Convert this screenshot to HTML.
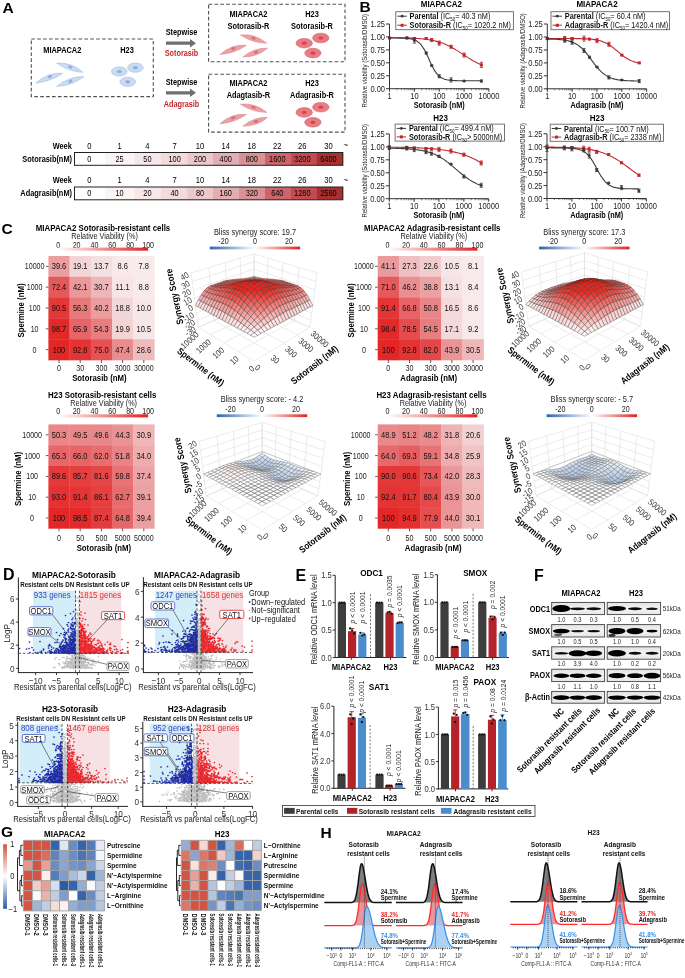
<!DOCTYPE html>
<html><head><meta charset="utf-8"><title>Figure</title>
<style>
html,body{margin:0;padding:0;background:#fff;}
body{width:685px;height:978px;overflow:hidden;}
svg{display:block;will-change:transform;font-family:"Liberation Sans", sans-serif;}
</style></head><body>
<svg width="685" height="978" viewBox="0 0 685 978">
<g id="panelA">
<text y="5.4" font-size="15.5" font-weight="bold" transform="translate(2.4 7.6)">A</text>
<rect x="31.3" y="39" width="122" height="57.6" fill="none" stroke="#505050" stroke-width="1.1" stroke-dasharray="3.6 2.3"/>
<rect x="208.6" y="4.3" width="136.4" height="57.5" fill="none" stroke="#505050" stroke-width="1.1" stroke-dasharray="3.6 2.3"/>
<rect x="208.6" y="74.3" width="136.4" height="57.8" fill="none" stroke="#505050" stroke-width="1.1" stroke-dasharray="3.6 2.3"/>
<text y="3" font-size="8.58" text-anchor="middle" font-weight="bold" transform="translate(62.3 50.3) scale(0.862 1)">MIAPACA2</text>
<text y="3" font-size="8.58" text-anchor="middle" font-weight="bold" transform="translate(127 50.3) scale(0.862 1)">H23</text>
<path d="M35.8 83Q51.5 81.3 62.6 73.3Q48.1 71.9 35.8 83Z" fill="#c9dcf1" stroke="#9dbbe0" stroke-width="0.6"/><ellipse cx="49.8" cy="76.6" rx="2.2" ry="1.4" fill="#8eb0da" transform="rotate(-19.9 49.8 76.6)"/>
<path d="M56.7 63.1Q68.6 71.7 83 72.3Q72 62.3 56.7 63.1Z" fill="#c9dcf1" stroke="#9dbbe0" stroke-width="0.6"/><ellipse cx="70.3" cy="67" rx="2.2" ry="1.4" fill="#8eb0da" transform="rotate(19.3 70.3 67)"/>
<path d="M56.7 86.4Q72 85.9 83.8 76.6Q68.6 76.5 56.7 86.4Z" fill="#c9dcf1" stroke="#9dbbe0" stroke-width="0.6"/><ellipse cx="70.3" cy="81.2" rx="2.2" ry="1.4" fill="#8eb0da" transform="rotate(-19.9 70.3 81.2)"/>
<ellipse cx="119.3" cy="71.5" rx="7.8" ry="4.6" fill="#c9dcf1" stroke="#9dbbe0" stroke-width="0.6"/><ellipse cx="119.3" cy="71.5" rx="2.6" ry="1.6" fill="#8eb0da"/>
<ellipse cx="135.4" cy="67.7" rx="7.8" ry="4.6" fill="#c9dcf1" stroke="#9dbbe0" stroke-width="0.6"/><ellipse cx="135.4" cy="67.7" rx="2.6" ry="1.6" fill="#8eb0da"/>
<ellipse cx="127.7" cy="81.8" rx="7.8" ry="4.6" fill="#c9dcf1" stroke="#9dbbe0" stroke-width="0.6"/><ellipse cx="127.7" cy="81.8" rx="2.6" ry="1.6" fill="#8eb0da"/>
<path d="M220 54.6Q234.9 53.3 246.4 45.3Q231.5 43.9 220 54.6Z" fill="#eaa0a4" stroke="#dc8a8f" stroke-width="0.6"/><ellipse cx="233.2" cy="48.6" rx="2.2" ry="1.4" fill="#dc6f76" transform="rotate(-19.4 233.2 48.6)"/>
<path d="M240.5 35Q252.1 43 266.8 43.2Q255.1 33.4 240.5 35Z" fill="#eaa0a4" stroke="#dc8a8f" stroke-width="0.6"/><ellipse cx="253.6" cy="38.2" rx="2.2" ry="1.4" fill="#dc6f76" transform="rotate(17.3 253.6 38.2)"/>
<path d="M242.8 57Q257.7 56.9 267.4 48.2Q254.3 47.5 242.8 57Z" fill="#eaa0a4" stroke="#dc8a8f" stroke-width="0.6"/><ellipse cx="256" cy="52.2" rx="2.2" ry="1.4" fill="#dc6f76" transform="rotate(-19.7 256 52.2)"/>
<ellipse cx="304.2" cy="43.2" rx="8.2" ry="4.8" fill="#e77c82" stroke="#d8646b" stroke-width="0.6"/><ellipse cx="304.2" cy="43.2" rx="2.6" ry="1.6" fill="#d2474f"/>
<ellipse cx="320.8" cy="38" rx="8.2" ry="4.8" fill="#e77c82" stroke="#d8646b" stroke-width="0.6"/><ellipse cx="320.8" cy="38" rx="2.6" ry="1.6" fill="#d2474f"/>
<ellipse cx="312.9" cy="53.1" rx="8.2" ry="4.8" fill="#e77c82" stroke="#d8646b" stroke-width="0.6"/><ellipse cx="312.9" cy="53.1" rx="2.6" ry="1.6" fill="#d2474f"/>
<path d="M220 123.8Q234.9 122.5 246.4 114.5Q231.5 113.1 220 123.8Z" fill="#eaa0a4" stroke="#dc8a8f" stroke-width="0.6"/><ellipse cx="233.2" cy="117.8" rx="2.2" ry="1.4" fill="#dc6f76" transform="rotate(-19.4 233.2 117.8)"/>
<path d="M240.5 104.2Q252.1 112.2 266.8 112.4Q255.1 102.6 240.5 104.2Z" fill="#eaa0a4" stroke="#dc8a8f" stroke-width="0.6"/><ellipse cx="253.6" cy="107.4" rx="2.2" ry="1.4" fill="#dc6f76" transform="rotate(17.3 253.6 107.4)"/>
<path d="M242.8 126.2Q257.7 126.1 267.4 117.4Q254.3 116.7 242.8 126.2Z" fill="#eaa0a4" stroke="#dc8a8f" stroke-width="0.6"/><ellipse cx="256" cy="121.4" rx="2.2" ry="1.4" fill="#dc6f76" transform="rotate(-19.7 256 121.4)"/>
<ellipse cx="304.2" cy="112.4" rx="8.2" ry="4.8" fill="#e77c82" stroke="#d8646b" stroke-width="0.6"/><ellipse cx="304.2" cy="112.4" rx="2.6" ry="1.6" fill="#d2474f"/>
<ellipse cx="320.8" cy="107.2" rx="8.2" ry="4.8" fill="#e77c82" stroke="#d8646b" stroke-width="0.6"/><ellipse cx="320.8" cy="107.2" rx="2.6" ry="1.6" fill="#d2474f"/>
<ellipse cx="312.9" cy="122.3" rx="8.2" ry="4.8" fill="#e77c82" stroke="#d8646b" stroke-width="0.6"/><ellipse cx="312.9" cy="122.3" rx="2.6" ry="1.6" fill="#d2474f"/>
<text y="3" font-size="8.58" text-anchor="middle" font-weight="bold" transform="translate(248.4 14) scale(0.862 1)">MIAPACA2</text>
<text y="3" font-size="8.58" text-anchor="middle" font-weight="bold" transform="translate(248.4 25.7) scale(0.862 1)">Sotorasib-R</text>
<text y="3" font-size="8.58" text-anchor="middle" font-weight="bold" transform="translate(312 14) scale(0.862 1)">H23</text>
<text y="3" font-size="8.58" text-anchor="middle" font-weight="bold" transform="translate(312 25.7) scale(0.862 1)">Sotorasib-R</text>
<text y="3" font-size="8.58" text-anchor="middle" font-weight="bold" transform="translate(248.4 82.8) scale(0.862 1)">MIAPACA2</text>
<text y="3" font-size="8.58" text-anchor="middle" font-weight="bold" transform="translate(248.4 94.5) scale(0.862 1)">Adagtasib-R</text>
<text y="3" font-size="8.58" text-anchor="middle" font-weight="bold" transform="translate(312 82.8) scale(0.862 1)">H23</text>
<text y="3" font-size="8.58" text-anchor="middle" font-weight="bold" transform="translate(312 94.5) scale(0.862 1)">Adagrasib-R</text>
<text y="3" font-size="8.47" text-anchor="middle" font-weight="bold" transform="translate(181.5 32) scale(0.862 1)">Stepwise</text>
<path d="M166 41.6H190V39L196 43.2L190 47.4V44.8H166Z" fill="#707070"/>
<text y="3" font-size="8.47" text-anchor="middle" font-weight="bold" fill="#c0272d" transform="translate(181.5 53.4) scale(0.862 1)">Sotorasib</text>
<text y="3" font-size="8.47" text-anchor="middle" font-weight="bold" transform="translate(181.5 81.8) scale(0.862 1)">Stepwise</text>
<path d="M166 91.2H190V88.6L196 92.8L190 97V94.4H166Z" fill="#707070"/>
<text y="3" font-size="8.47" text-anchor="middle" font-weight="bold" fill="#c0272d" transform="translate(181.5 103.6) scale(0.862 1)">Adagrasib</text>
<text y="3" font-size="8.58" text-anchor="end" font-weight="bold" transform="translate(71.8 145.6) scale(0.862 1)">Week</text>
<text y="3.1" font-size="8.82" text-anchor="middle" transform="translate(89.4 145.6) scale(0.862 1)">0</text>
<text y="3.1" font-size="8.82" text-anchor="middle" transform="translate(119.6 145.6) scale(0.862 1)">1</text>
<text y="3.1" font-size="8.82" text-anchor="middle" transform="translate(147.4 145.6) scale(0.862 1)">4</text>
<text y="3.1" font-size="8.82" text-anchor="middle" transform="translate(174.6 145.6) scale(0.862 1)">7</text>
<text y="3.1" font-size="8.82" text-anchor="middle" transform="translate(200 145.6) scale(0.862 1)">10</text>
<text y="3.1" font-size="8.82" text-anchor="middle" transform="translate(225.7 145.6) scale(0.862 1)">14</text>
<text y="3.1" font-size="8.82" text-anchor="middle" transform="translate(251.8 145.6) scale(0.862 1)">18</text>
<text y="3.1" font-size="8.82" text-anchor="middle" transform="translate(277.3 145.6) scale(0.862 1)">22</text>
<text y="3.1" font-size="8.82" text-anchor="middle" transform="translate(302.3 145.6) scale(0.862 1)">26</text>
<text y="3.1" font-size="8.82" text-anchor="middle" transform="translate(328.4 145.6) scale(0.862 1)">30</text>
<text y="3.1" font-size="8.82" transform="translate(343.5 144.8) scale(0.862 1)">~</text>
<rect x="74.5" y="152.5" width="30.8" height="12.8" fill="#ffffff"/>
<rect x="105" y="152.5" width="29.8" height="12.8" fill="#fcf3f3"/>
<rect x="134.5" y="152.5" width="26.8" height="12.8" fill="#f8e7e8"/>
<rect x="161" y="152.5" width="26.5" height="12.8" fill="#f3dadc"/>
<rect x="187.2" y="152.5" width="26.1" height="12.8" fill="#ecc8ca"/>
<rect x="213" y="152.5" width="26.3" height="12.8" fill="#e2aeb1"/>
<rect x="239" y="152.5" width="26.3" height="12.8" fill="#d89296"/>
<rect x="265" y="152.5" width="25.9" height="12.8" fill="#cc6469"/>
<rect x="290.6" y="152.5" width="26.3" height="12.8" fill="#c24b51"/>
<rect x="316.6" y="152.5" width="26.5" height="12.8" fill="#a8302f"/>
<rect x="74.5" y="152.5" width="268.3" height="12.8" fill="none" stroke="#222" stroke-width="1"/>
<text y="3" font-size="8.58" text-anchor="end" font-weight="bold" transform="translate(72 158.9) scale(0.862 1)">Sotorasib(nM)</text>
<text y="3" font-size="8.58" text-anchor="middle" transform="translate(89.4 158.9) scale(0.862 1)">0</text>
<text y="3" font-size="8.58" text-anchor="middle" transform="translate(119.6 158.9) scale(0.862 1)">25</text>
<text y="3" font-size="8.58" text-anchor="middle" transform="translate(147.4 158.9) scale(0.862 1)">50</text>
<text y="3" font-size="8.58" text-anchor="middle" transform="translate(174.6 158.9) scale(0.862 1)">100</text>
<text y="3" font-size="8.58" text-anchor="middle" transform="translate(200 158.9) scale(0.862 1)">200</text>
<text y="3" font-size="8.58" text-anchor="middle" transform="translate(225.7 158.9) scale(0.862 1)">400</text>
<text y="3" font-size="8.58" text-anchor="middle" transform="translate(251.8 158.9) scale(0.862 1)">800</text>
<text y="3" font-size="8.58" text-anchor="middle" transform="translate(277.3 158.9) scale(0.862 1)">1600</text>
<text y="3" font-size="8.58" text-anchor="middle" transform="translate(302.3 158.9) scale(0.862 1)">3200</text>
<text y="3" font-size="8.58" text-anchor="middle" transform="translate(328.4 158.9) scale(0.862 1)">6400</text>
<text y="3" font-size="8.58" text-anchor="end" font-weight="bold" transform="translate(71.8 180.2) scale(0.862 1)">Week</text>
<text y="3.1" font-size="8.82" text-anchor="middle" transform="translate(89.4 180.2) scale(0.862 1)">0</text>
<text y="3.1" font-size="8.82" text-anchor="middle" transform="translate(119.6 180.2) scale(0.862 1)">1</text>
<text y="3.1" font-size="8.82" text-anchor="middle" transform="translate(147.4 180.2) scale(0.862 1)">4</text>
<text y="3.1" font-size="8.82" text-anchor="middle" transform="translate(174.6 180.2) scale(0.862 1)">7</text>
<text y="3.1" font-size="8.82" text-anchor="middle" transform="translate(200 180.2) scale(0.862 1)">10</text>
<text y="3.1" font-size="8.82" text-anchor="middle" transform="translate(225.7 180.2) scale(0.862 1)">14</text>
<text y="3.1" font-size="8.82" text-anchor="middle" transform="translate(251.8 180.2) scale(0.862 1)">18</text>
<text y="3.1" font-size="8.82" text-anchor="middle" transform="translate(277.3 180.2) scale(0.862 1)">22</text>
<text y="3.1" font-size="8.82" text-anchor="middle" transform="translate(302.3 180.2) scale(0.862 1)">26</text>
<text y="3.1" font-size="8.82" text-anchor="middle" transform="translate(328.4 180.2) scale(0.862 1)">30</text>
<text y="3.1" font-size="8.82" transform="translate(343.5 179.4) scale(0.862 1)">~</text>
<rect x="74.5" y="187" width="30.8" height="12.8" fill="#ffffff"/>
<rect x="105" y="187" width="29.8" height="12.8" fill="#fcf3f3"/>
<rect x="134.5" y="187" width="26.8" height="12.8" fill="#f8e7e8"/>
<rect x="161" y="187" width="26.5" height="12.8" fill="#f3dadc"/>
<rect x="187.2" y="187" width="26.1" height="12.8" fill="#ecc8ca"/>
<rect x="213" y="187" width="26.3" height="12.8" fill="#e2aeb1"/>
<rect x="239" y="187" width="26.3" height="12.8" fill="#d89296"/>
<rect x="265" y="187" width="25.9" height="12.8" fill="#cc6469"/>
<rect x="290.6" y="187" width="26.3" height="12.8" fill="#c24b51"/>
<rect x="316.6" y="187" width="26.5" height="12.8" fill="#a8302f"/>
<rect x="74.5" y="187" width="268.3" height="12.8" fill="none" stroke="#222" stroke-width="1"/>
<text y="3" font-size="8.58" text-anchor="end" font-weight="bold" transform="translate(72 193.4) scale(0.862 1)">Adagrasib(nM)</text>
<text y="3" font-size="8.58" text-anchor="middle" transform="translate(89.4 193.4) scale(0.862 1)">0</text>
<text y="3" font-size="8.58" text-anchor="middle" transform="translate(119.6 193.4) scale(0.862 1)">10</text>
<text y="3" font-size="8.58" text-anchor="middle" transform="translate(147.4 193.4) scale(0.862 1)">20</text>
<text y="3" font-size="8.58" text-anchor="middle" transform="translate(174.6 193.4) scale(0.862 1)">40</text>
<text y="3" font-size="8.58" text-anchor="middle" transform="translate(200 193.4) scale(0.862 1)">80</text>
<text y="3" font-size="8.58" text-anchor="middle" transform="translate(225.7 193.4) scale(0.862 1)">160</text>
<text y="3" font-size="8.58" text-anchor="middle" transform="translate(251.8 193.4) scale(0.862 1)">320</text>
<text y="3" font-size="8.58" text-anchor="middle" transform="translate(277.3 193.4) scale(0.862 1)">640</text>
<text y="3" font-size="8.58" text-anchor="middle" transform="translate(302.3 193.4) scale(0.862 1)">1280</text>
<text y="3" font-size="8.58" text-anchor="middle" transform="translate(328.4 193.4) scale(0.862 1)">2560</text>
</g>
<g id="panelB">
<text y="5.4" font-size="15.5" font-weight="bold" transform="translate(359.6 6.5)">B</text>
<line x1="389.5" y1="24" x2="389.5" y2="89.2" stroke="#333" stroke-width="1"/>
<line x1="389" y1="88.7" x2="488.9" y2="88.7" stroke="#333" stroke-width="1"/>
<line x1="386" y1="88.7" x2="389.5" y2="88.7" stroke="#333" stroke-width="1"/>
<text y="3" font-size="8.7" text-anchor="end" fill="#222" transform="translate(385 88.7) scale(0.862 1)">0.00</text>
<line x1="386" y1="75.8" x2="389.5" y2="75.8" stroke="#333" stroke-width="1"/>
<text y="3" font-size="8.7" text-anchor="end" fill="#222" transform="translate(385 75.8) scale(0.862 1)">0.25</text>
<line x1="386" y1="62.8" x2="389.5" y2="62.8" stroke="#333" stroke-width="1"/>
<text y="3" font-size="8.7" text-anchor="end" fill="#222" transform="translate(385 62.8) scale(0.862 1)">0.50</text>
<line x1="386" y1="49.9" x2="389.5" y2="49.9" stroke="#333" stroke-width="1"/>
<text y="3" font-size="8.7" text-anchor="end" fill="#222" transform="translate(385 49.9) scale(0.862 1)">0.75</text>
<line x1="386" y1="36.9" x2="389.5" y2="36.9" stroke="#333" stroke-width="1"/>
<text y="3" font-size="8.7" text-anchor="end" fill="#222" transform="translate(385 36.9) scale(0.862 1)">1.00</text>
<line x1="386" y1="24" x2="389.5" y2="24" stroke="#333" stroke-width="1"/>
<text y="3" font-size="8.7" text-anchor="end" fill="#222" transform="translate(385 24) scale(0.862 1)">1.25</text>
<line x1="389.5" y1="88.7" x2="389.5" y2="91.7" stroke="#333" stroke-width="1"/>
<text y="3" font-size="8.7" text-anchor="middle" fill="#222" transform="translate(389.5 95.9) scale(0.862 1)">1</text>
<line x1="397" y1="88.7" x2="397" y2="90.3" stroke="#333" stroke-width="0.6"/>
<line x1="401.4" y1="88.7" x2="401.4" y2="90.3" stroke="#333" stroke-width="0.6"/>
<line x1="404.5" y1="88.7" x2="404.5" y2="90.3" stroke="#333" stroke-width="0.6"/>
<line x1="406.9" y1="88.7" x2="406.9" y2="90.3" stroke="#333" stroke-width="0.6"/>
<line x1="408.8" y1="88.7" x2="408.8" y2="90.3" stroke="#333" stroke-width="0.6"/>
<line x1="410.5" y1="88.7" x2="410.5" y2="90.3" stroke="#333" stroke-width="0.6"/>
<line x1="411.9" y1="88.7" x2="411.9" y2="90.3" stroke="#333" stroke-width="0.6"/>
<line x1="413.2" y1="88.7" x2="413.2" y2="90.3" stroke="#333" stroke-width="0.6"/>
<line x1="414.4" y1="88.7" x2="414.4" y2="91.7" stroke="#333" stroke-width="1"/>
<text y="3" font-size="8.7" text-anchor="middle" fill="#222" transform="translate(414.4 95.9) scale(0.862 1)">10</text>
<line x1="421.8" y1="88.7" x2="421.8" y2="90.3" stroke="#333" stroke-width="0.6"/>
<line x1="426.2" y1="88.7" x2="426.2" y2="90.3" stroke="#333" stroke-width="0.6"/>
<line x1="429.3" y1="88.7" x2="429.3" y2="90.3" stroke="#333" stroke-width="0.6"/>
<line x1="431.7" y1="88.7" x2="431.7" y2="90.3" stroke="#333" stroke-width="0.6"/>
<line x1="433.7" y1="88.7" x2="433.7" y2="90.3" stroke="#333" stroke-width="0.6"/>
<line x1="435.4" y1="88.7" x2="435.4" y2="90.3" stroke="#333" stroke-width="0.6"/>
<line x1="436.8" y1="88.7" x2="436.8" y2="90.3" stroke="#333" stroke-width="0.6"/>
<line x1="438.1" y1="88.7" x2="438.1" y2="90.3" stroke="#333" stroke-width="0.6"/>
<line x1="439.2" y1="88.7" x2="439.2" y2="91.7" stroke="#333" stroke-width="1"/>
<text y="3" font-size="8.7" text-anchor="middle" fill="#222" transform="translate(439.2 95.9) scale(0.862 1)">100</text>
<line x1="446.7" y1="88.7" x2="446.7" y2="90.3" stroke="#333" stroke-width="0.6"/>
<line x1="451.1" y1="88.7" x2="451.1" y2="90.3" stroke="#333" stroke-width="0.6"/>
<line x1="454.2" y1="88.7" x2="454.2" y2="90.3" stroke="#333" stroke-width="0.6"/>
<line x1="456.6" y1="88.7" x2="456.6" y2="90.3" stroke="#333" stroke-width="0.6"/>
<line x1="458.5" y1="88.7" x2="458.5" y2="90.3" stroke="#333" stroke-width="0.6"/>
<line x1="460.2" y1="88.7" x2="460.2" y2="90.3" stroke="#333" stroke-width="0.6"/>
<line x1="461.6" y1="88.7" x2="461.6" y2="90.3" stroke="#333" stroke-width="0.6"/>
<line x1="462.9" y1="88.7" x2="462.9" y2="90.3" stroke="#333" stroke-width="0.6"/>
<line x1="464.1" y1="88.7" x2="464.1" y2="91.7" stroke="#333" stroke-width="1"/>
<text y="3" font-size="8.7" text-anchor="middle" fill="#222" transform="translate(464.1 95.9) scale(0.862 1)">1000</text>
<line x1="471.5" y1="88.7" x2="471.5" y2="90.3" stroke="#333" stroke-width="0.6"/>
<line x1="475.9" y1="88.7" x2="475.9" y2="90.3" stroke="#333" stroke-width="0.6"/>
<line x1="479" y1="88.7" x2="479" y2="90.3" stroke="#333" stroke-width="0.6"/>
<line x1="481.4" y1="88.7" x2="481.4" y2="90.3" stroke="#333" stroke-width="0.6"/>
<line x1="483.4" y1="88.7" x2="483.4" y2="90.3" stroke="#333" stroke-width="0.6"/>
<line x1="485.1" y1="88.7" x2="485.1" y2="90.3" stroke="#333" stroke-width="0.6"/>
<line x1="486.5" y1="88.7" x2="486.5" y2="90.3" stroke="#333" stroke-width="0.6"/>
<line x1="487.8" y1="88.7" x2="487.8" y2="90.3" stroke="#333" stroke-width="0.6"/>
<line x1="488.9" y1="88.7" x2="488.9" y2="91.7" stroke="#333" stroke-width="1"/>
<text y="3" font-size="8.7" text-anchor="middle" fill="#222" transform="translate(488.9 95.9) scale(0.862 1)">10000</text>
<text y="3" font-size="8.47" text-anchor="middle" font-weight="bold" transform="translate(439.2 104.7) scale(0.862 1)">Sotorasib (nM)</text>
<text y="3.2" font-size="9.28" text-anchor="middle" font-weight="bold" transform="translate(441.3 4.2) scale(0.862 1)">MIAPACA2</text>
<text y="2.4" font-size="6.96" text-anchor="middle" fill="#222" transform="translate(364.6 60.7) rotate(-90) scale(0.862 1)">Relative viability (Sotorasib/DMSO)</text>
<path d="M389.5 37.6L390.6 37.6L391.8 37.7L392.9 37.7L394.1 37.7L395.2 37.7L396.4 37.7L397.5 37.7L398.7 37.8L399.8 37.8L401 37.8L402.1 37.8L403.3 37.8L404.4 37.9L405.6 37.9L406.7 37.9L407.9 38L409 38L410.2 38.1L411.3 38.1L412.5 38.2L413.6 38.2L414.8 38.3L415.9 38.4L417.1 38.5L418.2 38.5L419.4 38.6L420.5 38.7L421.7 38.8L422.8 39L424 39.1L425.1 39.2L426.3 39.4L427.4 39.5L428.6 39.7L429.7 39.9L430.9 40.1L432 40.3L433.2 40.5L434.3 40.8L435.5 41.1L436.6 41.4L437.8 41.7L438.9 42L440.1 42.4L441.2 42.7L442.4 43.1L443.5 43.6L444.7 44L445.8 44.5L446.9 45L448.1 45.5L449.2 46.1L450.4 46.7L451.5 47.3L452.7 47.9L453.8 48.6L455 49.2L456.1 49.9L457.3 50.6L458.4 51.4L459.6 52.1L460.7 52.9L461.9 53.6L463 54.4L464.2 55.1L465.3 55.9L466.5 56.6L467.6 57.4L468.8 58.1L469.9 58.8L471.1 59.5L472.2 60.2L473.4 60.9L474.5 61.5L475.7 62.1L476.8 62.7L478 63.3L479.1 63.8L480.3 64.4L481.4 64.9" fill="none" stroke="#c0272d" stroke-width="1.1"/>
<path d="M389.5 38L390.6 38L391.8 38L392.9 38L394.1 38L395.2 38L396.4 38L397.5 38L398.7 38.1L399.8 38.1L401 38.1L402.1 38.1L403.3 38.2L404.4 38.2L405.6 38.3L406.7 38.4L407.9 38.5L409 38.6L410.2 38.8L411.3 39L412.5 39.3L413.6 39.7L414.8 40.1L415.9 40.6L417.1 41.3L418.2 42.1L419.4 43L420.5 44.2L421.7 45.6L422.8 47.2L424 49.1L425.1 51.1L426.3 53.4L427.4 55.8L428.6 58.3L429.7 60.9L430.9 63.4L432 65.8L433.2 68L434.3 70.1L435.5 71.9L436.6 73.4L437.8 74.8L438.9 75.9L440.1 76.9L441.2 77.6L442.4 78.3L443.5 78.8L444.7 79.2L445.8 79.5L446.9 79.8L448.1 80L449.2 80.1L450.4 80.3L451.5 80.4L452.7 80.5L453.8 80.5L455 80.6L456.1 80.6L457.3 80.7L458.4 80.7L459.6 80.7L460.7 80.7L461.9 80.7L463 80.7L464.2 80.7L465.3 80.8L466.5 80.8L467.6 80.8L468.8 80.8L469.9 80.8L471.1 80.8L472.2 80.8L473.4 80.8L474.5 80.8L475.7 80.8L476.8 80.8L478 80.8L479.1 80.8L480.3 80.8L481.4 80.8" fill="none" stroke="#3a3a3a" stroke-width="1.1"/>
<rect x="388" y="36.4" width="3" height="3" fill="#c0272d"/>
<path d="M406.9 37.4V38.5M405.3 37.4H408.5M405.3 38.5H408.5" fill="none" stroke="#c0272d" stroke-width="0.8"/>
<rect x="405.4" y="36.4" width="3" height="3" fill="#c0272d"/>
<path d="M414.4 37.9V39M412.8 37.9H416M412.8 39H416" fill="none" stroke="#c0272d" stroke-width="0.8"/>
<rect x="412.9" y="37" width="3" height="3" fill="#c0272d"/>
<path d="M426.2 37.9V39M424.6 37.9H427.8M424.6 39H427.8" fill="none" stroke="#c0272d" stroke-width="0.8"/>
<rect x="424.7" y="37" width="3" height="3" fill="#c0272d"/>
<path d="M431.7 38.5V41.6M430.1 38.5H433.3M430.1 41.6H433.3" fill="none" stroke="#c0272d" stroke-width="0.8"/>
<rect x="430.2" y="38.5" width="3" height="3" fill="#c0272d"/>
<path d="M439.2 41V45.2M437.6 41H440.8M437.6 45.2H440.8" fill="none" stroke="#c0272d" stroke-width="0.8"/>
<rect x="437.7" y="41.6" width="3" height="3" fill="#c0272d"/>
<path d="M451.1 45.2V48.3M449.5 45.2H452.7M449.5 48.3H452.7" fill="none" stroke="#c0272d" stroke-width="0.8"/>
<rect x="449.6" y="45.2" width="3" height="3" fill="#c0272d"/>
<path d="M464.1 53V57.1M462.4 53H465.7M462.4 57.1H465.7" fill="none" stroke="#c0272d" stroke-width="0.8"/>
<rect x="462.6" y="53.5" width="3" height="3" fill="#c0272d"/>
<path d="M481.4 62.3V67.5M479.8 62.3H483M479.8 67.5H483" fill="none" stroke="#c0272d" stroke-width="0.8"/>
<rect x="479.9" y="63.4" width="3" height="3" fill="#c0272d"/>
<circle cx="389.5" cy="37.9" r="1.5" fill="#3a3a3a"/>
<path d="M406.9 37.4V38.5M405.3 37.4H408.5M405.3 38.5H408.5" fill="none" stroke="#3a3a3a" stroke-width="0.8"/>
<circle cx="406.9" cy="37.9" r="1.5" fill="#3a3a3a"/>
<path d="M414.4 37.9V43.1M412.8 37.9H416M412.8 43.1H416" fill="none" stroke="#3a3a3a" stroke-width="0.8"/>
<circle cx="414.4" cy="40.5" r="1.5" fill="#3a3a3a"/>
<path d="M426.2 51.9V54M424.6 51.9H427.8M424.6 54H427.8" fill="none" stroke="#3a3a3a" stroke-width="0.8"/>
<circle cx="426.2" cy="53" r="1.5" fill="#3a3a3a"/>
<path d="M431.7 64.9V65.9M430.1 64.9H433.3M430.1 65.9H433.3" fill="none" stroke="#3a3a3a" stroke-width="0.8"/>
<circle cx="431.7" cy="65.4" r="1.5" fill="#3a3a3a"/>
<path d="M439.2 74.7V77.8M437.6 74.7H440.8M437.6 77.8H440.8" fill="none" stroke="#3a3a3a" stroke-width="0.8"/>
<circle cx="439.2" cy="76.3" r="1.5" fill="#3a3a3a"/>
<path d="M451.1 77.8V82M449.5 77.8H452.7M449.5 82H452.7" fill="none" stroke="#3a3a3a" stroke-width="0.8"/>
<circle cx="451.1" cy="79.9" r="1.5" fill="#3a3a3a"/>
<path d="M464.1 80.4V81.4M462.4 80.4H465.7M462.4 81.4H465.7" fill="none" stroke="#3a3a3a" stroke-width="0.8"/>
<circle cx="464.1" cy="80.9" r="1.5" fill="#3a3a3a"/>
<path d="M481.4 79.9V82M479.8 79.9H483M479.8 82H483" fill="none" stroke="#3a3a3a" stroke-width="0.8"/>
<circle cx="481.4" cy="80.9" r="1.5" fill="#3a3a3a"/>
<rect x="395.8" y="11.7" width="117.6" height="18" fill="#fff" stroke="#666" stroke-width="0.9"/>
<line x1="397.3" y1="16.2" x2="406.8" y2="16.2" stroke="#3a3a3a" stroke-width="1"/>
<circle cx="402.1" cy="16.2" r="1.4" fill="#3a3a3a"/>
<text y="3" font-size="8.5" fill="#111" transform="translate(409.6 16.2) scale(0.862 1)"><tspan font-weight="bold">Parental</tspan> (IC<tspan font-size="5.1" dy="1.8">50</tspan><tspan dy="-1.8">= 40.3 nM)</tspan></text>
<line x1="397.3" y1="25.2" x2="406.8" y2="25.2" stroke="#c0272d" stroke-width="1"/>
<rect x="400.6" y="23.8" width="3" height="3" fill="#c0272d"/>
<text y="3" font-size="8.5" fill="#111" transform="translate(409.6 25.2) scale(0.862 1)"><tspan font-weight="bold">Sotorasib-R</tspan> (IC<tspan font-size="5.1" dy="1.8">50</tspan><tspan dy="-1.8">= 1020.2 nM)</tspan></text>
<line x1="547.3" y1="24" x2="547.3" y2="89.3" stroke="#333" stroke-width="1"/>
<line x1="546.8" y1="88.8" x2="646.7" y2="88.8" stroke="#333" stroke-width="1"/>
<line x1="543.8" y1="88.8" x2="547.3" y2="88.8" stroke="#333" stroke-width="1"/>
<text y="3" font-size="8.7" text-anchor="end" fill="#222" transform="translate(542.8 88.8) scale(0.862 1)">0.00</text>
<line x1="543.8" y1="75.8" x2="547.3" y2="75.8" stroke="#333" stroke-width="1"/>
<text y="3" font-size="8.7" text-anchor="end" fill="#222" transform="translate(542.8 75.8) scale(0.862 1)">0.25</text>
<line x1="543.8" y1="62.9" x2="547.3" y2="62.9" stroke="#333" stroke-width="1"/>
<text y="3" font-size="8.7" text-anchor="end" fill="#222" transform="translate(542.8 62.9) scale(0.862 1)">0.50</text>
<line x1="543.8" y1="50" x2="547.3" y2="50" stroke="#333" stroke-width="1"/>
<text y="3" font-size="8.7" text-anchor="end" fill="#222" transform="translate(542.8 50) scale(0.862 1)">0.75</text>
<line x1="543.8" y1="37" x2="547.3" y2="37" stroke="#333" stroke-width="1"/>
<text y="3" font-size="8.7" text-anchor="end" fill="#222" transform="translate(542.8 37) scale(0.862 1)">1.00</text>
<line x1="543.8" y1="24" x2="547.3" y2="24" stroke="#333" stroke-width="1"/>
<text y="3" font-size="8.7" text-anchor="end" fill="#222" transform="translate(542.8 24) scale(0.862 1)">1.25</text>
<line x1="547.3" y1="88.8" x2="547.3" y2="91.8" stroke="#333" stroke-width="1"/>
<text y="3" font-size="8.7" text-anchor="middle" fill="#222" transform="translate(547.3 96) scale(0.862 1)">1</text>
<line x1="554.8" y1="88.8" x2="554.8" y2="90.4" stroke="#333" stroke-width="0.6"/>
<line x1="559.2" y1="88.8" x2="559.2" y2="90.4" stroke="#333" stroke-width="0.6"/>
<line x1="562.3" y1="88.8" x2="562.3" y2="90.4" stroke="#333" stroke-width="0.6"/>
<line x1="564.7" y1="88.8" x2="564.7" y2="90.4" stroke="#333" stroke-width="0.6"/>
<line x1="566.6" y1="88.8" x2="566.6" y2="90.4" stroke="#333" stroke-width="0.6"/>
<line x1="568.3" y1="88.8" x2="568.3" y2="90.4" stroke="#333" stroke-width="0.6"/>
<line x1="569.7" y1="88.8" x2="569.7" y2="90.4" stroke="#333" stroke-width="0.6"/>
<line x1="571" y1="88.8" x2="571" y2="90.4" stroke="#333" stroke-width="0.6"/>
<line x1="572.1" y1="88.8" x2="572.1" y2="91.8" stroke="#333" stroke-width="1"/>
<text y="3" font-size="8.7" text-anchor="middle" fill="#222" transform="translate(572.1 96) scale(0.862 1)">10</text>
<line x1="579.6" y1="88.8" x2="579.6" y2="90.4" stroke="#333" stroke-width="0.6"/>
<line x1="584" y1="88.8" x2="584" y2="90.4" stroke="#333" stroke-width="0.6"/>
<line x1="587.1" y1="88.8" x2="587.1" y2="90.4" stroke="#333" stroke-width="0.6"/>
<line x1="589.5" y1="88.8" x2="589.5" y2="90.4" stroke="#333" stroke-width="0.6"/>
<line x1="591.5" y1="88.8" x2="591.5" y2="90.4" stroke="#333" stroke-width="0.6"/>
<line x1="593.2" y1="88.8" x2="593.2" y2="90.4" stroke="#333" stroke-width="0.6"/>
<line x1="594.6" y1="88.8" x2="594.6" y2="90.4" stroke="#333" stroke-width="0.6"/>
<line x1="595.9" y1="88.8" x2="595.9" y2="90.4" stroke="#333" stroke-width="0.6"/>
<line x1="597" y1="88.8" x2="597" y2="91.8" stroke="#333" stroke-width="1"/>
<text y="3" font-size="8.7" text-anchor="middle" fill="#222" transform="translate(597 96) scale(0.862 1)">100</text>
<line x1="604.5" y1="88.8" x2="604.5" y2="90.4" stroke="#333" stroke-width="0.6"/>
<line x1="608.9" y1="88.8" x2="608.9" y2="90.4" stroke="#333" stroke-width="0.6"/>
<line x1="612" y1="88.8" x2="612" y2="90.4" stroke="#333" stroke-width="0.6"/>
<line x1="614.4" y1="88.8" x2="614.4" y2="90.4" stroke="#333" stroke-width="0.6"/>
<line x1="616.3" y1="88.8" x2="616.3" y2="90.4" stroke="#333" stroke-width="0.6"/>
<line x1="618" y1="88.8" x2="618" y2="90.4" stroke="#333" stroke-width="0.6"/>
<line x1="619.4" y1="88.8" x2="619.4" y2="90.4" stroke="#333" stroke-width="0.6"/>
<line x1="620.7" y1="88.8" x2="620.7" y2="90.4" stroke="#333" stroke-width="0.6"/>
<line x1="621.8" y1="88.8" x2="621.8" y2="91.8" stroke="#333" stroke-width="1"/>
<text y="3" font-size="8.7" text-anchor="middle" fill="#222" transform="translate(621.8 96) scale(0.862 1)">1000</text>
<line x1="629.3" y1="88.8" x2="629.3" y2="90.4" stroke="#333" stroke-width="0.6"/>
<line x1="633.7" y1="88.8" x2="633.7" y2="90.4" stroke="#333" stroke-width="0.6"/>
<line x1="636.8" y1="88.8" x2="636.8" y2="90.4" stroke="#333" stroke-width="0.6"/>
<line x1="639.2" y1="88.8" x2="639.2" y2="90.4" stroke="#333" stroke-width="0.6"/>
<line x1="641.2" y1="88.8" x2="641.2" y2="90.4" stroke="#333" stroke-width="0.6"/>
<line x1="642.9" y1="88.8" x2="642.9" y2="90.4" stroke="#333" stroke-width="0.6"/>
<line x1="644.3" y1="88.8" x2="644.3" y2="90.4" stroke="#333" stroke-width="0.6"/>
<line x1="645.6" y1="88.8" x2="645.6" y2="90.4" stroke="#333" stroke-width="0.6"/>
<line x1="646.7" y1="88.8" x2="646.7" y2="91.8" stroke="#333" stroke-width="1"/>
<text y="3" font-size="8.7" text-anchor="middle" fill="#222" transform="translate(646.7 96) scale(0.862 1)">10000</text>
<text y="3" font-size="8.47" text-anchor="middle" font-weight="bold" transform="translate(597 104.8) scale(0.862 1)">Adagrasib (nM)</text>
<text y="3.2" font-size="9.28" text-anchor="middle" font-weight="bold" transform="translate(597 4.2) scale(0.862 1)">MIAPACA2</text>
<text y="2.4" font-size="6.96" text-anchor="middle" fill="#222" transform="translate(522.4 60.8) rotate(-90) scale(0.862 1)">Relative viability (Adagrasib/DMSO)</text>
<path d="M547.3 38.5L548.4 38.5L549.6 38.5L550.7 38.5L551.9 38.5L553 38.5L554.2 38.5L555.3 38.5L556.5 38.5L557.6 38.5L558.8 38.5L559.9 38.5L561.1 38.5L562.2 38.5L563.4 38.5L564.5 38.5L565.7 38.5L566.8 38.5L568 38.5L569.1 38.5L570.3 38.5L571.4 38.5L572.6 38.5L573.7 38.5L574.9 38.5L576 38.6L577.2 38.6L578.3 38.6L579.5 38.6L580.6 38.6L581.8 38.7L582.9 38.7L584.1 38.7L585.2 38.8L586.4 38.9L587.5 38.9L588.7 39L589.8 39.1L591 39.2L592.1 39.3L593.3 39.4L594.4 39.6L595.6 39.8L596.7 40L597.9 40.2L599 40.5L600.2 40.8L601.3 41.1L602.5 41.5L603.6 41.9L604.7 42.4L605.9 43L607 43.6L608.2 44.2L609.3 44.9L610.5 45.7L611.6 46.5L612.8 47.4L613.9 48.3L615.1 49.3L616.2 50.2L617.4 51.2L618.5 52.2L619.7 53.2L620.8 54.2L622 55.1L623.1 56L624.3 56.8L625.4 57.6L626.6 58.3L627.7 59L628.9 59.6L630 60.2L631.2 60.7L632.3 61.1L633.5 61.5L634.6 61.9L635.8 62.2L636.9 62.5L638.1 62.7L639.2 62.9" fill="none" stroke="#c0272d" stroke-width="1.1"/>
<path d="M547.3 39L548.4 39L549.6 39.1L550.7 39.1L551.9 39.1L553 39.2L554.2 39.2L555.3 39.3L556.5 39.3L557.6 39.4L558.8 39.5L559.9 39.6L561.1 39.7L562.2 39.8L563.4 40L564.5 40.1L565.7 40.3L566.8 40.6L568 40.8L569.1 41.1L570.3 41.4L571.4 41.8L572.6 42.3L573.7 42.8L574.9 43.3L576 43.9L577.2 44.6L578.3 45.4L579.5 46.3L580.6 47.2L581.8 48.2L582.9 49.4L584.1 50.6L585.2 51.9L586.4 53.2L587.5 54.7L588.7 56.2L589.8 57.7L591 59.2L592.1 60.8L593.3 62.3L594.4 63.9L595.6 65.4L596.7 66.8L597.9 68.2L599 69.4L600.2 70.7L601.3 71.8L602.5 72.8L603.6 73.8L604.7 74.6L605.9 75.4L607 76.1L608.2 76.7L609.3 77.3L610.5 77.7L611.6 78.2L612.8 78.6L613.9 78.9L615.1 79.2L616.2 79.4L617.4 79.7L618.5 79.9L619.7 80L620.8 80.2L622 80.3L623.1 80.4L624.3 80.5L625.4 80.6L626.6 80.7L627.7 80.7L628.9 80.8L630 80.8L631.2 80.9L632.3 80.9L633.5 80.9L634.6 81L635.8 81L636.9 81L638.1 81L639.2 81" fill="none" stroke="#3a3a3a" stroke-width="1.1"/>
<rect x="545.8" y="37.1" width="3" height="3" fill="#c0272d"/>
<path d="M564.7 36.5V39.6M563.1 36.5H566.3M563.1 39.6H566.3" fill="none" stroke="#c0272d" stroke-width="0.8"/>
<rect x="563.2" y="36.5" width="3" height="3" fill="#c0272d"/>
<path d="M572.1 37.5V39.6M570.5 37.5H573.8M570.5 39.6H573.8" fill="none" stroke="#c0272d" stroke-width="0.8"/>
<rect x="570.6" y="37.1" width="3" height="3" fill="#c0272d"/>
<path d="M584 36V41.1M582.4 36H585.6M582.4 41.1H585.6" fill="none" stroke="#c0272d" stroke-width="0.8"/>
<rect x="582.5" y="37.1" width="3" height="3" fill="#c0272d"/>
<path d="M589.5 38.6V39.6M587.9 38.6H591.1M587.9 39.6H591.1" fill="none" stroke="#c0272d" stroke-width="0.8"/>
<rect x="588" y="37.6" width="3" height="3" fill="#c0272d"/>
<path d="M597 38.6V42.7M595.4 38.6H598.6M595.4 42.7H598.6" fill="none" stroke="#c0272d" stroke-width="0.8"/>
<rect x="595.5" y="39.1" width="3" height="3" fill="#c0272d"/>
<path d="M608.9 42.2V46.3M607.3 42.2H610.5M607.3 46.3H610.5" fill="none" stroke="#c0272d" stroke-width="0.8"/>
<rect x="607.4" y="42.8" width="3" height="3" fill="#c0272d"/>
<path d="M621.8 54.6V55.6M620.2 54.6H623.4M620.2 55.6H623.4" fill="none" stroke="#c0272d" stroke-width="0.8"/>
<rect x="620.3" y="53.6" width="3" height="3" fill="#c0272d"/>
<path d="M639.2 62.4V63.4M637.6 62.4H640.8M637.6 63.4H640.8" fill="none" stroke="#c0272d" stroke-width="0.8"/>
<rect x="637.7" y="61.4" width="3" height="3" fill="#c0272d"/>
<path d="M547.3 37.5V39.6M545.7 37.5H548.9M545.7 39.6H548.9" fill="none" stroke="#3a3a3a" stroke-width="0.8"/>
<circle cx="547.3" cy="38.6" r="1.5" fill="#3a3a3a"/>
<path d="M564.7 39.1V42.2M563.1 39.1H566.3M563.1 42.2H566.3" fill="none" stroke="#3a3a3a" stroke-width="0.8"/>
<circle cx="564.7" cy="40.6" r="1.5" fill="#3a3a3a"/>
<path d="M572.1 40.1V44.3M570.5 40.1H573.8M570.5 44.3H573.8" fill="none" stroke="#3a3a3a" stroke-width="0.8"/>
<circle cx="572.1" cy="42.2" r="1.5" fill="#3a3a3a"/>
<path d="M584 48.4V52.5M582.4 48.4H585.6M582.4 52.5H585.6" fill="none" stroke="#3a3a3a" stroke-width="0.8"/>
<circle cx="584" cy="50.5" r="1.5" fill="#3a3a3a"/>
<path d="M589.5 56.2V58.2M587.9 56.2H591.1M587.9 58.2H591.1" fill="none" stroke="#3a3a3a" stroke-width="0.8"/>
<circle cx="589.5" cy="57.2" r="1.5" fill="#3a3a3a"/>
<path d="M597 66.5V67.6M595.4 66.5H598.6M595.4 67.6H598.6" fill="none" stroke="#3a3a3a" stroke-width="0.8"/>
<circle cx="597" cy="67" r="1.5" fill="#3a3a3a"/>
<path d="M608.9 75.8V79M607.3 75.8H610.5M607.3 79H610.5" fill="none" stroke="#3a3a3a" stroke-width="0.8"/>
<circle cx="608.9" cy="77.4" r="1.5" fill="#3a3a3a"/>
<path d="M621.8 79.5V80.5M620.2 79.5H623.4M620.2 80.5H623.4" fill="none" stroke="#3a3a3a" stroke-width="0.8"/>
<circle cx="621.8" cy="80" r="1.5" fill="#3a3a3a"/>
<path d="M639.2 79.5V82.6M637.6 79.5H640.8M637.6 82.6H640.8" fill="none" stroke="#3a3a3a" stroke-width="0.8"/>
<circle cx="639.2" cy="81" r="1.5" fill="#3a3a3a"/>
<rect x="551" y="11.7" width="118.5" height="18" fill="#fff" stroke="#666" stroke-width="0.9"/>
<line x1="552.5" y1="16.2" x2="562" y2="16.2" stroke="#3a3a3a" stroke-width="1"/>
<circle cx="557.3" cy="16.2" r="1.4" fill="#3a3a3a"/>
<text y="3" font-size="8.5" fill="#111" transform="translate(564.8 16.2) scale(0.862 1)"><tspan font-weight="bold">Parental</tspan> (IC<tspan font-size="5.1" dy="1.8">50</tspan><tspan dy="-1.8">= 60.4 nM)</tspan></text>
<line x1="552.5" y1="25.2" x2="562" y2="25.2" stroke="#c0272d" stroke-width="1"/>
<rect x="555.8" y="23.8" width="3" height="3" fill="#c0272d"/>
<text y="3" font-size="8.5" fill="#111" transform="translate(564.8 25.2) scale(0.862 1)"><tspan font-weight="bold">Adagrasib-R</tspan> (IC<tspan font-size="5.1" dy="1.8">50</tspan><tspan dy="-1.8">= 1420.4 nM)</tspan></text>
<line x1="389.3" y1="133.9" x2="389.3" y2="199.2" stroke="#333" stroke-width="1"/>
<line x1="388.8" y1="198.7" x2="488.7" y2="198.7" stroke="#333" stroke-width="1"/>
<line x1="385.8" y1="198.7" x2="389.3" y2="198.7" stroke="#333" stroke-width="1"/>
<text y="3" font-size="8.7" text-anchor="end" fill="#222" transform="translate(384.8 198.7) scale(0.862 1)">0.00</text>
<line x1="385.8" y1="185.8" x2="389.3" y2="185.8" stroke="#333" stroke-width="1"/>
<text y="3" font-size="8.7" text-anchor="end" fill="#222" transform="translate(384.8 185.8) scale(0.862 1)">0.25</text>
<line x1="385.8" y1="172.8" x2="389.3" y2="172.8" stroke="#333" stroke-width="1"/>
<text y="3" font-size="8.7" text-anchor="end" fill="#222" transform="translate(384.8 172.8) scale(0.862 1)">0.50</text>
<line x1="385.8" y1="159.8" x2="389.3" y2="159.8" stroke="#333" stroke-width="1"/>
<text y="3" font-size="8.7" text-anchor="end" fill="#222" transform="translate(384.8 159.8) scale(0.862 1)">0.75</text>
<line x1="385.8" y1="146.9" x2="389.3" y2="146.9" stroke="#333" stroke-width="1"/>
<text y="3" font-size="8.7" text-anchor="end" fill="#222" transform="translate(384.8 146.9) scale(0.862 1)">1.00</text>
<line x1="385.8" y1="133.9" x2="389.3" y2="133.9" stroke="#333" stroke-width="1"/>
<text y="3" font-size="8.7" text-anchor="end" fill="#222" transform="translate(384.8 133.9) scale(0.862 1)">1.25</text>
<line x1="389.3" y1="198.7" x2="389.3" y2="201.7" stroke="#333" stroke-width="1"/>
<text y="3" font-size="8.7" text-anchor="middle" fill="#222" transform="translate(389.3 205.9) scale(0.862 1)">1</text>
<line x1="396.8" y1="198.7" x2="396.8" y2="200.3" stroke="#333" stroke-width="0.6"/>
<line x1="401.2" y1="198.7" x2="401.2" y2="200.3" stroke="#333" stroke-width="0.6"/>
<line x1="404.3" y1="198.7" x2="404.3" y2="200.3" stroke="#333" stroke-width="0.6"/>
<line x1="406.7" y1="198.7" x2="406.7" y2="200.3" stroke="#333" stroke-width="0.6"/>
<line x1="408.6" y1="198.7" x2="408.6" y2="200.3" stroke="#333" stroke-width="0.6"/>
<line x1="410.3" y1="198.7" x2="410.3" y2="200.3" stroke="#333" stroke-width="0.6"/>
<line x1="411.7" y1="198.7" x2="411.7" y2="200.3" stroke="#333" stroke-width="0.6"/>
<line x1="413" y1="198.7" x2="413" y2="200.3" stroke="#333" stroke-width="0.6"/>
<line x1="414.2" y1="198.7" x2="414.2" y2="201.7" stroke="#333" stroke-width="1"/>
<text y="3" font-size="8.7" text-anchor="middle" fill="#222" transform="translate(414.2 205.9) scale(0.862 1)">10</text>
<line x1="421.6" y1="198.7" x2="421.6" y2="200.3" stroke="#333" stroke-width="0.6"/>
<line x1="426" y1="198.7" x2="426" y2="200.3" stroke="#333" stroke-width="0.6"/>
<line x1="429.1" y1="198.7" x2="429.1" y2="200.3" stroke="#333" stroke-width="0.6"/>
<line x1="431.5" y1="198.7" x2="431.5" y2="200.3" stroke="#333" stroke-width="0.6"/>
<line x1="433.5" y1="198.7" x2="433.5" y2="200.3" stroke="#333" stroke-width="0.6"/>
<line x1="435.2" y1="198.7" x2="435.2" y2="200.3" stroke="#333" stroke-width="0.6"/>
<line x1="436.6" y1="198.7" x2="436.6" y2="200.3" stroke="#333" stroke-width="0.6"/>
<line x1="437.9" y1="198.7" x2="437.9" y2="200.3" stroke="#333" stroke-width="0.6"/>
<line x1="439" y1="198.7" x2="439" y2="201.7" stroke="#333" stroke-width="1"/>
<text y="3" font-size="8.7" text-anchor="middle" fill="#222" transform="translate(439 205.9) scale(0.862 1)">100</text>
<line x1="446.5" y1="198.7" x2="446.5" y2="200.3" stroke="#333" stroke-width="0.6"/>
<line x1="450.9" y1="198.7" x2="450.9" y2="200.3" stroke="#333" stroke-width="0.6"/>
<line x1="454" y1="198.7" x2="454" y2="200.3" stroke="#333" stroke-width="0.6"/>
<line x1="456.4" y1="198.7" x2="456.4" y2="200.3" stroke="#333" stroke-width="0.6"/>
<line x1="458.3" y1="198.7" x2="458.3" y2="200.3" stroke="#333" stroke-width="0.6"/>
<line x1="460" y1="198.7" x2="460" y2="200.3" stroke="#333" stroke-width="0.6"/>
<line x1="461.4" y1="198.7" x2="461.4" y2="200.3" stroke="#333" stroke-width="0.6"/>
<line x1="462.7" y1="198.7" x2="462.7" y2="200.3" stroke="#333" stroke-width="0.6"/>
<line x1="463.9" y1="198.7" x2="463.9" y2="201.7" stroke="#333" stroke-width="1"/>
<text y="3" font-size="8.7" text-anchor="middle" fill="#222" transform="translate(463.9 205.9) scale(0.862 1)">1000</text>
<line x1="471.3" y1="198.7" x2="471.3" y2="200.3" stroke="#333" stroke-width="0.6"/>
<line x1="475.7" y1="198.7" x2="475.7" y2="200.3" stroke="#333" stroke-width="0.6"/>
<line x1="478.8" y1="198.7" x2="478.8" y2="200.3" stroke="#333" stroke-width="0.6"/>
<line x1="481.2" y1="198.7" x2="481.2" y2="200.3" stroke="#333" stroke-width="0.6"/>
<line x1="483.2" y1="198.7" x2="483.2" y2="200.3" stroke="#333" stroke-width="0.6"/>
<line x1="484.9" y1="198.7" x2="484.9" y2="200.3" stroke="#333" stroke-width="0.6"/>
<line x1="486.3" y1="198.7" x2="486.3" y2="200.3" stroke="#333" stroke-width="0.6"/>
<line x1="487.6" y1="198.7" x2="487.6" y2="200.3" stroke="#333" stroke-width="0.6"/>
<line x1="488.7" y1="198.7" x2="488.7" y2="201.7" stroke="#333" stroke-width="1"/>
<text y="3" font-size="8.7" text-anchor="middle" fill="#222" transform="translate(488.7 205.9) scale(0.862 1)">10000</text>
<text y="3" font-size="8.47" text-anchor="middle" font-weight="bold" transform="translate(439 214.7) scale(0.862 1)">Sotorasib (nM)</text>
<text y="3.2" font-size="9.28" text-anchor="middle" font-weight="bold" transform="translate(440.5 118) scale(0.862 1)">H23</text>
<text y="2.4" font-size="6.96" text-anchor="middle" fill="#222" transform="translate(364.6 170.7) rotate(-90) scale(0.862 1)">Relative viability (Sotorasib/DMSO)</text>
<path d="M389.3 147.2L390.4 147.2L391.6 147.2L392.7 147.2L393.9 147.2L395 147.3L396.2 147.3L397.3 147.3L398.5 147.3L399.6 147.3L400.8 147.3L401.9 147.4L403.1 147.4L404.2 147.4L405.4 147.4L406.5 147.5L407.7 147.5L408.8 147.5L410 147.6L411.1 147.6L412.3 147.6L413.4 147.7L414.6 147.7L415.7 147.8L416.9 147.8L418 147.9L419.2 147.9L420.3 148L421.5 148L422.6 148.1L423.8 148.2L424.9 148.2L426.1 148.3L427.2 148.4L428.4 148.4L429.5 148.5L430.7 148.6L431.8 148.7L433 148.8L434.1 148.9L435.3 149L436.4 149.1L437.6 149.3L438.7 149.4L439.9 149.5L441 149.7L442.2 149.8L443.3 150L444.5 150.2L445.6 150.3L446.7 150.5L447.9 150.7L449 150.9L450.2 151.1L451.3 151.4L452.5 151.6L453.6 151.9L454.8 152.1L455.9 152.4L457.1 152.7L458.2 153L459.4 153.3L460.5 153.6L461.7 154L462.8 154.4L464 154.7L465.1 155.1L466.3 155.6L467.4 156L468.6 156.5L469.7 156.9L470.9 157.4L472 158L473.2 158.5L474.3 159.1L475.5 159.6L476.6 160.2L477.8 160.9L478.9 161.5L480.1 162.2L481.2 162.9" fill="none" stroke="#c0272d" stroke-width="1.1"/>
<path d="M389.3 148.2L390.4 148.2L391.6 148.3L392.7 148.3L393.9 148.3L395 148.3L396.2 148.4L397.3 148.4L398.5 148.4L399.6 148.5L400.8 148.5L401.9 148.6L403.1 148.6L404.2 148.7L405.4 148.7L406.5 148.8L407.7 148.9L408.8 148.9L410 149L411.1 149.1L412.3 149.2L413.4 149.3L414.6 149.4L415.7 149.6L416.9 149.7L418 149.9L419.2 150.1L420.3 150.2L421.5 150.4L422.6 150.7L423.8 150.9L424.9 151.2L426.1 151.4L427.2 151.7L428.4 152.1L429.5 152.4L430.7 152.8L431.8 153.2L433 153.7L434.1 154.1L435.3 154.6L436.4 155.2L437.6 155.7L438.7 156.4L439.9 157L441 157.7L442.2 158.4L443.3 159.1L444.5 159.9L445.6 160.7L446.7 161.6L447.9 162.4L449 163.3L450.2 164.3L451.3 165.2L452.5 166.2L453.6 167.1L454.8 168.1L455.9 169.1L457.1 170.1L458.2 171.1L459.4 172.1L460.5 173L461.7 174L462.8 174.9L464 175.8L465.1 176.7L466.3 177.5L467.4 178.3L468.6 179.1L469.7 179.9L470.9 180.6L472 181.3L473.2 181.9L474.3 182.5L475.5 183.1L476.6 183.7L477.8 184.2L478.9 184.6L480.1 185.1L481.2 185.5" fill="none" stroke="#3a3a3a" stroke-width="1.1"/>
<path d="M389.3 145.9V147.9M387.7 145.9H390.9M387.7 147.9H390.9" fill="none" stroke="#c0272d" stroke-width="0.8"/>
<rect x="387.8" y="145.4" width="3" height="3" fill="#c0272d"/>
<path d="M406.7 146.4V148.5M405.1 146.4H408.3M405.1 148.5H408.3" fill="none" stroke="#c0272d" stroke-width="0.8"/>
<rect x="405.2" y="145.9" width="3" height="3" fill="#c0272d"/>
<path d="M414.2 147.4V148.5M412.6 147.4H415.8M412.6 148.5H415.8" fill="none" stroke="#c0272d" stroke-width="0.8"/>
<rect x="412.7" y="146.4" width="3" height="3" fill="#c0272d"/>
<path d="M426 147.9V149M424.4 147.9H427.6M424.4 149H427.6" fill="none" stroke="#c0272d" stroke-width="0.8"/>
<rect x="424.5" y="147" width="3" height="3" fill="#c0272d"/>
<path d="M431.5 147.9V150M429.9 147.9H433.1M429.9 150H433.1" fill="none" stroke="#c0272d" stroke-width="0.8"/>
<rect x="430" y="147.5" width="3" height="3" fill="#c0272d"/>
<path d="M439 147.4V151.6M437.4 147.4H440.6M437.4 151.6H440.6" fill="none" stroke="#c0272d" stroke-width="0.8"/>
<rect x="437.5" y="148" width="3" height="3" fill="#c0272d"/>
<path d="M450.9 149V153.1M449.3 149H452.5M449.3 153.1H452.5" fill="none" stroke="#c0272d" stroke-width="0.8"/>
<rect x="449.4" y="149.5" width="3" height="3" fill="#c0272d"/>
<path d="M463.9 153.1V156.2M462.2 153.1H465.5M462.2 156.2H465.5" fill="none" stroke="#c0272d" stroke-width="0.8"/>
<rect x="462.4" y="153.2" width="3" height="3" fill="#c0272d"/>
<path d="M481.2 160.9V165M479.6 160.9H482.8M479.6 165H482.8" fill="none" stroke="#c0272d" stroke-width="0.8"/>
<rect x="479.7" y="161.5" width="3" height="3" fill="#c0272d"/>
<path d="M389.3 146.4V149.5M387.7 146.4H390.9M387.7 149.5H390.9" fill="none" stroke="#3a3a3a" stroke-width="0.8"/>
<circle cx="389.3" cy="147.9" r="1.5" fill="#3a3a3a"/>
<path d="M406.7 146.9V150M405.1 146.9H408.3M405.1 150H408.3" fill="none" stroke="#3a3a3a" stroke-width="0.8"/>
<circle cx="406.7" cy="148.5" r="1.5" fill="#3a3a3a"/>
<path d="M414.2 147.4V151.6M412.6 147.4H415.8M412.6 151.6H415.8" fill="none" stroke="#3a3a3a" stroke-width="0.8"/>
<circle cx="414.2" cy="149.5" r="1.5" fill="#3a3a3a"/>
<path d="M426 150.5V153.6M424.4 150.5H427.6M424.4 153.6H427.6" fill="none" stroke="#3a3a3a" stroke-width="0.8"/>
<circle cx="426" cy="152.1" r="1.5" fill="#3a3a3a"/>
<path d="M431.5 152.1V155.2M429.9 152.1H433.1M429.9 155.2H433.1" fill="none" stroke="#3a3a3a" stroke-width="0.8"/>
<circle cx="431.5" cy="153.6" r="1.5" fill="#3a3a3a"/>
<path d="M439 155.2V157.3M437.4 155.2H440.6M437.4 157.3H440.6" fill="none" stroke="#3a3a3a" stroke-width="0.8"/>
<circle cx="439" cy="156.2" r="1.5" fill="#3a3a3a"/>
<path d="M450.9 163.5V164.5M449.3 163.5H452.5M449.3 164.5H452.5" fill="none" stroke="#3a3a3a" stroke-width="0.8"/>
<circle cx="450.9" cy="164" r="1.5" fill="#3a3a3a"/>
<path d="M463.9 174.9V178M462.2 174.9H465.5M462.2 178H465.5" fill="none" stroke="#3a3a3a" stroke-width="0.8"/>
<circle cx="463.9" cy="176.4" r="1.5" fill="#3a3a3a"/>
<path d="M481.2 183.2V187.3M479.6 183.2H482.8M479.6 187.3H482.8" fill="none" stroke="#3a3a3a" stroke-width="0.8"/>
<circle cx="481.2" cy="185.2" r="1.5" fill="#3a3a3a"/>
<rect x="395.1" y="124.1" width="109.4" height="17" fill="#fff" stroke="#666" stroke-width="0.9"/>
<line x1="396.6" y1="128.4" x2="406.1" y2="128.4" stroke="#3a3a3a" stroke-width="1"/>
<circle cx="401.4" cy="128.4" r="1.4" fill="#3a3a3a"/>
<text y="3" font-size="8.5" fill="#111" transform="translate(408.9 128.4) scale(0.862 1)"><tspan font-weight="bold">Parental</tspan> (IC<tspan font-size="5.1" dy="1.8">50</tspan><tspan dy="-1.8">= 499.4 nM)</tspan></text>
<line x1="396.6" y1="136.9" x2="406.1" y2="136.9" stroke="#c0272d" stroke-width="1"/>
<rect x="399.9" y="135.4" width="3" height="3" fill="#c0272d"/>
<text y="3" font-size="8.5" fill="#111" transform="translate(408.9 136.9) scale(0.862 1)"><tspan font-weight="bold">Sotorasib-R</tspan> (IC<tspan font-size="5.1" dy="1.8">50</tspan><tspan dy="-1.8">&gt; 5000nM)</tspan></text>
<line x1="547" y1="133.8" x2="547" y2="199" stroke="#333" stroke-width="1"/>
<line x1="546.5" y1="198.5" x2="646.4" y2="198.5" stroke="#333" stroke-width="1"/>
<line x1="543.5" y1="198.5" x2="547" y2="198.5" stroke="#333" stroke-width="1"/>
<text y="3" font-size="8.7" text-anchor="end" fill="#222" transform="translate(542.5 198.5) scale(0.862 1)">0.00</text>
<line x1="543.5" y1="185.6" x2="547" y2="185.6" stroke="#333" stroke-width="1"/>
<text y="3" font-size="8.7" text-anchor="end" fill="#222" transform="translate(542.5 185.6) scale(0.862 1)">0.25</text>
<line x1="543.5" y1="172.6" x2="547" y2="172.6" stroke="#333" stroke-width="1"/>
<text y="3" font-size="8.7" text-anchor="end" fill="#222" transform="translate(542.5 172.6) scale(0.862 1)">0.50</text>
<line x1="543.5" y1="159.7" x2="547" y2="159.7" stroke="#333" stroke-width="1"/>
<text y="3" font-size="8.7" text-anchor="end" fill="#222" transform="translate(542.5 159.7) scale(0.862 1)">0.75</text>
<line x1="543.5" y1="146.7" x2="547" y2="146.7" stroke="#333" stroke-width="1"/>
<text y="3" font-size="8.7" text-anchor="end" fill="#222" transform="translate(542.5 146.7) scale(0.862 1)">1.00</text>
<line x1="543.5" y1="133.8" x2="547" y2="133.8" stroke="#333" stroke-width="1"/>
<text y="3" font-size="8.7" text-anchor="end" fill="#222" transform="translate(542.5 133.8) scale(0.862 1)">1.25</text>
<line x1="547" y1="198.5" x2="547" y2="201.5" stroke="#333" stroke-width="1"/>
<text y="3" font-size="8.7" text-anchor="middle" fill="#222" transform="translate(547 205.7) scale(0.862 1)">1</text>
<line x1="554.5" y1="198.5" x2="554.5" y2="200.1" stroke="#333" stroke-width="0.6"/>
<line x1="558.9" y1="198.5" x2="558.9" y2="200.1" stroke="#333" stroke-width="0.6"/>
<line x1="562" y1="198.5" x2="562" y2="200.1" stroke="#333" stroke-width="0.6"/>
<line x1="564.4" y1="198.5" x2="564.4" y2="200.1" stroke="#333" stroke-width="0.6"/>
<line x1="566.3" y1="198.5" x2="566.3" y2="200.1" stroke="#333" stroke-width="0.6"/>
<line x1="568" y1="198.5" x2="568" y2="200.1" stroke="#333" stroke-width="0.6"/>
<line x1="569.4" y1="198.5" x2="569.4" y2="200.1" stroke="#333" stroke-width="0.6"/>
<line x1="570.7" y1="198.5" x2="570.7" y2="200.1" stroke="#333" stroke-width="0.6"/>
<line x1="571.9" y1="198.5" x2="571.9" y2="201.5" stroke="#333" stroke-width="1"/>
<text y="3" font-size="8.7" text-anchor="middle" fill="#222" transform="translate(571.9 205.7) scale(0.862 1)">10</text>
<line x1="579.3" y1="198.5" x2="579.3" y2="200.1" stroke="#333" stroke-width="0.6"/>
<line x1="583.7" y1="198.5" x2="583.7" y2="200.1" stroke="#333" stroke-width="0.6"/>
<line x1="586.8" y1="198.5" x2="586.8" y2="200.1" stroke="#333" stroke-width="0.6"/>
<line x1="589.2" y1="198.5" x2="589.2" y2="200.1" stroke="#333" stroke-width="0.6"/>
<line x1="591.2" y1="198.5" x2="591.2" y2="200.1" stroke="#333" stroke-width="0.6"/>
<line x1="592.9" y1="198.5" x2="592.9" y2="200.1" stroke="#333" stroke-width="0.6"/>
<line x1="594.3" y1="198.5" x2="594.3" y2="200.1" stroke="#333" stroke-width="0.6"/>
<line x1="595.6" y1="198.5" x2="595.6" y2="200.1" stroke="#333" stroke-width="0.6"/>
<line x1="596.7" y1="198.5" x2="596.7" y2="201.5" stroke="#333" stroke-width="1"/>
<text y="3" font-size="8.7" text-anchor="middle" fill="#222" transform="translate(596.7 205.7) scale(0.862 1)">100</text>
<line x1="604.2" y1="198.5" x2="604.2" y2="200.1" stroke="#333" stroke-width="0.6"/>
<line x1="608.6" y1="198.5" x2="608.6" y2="200.1" stroke="#333" stroke-width="0.6"/>
<line x1="611.7" y1="198.5" x2="611.7" y2="200.1" stroke="#333" stroke-width="0.6"/>
<line x1="614.1" y1="198.5" x2="614.1" y2="200.1" stroke="#333" stroke-width="0.6"/>
<line x1="616" y1="198.5" x2="616" y2="200.1" stroke="#333" stroke-width="0.6"/>
<line x1="617.7" y1="198.5" x2="617.7" y2="200.1" stroke="#333" stroke-width="0.6"/>
<line x1="619.1" y1="198.5" x2="619.1" y2="200.1" stroke="#333" stroke-width="0.6"/>
<line x1="620.4" y1="198.5" x2="620.4" y2="200.1" stroke="#333" stroke-width="0.6"/>
<line x1="621.5" y1="198.5" x2="621.5" y2="201.5" stroke="#333" stroke-width="1"/>
<text y="3" font-size="8.7" text-anchor="middle" fill="#222" transform="translate(621.5 205.7) scale(0.862 1)">1000</text>
<line x1="629" y1="198.5" x2="629" y2="200.1" stroke="#333" stroke-width="0.6"/>
<line x1="633.4" y1="198.5" x2="633.4" y2="200.1" stroke="#333" stroke-width="0.6"/>
<line x1="636.5" y1="198.5" x2="636.5" y2="200.1" stroke="#333" stroke-width="0.6"/>
<line x1="638.9" y1="198.5" x2="638.9" y2="200.1" stroke="#333" stroke-width="0.6"/>
<line x1="640.9" y1="198.5" x2="640.9" y2="200.1" stroke="#333" stroke-width="0.6"/>
<line x1="642.6" y1="198.5" x2="642.6" y2="200.1" stroke="#333" stroke-width="0.6"/>
<line x1="644" y1="198.5" x2="644" y2="200.1" stroke="#333" stroke-width="0.6"/>
<line x1="645.3" y1="198.5" x2="645.3" y2="200.1" stroke="#333" stroke-width="0.6"/>
<line x1="646.4" y1="198.5" x2="646.4" y2="201.5" stroke="#333" stroke-width="1"/>
<text y="3" font-size="8.7" text-anchor="middle" fill="#222" transform="translate(646.4 205.7) scale(0.862 1)">10000</text>
<text y="3" font-size="8.47" text-anchor="middle" font-weight="bold" transform="translate(596.7 214.5) scale(0.862 1)">Adagrasib (nM)</text>
<text y="3.2" font-size="9.28" text-anchor="middle" font-weight="bold" transform="translate(597 118) scale(0.862 1)">H23</text>
<text y="2.4" font-size="6.96" text-anchor="middle" fill="#222" transform="translate(522.4 170.5) rotate(-90) scale(0.862 1)">Relative viability (Adagrasib/DMSO)</text>
<path d="M547 147.1L548.1 147.1L549.3 147.1L550.4 147.1L551.6 147.1L552.7 147.1L553.9 147.1L555 147.2L556.2 147.2L557.3 147.2L558.5 147.2L559.6 147.3L560.8 147.3L561.9 147.3L563.1 147.4L564.2 147.4L565.4 147.4L566.5 147.5L567.7 147.5L568.8 147.6L570 147.6L571.1 147.7L572.3 147.7L573.4 147.8L574.6 147.9L575.7 147.9L576.9 148L578 148.1L579.2 148.2L580.3 148.3L581.5 148.4L582.6 148.6L583.8 148.7L584.9 148.8L586.1 149L587.2 149.1L588.4 149.3L589.5 149.5L590.7 149.7L591.8 149.9L593 150.1L594.1 150.4L595.3 150.6L596.4 150.9L597.6 151.2L598.7 151.5L599.9 151.8L601 152.2L602.2 152.6L603.3 153L604.4 153.4L605.6 153.8L606.7 154.3L607.9 154.8L609 155.3L610.2 155.9L611.3 156.4L612.5 157L613.6 157.7L614.8 158.3L615.9 159L617.1 159.7L618.2 160.4L619.4 161.1L620.5 161.9L621.7 162.7L622.8 163.5L624 164.3L625.1 165.1L626.3 166L627.4 166.8L628.6 167.7L629.7 168.5L630.9 169.4L632 170.3L633.2 171.1L634.3 172L635.5 172.8L636.6 173.6L637.8 174.4L638.9 175.2" fill="none" stroke="#c0272d" stroke-width="1.1"/>
<path d="M547 147.8L548.1 147.8L549.3 147.8L550.4 147.8L551.6 147.9L552.7 147.9L553.9 147.9L555 147.9L556.2 147.9L557.3 147.9L558.5 147.9L559.6 147.9L560.8 147.9L561.9 147.9L563.1 147.9L564.2 148L565.4 148L566.5 148L567.7 148.1L568.8 148.1L570 148.2L571.1 148.2L572.3 148.3L573.4 148.4L574.6 148.6L575.7 148.8L576.9 149L578 149.2L579.2 149.5L580.3 149.9L581.5 150.3L582.6 150.8L583.8 151.5L584.9 152.2L586.1 153.1L587.2 154.1L588.4 155.3L589.5 156.7L590.7 158.2L591.8 159.9L593 161.8L594.1 163.7L595.3 165.8L596.4 167.9L597.6 170L598.7 172.1L599.9 174.2L601 176.1L602.2 177.8L603.3 179.4L604.4 180.9L605.6 182.1L606.7 183.2L607.9 184.2L609 185L610.2 185.6L611.3 186.2L612.5 186.7L613.6 187.1L614.8 187.4L615.9 187.7L617.1 187.9L618.2 188.1L619.4 188.3L620.5 188.4L621.7 188.5L622.8 188.6L624 188.6L625.1 188.7L626.3 188.7L627.4 188.8L628.6 188.8L629.7 188.8L630.9 188.8L632 188.8L633.2 188.9L634.3 188.9L635.5 188.9L636.6 188.9L637.8 188.9L638.9 188.9" fill="none" stroke="#3a3a3a" stroke-width="1.1"/>
<path d="M547 146.2V148.3M545.4 146.2H548.6M545.4 148.3H548.6" fill="none" stroke="#c0272d" stroke-width="0.8"/>
<rect x="545.5" y="145.7" width="3" height="3" fill="#c0272d"/>
<path d="M564.4 146.2V148.3M562.8 146.2H566M562.8 148.3H566" fill="none" stroke="#c0272d" stroke-width="0.8"/>
<rect x="562.9" y="145.7" width="3" height="3" fill="#c0272d"/>
<path d="M571.9 146.7V148.8M570.2 146.7H573.5M570.2 148.8H573.5" fill="none" stroke="#c0272d" stroke-width="0.8"/>
<rect x="570.4" y="146.2" width="3" height="3" fill="#c0272d"/>
<path d="M583.7 146.2V150.3M582.1 146.2H585.3M582.1 150.3H585.3" fill="none" stroke="#c0272d" stroke-width="0.8"/>
<rect x="582.2" y="146.8" width="3" height="3" fill="#c0272d"/>
<path d="M589.2 147.2V151.4M587.6 147.2H590.8M587.6 151.4H590.8" fill="none" stroke="#c0272d" stroke-width="0.8"/>
<rect x="587.7" y="147.8" width="3" height="3" fill="#c0272d"/>
<path d="M596.7 150.3V153.4M595.1 150.3H598.3M595.1 153.4H598.3" fill="none" stroke="#c0272d" stroke-width="0.8"/>
<rect x="595.2" y="150.4" width="3" height="3" fill="#c0272d"/>
<path d="M608.6 154V155M607 154H610.2M607 155H610.2" fill="none" stroke="#c0272d" stroke-width="0.8"/>
<rect x="607.1" y="153" width="3" height="3" fill="#c0272d"/>
<path d="M621.5 162.2V163.3M619.9 162.2H623.1M619.9 163.3H623.1" fill="none" stroke="#c0272d" stroke-width="0.8"/>
<rect x="620" y="161.3" width="3" height="3" fill="#c0272d"/>
<path d="M638.9 174.2V176.2M637.3 174.2H640.5M637.3 176.2H640.5" fill="none" stroke="#c0272d" stroke-width="0.8"/>
<rect x="637.4" y="173.7" width="3" height="3" fill="#c0272d"/>
<path d="M547 145.1V151.4M545.4 145.1H548.6M545.4 151.4H548.6" fill="none" stroke="#3a3a3a" stroke-width="0.8"/>
<circle cx="547" cy="148.3" r="1.5" fill="#3a3a3a"/>
<path d="M564.4 146.7V149.8M562.8 146.7H566M562.8 149.8H566" fill="none" stroke="#3a3a3a" stroke-width="0.8"/>
<circle cx="564.4" cy="148.3" r="1.5" fill="#3a3a3a"/>
<path d="M571.9 146.7V150.8M570.2 146.7H573.5M570.2 150.8H573.5" fill="none" stroke="#3a3a3a" stroke-width="0.8"/>
<circle cx="571.9" cy="148.8" r="1.5" fill="#3a3a3a"/>
<path d="M583.7 148.8V151.9M582.1 148.8H585.3M582.1 151.9H585.3" fill="none" stroke="#3a3a3a" stroke-width="0.8"/>
<circle cx="583.7" cy="150.3" r="1.5" fill="#3a3a3a"/>
<path d="M589.2 152.9V158.1M587.6 152.9H590.8M587.6 158.1H590.8" fill="none" stroke="#3a3a3a" stroke-width="0.8"/>
<circle cx="589.2" cy="155.5" r="1.5" fill="#3a3a3a"/>
<path d="M596.7 168.5V171.6M595.1 168.5H598.3M595.1 171.6H598.3" fill="none" stroke="#3a3a3a" stroke-width="0.8"/>
<circle cx="596.7" cy="170" r="1.5" fill="#3a3a3a"/>
<path d="M608.6 182.4V183.5M607 182.4H610.2M607 183.5H610.2" fill="none" stroke="#3a3a3a" stroke-width="0.8"/>
<circle cx="608.6" cy="183" r="1.5" fill="#3a3a3a"/>
<path d="M621.5 185.6V189.7M619.9 185.6H623.1M619.9 189.7H623.1" fill="none" stroke="#3a3a3a" stroke-width="0.8"/>
<circle cx="621.5" cy="187.6" r="1.5" fill="#3a3a3a"/>
<path d="M638.9 189.2V192.3M637.3 189.2H640.5M637.3 192.3H640.5" fill="none" stroke="#3a3a3a" stroke-width="0.8"/>
<circle cx="638.9" cy="190.7" r="1.5" fill="#3a3a3a"/>
<rect x="550.2" y="124.2" width="113.3" height="17.1" fill="#fff" stroke="#666" stroke-width="0.9"/>
<line x1="551.7" y1="128.5" x2="561.2" y2="128.5" stroke="#3a3a3a" stroke-width="1"/>
<circle cx="556.5" cy="128.5" r="1.4" fill="#3a3a3a"/>
<text y="3" font-size="8.5" fill="#111" transform="translate(564 128.5) scale(0.862 1)"><tspan font-weight="bold">Parental</tspan> (IC<tspan font-size="5.1" dy="1.8">50</tspan><tspan dy="-1.8">= 100.7 nM)</tspan></text>
<line x1="551.7" y1="137.1" x2="561.2" y2="137.1" stroke="#c0272d" stroke-width="1"/>
<rect x="555" y="135.6" width="3" height="3" fill="#c0272d"/>
<text y="3" font-size="8.5" fill="#111" transform="translate(564 137.1) scale(0.862 1)"><tspan font-weight="bold">Adagrasib-R</tspan> (IC<tspan font-size="5.1" dy="1.8">50</tspan><tspan dy="-1.8">= 2338 nM)</tspan></text>
</g>
<g id="panelC">
<defs><linearGradient id="gR"><stop offset="0" stop-color="#fff"/><stop offset="1" stop-color="#e02222"/></linearGradient><linearGradient id="gBR"><stop offset="0" stop-color="#2f62b0"/><stop offset="0.5" stop-color="#fff"/><stop offset="1" stop-color="#dd2222"/></linearGradient></defs>
<text y="5.4" font-size="15.5" font-weight="bold" transform="translate(1.5 228.6)">C</text>
<rect x="48.4" y="256" width="21.4" height="21.1" fill="#eb9ea0"/>
<rect x="69.6" y="256" width="21.4" height="21.1" fill="#f3d5d6"/>
<rect x="90.8" y="256" width="21.4" height="21.1" fill="#f5e0e1"/>
<rect x="112" y="256" width="21.4" height="21.1" fill="#f8e9ea"/>
<rect x="133.2" y="256" width="21.4" height="21.1" fill="#f8ebec"/>
<rect x="48.4" y="276.8" width="21.4" height="21.1" fill="#e65759"/>
<rect x="69.6" y="276.8" width="21.4" height="21.1" fill="#ea989a"/>
<rect x="90.8" y="276.8" width="21.4" height="21.1" fill="#eeb6b8"/>
<rect x="112" y="276.8" width="21.4" height="21.1" fill="#f7e5e6"/>
<rect x="133.2" y="276.8" width="21.4" height="21.1" fill="#f8e9ea"/>
<rect x="48.4" y="297.6" width="21.4" height="21.1" fill="#e43738"/>
<rect x="69.6" y="297.6" width="21.4" height="21.1" fill="#e8797b"/>
<rect x="90.8" y="297.6" width="21.4" height="21.1" fill="#eb9d9f"/>
<rect x="112" y="297.6" width="21.4" height="21.1" fill="#f3d6d7"/>
<rect x="133.2" y="297.6" width="21.4" height="21.1" fill="#f7e7e8"/>
<rect x="48.4" y="318.4" width="21.4" height="21.1" fill="#e32828"/>
<rect x="69.6" y="318.4" width="21.4" height="21.1" fill="#e76567"/>
<rect x="90.8" y="318.4" width="21.4" height="21.1" fill="#e87e80"/>
<rect x="112" y="318.4" width="21.4" height="21.1" fill="#f3d3d4"/>
<rect x="133.2" y="318.4" width="21.4" height="21.1" fill="#f7e6e7"/>
<rect x="48.4" y="339.2" width="21.4" height="21.1" fill="#e32626"/>
<rect x="69.6" y="339.2" width="21.4" height="21.1" fill="#e43333"/>
<rect x="90.8" y="339.2" width="21.4" height="21.1" fill="#e65254"/>
<rect x="112" y="339.2" width="21.4" height="21.1" fill="#e98c8e"/>
<rect x="133.2" y="339.2" width="21.4" height="21.1" fill="#efbcbd"/>
<text y="3" font-size="8.7" text-anchor="middle" fill="#111" transform="translate(59 266.4) scale(0.862 1)">39.6</text>
<text y="3" font-size="8.7" text-anchor="middle" fill="#111" transform="translate(80.2 266.4) scale(0.862 1)">19.1</text>
<text y="3" font-size="8.7" text-anchor="middle" fill="#111" transform="translate(101.4 266.4) scale(0.862 1)">13.7</text>
<text y="3" font-size="8.7" text-anchor="middle" fill="#111" transform="translate(122.6 266.4) scale(0.862 1)">8.6</text>
<text y="3" font-size="8.7" text-anchor="middle" fill="#111" transform="translate(143.8 266.4) scale(0.862 1)">7.8</text>
<text y="3" font-size="8.7" text-anchor="middle" fill="#111" transform="translate(59 287.2) scale(0.862 1)">72.4</text>
<text y="3" font-size="8.7" text-anchor="middle" fill="#111" transform="translate(80.2 287.2) scale(0.862 1)">42.1</text>
<text y="3" font-size="8.7" text-anchor="middle" fill="#111" transform="translate(101.4 287.2) scale(0.862 1)">30.7</text>
<text y="3" font-size="8.7" text-anchor="middle" fill="#111" transform="translate(122.6 287.2) scale(0.862 1)">11.1</text>
<text y="3" font-size="8.7" text-anchor="middle" fill="#111" transform="translate(143.8 287.2) scale(0.862 1)">8.8</text>
<text y="3" font-size="8.7" text-anchor="middle" fill="#111" transform="translate(59 308) scale(0.862 1)">90.5</text>
<text y="3" font-size="8.7" text-anchor="middle" fill="#111" transform="translate(80.2 308) scale(0.862 1)">56.3</text>
<text y="3" font-size="8.7" text-anchor="middle" fill="#111" transform="translate(101.4 308) scale(0.862 1)">40.2</text>
<text y="3" font-size="8.7" text-anchor="middle" fill="#111" transform="translate(122.6 308) scale(0.862 1)">18.8</text>
<text y="3" font-size="8.7" text-anchor="middle" fill="#111" transform="translate(143.8 308) scale(0.862 1)">10.0</text>
<text y="3" font-size="8.7" text-anchor="middle" fill="#111" transform="translate(59 328.8) scale(0.862 1)">98.7</text>
<text y="3" font-size="8.7" text-anchor="middle" fill="#111" transform="translate(80.2 328.8) scale(0.862 1)">65.9</text>
<text y="3" font-size="8.7" text-anchor="middle" fill="#111" transform="translate(101.4 328.8) scale(0.862 1)">54.3</text>
<text y="3" font-size="8.7" text-anchor="middle" fill="#111" transform="translate(122.6 328.8) scale(0.862 1)">19.9</text>
<text y="3" font-size="8.7" text-anchor="middle" fill="#111" transform="translate(143.8 328.8) scale(0.862 1)">10.5</text>
<text y="3" font-size="8.7" text-anchor="middle" fill="#111" transform="translate(59 349.6) scale(0.862 1)">100</text>
<text y="3" font-size="8.7" text-anchor="middle" fill="#111" transform="translate(80.2 349.6) scale(0.862 1)">92.8</text>
<text y="3" font-size="8.7" text-anchor="middle" fill="#111" transform="translate(101.4 349.6) scale(0.862 1)">75.0</text>
<text y="3" font-size="8.7" text-anchor="middle" fill="#111" transform="translate(122.6 349.6) scale(0.862 1)">47.4</text>
<text y="3" font-size="8.7" text-anchor="middle" fill="#111" transform="translate(143.8 349.6) scale(0.862 1)">28.6</text>
<line x1="45.8" y1="266.4" x2="48.4" y2="266.4" stroke="#333" stroke-width="0.8"/>
<text y="2.9" font-size="8.24" text-anchor="middle" fill="#222" transform="translate(34.6 266.4) scale(0.862 1)">10000</text>
<line x1="45.8" y1="287.2" x2="48.4" y2="287.2" stroke="#333" stroke-width="0.8"/>
<text y="2.9" font-size="8.24" text-anchor="middle" fill="#222" transform="translate(34.6 287.2) scale(0.862 1)">1000</text>
<line x1="45.8" y1="308" x2="48.4" y2="308" stroke="#333" stroke-width="0.8"/>
<text y="2.9" font-size="8.24" text-anchor="middle" fill="#222" transform="translate(34.6 308) scale(0.862 1)">100</text>
<line x1="45.8" y1="328.8" x2="48.4" y2="328.8" stroke="#333" stroke-width="0.8"/>
<text y="2.9" font-size="8.24" text-anchor="middle" fill="#222" transform="translate(34.6 328.8) scale(0.862 1)">10</text>
<line x1="45.8" y1="349.6" x2="48.4" y2="349.6" stroke="#333" stroke-width="0.8"/>
<text y="2.9" font-size="8.24" text-anchor="middle" fill="#222" transform="translate(34.6 349.6) scale(0.862 1)">0</text>
<line x1="59" y1="360" x2="59" y2="363" stroke="#333" stroke-width="0.8"/>
<text y="2.9" font-size="8.24" text-anchor="middle" fill="#222" transform="translate(59 368) scale(0.862 1)">0</text>
<line x1="80.2" y1="360" x2="80.2" y2="363" stroke="#333" stroke-width="0.8"/>
<text y="2.9" font-size="8.24" text-anchor="middle" fill="#222" transform="translate(80.2 368) scale(0.862 1)">30</text>
<line x1="101.4" y1="360" x2="101.4" y2="363" stroke="#333" stroke-width="0.8"/>
<text y="2.9" font-size="8.24" text-anchor="middle" fill="#222" transform="translate(101.4 368) scale(0.862 1)">300</text>
<line x1="122.6" y1="360" x2="122.6" y2="363" stroke="#333" stroke-width="0.8"/>
<text y="2.9" font-size="8.24" text-anchor="middle" fill="#222" transform="translate(122.6 368) scale(0.862 1)">3000</text>
<line x1="143.8" y1="360" x2="143.8" y2="363" stroke="#333" stroke-width="0.8"/>
<text y="2.9" font-size="8.24" text-anchor="middle" fill="#222" transform="translate(143.8 368) scale(0.862 1)">30000</text>
<text y="3.2" font-size="9.05" text-anchor="middle" font-weight="bold" transform="translate(99.4 377.8) scale(0.862 1)">Sotorasib (nM)</text>
<text y="3.2" font-size="9.05" text-anchor="middle" font-weight="bold" transform="translate(21 310.5) rotate(-90) scale(0.862 1)">Spermine (nM)</text>
<text y="3.2" font-size="9.16" text-anchor="middle" font-weight="bold" transform="translate(103 227.8) scale(0.862 1)">MIAPACA2 Sotorasib-resistant cells</text>
<text y="3" font-size="8.47" text-anchor="middle" fill="#222" transform="translate(104.5 236.4) scale(0.862 1)">Relative Viability (%)</text>
<text y="2.9" font-size="8.24" text-anchor="middle" fill="#222" transform="translate(58.2 244.6) scale(0.862 1)">0</text>
<text y="2.9" font-size="8.24" text-anchor="middle" fill="#222" transform="translate(76.6 244.6) scale(0.862 1)">20</text>
<text y="2.9" font-size="8.24" text-anchor="middle" fill="#222" transform="translate(94.4 244.6) scale(0.862 1)">40</text>
<text y="2.9" font-size="8.24" text-anchor="middle" fill="#222" transform="translate(112.2 244.6) scale(0.862 1)">60</text>
<text y="2.9" font-size="8.24" text-anchor="middle" fill="#222" transform="translate(130.1 244.6) scale(0.862 1)">80</text>
<text y="2.9" font-size="8.24" text-anchor="middle" fill="#222" transform="translate(148.1 244.6) scale(0.862 1)">100</text>
<rect x="57.6" y="247.6" width="90.5" height="3.1" fill="url(#gR)"/>
<rect x="377.7" y="256" width="21.4" height="21.1" fill="#ea9a9c"/>
<rect x="398.9" y="256" width="21.4" height="21.1" fill="#f0bfc1"/>
<rect x="420.1" y="256" width="21.4" height="21.1" fill="#f2cccd"/>
<rect x="441.3" y="256" width="21.4" height="21.1" fill="#f7e6e7"/>
<rect x="462.5" y="256" width="21.4" height="21.1" fill="#f8eaeb"/>
<rect x="377.7" y="276.8" width="21.4" height="21.1" fill="#e65a5c"/>
<rect x="398.9" y="276.8" width="21.4" height="21.1" fill="#e98f91"/>
<rect x="420.1" y="276.8" width="21.4" height="21.1" fill="#eba1a2"/>
<rect x="441.3" y="276.8" width="21.4" height="21.1" fill="#f6e1e2"/>
<rect x="462.5" y="276.8" width="21.4" height="21.1" fill="#f8eaeb"/>
<rect x="377.7" y="297.6" width="21.4" height="21.1" fill="#e43536"/>
<rect x="398.9" y="297.6" width="21.4" height="21.1" fill="#e76365"/>
<rect x="420.1" y="297.6" width="21.4" height="21.1" fill="#e98587"/>
<rect x="441.3" y="297.6" width="21.4" height="21.1" fill="#f4dadb"/>
<rect x="462.5" y="297.6" width="21.4" height="21.1" fill="#f8e9ea"/>
<rect x="377.7" y="318.4" width="21.4" height="21.1" fill="#e32929"/>
<rect x="398.9" y="318.4" width="21.4" height="21.1" fill="#e54c4e"/>
<rect x="420.1" y="318.4" width="21.4" height="21.1" fill="#e87d7f"/>
<rect x="441.3" y="318.4" width="21.4" height="21.1" fill="#f4d9da"/>
<rect x="462.5" y="318.4" width="21.4" height="21.1" fill="#f7e8e9"/>
<rect x="377.7" y="339.2" width="21.4" height="21.1" fill="#e32626"/>
<rect x="398.9" y="339.2" width="21.4" height="21.1" fill="#e43333"/>
<rect x="420.1" y="339.2" width="21.4" height="21.1" fill="#e54647"/>
<rect x="441.3" y="339.2" width="21.4" height="21.1" fill="#ea9496"/>
<rect x="462.5" y="339.2" width="21.4" height="21.1" fill="#efb7b8"/>
<text y="3" font-size="8.7" text-anchor="middle" fill="#111" transform="translate(388.3 266.4) scale(0.862 1)">41.1</text>
<text y="3" font-size="8.7" text-anchor="middle" fill="#111" transform="translate(409.5 266.4) scale(0.862 1)">27.3</text>
<text y="3" font-size="8.7" text-anchor="middle" fill="#111" transform="translate(430.7 266.4) scale(0.862 1)">22.6</text>
<text y="3" font-size="8.7" text-anchor="middle" fill="#111" transform="translate(451.9 266.4) scale(0.862 1)">10.5</text>
<text y="3" font-size="8.7" text-anchor="middle" fill="#111" transform="translate(473.1 266.4) scale(0.862 1)">8.1</text>
<text y="3" font-size="8.7" text-anchor="middle" fill="#111" transform="translate(388.3 287.2) scale(0.862 1)">71.0</text>
<text y="3" font-size="8.7" text-anchor="middle" fill="#111" transform="translate(409.5 287.2) scale(0.862 1)">46.2</text>
<text y="3" font-size="8.7" text-anchor="middle" fill="#111" transform="translate(430.7 287.2) scale(0.862 1)">38.8</text>
<text y="3" font-size="8.7" text-anchor="middle" fill="#111" transform="translate(451.9 287.2) scale(0.862 1)">13.1</text>
<text y="3" font-size="8.7" text-anchor="middle" fill="#111" transform="translate(473.1 287.2) scale(0.862 1)">8.4</text>
<text y="3" font-size="8.7" text-anchor="middle" fill="#111" transform="translate(388.3 308) scale(0.862 1)">91.4</text>
<text y="3" font-size="8.7" text-anchor="middle" fill="#111" transform="translate(409.5 308) scale(0.862 1)">66.8</text>
<text y="3" font-size="8.7" text-anchor="middle" fill="#111" transform="translate(430.7 308) scale(0.862 1)">50.8</text>
<text y="3" font-size="8.7" text-anchor="middle" fill="#111" transform="translate(451.9 308) scale(0.862 1)">16.5</text>
<text y="3" font-size="8.7" text-anchor="middle" fill="#111" transform="translate(473.1 308) scale(0.862 1)">8.6</text>
<text y="3" font-size="8.7" text-anchor="middle" fill="#111" transform="translate(388.3 328.8) scale(0.862 1)">98.4</text>
<text y="3" font-size="8.7" text-anchor="middle" fill="#111" transform="translate(409.5 328.8) scale(0.862 1)">78.5</text>
<text y="3" font-size="8.7" text-anchor="middle" fill="#111" transform="translate(430.7 328.8) scale(0.862 1)">54.5</text>
<text y="3" font-size="8.7" text-anchor="middle" fill="#111" transform="translate(451.9 328.8) scale(0.862 1)">17.1</text>
<text y="3" font-size="8.7" text-anchor="middle" fill="#111" transform="translate(473.1 328.8) scale(0.862 1)">9.2</text>
<text y="3" font-size="8.7" text-anchor="middle" fill="#111" transform="translate(388.3 349.6) scale(0.862 1)">100</text>
<text y="3" font-size="8.7" text-anchor="middle" fill="#111" transform="translate(409.5 349.6) scale(0.862 1)">92.8</text>
<text y="3" font-size="8.7" text-anchor="middle" fill="#111" transform="translate(430.7 349.6) scale(0.862 1)">82.0</text>
<text y="3" font-size="8.7" text-anchor="middle" fill="#111" transform="translate(451.9 349.6) scale(0.862 1)">43.9</text>
<text y="3" font-size="8.7" text-anchor="middle" fill="#111" transform="translate(473.1 349.6) scale(0.862 1)">30.5</text>
<line x1="375.1" y1="266.4" x2="377.7" y2="266.4" stroke="#333" stroke-width="0.8"/>
<text y="2.9" font-size="8.24" text-anchor="middle" fill="#222" transform="translate(363.9 266.4) scale(0.862 1)">10000</text>
<line x1="375.1" y1="287.2" x2="377.7" y2="287.2" stroke="#333" stroke-width="0.8"/>
<text y="2.9" font-size="8.24" text-anchor="middle" fill="#222" transform="translate(363.9 287.2) scale(0.862 1)">1000</text>
<line x1="375.1" y1="308" x2="377.7" y2="308" stroke="#333" stroke-width="0.8"/>
<text y="2.9" font-size="8.24" text-anchor="middle" fill="#222" transform="translate(363.9 308) scale(0.862 1)">100</text>
<line x1="375.1" y1="328.8" x2="377.7" y2="328.8" stroke="#333" stroke-width="0.8"/>
<text y="2.9" font-size="8.24" text-anchor="middle" fill="#222" transform="translate(363.9 328.8) scale(0.862 1)">10</text>
<line x1="375.1" y1="349.6" x2="377.7" y2="349.6" stroke="#333" stroke-width="0.8"/>
<text y="2.9" font-size="8.24" text-anchor="middle" fill="#222" transform="translate(363.9 349.6) scale(0.862 1)">0</text>
<line x1="388.3" y1="360" x2="388.3" y2="363" stroke="#333" stroke-width="0.8"/>
<text y="2.9" font-size="8.24" text-anchor="middle" fill="#222" transform="translate(388.3 368) scale(0.862 1)">0</text>
<line x1="409.5" y1="360" x2="409.5" y2="363" stroke="#333" stroke-width="0.8"/>
<text y="2.9" font-size="8.24" text-anchor="middle" fill="#222" transform="translate(409.5 368) scale(0.862 1)">30</text>
<line x1="430.7" y1="360" x2="430.7" y2="363" stroke="#333" stroke-width="0.8"/>
<text y="2.9" font-size="8.24" text-anchor="middle" fill="#222" transform="translate(430.7 368) scale(0.862 1)">300</text>
<line x1="451.9" y1="360" x2="451.9" y2="363" stroke="#333" stroke-width="0.8"/>
<text y="2.9" font-size="8.24" text-anchor="middle" fill="#222" transform="translate(451.9 368) scale(0.862 1)">3000</text>
<line x1="473.1" y1="360" x2="473.1" y2="363" stroke="#333" stroke-width="0.8"/>
<text y="2.9" font-size="8.24" text-anchor="middle" fill="#222" transform="translate(473.1 368) scale(0.862 1)">30000</text>
<text y="3.2" font-size="9.05" text-anchor="middle" font-weight="bold" transform="translate(428.7 377.8) scale(0.862 1)">Adagrasib (nM)</text>
<text y="3.2" font-size="9.05" text-anchor="middle" font-weight="bold" transform="translate(350.3 310.5) rotate(-90) scale(0.862 1)">Spermine (nM)</text>
<text y="3.2" font-size="9.16" text-anchor="middle" font-weight="bold" transform="translate(432.3 227.8) scale(0.862 1)">MIAPACA2 Adagrasib-resistant cells</text>
<text y="3" font-size="8.47" text-anchor="middle" fill="#222" transform="translate(433.8 236.4) scale(0.862 1)">Relative Viability (%)</text>
<text y="2.9" font-size="8.24" text-anchor="middle" fill="#222" transform="translate(387.5 244.6) scale(0.862 1)">0</text>
<text y="2.9" font-size="8.24" text-anchor="middle" fill="#222" transform="translate(405.9 244.6) scale(0.862 1)">20</text>
<text y="2.9" font-size="8.24" text-anchor="middle" fill="#222" transform="translate(423.7 244.6) scale(0.862 1)">40</text>
<text y="2.9" font-size="8.24" text-anchor="middle" fill="#222" transform="translate(441.5 244.6) scale(0.862 1)">60</text>
<text y="2.9" font-size="8.24" text-anchor="middle" fill="#222" transform="translate(459.4 244.6) scale(0.862 1)">80</text>
<text y="2.9" font-size="8.24" text-anchor="middle" fill="#222" transform="translate(477.4 244.6) scale(0.862 1)">100</text>
<rect x="386.9" y="247.6" width="90.5" height="3.1" fill="url(#gR)"/>
<rect x="48.4" y="424.4" width="21.4" height="21.1" fill="#e98688"/>
<rect x="69.6" y="424.4" width="21.4" height="21.1" fill="#e9888a"/>
<rect x="90.8" y="424.4" width="21.4" height="21.1" fill="#e9888a"/>
<rect x="112" y="424.4" width="21.4" height="21.1" fill="#ea9395"/>
<rect x="133.2" y="424.4" width="21.4" height="21.1" fill="#eeb6b7"/>
<rect x="48.4" y="445.2" width="21.4" height="21.1" fill="#e76668"/>
<rect x="69.6" y="445.2" width="21.4" height="21.1" fill="#e76567"/>
<rect x="90.8" y="445.2" width="21.4" height="21.1" fill="#e76d6f"/>
<rect x="112" y="445.2" width="21.4" height="21.1" fill="#e98385"/>
<rect x="133.2" y="445.2" width="21.4" height="21.1" fill="#edadaf"/>
<rect x="48.4" y="466" width="21.4" height="21.1" fill="#e43839"/>
<rect x="69.6" y="466" width="21.4" height="21.1" fill="#e53f40"/>
<rect x="90.8" y="466" width="21.4" height="21.1" fill="#e54748"/>
<rect x="112" y="466" width="21.4" height="21.1" fill="#e87274"/>
<rect x="133.2" y="466" width="21.4" height="21.1" fill="#eca4a6"/>
<rect x="48.4" y="486.8" width="21.4" height="21.1" fill="#e43233"/>
<rect x="69.6" y="486.8" width="21.4" height="21.1" fill="#e43536"/>
<rect x="90.8" y="486.8" width="21.4" height="21.1" fill="#e53f40"/>
<rect x="112" y="486.8" width="21.4" height="21.1" fill="#e76c6e"/>
<rect x="133.2" y="486.8" width="21.4" height="21.1" fill="#eba0a2"/>
<rect x="48.4" y="507.6" width="21.4" height="21.1" fill="#e32626"/>
<rect x="69.6" y="507.6" width="21.4" height="21.1" fill="#e32929"/>
<rect x="90.8" y="507.6" width="21.4" height="21.1" fill="#e43c3d"/>
<rect x="112" y="507.6" width="21.4" height="21.1" fill="#e76769"/>
<rect x="133.2" y="507.6" width="21.4" height="21.1" fill="#eb9fa1"/>
<text y="3" font-size="8.7" text-anchor="middle" fill="#111" transform="translate(59 434.8) scale(0.862 1)">50.3</text>
<text y="3" font-size="8.7" text-anchor="middle" fill="#111" transform="translate(80.2 434.8) scale(0.862 1)">49.5</text>
<text y="3" font-size="8.7" text-anchor="middle" fill="#111" transform="translate(101.4 434.8) scale(0.862 1)">49.6</text>
<text y="3" font-size="8.7" text-anchor="middle" fill="#111" transform="translate(122.6 434.8) scale(0.862 1)">44.3</text>
<text y="3" font-size="8.7" text-anchor="middle" fill="#111" transform="translate(143.8 434.8) scale(0.862 1)">30.9</text>
<text y="3" font-size="8.7" text-anchor="middle" fill="#111" transform="translate(59 455.6) scale(0.862 1)">65.3</text>
<text y="3" font-size="8.7" text-anchor="middle" fill="#111" transform="translate(80.2 455.6) scale(0.862 1)">66.0</text>
<text y="3" font-size="8.7" text-anchor="middle" fill="#111" transform="translate(101.4 455.6) scale(0.862 1)">62.0</text>
<text y="3" font-size="8.7" text-anchor="middle" fill="#111" transform="translate(122.6 455.6) scale(0.862 1)">51.8</text>
<text y="3" font-size="8.7" text-anchor="middle" fill="#111" transform="translate(143.8 455.6) scale(0.862 1)">34.0</text>
<text y="3" font-size="8.7" text-anchor="middle" fill="#111" transform="translate(59 476.4) scale(0.862 1)">89.6</text>
<text y="3" font-size="8.7" text-anchor="middle" fill="#111" transform="translate(80.2 476.4) scale(0.862 1)">85.7</text>
<text y="3" font-size="8.7" text-anchor="middle" fill="#111" transform="translate(101.4 476.4) scale(0.862 1)">81.6</text>
<text y="3" font-size="8.7" text-anchor="middle" fill="#111" transform="translate(122.6 476.4) scale(0.862 1)">59.8</text>
<text y="3" font-size="8.7" text-anchor="middle" fill="#111" transform="translate(143.8 476.4) scale(0.862 1)">37.4</text>
<text y="3" font-size="8.7" text-anchor="middle" fill="#111" transform="translate(59 497.2) scale(0.862 1)">93.0</text>
<text y="3" font-size="8.7" text-anchor="middle" fill="#111" transform="translate(80.2 497.2) scale(0.862 1)">91.4</text>
<text y="3" font-size="8.7" text-anchor="middle" fill="#111" transform="translate(101.4 497.2) scale(0.862 1)">86.1</text>
<text y="3" font-size="8.7" text-anchor="middle" fill="#111" transform="translate(122.6 497.2) scale(0.862 1)">62.7</text>
<text y="3" font-size="8.7" text-anchor="middle" fill="#111" transform="translate(143.8 497.2) scale(0.862 1)">39.1</text>
<text y="3" font-size="8.7" text-anchor="middle" fill="#111" transform="translate(59 518) scale(0.862 1)">100</text>
<text y="3" font-size="8.7" text-anchor="middle" fill="#111" transform="translate(80.2 518) scale(0.862 1)">98.5</text>
<text y="3" font-size="8.7" text-anchor="middle" fill="#111" transform="translate(101.4 518) scale(0.862 1)">87.4</text>
<text y="3" font-size="8.7" text-anchor="middle" fill="#111" transform="translate(122.6 518) scale(0.862 1)">64.8</text>
<text y="3" font-size="8.7" text-anchor="middle" fill="#111" transform="translate(143.8 518) scale(0.862 1)">39.4</text>
<line x1="45.8" y1="434.8" x2="48.4" y2="434.8" stroke="#333" stroke-width="0.8"/>
<text y="2.9" font-size="8.24" text-anchor="middle" fill="#222" transform="translate(32.1 434.8) scale(0.862 1)">10000</text>
<line x1="45.8" y1="455.6" x2="48.4" y2="455.6" stroke="#333" stroke-width="0.8"/>
<text y="2.9" font-size="8.24" text-anchor="middle" fill="#222" transform="translate(32.1 455.6) scale(0.862 1)">1000</text>
<line x1="45.8" y1="476.4" x2="48.4" y2="476.4" stroke="#333" stroke-width="0.8"/>
<text y="2.9" font-size="8.24" text-anchor="middle" fill="#222" transform="translate(32.1 476.4) scale(0.862 1)">100</text>
<line x1="45.8" y1="497.2" x2="48.4" y2="497.2" stroke="#333" stroke-width="0.8"/>
<text y="2.9" font-size="8.24" text-anchor="middle" fill="#222" transform="translate(32.1 497.2) scale(0.862 1)">10</text>
<line x1="45.8" y1="518" x2="48.4" y2="518" stroke="#333" stroke-width="0.8"/>
<text y="2.9" font-size="8.24" text-anchor="middle" fill="#222" transform="translate(32.1 518) scale(0.862 1)">0</text>
<line x1="59" y1="528.4" x2="59" y2="531.4" stroke="#333" stroke-width="0.8"/>
<text y="2.9" font-size="8.24" text-anchor="middle" fill="#222" transform="translate(59 538.2) scale(0.862 1)">0</text>
<line x1="80.2" y1="528.4" x2="80.2" y2="531.4" stroke="#333" stroke-width="0.8"/>
<text y="2.9" font-size="8.24" text-anchor="middle" fill="#222" transform="translate(80.2 538.2) scale(0.862 1)">50</text>
<line x1="101.4" y1="528.4" x2="101.4" y2="531.4" stroke="#333" stroke-width="0.8"/>
<text y="2.9" font-size="8.24" text-anchor="middle" fill="#222" transform="translate(101.4 538.2) scale(0.862 1)">500</text>
<line x1="122.6" y1="528.4" x2="122.6" y2="531.4" stroke="#333" stroke-width="0.8"/>
<text y="2.9" font-size="8.24" text-anchor="middle" fill="#222" transform="translate(122.6 538.2) scale(0.862 1)">5000</text>
<line x1="143.8" y1="528.4" x2="143.8" y2="531.4" stroke="#333" stroke-width="0.8"/>
<text y="2.9" font-size="8.24" text-anchor="middle" fill="#222" transform="translate(143.8 538.2) scale(0.862 1)">50000</text>
<text y="3.2" font-size="9.05" text-anchor="middle" font-weight="bold" transform="translate(103.9 548) scale(0.862 1)">Sotorasib (nM)</text>
<text y="3.2" font-size="9.05" text-anchor="middle" font-weight="bold" transform="translate(17.9 478.9) rotate(-90) scale(0.862 1)">Spermine (nM)</text>
<text y="3.2" font-size="9.16" text-anchor="middle" font-weight="bold" transform="translate(102.2 394.5) scale(0.862 1)">H23 Sotorasib-resistant cells</text>
<text y="3" font-size="8.47" text-anchor="middle" fill="#222" transform="translate(103.7 403.1) scale(0.862 1)">Relative Viability (%)</text>
<text y="2.9" font-size="8.24" text-anchor="middle" fill="#222" transform="translate(58.2 411.3) scale(0.862 1)">0</text>
<text y="2.9" font-size="8.24" text-anchor="middle" fill="#222" transform="translate(76.6 411.3) scale(0.862 1)">20</text>
<text y="2.9" font-size="8.24" text-anchor="middle" fill="#222" transform="translate(94.4 411.3) scale(0.862 1)">40</text>
<text y="2.9" font-size="8.24" text-anchor="middle" fill="#222" transform="translate(112.2 411.3) scale(0.862 1)">60</text>
<text y="2.9" font-size="8.24" text-anchor="middle" fill="#222" transform="translate(130.1 411.3) scale(0.862 1)">80</text>
<text y="2.9" font-size="8.24" text-anchor="middle" fill="#222" transform="translate(148.1 411.3) scale(0.862 1)">100</text>
<rect x="57.6" y="414.3" width="90.5" height="3.1" fill="url(#gR)"/>
<rect x="377.7" y="424.4" width="21.4" height="21.1" fill="#e9898b"/>
<rect x="398.9" y="424.4" width="21.4" height="21.1" fill="#e98486"/>
<rect x="420.1" y="424.4" width="21.4" height="21.1" fill="#e98b8d"/>
<rect x="441.3" y="424.4" width="21.4" height="21.1" fill="#eeb3b5"/>
<rect x="462.5" y="424.4" width="21.4" height="21.1" fill="#f2d1d2"/>
<rect x="377.7" y="445.2" width="21.4" height="21.1" fill="#e7696b"/>
<rect x="398.9" y="445.2" width="21.4" height="21.1" fill="#e65e60"/>
<rect x="420.1" y="445.2" width="21.4" height="21.1" fill="#e87375"/>
<rect x="441.3" y="445.2" width="21.4" height="21.1" fill="#edabad"/>
<rect x="462.5" y="445.2" width="21.4" height="21.1" fill="#f0c3c4"/>
<rect x="377.7" y="466" width="21.4" height="21.1" fill="#e43838"/>
<rect x="398.9" y="466" width="21.4" height="21.1" fill="#e43737"/>
<rect x="420.1" y="466" width="21.4" height="21.1" fill="#e65557"/>
<rect x="441.3" y="466" width="21.4" height="21.1" fill="#ea989a"/>
<rect x="462.5" y="466" width="21.4" height="21.1" fill="#efbcbe"/>
<rect x="377.7" y="486.8" width="21.4" height="21.1" fill="#e43334"/>
<rect x="398.9" y="486.8" width="21.4" height="21.1" fill="#e43535"/>
<rect x="420.1" y="486.8" width="21.4" height="21.1" fill="#e5494a"/>
<rect x="441.3" y="486.8" width="21.4" height="21.1" fill="#ea9496"/>
<rect x="462.5" y="486.8" width="21.4" height="21.1" fill="#efb8b9"/>
<rect x="377.7" y="507.6" width="21.4" height="21.1" fill="#e32626"/>
<rect x="398.9" y="507.6" width="21.4" height="21.1" fill="#e42f2f"/>
<rect x="420.1" y="507.6" width="21.4" height="21.1" fill="#e54d4f"/>
<rect x="441.3" y="507.6" width="21.4" height="21.1" fill="#ea9496"/>
<rect x="462.5" y="507.6" width="21.4" height="21.1" fill="#efb8b9"/>
<text y="3" font-size="8.7" text-anchor="middle" fill="#111" transform="translate(388.3 434.8) scale(0.862 1)">48.9</text>
<text y="3" font-size="8.7" text-anchor="middle" fill="#111" transform="translate(409.5 434.8) scale(0.862 1)">51.2</text>
<text y="3" font-size="8.7" text-anchor="middle" fill="#111" transform="translate(430.7 434.8) scale(0.862 1)">48.2</text>
<text y="3" font-size="8.7" text-anchor="middle" fill="#111" transform="translate(451.9 434.8) scale(0.862 1)">31.8</text>
<text y="3" font-size="8.7" text-anchor="middle" fill="#111" transform="translate(473.1 434.8) scale(0.862 1)">20.6</text>
<text y="3" font-size="8.7" text-anchor="middle" fill="#111" transform="translate(388.3 455.6) scale(0.862 1)">64.0</text>
<text y="3" font-size="8.7" text-anchor="middle" fill="#111" transform="translate(409.5 455.6) scale(0.862 1)">69.3</text>
<text y="3" font-size="8.7" text-anchor="middle" fill="#111" transform="translate(430.7 455.6) scale(0.862 1)">59.1</text>
<text y="3" font-size="8.7" text-anchor="middle" fill="#111" transform="translate(451.9 455.6) scale(0.862 1)">34.8</text>
<text y="3" font-size="8.7" text-anchor="middle" fill="#111" transform="translate(473.1 455.6) scale(0.862 1)">25.9</text>
<text y="3" font-size="8.7" text-anchor="middle" fill="#111" transform="translate(388.3 476.4) scale(0.862 1)">90.0</text>
<text y="3" font-size="8.7" text-anchor="middle" fill="#111" transform="translate(409.5 476.4) scale(0.862 1)">90.6</text>
<text y="3" font-size="8.7" text-anchor="middle" fill="#111" transform="translate(430.7 476.4) scale(0.862 1)">73.4</text>
<text y="3" font-size="8.7" text-anchor="middle" fill="#111" transform="translate(451.9 476.4) scale(0.862 1)">42.0</text>
<text y="3" font-size="8.7" text-anchor="middle" fill="#111" transform="translate(473.1 476.4) scale(0.862 1)">28.3</text>
<text y="3" font-size="8.7" text-anchor="middle" fill="#111" transform="translate(388.3 497.2) scale(0.862 1)">92.4</text>
<text y="3" font-size="8.7" text-anchor="middle" fill="#111" transform="translate(409.5 497.2) scale(0.862 1)">91.7</text>
<text y="3" font-size="8.7" text-anchor="middle" fill="#111" transform="translate(430.7 497.2) scale(0.862 1)">80.4</text>
<text y="3" font-size="8.7" text-anchor="middle" fill="#111" transform="translate(451.9 497.2) scale(0.862 1)">43.9</text>
<text y="3" font-size="8.7" text-anchor="middle" fill="#111" transform="translate(473.1 497.2) scale(0.862 1)">30.0</text>
<text y="3" font-size="8.7" text-anchor="middle" fill="#111" transform="translate(388.3 518) scale(0.862 1)">100</text>
<text y="3" font-size="8.7" text-anchor="middle" fill="#111" transform="translate(409.5 518) scale(0.862 1)">94.9</text>
<text y="3" font-size="8.7" text-anchor="middle" fill="#111" transform="translate(430.7 518) scale(0.862 1)">77.9</text>
<text y="3" font-size="8.7" text-anchor="middle" fill="#111" transform="translate(451.9 518) scale(0.862 1)">44.0</text>
<text y="3" font-size="8.7" text-anchor="middle" fill="#111" transform="translate(473.1 518) scale(0.862 1)">30.1</text>
<line x1="375.1" y1="434.8" x2="377.7" y2="434.8" stroke="#333" stroke-width="0.8"/>
<text y="2.9" font-size="8.24" text-anchor="middle" fill="#222" transform="translate(360.7 434.8) scale(0.862 1)">10000</text>
<line x1="375.1" y1="455.6" x2="377.7" y2="455.6" stroke="#333" stroke-width="0.8"/>
<text y="2.9" font-size="8.24" text-anchor="middle" fill="#222" transform="translate(360.7 455.6) scale(0.862 1)">1000</text>
<line x1="375.1" y1="476.4" x2="377.7" y2="476.4" stroke="#333" stroke-width="0.8"/>
<text y="2.9" font-size="8.24" text-anchor="middle" fill="#222" transform="translate(360.7 476.4) scale(0.862 1)">100</text>
<line x1="375.1" y1="497.2" x2="377.7" y2="497.2" stroke="#333" stroke-width="0.8"/>
<text y="2.9" font-size="8.24" text-anchor="middle" fill="#222" transform="translate(360.7 497.2) scale(0.862 1)">10</text>
<line x1="375.1" y1="518" x2="377.7" y2="518" stroke="#333" stroke-width="0.8"/>
<text y="2.9" font-size="8.24" text-anchor="middle" fill="#222" transform="translate(360.7 518) scale(0.862 1)">0</text>
<line x1="388.3" y1="528.4" x2="388.3" y2="531.4" stroke="#333" stroke-width="0.8"/>
<text y="2.9" font-size="8.24" text-anchor="middle" fill="#222" transform="translate(388.3 538.2) scale(0.862 1)">0</text>
<line x1="409.5" y1="528.4" x2="409.5" y2="531.4" stroke="#333" stroke-width="0.8"/>
<text y="2.9" font-size="8.24" text-anchor="middle" fill="#222" transform="translate(409.5 538.2) scale(0.862 1)">50</text>
<line x1="430.7" y1="528.4" x2="430.7" y2="531.4" stroke="#333" stroke-width="0.8"/>
<text y="2.9" font-size="8.24" text-anchor="middle" fill="#222" transform="translate(430.7 538.2) scale(0.862 1)">500</text>
<line x1="451.9" y1="528.4" x2="451.9" y2="531.4" stroke="#333" stroke-width="0.8"/>
<text y="2.9" font-size="8.24" text-anchor="middle" fill="#222" transform="translate(451.9 538.2) scale(0.862 1)">5000</text>
<line x1="473.1" y1="528.4" x2="473.1" y2="531.4" stroke="#333" stroke-width="0.8"/>
<text y="2.9" font-size="8.24" text-anchor="middle" fill="#222" transform="translate(473.1 538.2) scale(0.862 1)">50000</text>
<text y="3.2" font-size="9.05" text-anchor="middle" font-weight="bold" transform="translate(433.2 548) scale(0.862 1)">Adagrasib (nM)</text>
<text y="3.2" font-size="9.05" text-anchor="middle" font-weight="bold" transform="translate(347 478.9) rotate(-90) scale(0.862 1)">Spermine (nM)</text>
<text y="3.2" font-size="9.16" text-anchor="middle" font-weight="bold" transform="translate(431.5 394.5) scale(0.862 1)">H23 Adagrasib-resistant cells</text>
<text y="3" font-size="8.47" text-anchor="middle" fill="#222" transform="translate(433 403.1) scale(0.862 1)">Relative Viability (%)</text>
<text y="2.9" font-size="8.24" text-anchor="middle" fill="#222" transform="translate(387.5 411.3) scale(0.862 1)">0</text>
<text y="2.9" font-size="8.24" text-anchor="middle" fill="#222" transform="translate(405.9 411.3) scale(0.862 1)">20</text>
<text y="2.9" font-size="8.24" text-anchor="middle" fill="#222" transform="translate(423.7 411.3) scale(0.862 1)">40</text>
<text y="2.9" font-size="8.24" text-anchor="middle" fill="#222" transform="translate(441.5 411.3) scale(0.862 1)">60</text>
<text y="2.9" font-size="8.24" text-anchor="middle" fill="#222" transform="translate(459.4 411.3) scale(0.862 1)">80</text>
<text y="2.9" font-size="8.24" text-anchor="middle" fill="#222" transform="translate(477.4 411.3) scale(0.862 1)">100</text>
<rect x="386.9" y="414.3" width="90.5" height="3.1" fill="url(#gR)"/>
<line x1="198.3" y1="327.3" x2="191.2" y2="272.9" stroke="#d9d9d9" stroke-width="0.5"/>
<line x1="309.9" y1="327.3" x2="317.1" y2="272.9" stroke="#d9d9d9" stroke-width="0.5"/>
<line x1="254.1" y1="361.2" x2="198.3" y2="327.3" stroke="#d9d9d9" stroke-width="0.5"/>
<line x1="254.1" y1="361.2" x2="309.9" y2="327.3" stroke="#d9d9d9" stroke-width="0.5"/>
<line x1="213.8" y1="320.5" x2="208.9" y2="267.6" stroke="#d9d9d9" stroke-width="0.5"/>
<line x1="294.4" y1="320.5" x2="299.3" y2="267.6" stroke="#d9d9d9" stroke-width="0.5"/>
<line x1="270" y1="351.6" x2="213.8" y2="320.5" stroke="#d9d9d9" stroke-width="0.5"/>
<line x1="238.3" y1="351.6" x2="294.4" y2="320.5" stroke="#d9d9d9" stroke-width="0.5"/>
<line x1="228.3" y1="314.1" x2="225.2" y2="262.7" stroke="#d9d9d9" stroke-width="0.5"/>
<line x1="280" y1="314.1" x2="283" y2="262.7" stroke="#d9d9d9" stroke-width="0.5"/>
<line x1="284.4" y1="342.8" x2="228.3" y2="314.1" stroke="#d9d9d9" stroke-width="0.5"/>
<line x1="223.8" y1="342.8" x2="280" y2="314.1" stroke="#d9d9d9" stroke-width="0.5"/>
<line x1="241.6" y1="308.2" x2="240.2" y2="258.1" stroke="#d9d9d9" stroke-width="0.5"/>
<line x1="266.6" y1="308.2" x2="268" y2="258.1" stroke="#d9d9d9" stroke-width="0.5"/>
<line x1="297.7" y1="334.7" x2="241.6" y2="308.2" stroke="#d9d9d9" stroke-width="0.5"/>
<line x1="210.5" y1="334.7" x2="266.6" y2="308.2" stroke="#d9d9d9" stroke-width="0.5"/>
<line x1="254.1" y1="302.7" x2="254.1" y2="253.9" stroke="#d9d9d9" stroke-width="0.5"/>
<line x1="254.1" y1="302.7" x2="254.1" y2="253.9" stroke="#d9d9d9" stroke-width="0.5"/>
<line x1="309.9" y1="327.3" x2="254.1" y2="302.7" stroke="#d9d9d9" stroke-width="0.5"/>
<line x1="198.3" y1="327.3" x2="254.1" y2="302.7" stroke="#d9d9d9" stroke-width="0.5"/>
<line x1="198.3" y1="327.3" x2="254.1" y2="302.7" stroke="#d9d9d9" stroke-width="0.5"/>
<line x1="309.9" y1="327.3" x2="254.1" y2="302.7" stroke="#d9d9d9" stroke-width="0.5"/>
<line x1="197.4" y1="320.3" x2="254.1" y2="296.3" stroke="#d9d9d9" stroke-width="0.5"/>
<line x1="310.9" y1="320.3" x2="254.1" y2="296.3" stroke="#d9d9d9" stroke-width="0.5"/>
<line x1="196.4" y1="313.1" x2="254.1" y2="289.8" stroke="#d9d9d9" stroke-width="0.5"/>
<line x1="311.8" y1="313.1" x2="254.1" y2="289.8" stroke="#d9d9d9" stroke-width="0.5"/>
<line x1="195.5" y1="305.6" x2="254.1" y2="283" stroke="#9a9a9a" stroke-width="0.6"/>
<line x1="312.8" y1="305.6" x2="254.1" y2="283" stroke="#9a9a9a" stroke-width="0.6"/>
<line x1="194.4" y1="297.9" x2="254.1" y2="276.1" stroke="#d9d9d9" stroke-width="0.5"/>
<line x1="313.8" y1="297.9" x2="254.1" y2="276.1" stroke="#d9d9d9" stroke-width="0.5"/>
<line x1="193.4" y1="289.8" x2="254.1" y2="268.9" stroke="#d9d9d9" stroke-width="0.5"/>
<line x1="314.8" y1="289.8" x2="254.1" y2="268.9" stroke="#d9d9d9" stroke-width="0.5"/>
<line x1="192.3" y1="281.5" x2="254.1" y2="261.5" stroke="#d9d9d9" stroke-width="0.5"/>
<line x1="315.9" y1="281.5" x2="254.1" y2="261.5" stroke="#d9d9d9" stroke-width="0.5"/>
<line x1="191.2" y1="272.9" x2="254.1" y2="253.9" stroke="#d9d9d9" stroke-width="0.5"/>
<line x1="317.1" y1="272.9" x2="254.1" y2="253.9" stroke="#d9d9d9" stroke-width="0.5"/>
<g stroke="#2a2a2a" stroke-width="1.75" stroke-linejoin="round" transform="scale(0.2)">
<path fill="#f6aaa7" d="M1271 1390l12 -4 -12 -4 -13 4z"/>
<path fill="#f5a29f" stroke="#6a3a36" d="M1284 1393l13 -4 -14 -3 -12 4zM1258 1393l13 -3 -13 -4 -13 3zM1271 1396l13 -3 -13 -3 -13 3zM1297 1395l13 -4 -13 -2 -13 4zM1244 1395l14 -2 -13 -4 -14 2z"/>
<path fill="#f49a97" stroke="#6a3a36" d="M1284 1398l13 -3 -13 -2 -13 3zM1257 1398l14 -2 -13 -3 -14 2zM1310 1397l13 -4 -13 -2 -13 4zM1231 1397l13 -2 -13 -4 -13 2z"/>
<path fill="#f49a97" stroke="#9a4a44" d="M1271 1400l13 -2 -13 -2 -14 2z"/>
<path fill="#f4928e" stroke="#6a3a36" d="M1297 1400l13 -3 -13 -2 -13 3zM1244 1400l13 -2 -13 -3 -13 2zM1324 1398l13 -4 -14 -1 -13 4zM1217 1398l14 -1 -13 -4 -14 1z"/>
<path fill="#f38b86" stroke="#6a3a36" d="M1338 1399l13 -4 -14 -1 -13 4zM1203 1399l14 -1 -13 -4 -14 1z"/>
<path fill="#f38b86" stroke="#9a4a44" d="M1311 1401l13 -3 -14 -1 -13 3zM1230 1401l14 -1 -13 -3 -14 1z"/>
<path fill="#f4928e" stroke="#9a4a44" d="M1284 1401l13 -1 -13 -2 -13 2zM1257 1401l14 -1 -14 -2 -13 2z"/>
<path fill="#f2837e" stroke="#6a3a36" d="M1353 1400l12 -4 -14 -1 -13 4zM1189 1400l14 -1 -13 -4 -14 1z"/>
<path fill="#f2837e" stroke="#9a4a44" d="M1325 1402l13 -3 -14 -1 -13 3zM1216 1402l14 -1 -13 -3 -14 1z"/>
<path fill="#f38b86" stroke="#9a4a44" d="M1298 1402l13 -1 -14 -1 -13 1zM1243 1402l14 -1 -13 -1 -14 1zM1271 1402l13 -1 -13 -1 -14 1z"/>
<path fill="#f17b76" stroke="#6a3a36" d="M1367 1402l13 -4 -15 -2 -12 4zM1174 1402l15 -2 -13 -4 -15 2z"/>
<path fill="#f17b76" stroke="#9a4a44" d="M1340 1402l13 -2 -15 -1 -13 3zM1202 1402l14 0 -13 -3 -14 1z"/>
<path fill="#f2837e" stroke="#9a4a44" d="M1312 1403l13 -1 -14 -1 -13 1zM1229 1403l14 -1 -13 -1 -14 1zM1257 1403l14 -1 -14 -1 -14 1zM1284 1403l14 -1 -14 -1 -13 1z"/>
<path fill="#f0746e" stroke="#6a3a36" d="M1382 1404l13 -4 -15 -2 -13 4zM1159 1404l15 -2 -13 -4 -15 2z"/>
<path fill="#f0746e" stroke="#9a4a44" d="M1354 1404l13 -2 -14 -2 -13 2zM1187 1404l15 -2 -13 -2 -15 2z"/>
<path fill="#f17b76" stroke="#9a4a44" d="M1326 1403l14 -1 -15 0 -13 1zM1215 1403l14 0 -13 -1 -14 0zM1243 1403l14 0 -14 -1 -14 1zM1298 1403l14 0 -14 -1 -14 1zM1271 1403l13 0 -13 -1 -14 1z"/>
<path fill="#ef6c66" stroke="#6a3a36" d="M1397 1406l13 -4 -15 -2 -13 4zM1144 1406l15 -2 -13 -4 -15 2z"/>
<path fill="#f0746e" stroke="#6a3a36" d="M1369 1406l13 -2 -15 -2 -13 2zM1172 1406l15 -2 -13 -2 -15 2z"/>
<path fill="#f0746e" stroke="#9a4a44" d="M1341 1404l13 0 -14 -2 -14 1zM1200 1404l15 -1 -13 -1 -15 2z"/>
<path fill="#ef6c66" stroke="#9a4a44" d="M1228 1403l15 0 -14 0 -14 0zM1313 1403l13 0 -14 0 -14 0zM1285 1402l13 1 -14 0 -13 0zM1257 1402l14 1 -14 0 -14 0z"/>
<path fill="#ef6c66" d="M1412 1410l13 -4 -15 -4 -13 4zM1129 1410l15 -4 -13 -4 -15 4z"/>
<path fill="#ef6c66" stroke="#6a3a36" d="M1384 1408l13 -2 -15 -2 -13 2zM1157 1408l15 -2 -13 -2 -15 2z"/>
<path fill="#ef6c66" stroke="#9a4a44" d="M1356 1406l13 0 -15 -2 -13 0zM1185 1406l15 -2 -13 0 -15 2z"/>
<path fill="#ef645e" stroke="#9a4a44" d="M1214 1404l14 -1 -13 0 -15 1zM1327 1404l14 0 -15 -1 -13 0zM1299 1402l14 1 -15 0 -13 -1zM1242 1402l15 0 -14 1 -15 0zM1271 1402l14 0 -14 1 -14 -1z"/>
<path fill="#ef6c66" d="M1114 1416l15 -6 -13 -4 -15 6zM1428 1416l12 -4 -15 -6 -13 4z"/>
<path fill="#ef645e" stroke="#6a3a36" d="M1399 1412l13 -2 -15 -4 -13 2zM1142 1412l15 -4 -13 -2 -15 4z"/>
<path fill="#ef645e" stroke="#9a4a44" d="M1371 1409l13 -1 -15 -2 -13 0zM1170 1409l15 -3 -13 0 -15 2z"/>
<path fill="#ee5c56" stroke="#9a4a44" d="M1199 1405l15 -1 -14 0 -15 2zM1342 1405l14 1 -15 -2 -14 0zM1314 1402l13 2 -14 -1 -14 -1zM1228 1402l14 0 -14 1 -14 1z"/>
<path fill="#ef6c66" d="M1443 1421l13 -4 -16 -5 -12 4zM1098 1421l16 -5 -13 -4 -16 5z"/>
<path fill="#ee5c56" stroke="#9a4a44" d="M1285 1401l14 1 -14 0 -14 0zM1256 1401l15 1 -14 0 -15 0z"/>
<path fill="#ef645e" d="M1415 1418l13 -2 -16 -6 -13 2zM1126 1418l16 -6 -13 -2 -15 6z"/>
<path fill="#ee5c56" stroke="#6a3a36" d="M1386 1413l13 -1 -15 -4 -13 1zM1155 1413l15 -4 -13 -1 -15 4z"/>
<path fill="#ee5c56" stroke="#9a4a44" d="M1184 1408l15 -3 -14 1 -15 3zM1357 1408l14 1 -15 -3 -14 -1z"/>
<path fill="#ef6c66" d="M1459 1427l13 -4 -16 -6 -13 4zM1082 1427l16 -6 -13 -4 -16 6z"/>
<path fill="#ed544e" stroke="#9a4a44" d="M1329 1404l13 1 -15 -1 -13 -2zM1213 1404l15 -2 -14 2 -15 1z"/>
<path fill="#ec4d46" stroke="#9a4a44" d="M1300 1401l14 1 -15 0 -14 -1zM1242 1401l14 0 -14 1 -14 0z"/>
<path fill="#ef645e" d="M1430 1423l13 -2 -15 -5 -13 2zM1111 1423l15 -5 -12 -2 -16 5z"/>
<path fill="#ec4d46" stroke="#9a4a44" d="M1271 1400l14 1 -14 1 -15 -1z"/>
<path fill="#ee5c56" stroke="#6a3a36" d="M1402 1418l13 0 -16 -6 -13 1zM1139 1418l16 -5 -13 -1 -16 6z"/>
<path fill="#ef6c66" d="M1475 1433l13 -5 -16 -5 -13 4zM1066 1433l16 -6 -13 -4 -16 5z"/>
<path fill="#ed544e" stroke="#9a4a44" d="M1168 1411l16 -3 -14 1 -15 4zM1373 1411l13 2 -15 -4 -14 -1z"/>
<path fill="#ef645e" d="M1446 1429l13 -2 -16 -6 -13 2zM1095 1429l16 -6 -13 -2 -16 6z"/>
<path fill="#ec4d46" stroke="#9a4a44" d="M1344 1406l13 2 -15 -3 -13 -1zM1197 1406l16 -2 -14 1 -15 3z"/>
<path fill="#eb453e" stroke="#9a4a44" d="M1315 1401l14 3 -15 -2 -14 -1zM1227 1401l15 0 -14 1 -15 2zM1285 1399l15 2 -15 0 -14 -1zM1256 1399l15 1 -15 1 -14 0z"/>
<path fill="#ee5c56" stroke="#6a3a36" d="M1417 1424l13 -1 -15 -5 -13 0zM1124 1424l15 -6 -13 0 -15 5z"/>
<path fill="#ef6c66" d="M1491 1444l13 -6 -16 -10 -13 5zM1050 1444l16 -11 -13 -5 -16 10z"/>
<path fill="#ed544e" stroke="#9a4a44" d="M1153 1417l15 -6 -13 2 -16 5zM1388 1417l14 1 -16 -5 -13 -2z"/>
<path fill="#ef645e" d="M1463 1436l12 -3 -16 -6 -13 2zM1079 1436l16 -7 -13 -2 -16 6z"/>
<path fill="#f17b76" d="M1507 1461l13 -8 -16 -15 -13 6zM1034 1461l16 -17 -13 -6 -16 15z"/>
<path fill="#eb453e" stroke="#9a4a44" d="M1359 1409l14 2 -16 -3 -13 -2zM1182 1409l15 -3 -13 2 -16 3z"/>
<path fill="#ee5c56" stroke="#6a3a36" d="M1434 1429l12 0 -16 -6 -13 1zM1108 1429l16 -5 -13 -1 -16 6z"/>
<path fill="#ea3d36" stroke="#9a4a44" d="M1330 1403l14 3 -15 -2 -14 -3zM1211 1403l16 -2 -14 3 -16 2z"/>
<path fill="#f4928e" d="M1522 1481l13 -7 -15 -21 -13 8zM1019 1481l15 -20 -13 -8 -15 21z"/>
<path fill="#ea3d36" stroke="#9a4a44" d="M1300 1399l15 2 -15 0 -15 -2zM1241 1399l15 0 -14 2 -15 0z"/>
<path fill="#ea362e" stroke="#9a4a44" d="M1271 1398l14 1 -14 1 -15 -1z"/>
<path fill="#ef6c66" d="M1478 1449l13 -5 -16 -11 -12 3zM1063 1449l16 -13 -13 -3 -16 11z"/>
<path fill="#ed544e" stroke="#6a3a36" d="M1404 1423l13 1 -15 -6 -14 -1zM1137 1423l16 -6 -14 1 -15 6z"/>
<path fill="#f7b2af" d="M1537 1506l13 -7 -15 -25 -13 7zM1004 1506l15 -25 -13 -7 -15 25z"/>
<path fill="#fce0df" d="M1552 1535l12 -7 -14 -29 -13 7zM990 1535l14 -29 -13 -7 -14 29z"/>
<path fill="#eb453e" stroke="#9a4a44" d="M1375 1415l13 2 -15 -6 -14 -2zM1166 1415l16 -6 -14 2 -15 6z"/>
<path fill="#ee5c56" d="M1450 1438l13 -2 -17 -7 -12 0zM1092 1438l16 -9 -13 0 -16 7z"/>
<path fill="#f17b76" d="M1494 1466l13 -5 -16 -17 -13 5zM1047 1466l16 -17 -13 -5 -16 17z"/>
<path fill="#ea3d36" stroke="#9a4a44" d="M1345 1407l14 2 -15 -3 -14 -3zM1196 1407l15 -4 -14 3 -15 3z"/>
<path fill="#ed544e" stroke="#6a3a36" d="M1420 1429l14 0 -17 -5 -13 -1zM1121 1429l16 -6 -13 1 -16 5z"/>
<path fill="#ea362e" stroke="#9a4a44" d="M1316 1401l14 2 -15 -2 -15 -2zM1226 1401l15 -2 -14 2 -16 2z"/>
<path fill="#f4928e" d="M1510 1487l12 -6 -15 -20 -13 5zM1032 1487l15 -21 -13 -5 -15 20z"/>
<path fill="#e92e26" stroke="#9a4a44" d="M1286 1398l14 1 -15 0 -14 -1zM1256 1398l15 0 -15 1 -15 0z"/>
<path fill="#ef645e" d="M1466 1452l12 -3 -15 -13 -13 2zM1076 1452l16 -14 -13 -2 -16 13z"/>
<path fill="#f7b2af" d="M1525 1513l12 -7 -15 -25 -12 6zM1017 1513l15 -26 -13 -6 -15 25z"/>
<path fill="#fce0df" d="M1539 1541l13 -6 -15 -29 -12 7zM1002 1541l15 -28 -13 -7 -14 29z"/>
<path fill="#eb453e" stroke="#9a4a44" d="M1391 1421l13 2 -16 -6 -13 -2zM1150 1421l16 -6 -13 2 -16 6z"/>
<path fill="#ea3d36" stroke="#9a4a44" d="M1180 1412l16 -5 -14 2 -16 6zM1361 1412l14 3 -16 -6 -14 -2z"/>
<path fill="#f17b76" d="M1481 1470l13 -4 -16 -17 -12 3zM1060 1470l16 -18 -13 -3 -16 17z"/>
<path fill="#ed544e" d="M1105 1439l16 -10 -13 0 -16 9zM1436 1439l14 -1 -16 -9 -14 0z"/>
<path fill="#e92e26" stroke="#9a4a44" d="M1331 1404l14 3 -15 -4 -14 -2zM1210 1404l16 -3 -15 2 -15 4z"/>
<path fill="#f4928e" d="M1497 1493l13 -6 -16 -21 -13 4zM1045 1493l15 -23 -13 -4 -15 21z"/>
<path fill="#e8261e" stroke="#9a4a44" d="M1301 1399l15 2 -16 -2 -14 -1zM1240 1399l16 -1 -15 1 -15 2z"/>
<path fill="#eb453e" stroke="#6a3a36" d="M1407 1428l13 1 -16 -6 -13 -2zM1134 1428l16 -7 -13 2 -16 6z"/>
<path fill="#e8261e" stroke="#9a4a44" d="M1271 1398l15 0 -15 0 -15 0z"/>
<path fill="#f7b2af" d="M1512 1519l13 -6 -15 -26 -13 6zM1030 1519l15 -26 -13 -6 -15 26z"/>
<path fill="#ef645e" d="M1089 1454l16 -15 -13 -1 -16 14zM1452 1454l14 -2 -16 -14 -14 1z"/>
<path fill="#fce0df" d="M1526 1548l13 -7 -14 -28 -13 6zM1015 1548l15 -29 -13 -6 -15 28z"/>
<path fill="#ea362e" stroke="#9a4a44" d="M1377 1418l14 3 -16 -6 -14 -3zM1164 1418l16 -6 -14 3 -16 6z"/>
<path fill="#f0746e" d="M1468 1474l13 -4 -15 -18 -14 2zM1073 1474l16 -20 -13 -2 -16 18z"/>
<path fill="#e92e26" stroke="#9a4a44" d="M1194 1410l16 -6 -14 3 -16 5zM1347 1410l14 2 -16 -5 -14 -3z"/>
<path fill="#ec4d46" d="M1423 1440l13 -1 -16 -10 -13 -1zM1118 1440l16 -12 -13 1 -16 10z"/>
<path fill="#e8261e" stroke="#9a4a44" d="M1317 1403l14 1 -15 -3 -15 -2zM1225 1403l15 -4 -14 2 -16 3z"/>
<path fill="#f38b86" d="M1484 1497l13 -4 -16 -23 -13 4zM1058 1497l15 -23 -13 -4 -15 23z"/>
<path fill="#e8261e" stroke="#9a4a44" d="M1286 1399l15 0 -15 -1 -15 0zM1255 1399l16 -1 -15 0 -16 1z"/>
<path fill="#ea3d36" stroke="#6a3a36" d="M1393 1427l14 1 -16 -7 -14 -3zM1148 1427l16 -9 -14 3 -16 7z"/>
<path fill="#f7b2af" d="M1043 1525l15 -28 -13 -4 -15 26zM1499 1525l13 -6 -15 -26 -13 4z"/>
<path fill="#fce0df" d="M1513 1555l13 -7 -14 -29 -13 6zM1028 1555l15 -30 -13 -6 -15 29z"/>
<path fill="#ee5c56" d="M1439 1456l13 -2 -16 -15 -13 1zM1102 1456l16 -16 -13 -1 -16 15z"/>
<path fill="#e92e26" stroke="#9a4a44" d="M1363 1416l14 2 -16 -6 -14 -2zM1178 1416l16 -6 -14 2 -16 6z"/>
<path fill="#ef6c66" d="M1455 1477l13 -3 -16 -20 -13 2zM1086 1477l16 -21 -13 -2 -16 20z"/>
<path fill="#e8261e" stroke="#9a4a44" d="M1332 1408l15 2 -16 -6 -14 -1zM1209 1408l16 -5 -15 1 -16 6z"/>
<path fill="#eb453e" d="M1409 1440l14 0 -16 -12 -14 -1zM1132 1440l16 -13 -14 1 -16 12z"/>
<path fill="#e8261e" stroke="#9a4a44" d="M1302 1402l15 1 -16 -4 -15 0zM1240 1402l15 -3 -15 0 -15 4z"/>
<path fill="#f38b86" d="M1470 1502l14 -5 -16 -23 -13 3zM1071 1502l15 -25 -13 -3 -15 23z"/>
<path fill="#e8261e" stroke="#9a4a44" d="M1271 1400l15 -1 -15 -1 -16 1z"/>
<path fill="#f7b2af" d="M1485 1531l14 -6 -15 -28 -14 5zM1056 1531l15 -29 -13 -5 -15 28z"/>
<path fill="#fce0df" d="M1500 1562l13 -7 -14 -30 -14 6zM1041 1562l15 -31 -13 -6 -15 30z"/>
<path fill="#e92e26" d="M1379 1426l14 1 -16 -9 -14 -2zM1162 1426l16 -10 -14 2 -16 9z"/>
<path fill="#ed544e" d="M1425 1458l14 -2 -16 -16 -14 0zM1116 1458l16 -18 -14 0 -16 16z"/>
<path fill="#e8261e" stroke="#6a3a36" d="M1349 1415l14 1 -16 -6 -15 -2zM1193 1415l16 -7 -15 2 -16 6z"/>
<path fill="#ef645e" d="M1441 1481l14 -4 -16 -21 -14 2zM1100 1481l16 -23 -14 -2 -16 21z"/>
<path fill="#e8261e" stroke="#6a3a36" d="M1317 1407l15 1 -15 -5 -15 -1zM1224 1407l16 -5 -15 1 -16 5z"/>
<path fill="#ea362e" d="M1395 1441l14 -1 -16 -13 -14 -1zM1146 1441l16 -15 -14 1 -16 13z"/>
<path fill="#e8261e" stroke="#6a3a36" d="M1286 1403l16 -1 -16 -3 -15 1zM1255 1403l16 -3 -16 -1 -15 3z"/>
<path fill="#f2837e" d="M1457 1507l13 -5 -15 -25 -14 4zM1085 1507l15 -26 -14 -4 -15 25z"/>
<path fill="#fce0df" d="M1054 1570l15 -33 -13 -6 -15 31zM1487 1570l13 -8 -15 -31 -13 6z"/>
<path fill="#f6aaa7" d="M1472 1537l13 -6 -15 -29 -13 5zM1069 1537l16 -30 -14 -5 -15 29z"/>
<path fill="#e8261e" d="M1365 1427l14 -1 -16 -10 -14 -1zM1177 1427l16 -12 -15 1 -16 10z"/>
<path fill="#ec4d46" d="M1411 1461l14 -3 -16 -18 -14 1zM1130 1461l16 -20 -14 -1 -16 18z"/>
<path fill="#e8261e" d="M1334 1416l15 -1 -17 -7 -15 -1zM1208 1416l16 -9 -15 1 -16 7z"/>
<path fill="#ef645e" d="M1427 1484l14 -3 -16 -23 -14 3zM1114 1484l16 -23 -14 -3 -16 23z"/>
<path fill="#e8261e" d="M1239 1408l16 -5 -15 -1 -16 5zM1302 1408l15 -1 -15 -5 -16 1zM1271 1406l15 -3 -15 -3 -16 3z"/>
<path fill="#e92e26" d="M1381 1443l14 -2 -16 -15 -14 1zM1160 1443l17 -16 -15 -1 -16 15z"/>
<path fill="#f2837e" d="M1443 1512l14 -5 -16 -26 -14 3zM1098 1512l16 -28 -14 -3 -15 26z"/>
<path fill="#fbd8d7" d="M1473 1577l14 -7 -15 -33 -14 6zM1068 1577l15 -34 -14 -6 -15 33z"/>
<path fill="#f6aaa7" d="M1458 1543l14 -6 -15 -30 -14 5zM1083 1543l15 -31 -13 -5 -16 30z"/>
<path fill="#e8261e" d="M1350 1429l15 -2 -16 -12 -15 1zM1191 1429l17 -13 -15 -1 -16 12z"/>
<path fill="#eb453e" d="M1397 1464l14 -3 -16 -20 -14 2zM1144 1464l16 -21 -14 -2 -16 20z"/>
<path fill="#e8261e" d="M1223 1418l16 -10 -15 -1 -16 9zM1318 1418l16 -2 -17 -9 -15 1z"/>
<path fill="#ee5c56" d="M1413 1489l14 -5 -16 -23 -14 3zM1128 1489l16 -25 -14 -3 -16 23z"/>
<path fill="#e8261e" d="M1255 1412l16 -6 -16 -3 -16 5zM1287 1412l15 -4 -16 -5 -15 3zM1366 1447l15 -4 -16 -16 -15 2zM1175 1447l16 -18 -14 -2 -17 16z"/>
<path fill="#f17b76" d="M1429 1517l14 -5 -16 -28 -14 5zM1113 1517l15 -28 -14 -5 -16 28z"/>
<path fill="#fbd8d7" d="M1459 1584l14 -7 -15 -34 -14 6zM1082 1584l15 -35 -14 -6 -15 34z"/>
<path fill="#f6aaa7" d="M1444 1549l14 -6 -15 -31 -14 5zM1097 1549l16 -32 -15 -5 -15 31z"/>
<path fill="#e8261e" d="M1335 1433l15 -4 -16 -13 -16 2zM1207 1433l16 -15 -15 -2 -17 13z"/>
<path fill="#ea3d36" d="M1382 1468l15 -4 -16 -21 -15 4zM1159 1468l16 -21 -15 -4 -16 21z"/>
<path fill="#e8261e" d="M1303 1423l15 -5 -16 -10 -15 4zM1238 1423l17 -11 -16 -4 -16 10zM1271 1420l16 -8 -16 -6 -16 6z"/>
<path fill="#ed544e" d="M1398 1494l15 -5 -16 -25 -15 4zM1143 1494l16 -26 -15 -4 -16 25z"/>
<path fill="#e8261e" d="M1351 1451l15 -4 -16 -18 -15 4zM1190 1451l17 -18 -16 -4 -16 18z"/>
<path fill="#fbd8d7" d="M1445 1592l14 -8 -15 -35 -14 7zM1096 1592l15 -36 -14 -7 -15 35z"/>
<path fill="#f17b76" d="M1414 1524l15 -7 -16 -28 -15 5zM1127 1524l16 -30 -15 -5 -15 28z"/>
<path fill="#f5a29f" d="M1430 1556l14 -7 -15 -32 -15 7zM1111 1556l16 -32 -14 -7 -16 32z"/>
<path fill="#e8261e" d="M1319 1439l16 -6 -17 -15 -15 5zM1222 1439l16 -16 -15 -5 -16 15z"/>
<path fill="#ea3d36" d="M1367 1474l15 -6 -16 -21 -15 4zM1174 1474l16 -23 -15 -4 -16 21z"/>
<path fill="#e8261e" d="M1287 1434l16 -11 -16 -11 -16 8zM1254 1434l17 -14 -16 -8 -17 11z"/>
<path fill="#ed544e" d="M1383 1501l15 -7 -16 -26 -15 6zM1158 1501l16 -27 -15 -6 -16 26z"/>
<path fill="#e8261e" d="M1335 1459l16 -8 -16 -18 -16 6zM1206 1459l16 -20 -15 -6 -17 18z"/>
<path fill="#fbd8d7" d="M1431 1600l14 -8 -15 -36 -15 8zM1111 1600l15 -36 -15 -8 -15 36z"/>
<path fill="#f17b76" d="M1399 1531l15 -7 -16 -30 -15 7zM1142 1531l16 -30 -15 -7 -16 30z"/>
<path fill="#f5a29f" d="M1415 1564l15 -8 -16 -32 -15 7zM1126 1564l16 -33 -15 -7 -16 32z"/>
<path fill="#e8261e" d="M1303 1451l16 -12 -16 -16 -16 11zM1238 1451l16 -17 -16 -11 -16 16zM1271 1448l16 -14 -16 -14 -17 14z"/>
<path fill="#ea3d36" d="M1352 1483l15 -9 -16 -23 -16 8zM1189 1483l17 -24 -16 -8 -16 23z"/>
<path fill="#ed544e" d="M1368 1510l15 -9 -16 -27 -15 9zM1173 1510l16 -27 -15 -9 -16 27z"/>
<path fill="#e8261e" d="M1320 1472l15 -13 -16 -20 -16 12zM1222 1472l16 -21 -16 -12 -16 20z"/>
<path fill="#fbd8d7" d="M1416 1608l15 -8 -16 -36 -15 9zM1125 1608l16 -35 -15 -9 -15 36z"/>
<path fill="#f17b76" d="M1384 1540l15 -9 -16 -30 -15 9zM1157 1540l16 -30 -15 -9 -16 30z"/>
<path fill="#e8261e" d="M1287 1466l16 -15 -16 -17 -16 14zM1254 1466l17 -18 -17 -14 -16 17z"/>
<path fill="#f5a29f" d="M1400 1573l15 -9 -16 -33 -15 9zM1141 1573l16 -33 -15 -9 -16 33z"/>
<path fill="#ea3d36" d="M1336 1496l16 -13 -17 -24 -15 13zM1205 1496l17 -24 -16 -13 -17 24z"/>
<path fill="#ea362e" d="M1303 1487l17 -15 -17 -21 -16 15zM1238 1487l16 -21 -16 -15 -16 21z"/>
<path fill="#ee5c56" d="M1352 1523l16 -13 -16 -27 -16 13zM1189 1523l16 -27 -16 -13 -16 27z"/>
<path fill="#e92e26" d="M1271 1484l16 -18 -16 -18 -17 18z"/>
<path fill="#f2837e" d="M1369 1552l15 -12 -16 -30 -16 13zM1172 1552l17 -29 -16 -13 -16 30z"/>
<path fill="#fce0df" d="M1401 1616l15 -8 -16 -35 -15 10zM1140 1616l16 -33 -15 -10 -16 35z"/>
<path fill="#f6aaa7" d="M1385 1583l15 -10 -16 -33 -15 12zM1156 1583l16 -31 -15 -12 -16 33z"/>
<path fill="#ec4d46" d="M1320 1511l16 -15 -16 -24 -17 15zM1221 1511l17 -24 -16 -15 -17 24z"/>
<path fill="#eb453e" d="M1287 1505l16 -18 -16 -21 -16 18zM1254 1505l17 -21 -17 -18 -16 21z"/>
<path fill="#ef645e" d="M1336 1536l16 -13 -16 -27 -16 15zM1205 1536l16 -25 -16 -15 -16 27z"/>
<path fill="#f38b86" d="M1353 1564l16 -12 -17 -29 -16 13zM1188 1564l17 -28 -16 -13 -17 29z"/>
<path fill="#ee5c56" d="M1304 1527l16 -16 -17 -24 -16 18zM1238 1527l16 -22 -16 -18 -17 24z"/>
<path fill="#f7b2af" d="M1369 1593l16 -10 -16 -31 -16 12zM1172 1593l16 -29 -16 -12 -16 31z"/>
<path fill="#ed544e" d="M1271 1524l16 -19 -16 -21 -17 21z"/>
<path fill="#fce0df" d="M1386 1624l15 -8 -16 -33 -16 10zM1155 1624l17 -31 -16 -10 -16 33z"/>
<path fill="#f0746e" d="M1320 1551l16 -15 -16 -25 -16 16zM1221 1551l17 -24 -17 -16 -16 25z"/>
<path fill="#ef6c66" d="M1287 1545l17 -18 -17 -22 -16 19zM1254 1545l17 -21 -17 -19 -16 22z"/>
<path fill="#f4928e" d="M1337 1577l16 -13 -17 -28 -16 15zM1204 1577l17 -26 -16 -15 -17 28z"/>
<path fill="#f8b9b7" d="M1354 1604l15 -11 -16 -29 -16 13zM1188 1604l16 -27 -16 -13 -16 29z"/>
<path fill="#fce0df" d="M1370 1632l16 -8 -17 -31 -15 11zM1171 1632l17 -28 -16 -11 -17 31z"/>
<path fill="#f2837e" d="M1304 1567l16 -16 -16 -24 -17 18zM1237 1567l17 -22 -16 -18 -17 24z"/>
<path fill="#f17b76" d="M1271 1564l16 -19 -16 -21 -17 21z"/>
<path fill="#f5a29f" d="M1321 1591l16 -14 -17 -26 -16 16zM1220 1591l17 -24 -16 -16 -17 26z"/>
<path fill="#f4928e" d="M1287 1584l17 -17 -17 -22 -16 19zM1254 1584l17 -20 -17 -19 -17 22z"/>
<path fill="#f8c1bf" d="M1338 1615l16 -11 -17 -27 -16 14zM1204 1615l16 -24 -16 -14 -16 27z"/>
<path fill="#fde8e7" d="M1354 1641l16 -9 -16 -28 -16 11zM1187 1641l17 -26 -16 -11 -17 28z"/>
<path fill="#f6aaa7" d="M1304 1605l17 -14 -17 -24 -17 17zM1237 1605l17 -21 -17 -17 -17 24zM1271 1602l16 -18 -16 -20 -17 20z"/>
<path fill="#f9c9c7" d="M1321 1627l17 -12 -17 -24 -17 14zM1220 1627l17 -22 -17 -14 -16 24z"/>
<path fill="#f8b9b7" d="M1288 1620l16 -15 -17 -21 -16 18zM1254 1620l17 -18 -17 -18 -17 21z"/>
<path fill="#fde8e7" d="M1338 1650l16 -9 -16 -26 -17 12zM1203 1650l17 -23 -16 -12 -17 26z"/>
<path fill="#fad0cf" d="M1305 1639l16 -12 -17 -22 -16 15zM1237 1639l17 -19 -17 -15 -17 22z"/>
<path fill="#f9c9c7" d="M1271 1635l17 -15 -17 -18 -17 18z"/>
<path fill="#fdf0ef" d="M1322 1658l16 -8 -17 -23 -16 12zM1219 1658l18 -19 -17 -12 -17 23z"/>
<path fill="#fce0df" d="M1288 1651l17 -12 -17 -19 -17 15zM1253 1651l18 -16 -17 -15 -17 19z"/>
<path fill="#fdf0ef" d="M1305 1667l17 -9 -17 -19 -17 12zM1236 1667l17 -16 -16 -12 -18 19z"/>
<path fill="#fde8e7" d="M1271 1664l17 -13 -17 -16 -18 16z"/>
<path fill="#fef7f7" d="M1288 1677l17 -10 -17 -16 -17 13zM1253 1677l18 -13 -18 -13 -17 16z"/>
<path fill="#ffffff" d="M1271 1686l17 -9 -17 -13 -18 13z"/>
</g>
<text y="3" font-size="8.58" text-anchor="end" fill="#333" transform="translate(195.1 328.5) rotate(-30) scale(0.862 1)">-30</text>
<text y="3" font-size="8.58" text-anchor="end" fill="#333" transform="translate(194.2 321.5) rotate(-30) scale(0.862 1)">-20</text>
<text y="3" font-size="8.58" text-anchor="end" fill="#333" transform="translate(193.2 314.3) rotate(-30) scale(0.862 1)">-10</text>
<text y="3" font-size="8.58" text-anchor="end" fill="#333" transform="translate(192.3 306.8) rotate(-30) scale(0.862 1)">0</text>
<text y="3" font-size="8.58" text-anchor="end" fill="#333" transform="translate(191.2 299.1) rotate(-30) scale(0.862 1)">10</text>
<text y="3" font-size="8.58" text-anchor="end" fill="#333" transform="translate(190.2 291) rotate(-30) scale(0.862 1)">20</text>
<text y="3" font-size="8.58" text-anchor="end" fill="#333" transform="translate(189.1 282.7) rotate(-30) scale(0.862 1)">30</text>
<text y="3" font-size="8.58" text-anchor="end" fill="#333" transform="translate(188 274.1) rotate(-30) scale(0.862 1)">40</text>
<text y="3" font-size="8.58" text-anchor="end" fill="#333" transform="translate(253.1 367.2) rotate(-42) scale(0.862 1)">0</text>
<text y="3" font-size="8.58" text-anchor="end" fill="#333" transform="translate(237.3 357.6) rotate(-42) scale(0.862 1)">10</text>
<text y="3" font-size="8.58" text-anchor="end" fill="#333" transform="translate(222.8 348.8) rotate(-42) scale(0.862 1)">100</text>
<text y="3" font-size="8.58" text-anchor="end" fill="#333" transform="translate(209.5 340.7) rotate(-42) scale(0.862 1)">1000</text>
<text y="3" font-size="8.58" text-anchor="end" fill="#333" transform="translate(197.3 333.3) rotate(-42) scale(0.862 1)">10000</text>
<text y="3" font-size="8.58" fill="#333" transform="translate(256.1 366.2) rotate(40) scale(0.862 1)">0</text>
<text y="3" font-size="8.58" fill="#333" transform="translate(272 356.6) rotate(40) scale(0.862 1)">30</text>
<text y="3" font-size="8.58" fill="#333" transform="translate(286.4 347.8) rotate(40) scale(0.862 1)">300</text>
<text y="3" font-size="8.58" fill="#333" transform="translate(299.7 339.7) rotate(40) scale(0.862 1)">3000</text>
<text y="3" font-size="8.58" fill="#333" transform="translate(311.9 332.3) rotate(40) scale(0.862 1)">30000</text>
<text y="3.3" font-size="9.4" text-anchor="middle" font-weight="bold" transform="translate(200.8 366.8) rotate(37.7) scale(0.862 1)">Spermine (nM)</text>
<text y="3.3" font-size="9.4" text-anchor="middle" font-weight="bold" transform="translate(314.4 364.8) rotate(-38) scale(0.862 1)">Sotorasib (nM)</text>
<text y="3.3" font-size="9.4" text-anchor="middle" font-weight="bold" transform="translate(174.4 296.8) rotate(-102) scale(0.862 1)">Synergy Score</text>
<text y="3" font-size="8.58" text-anchor="middle" fill="#222" transform="translate(255 231.7) scale(0.862 1)">Bliss synergy score: 19.7</text>
<text y="2.9" font-size="8.24" text-anchor="middle" fill="#222" transform="translate(223.5 241.5) scale(0.862 1)">-20</text>
<text y="2.9" font-size="8.24" text-anchor="middle" fill="#222" transform="translate(255 241.5) scale(0.862 1)">0</text>
<text y="2.9" font-size="8.24" text-anchor="middle" fill="#222" transform="translate(289 241.5) scale(0.862 1)">20</text>
<rect x="209.8" y="246.6" width="90.4" height="2.8" fill="url(#gBR)"/>
<line x1="528.7" y1="326.3" x2="521.6" y2="271.9" stroke="#d9d9d9" stroke-width="0.5"/>
<line x1="640.3" y1="326.3" x2="647.5" y2="271.9" stroke="#d9d9d9" stroke-width="0.5"/>
<line x1="584.5" y1="360.2" x2="528.7" y2="326.3" stroke="#d9d9d9" stroke-width="0.5"/>
<line x1="584.5" y1="360.2" x2="640.3" y2="326.3" stroke="#d9d9d9" stroke-width="0.5"/>
<line x1="544.2" y1="319.5" x2="539.3" y2="266.6" stroke="#d9d9d9" stroke-width="0.5"/>
<line x1="624.8" y1="319.5" x2="629.7" y2="266.6" stroke="#d9d9d9" stroke-width="0.5"/>
<line x1="600.4" y1="350.6" x2="544.2" y2="319.5" stroke="#d9d9d9" stroke-width="0.5"/>
<line x1="568.7" y1="350.6" x2="624.8" y2="319.5" stroke="#d9d9d9" stroke-width="0.5"/>
<line x1="558.7" y1="313.1" x2="555.6" y2="261.7" stroke="#d9d9d9" stroke-width="0.5"/>
<line x1="610.4" y1="313.1" x2="613.4" y2="261.7" stroke="#d9d9d9" stroke-width="0.5"/>
<line x1="614.8" y1="341.8" x2="558.7" y2="313.1" stroke="#d9d9d9" stroke-width="0.5"/>
<line x1="554.2" y1="341.8" x2="610.4" y2="313.1" stroke="#d9d9d9" stroke-width="0.5"/>
<line x1="572" y1="307.2" x2="570.6" y2="257.1" stroke="#d9d9d9" stroke-width="0.5"/>
<line x1="597" y1="307.2" x2="598.4" y2="257.1" stroke="#d9d9d9" stroke-width="0.5"/>
<line x1="628.1" y1="333.7" x2="572" y2="307.2" stroke="#d9d9d9" stroke-width="0.5"/>
<line x1="540.9" y1="333.7" x2="597" y2="307.2" stroke="#d9d9d9" stroke-width="0.5"/>
<line x1="584.5" y1="301.7" x2="584.5" y2="252.9" stroke="#d9d9d9" stroke-width="0.5"/>
<line x1="584.5" y1="301.7" x2="584.5" y2="252.9" stroke="#d9d9d9" stroke-width="0.5"/>
<line x1="640.3" y1="326.3" x2="584.5" y2="301.7" stroke="#d9d9d9" stroke-width="0.5"/>
<line x1="528.7" y1="326.3" x2="584.5" y2="301.7" stroke="#d9d9d9" stroke-width="0.5"/>
<line x1="528.7" y1="326.3" x2="584.5" y2="301.7" stroke="#d9d9d9" stroke-width="0.5"/>
<line x1="640.3" y1="326.3" x2="584.5" y2="301.7" stroke="#d9d9d9" stroke-width="0.5"/>
<line x1="527.8" y1="319.3" x2="584.5" y2="295.3" stroke="#d9d9d9" stroke-width="0.5"/>
<line x1="641.3" y1="319.3" x2="584.5" y2="295.3" stroke="#d9d9d9" stroke-width="0.5"/>
<line x1="526.8" y1="312.1" x2="584.5" y2="288.8" stroke="#d9d9d9" stroke-width="0.5"/>
<line x1="642.2" y1="312.1" x2="584.5" y2="288.8" stroke="#d9d9d9" stroke-width="0.5"/>
<line x1="525.9" y1="304.6" x2="584.5" y2="282" stroke="#9a9a9a" stroke-width="0.6"/>
<line x1="643.2" y1="304.6" x2="584.5" y2="282" stroke="#9a9a9a" stroke-width="0.6"/>
<line x1="524.8" y1="296.9" x2="584.5" y2="275.1" stroke="#d9d9d9" stroke-width="0.5"/>
<line x1="644.2" y1="296.9" x2="584.5" y2="275.1" stroke="#d9d9d9" stroke-width="0.5"/>
<line x1="523.8" y1="288.8" x2="584.5" y2="267.9" stroke="#d9d9d9" stroke-width="0.5"/>
<line x1="645.2" y1="288.8" x2="584.5" y2="267.9" stroke="#d9d9d9" stroke-width="0.5"/>
<line x1="522.7" y1="280.5" x2="584.5" y2="260.5" stroke="#d9d9d9" stroke-width="0.5"/>
<line x1="646.3" y1="280.5" x2="584.5" y2="260.5" stroke="#d9d9d9" stroke-width="0.5"/>
<line x1="521.6" y1="271.9" x2="584.5" y2="252.9" stroke="#d9d9d9" stroke-width="0.5"/>
<line x1="647.5" y1="271.9" x2="584.5" y2="252.9" stroke="#d9d9d9" stroke-width="0.5"/>
<g stroke="#2a2a2a" stroke-width="1.75" stroke-linejoin="round" transform="scale(0.2)">
<path fill="#f9c9c7" d="M2923 1401l12 -4 -12 -4 -13 4zM2910 1405l13 -4 -13 -4 -13 4zM2936 1404l12 -5 -13 -2 -12 4zM2896 1408l14 -3 -13 -4 -13 3zM2923 1407l13 -3 -13 -3 -13 4z"/>
<path fill="#f8c1bf" stroke="#6a3a36" d="M2949 1405l13 -5 -14 -1 -12 5z"/>
<path fill="#f8c1bf" d="M2883 1411l13 -3 -12 -4 -14 3z"/>
<path fill="#f8c1bf" stroke="#6a3a36" d="M2909 1410l14 -3 -13 -2 -14 3zM2936 1408l13 -3 -13 -1 -13 3z"/>
<path fill="#f8b9b7" stroke="#6a3a36" d="M2962 1405l13 -4 -13 -1 -13 5z"/>
<path fill="#f8c1bf" d="M2869 1414l14 -3 -13 -4 -13 3z"/>
<path fill="#f8c1bf" stroke="#6a3a36" d="M2896 1413l13 -3 -13 -2 -13 3z"/>
<path fill="#f8b9b7" stroke="#6a3a36" d="M2923 1411l13 -3 -13 -1 -14 3z"/>
<path fill="#f7b2af" stroke="#6a3a36" d="M2949 1408l13 -3 -13 0 -13 3z"/>
<path fill="#f6aaa7" stroke="#6a3a36" d="M2976 1405l13 -5 -14 1 -13 4z"/>
<path fill="#f8b9b7" d="M2856 1417l13 -3 -12 -4 -14 3z"/>
<path fill="#f8b9b7" stroke="#6a3a36" d="M2882 1416l14 -3 -13 -2 -14 3z"/>
<path fill="#f7b2af" stroke="#9a4a44" d="M2909 1414l14 -3 -14 -1 -13 3zM2936 1411l13 -3 -13 0 -13 3z"/>
<path fill="#f6aaa7" stroke="#9a4a44" d="M2963 1408l13 -3 -14 0 -13 3z"/>
<path fill="#f5a29f" stroke="#6a3a36" d="M2990 1404l13 -4 -14 0 -13 5z"/>
<path fill="#f7b2af" d="M2842 1420l14 -3 -13 -4 -14 3z"/>
<path fill="#f7b2af" stroke="#6a3a36" d="M2869 1418l13 -2 -13 -2 -13 3z"/>
<path fill="#f7b2af" stroke="#9a4a44" d="M2896 1416l13 -2 -13 -1 -14 3z"/>
<path fill="#f6aaa7" stroke="#9a4a44" d="M2923 1413l13 -2 -13 0 -14 3z"/>
<path fill="#f5a29f" stroke="#9a4a44" d="M2950 1410l13 -2 -14 0 -13 3z"/>
<path fill="#f49a97" stroke="#9a4a44" d="M2977 1406l13 -2 -14 1 -13 3z"/>
<path fill="#f4928e" stroke="#6a3a36" d="M3004 1403l13 -4 -14 1 -13 4z"/>
<path fill="#f7b2af" d="M2827 1423l15 -3 -13 -4 -15 3z"/>
<path fill="#f6aaa7" stroke="#6a3a36" d="M2854 1421l15 -3 -13 -1 -14 3z"/>
<path fill="#f6aaa7" stroke="#9a4a44" d="M2882 1418l14 -2 -14 0 -13 2z"/>
<path fill="#f5a29f" stroke="#9a4a44" d="M2909 1414l14 -1 -14 1 -13 2z"/>
<path fill="#f49a97" stroke="#9a4a44" d="M2936 1411l14 -1 -14 1 -13 2z"/>
<path fill="#f4928e" stroke="#9a4a44" d="M2964 1408l13 -2 -14 2 -13 2zM2991 1405l13 -2 -14 1 -13 2z"/>
<path fill="#f38b86" stroke="#6a3a36" d="M3019 1403l13 -4 -15 0 -13 4z"/>
<path fill="#f6aaa7" d="M2813 1427l14 -4 -13 -4 -14 4z"/>
<path fill="#f6aaa7" stroke="#6a3a36" d="M2840 1424l14 -3 -12 -1 -15 3z"/>
<path fill="#f5a29f" stroke="#9a4a44" d="M2867 1420l15 -2 -13 0 -15 3z"/>
<path fill="#f49a97" stroke="#9a4a44" d="M2895 1415l14 -1 -13 2 -14 2z"/>
<path fill="#f4928e" stroke="#9a4a44" d="M2923 1412l13 -1 -13 2 -14 1z"/>
<path fill="#f17b76" stroke="#6a3a36" d="M3034 1403l13 -4 -15 0 -13 4z"/>
<path fill="#f38b86" stroke="#9a4a44" d="M2950 1408l14 0 -14 2 -14 1z"/>
<path fill="#f2837e" stroke="#9a4a44" d="M3006 1404l13 -1 -15 0 -13 2z"/>
<path fill="#f38b86" stroke="#9a4a44" d="M2978 1406l13 -1 -14 1 -13 2z"/>
<path fill="#f6aaa7" d="M2798 1431l15 -4 -13 -4 -15 5z"/>
<path fill="#f5a29f" stroke="#6a3a36" d="M2825 1428l15 -4 -13 -1 -14 4z"/>
<path fill="#f49a97" stroke="#9a4a44" d="M2853 1422l14 -2 -13 1 -14 3z"/>
<path fill="#f4928e" stroke="#9a4a44" d="M2881 1417l14 -2 -13 3 -15 2z"/>
<path fill="#f0746e" stroke="#6a3a36" d="M3049 1404l13 -4 -15 -1 -13 4z"/>
<path fill="#f38b86" stroke="#9a4a44" d="M2909 1412l14 0 -14 2 -14 1z"/>
<path fill="#f17b76" stroke="#9a4a44" d="M3021 1404l13 -1 -15 0 -13 1z"/>
<path fill="#f6aaa7" d="M2783 1437l15 -6 -13 -3 -15 5z"/>
<path fill="#f2837e" stroke="#9a4a44" d="M2937 1408l13 0 -14 3 -13 1z"/>
<path fill="#f17b76" stroke="#9a4a44" d="M2993 1405l13 -1 -15 1 -13 1z"/>
<path fill="#f2837e" stroke="#9a4a44" d="M2965 1406l13 0 -14 2 -14 0z"/>
<path fill="#f5a29f" stroke="#6a3a36" d="M2811 1432l14 -4 -12 -1 -15 4z"/>
<path fill="#f49a97" stroke="#9a4a44" d="M2838 1426l15 -4 -13 2 -15 4z"/>
<path fill="#f38b86" stroke="#9a4a44" d="M2866 1419l15 -2 -14 3 -14 2z"/>
<path fill="#f6aaa7" d="M2768 1442l15 -5 -13 -4 -15 5z"/>
<path fill="#ef6c66" d="M3064 1406l13 -4 -15 -2 -13 4z"/>
<path fill="#f2837e" stroke="#9a4a44" d="M2894 1413l15 -1 -14 3 -14 2z"/>
<path fill="#f0746e" stroke="#9a4a44" d="M3036 1405l13 -1 -15 -1 -13 1zM3008 1404l13 0 -15 0 -13 1z"/>
<path fill="#f17b76" stroke="#6a3a36" d="M2923 1408l14 0 -14 4 -14 0z"/>
<path fill="#f5a29f" d="M2796 1437l15 -5 -13 -1 -15 6z"/>
<path fill="#f0746e" stroke="#9a4a44" d="M2979 1404l14 1 -15 1 -13 0z"/>
<path fill="#f0746e" stroke="#6a3a36" d="M2951 1405l14 1 -15 2 -13 0z"/>
<path fill="#f4928e" stroke="#9a4a44" d="M2823 1430l15 -4 -13 2 -14 4z"/>
<path fill="#f6aaa7" d="M2752 1448l16 -6 -13 -4 -15 6z"/>
<path fill="#ef6c66" d="M3080 1410l12 -4 -15 -4 -13 4z"/>
<path fill="#f38b86" stroke="#9a4a44" d="M2852 1422l14 -3 -13 3 -15 4z"/>
<path fill="#ef6c66" stroke="#6a3a36" d="M3051 1407l13 -1 -15 -2 -13 1z"/>
<path fill="#f5a29f" d="M2780 1443l16 -6 -13 0 -15 5z"/>
<path fill="#f17b76" stroke="#9a4a44" d="M2880 1415l14 -2 -13 4 -15 2z"/>
<path fill="#ef645e" stroke="#9a4a44" d="M3023 1405l13 0 -15 -1 -13 0z"/>
<path fill="#f0746e" stroke="#6a3a36" d="M2908 1409l15 -1 -14 4 -15 1z"/>
<path fill="#ef645e" stroke="#9a4a44" d="M2994 1403l14 1 -15 1 -14 -1z"/>
<path fill="#ef6c66" stroke="#6a3a36" d="M2937 1404l14 1 -14 3 -14 0z"/>
<path fill="#f4928e" stroke="#9a4a44" d="M2808 1435l15 -5 -12 2 -15 5z"/>
<path fill="#ef645e" stroke="#6a3a36" d="M2966 1402l13 2 -14 2 -14 -1z"/>
<path fill="#f6aaa7" d="M2737 1454l15 -6 -12 -4 -16 6z"/>
<path fill="#ef6c66" d="M3095 1416l13 -4 -16 -6 -12 4z"/>
<path fill="#f2837e" stroke="#9a4a44" d="M2837 1426l15 -4 -14 4 -15 4z"/>
<path fill="#f5a29f" d="M2765 1449l15 -6 -12 -1 -16 6z"/>
<path fill="#ef645e" stroke="#6a3a36" d="M3067 1411l13 -1 -16 -4 -13 1z"/>
<path fill="#f0746e" stroke="#9a4a44" d="M2865 1417l15 -2 -14 4 -14 3z"/>
<path fill="#ee5c56" stroke="#9a4a44" d="M3038 1407l13 0 -15 -2 -13 0z"/>
<path fill="#f4928e" stroke="#6a3a36" d="M2793 1441l15 -6 -12 2 -16 6z"/>
<path fill="#f6aaa7" d="M2721 1461l16 -7 -13 -4 -16 7z"/>
<path fill="#ef6c66" stroke="#6a3a36" d="M2894 1409l14 0 -14 4 -14 2z"/>
<path fill="#ee5c56" stroke="#9a4a44" d="M3009 1403l14 2 -15 -1 -14 -1z"/>
<path fill="#ef6c66" d="M3111 1422l13 -5 -16 -5 -13 4z"/>
<path fill="#ef645e" stroke="#6a3a36" d="M2923 1404l14 0 -14 4 -15 1z"/>
<path fill="#ee5c56" stroke="#6a3a36" d="M2981 1401l13 2 -15 1 -13 -2zM2952 1401l14 1 -15 3 -14 -1z"/>
<path fill="#f2837e" stroke="#9a4a44" d="M2821 1432l16 -6 -14 4 -15 5z"/>
<path fill="#f5a29f" d="M2749 1455l16 -6 -13 -1 -15 6z"/>
<path fill="#ef645e" d="M3083 1417l12 -1 -15 -6 -13 1z"/>
<path fill="#f6aaa7" d="M2705 1471l16 -10 -13 -4 -16 9z"/>
<path fill="#f0746e" stroke="#9a4a44" d="M2850 1421l15 -4 -13 5 -15 4z"/>
<path fill="#f4928e" stroke="#6a3a36" d="M2778 1447l15 -6 -13 2 -15 6z"/>
<path fill="#ee5c56" stroke="#9a4a44" d="M3054 1411l13 0 -16 -4 -13 0z"/>
<path fill="#ef6c66" d="M3127 1430l13 -5 -16 -8 -13 5z"/>
<path fill="#ef645e" stroke="#6a3a36" d="M2879 1411l15 -2 -14 6 -15 2z"/>
<path fill="#ed544e" stroke="#9a4a44" d="M3025 1404l13 3 -15 -2 -14 -2z"/>
<path fill="#f5a29f" d="M2733 1463l16 -8 -12 -1 -16 7z"/>
<path fill="#f2837e" stroke="#9a4a44" d="M2806 1437l15 -5 -13 3 -15 6z"/>
<path fill="#ed544e" stroke="#6a3a36" d="M2908 1404l15 0 -15 5 -14 0z"/>
<path fill="#ec4d46" stroke="#9a4a44" d="M2996 1400l13 3 -15 0 -13 -2z"/>
<path fill="#ef645e" d="M3098 1423l13 -1 -16 -6 -12 1z"/>
<path fill="#f7b2af" d="M2689 1482l16 -11 -13 -5 -16 10z"/>
<path fill="#ec4d46" stroke="#6a3a36" d="M2937 1399l15 2 -15 3 -14 0zM2967 1398l14 3 -15 1 -14 -1z"/>
<path fill="#f0746e" d="M3143 1442l13 -6 -16 -11 -13 5z"/>
<path fill="#f4928e" stroke="#6a3a36" d="M2762 1454l16 -7 -13 2 -16 6z"/>
<path fill="#f0746e" stroke="#9a4a44" d="M2835 1426l15 -5 -13 5 -16 6z"/>
<path fill="#ee5c56" stroke="#6a3a36" d="M3070 1416l13 1 -16 -6 -13 0z"/>
<path fill="#f6aaa7" d="M2717 1473l16 -10 -12 -2 -16 10z"/>
<path fill="#f8c1bf" d="M2673 1495l16 -13 -13 -6 -15 14z"/>
<path fill="#ec4d46" stroke="#9a4a44" d="M3041 1408l13 3 -16 -4 -13 -3z"/>
<path fill="#ee5c56" stroke="#9a4a44" d="M2864 1415l15 -4 -14 6 -15 4z"/>
<path fill="#ef645e" d="M3114 1433l13 -3 -16 -8 -13 1z"/>
<path fill="#f2837e" stroke="#9a4a44" d="M2790 1443l16 -6 -13 4 -15 6z"/>
<path fill="#f2837e" d="M3159 1458l12 -6 -15 -16 -13 6z"/>
<path fill="#eb453e" stroke="#9a4a44" d="M3011 1401l14 3 -16 -1 -13 -3z"/>
<path fill="#ec4d46" stroke="#6a3a36" d="M2893 1405l15 -1 -14 5 -15 2z"/>
<path fill="#f49a97" d="M2746 1462l16 -8 -13 1 -16 8z"/>
<path fill="#fad0cf" d="M2657 1511l16 -16 -12 -5 -16 15z"/>
<path fill="#f7b2af" d="M2701 1485l16 -12 -12 -2 -16 11z"/>
<path fill="#ee5c56" stroke="#6a3a36" d="M3086 1423l12 0 -15 -6 -13 -1z"/>
<path fill="#ea3d36" stroke="#6a3a36" d="M2982 1397l14 3 -15 1 -14 -3z"/>
<path fill="#eb453e" stroke="#6a3a36" d="M2923 1399l14 0 -14 5 -15 0z"/>
<path fill="#f0746e" stroke="#9a4a44" d="M2819 1432l16 -6 -14 6 -15 5z"/>
<path fill="#f49a97" d="M3174 1477l13 -6 -16 -19 -12 6z"/>
<path fill="#ea3d36" stroke="#6a3a36" d="M2952 1396l15 2 -15 3 -15 -2z"/>
<path fill="#f0746e" d="M3130 1445l13 -3 -16 -12 -13 3z"/>
<path fill="#fdf0ef" d="M2642 1530l15 -19 -12 -6 -16 18z"/>
<path fill="#f7b2af" d="M3189 1501l13 -6 -15 -24 -13 6z"/>
<path fill="#f2837e" stroke="#9a4a44" d="M2775 1450l15 -7 -12 4 -16 7z"/>
<path fill="#ec4d46" stroke="#9a4a44" d="M3056 1414l14 2 -16 -5 -13 -3z"/>
<path fill="#fce0df" d="M3204 1530l12 -7 -14 -28 -13 6z"/>
<path fill="#ee5c56" stroke="#9a4a44" d="M2848 1420l16 -5 -14 6 -15 5z"/>
<path fill="#f8c1bf" d="M2685 1500l16 -15 -12 -3 -16 13z"/>
<path fill="#f49a97" d="M2730 1473l16 -11 -13 1 -16 10z"/>
<path fill="#ee5c56" d="M3102 1433l12 0 -16 -10 -12 0z"/>
<path fill="#f17b76" d="M3146 1462l13 -4 -16 -16 -13 3z"/>
<path fill="#ea3d36" stroke="#9a4a44" d="M3027 1405l14 3 -16 -4 -14 -3z"/>
<path fill="#ec4d46" stroke="#6a3a36" d="M2878 1408l15 -3 -14 6 -15 4z"/>
<path fill="#f0746e" stroke="#9a4a44" d="M2804 1438l15 -6 -13 5 -16 6z"/>
<path fill="#fad0cf" d="M2670 1517l15 -17 -12 -5 -16 16z"/>
<path fill="#ea362e" stroke="#9a4a44" d="M2997 1398l14 3 -15 -1 -14 -3z"/>
<path fill="#ea3d36" stroke="#6a3a36" d="M2908 1400l15 -1 -15 5 -15 1z"/>
<path fill="#f38b86" stroke="#6a3a36" d="M2759 1460l16 -10 -13 4 -16 8z"/>
<path fill="#f4928e" d="M3162 1482l12 -5 -15 -19 -13 4z"/>
<path fill="#f6aaa7" d="M2714 1487l16 -14 -13 0 -16 12z"/>
<path fill="#ea362e" stroke="#6a3a36" d="M2968 1394l14 3 -15 1 -15 -2zM2938 1395l14 1 -15 3 -14 0z"/>
<path fill="#ec4d46" stroke="#6a3a36" d="M3073 1422l13 1 -16 -7 -14 -2z"/>
<path fill="#fdf0ef" d="M2654 1536l16 -19 -13 -6 -15 19z"/>
<path fill="#ee5c56" stroke="#9a4a44" d="M2833 1426l15 -6 -13 6 -16 6z"/>
<path fill="#ef6c66" d="M3118 1447l12 -2 -16 -12 -12 0z"/>
<path fill="#f7b2af" d="M3177 1507l12 -6 -15 -24 -12 5z"/>
<path fill="#fce0df" d="M3191 1536l13 -6 -15 -29 -12 6z"/>
<path fill="#ea3d36" stroke="#9a4a44" d="M3043 1411l13 3 -15 -6 -14 -3z"/>
<path fill="#f0746e" stroke="#9a4a44" d="M2788 1446l16 -8 -14 5 -15 7z"/>
<path fill="#f8b9b7" d="M2698 1503l16 -16 -13 -2 -16 15z"/>
<path fill="#eb453e" stroke="#9a4a44" d="M2862 1414l16 -6 -14 7 -16 5z"/>
<path fill="#f4928e" d="M2743 1472l16 -12 -13 2 -16 11z"/>
<path fill="#f17b76" d="M3133 1465l13 -3 -16 -17 -12 2z"/>
<path fill="#ed544e" d="M3089 1433l13 0 -16 -10 -13 -1z"/>
<path fill="#ea362e" stroke="#9a4a44" d="M3013 1401l14 4 -16 -4 -14 -3z"/>
<path fill="#ea362e" stroke="#6a3a36" d="M2892 1402l16 -2 -15 5 -15 3z"/>
<path fill="#f9c9c7" d="M2682 1522l16 -19 -13 -3 -15 17z"/>
<path fill="#ee5c56" stroke="#9a4a44" d="M2817 1432l16 -6 -14 6 -15 6z"/>
<path fill="#e8261e" stroke="#9a4a44" d="M2983 1395l14 3 -15 -1 -14 -3z"/>
<path fill="#f4928e" d="M3149 1487l13 -5 -16 -20 -13 3z"/>
<path fill="#e92e26" stroke="#6a3a36" d="M2923 1395l15 0 -15 4 -15 1z"/>
<path fill="#e8261e" stroke="#6a3a36" d="M2953 1393l15 1 -16 2 -14 -1z"/>
<path fill="#f49a97" d="M2727 1487l16 -15 -13 1 -16 14z"/>
<path fill="#fde8e7" d="M2667 1543l15 -21 -12 -5 -16 19z"/>
<path fill="#f0746e" stroke="#6a3a36" d="M2772 1456l16 -10 -13 4 -16 10z"/>
<path fill="#eb453e" stroke="#6a3a36" d="M3059 1419l14 3 -17 -8 -13 -3z"/>
<path fill="#f7b2af" d="M3164 1513l13 -6 -15 -25 -13 5z"/>
<path fill="#fce0df" d="M3178 1543l13 -7 -14 -29 -13 6z"/>
<path fill="#ee5c56" d="M3105 1448l13 -1 -16 -14 -13 0z"/>
<path fill="#eb453e" stroke="#9a4a44" d="M2847 1419l15 -5 -14 6 -15 6z"/>
<path fill="#f7b2af" d="M2711 1505l16 -18 -13 0 -16 16z"/>
<path fill="#e92e26" stroke="#9a4a44" d="M3029 1408l14 3 -16 -6 -14 -4z"/>
<path fill="#ee5c56" stroke="#9a4a44" d="M2801 1441l16 -9 -13 6 -16 8z"/>
<path fill="#ea362e" stroke="#9a4a44" d="M2877 1408l15 -6 -14 6 -16 6z"/>
<path fill="#f0746e" d="M3120 1467l13 -2 -15 -18 -13 1z"/>
<path fill="#f2837e" d="M2756 1470l16 -14 -13 4 -16 12z"/>
<path fill="#eb453e" d="M3075 1431l14 2 -16 -11 -14 -3z"/>
<path fill="#e8261e" stroke="#9a4a44" d="M2999 1398l14 3 -16 -3 -14 -3z"/>
<path fill="#f9c9c7" d="M2695 1526l16 -21 -13 -2 -16 19z"/>
<path fill="#e8261e" stroke="#9a4a44" d="M2907 1398l16 -3 -15 5 -16 2zM2969 1393l14 2 -15 -1 -15 -1z"/>
<path fill="#f38b86" d="M3136 1490l13 -3 -16 -22 -13 2z"/>
<path fill="#e8261e" stroke="#9a4a44" d="M2938 1392l15 1 -15 2 -15 0z"/>
<path fill="#fde8e7" d="M2680 1550l15 -24 -13 -4 -15 21z"/>
<path fill="#eb453e" stroke="#9a4a44" d="M2831 1426l16 -7 -14 7 -16 6z"/>
<path fill="#f6aaa7" d="M3151 1518l13 -5 -15 -26 -13 3z"/>
<path fill="#f38b86" d="M2740 1487l16 -17 -13 2 -16 15z"/>
<path fill="#fce0df" d="M3165 1550l13 -7 -14 -30 -13 5z"/>
<path fill="#ea362e" stroke="#6a3a36" d="M3045 1417l14 2 -16 -8 -14 -3z"/>
<path fill="#ef645e" stroke="#6a3a36" d="M2785 1453l16 -12 -13 5 -16 10z"/>
<path fill="#ed544e" d="M3091 1448l14 0 -16 -15 -14 -2z"/>
<path fill="#ea362e" stroke="#9a4a44" d="M2861 1413l16 -5 -15 6 -15 5z"/>
<path fill="#f5a29f" d="M2724 1507l16 -20 -13 0 -16 18z"/>
<path fill="#e8261e" stroke="#6a3a36" d="M3015 1405l14 3 -16 -7 -14 -3z"/>
<path fill="#ef6c66" d="M3107 1468l13 -1 -15 -19 -14 0z"/>
<path fill="#e8261e" stroke="#9a4a44" d="M2892 1403l15 -5 -15 4 -15 6z"/>
<path fill="#ec4d46" stroke="#9a4a44" d="M2815 1436l16 -10 -14 6 -16 9z"/>
<path fill="#ef6c66" d="M2769 1468l16 -15 -13 3 -16 14z"/>
<path fill="#ea3d36" d="M3062 1430l13 1 -16 -12 -14 -2z"/>
<path fill="#e8261e" stroke="#9a4a44" d="M2985 1396l14 2 -16 -3 -14 -2z"/>
<path fill="#f8c1bf" d="M2708 1530l16 -23 -13 -2 -16 21z"/>
<path fill="#e8261e" stroke="#9a4a44" d="M2923 1395l15 -3 -15 3 -16 3zM2954 1392l15 1 -16 0 -15 -1z"/>
<path fill="#f2837e" d="M3123 1493l13 -3 -16 -23 -13 1z"/>
<path fill="#fde8e7" d="M2693 1557l15 -27 -13 -4 -15 24z"/>
<path fill="#fbd8d7" d="M3152 1557l13 -7 -14 -32 -13 5z"/>
<path fill="#f6aaa7" d="M3138 1523l13 -5 -15 -28 -13 3z"/>
<path fill="#ea362e" stroke="#9a4a44" d="M2845 1421l16 -8 -14 6 -16 7z"/>
<path fill="#f2837e" d="M2753 1486l16 -18 -13 2 -16 17z"/>
<path fill="#e8261e" d="M3031 1415l14 2 -16 -9 -14 -3z"/>
<path fill="#ec4d46" d="M3078 1448l13 0 -16 -17 -13 -1z"/>
<path fill="#ed544e" d="M2799 1449l16 -13 -14 5 -16 12z"/>
<path fill="#e8261e" stroke="#9a4a44" d="M2876 1409l16 -6 -15 5 -16 5z"/>
<path fill="#f49a97" d="M2737 1509l16 -23 -13 1 -16 20z"/>
<path fill="#e8261e" stroke="#6a3a36" d="M3001 1403l14 2 -16 -7 -14 -2z"/>
<path fill="#ee5c56" d="M3094 1470l13 -2 -16 -20 -13 0z"/>
<path fill="#e8261e" stroke="#9a4a44" d="M2907 1400l16 -5 -16 3 -15 5z"/>
<path fill="#e8261e" stroke="#6a3a36" d="M2970 1396l15 0 -16 -3 -15 -1z"/>
<path fill="#f8b9b7" d="M2722 1535l15 -26 -13 -2 -16 23z"/>
<path fill="#e8261e" stroke="#9a4a44" d="M2938 1394l16 -2 -16 0 -15 3z"/>
<path fill="#e92e26" d="M3048 1430l14 0 -17 -13 -14 -2z"/>
<path fill="#ea362e" stroke="#6a3a36" d="M2829 1431l16 -10 -14 5 -16 10z"/>
<path fill="#ee5c56" d="M2782 1465l17 -16 -14 4 -16 15z"/>
<path fill="#fce0df" d="M2706 1565l16 -30 -14 -5 -15 27z"/>
<path fill="#f17b76" d="M3109 1497l14 -4 -16 -25 -13 2z"/>
<path fill="#fbd8d7" d="M3139 1565l13 -8 -14 -34 -14 5z"/>
<path fill="#f5a29f" d="M3124 1528l14 -5 -15 -30 -14 4z"/>
<path fill="#e8261e" stroke="#6a3a36" d="M2860 1417l16 -8 -15 4 -16 8z"/>
<path fill="#e8261e" d="M3017 1415l14 0 -16 -10 -14 -2z"/>
<path fill="#f0746e" d="M2766 1486l16 -21 -13 3 -16 18z"/>
<path fill="#ea3d36" d="M3064 1449l14 -1 -16 -18 -14 0z"/>
<path fill="#eb453e" d="M2813 1446l16 -15 -14 5 -16 13z"/>
<path fill="#e8261e" stroke="#6a3a36" d="M2891 1406l16 -6 -15 3 -16 6z"/>
<path fill="#e8261e" d="M2986 1404l15 -1 -16 -7 -15 0z"/>
<path fill="#f38b86" d="M2751 1511l15 -25 -13 0 -16 23z"/>
<path fill="#e8261e" stroke="#6a3a36" d="M2923 1400l15 -6 -15 1 -16 5z"/>
<path fill="#ed544e" d="M3080 1472l14 -2 -16 -22 -14 1z"/>
<path fill="#e8261e" d="M2954 1398l16 -2 -16 -4 -16 2z"/>
<path fill="#f7b2af" d="M2735 1539l16 -28 -14 -2 -15 26z"/>
<path fill="#fce0df" d="M2720 1572l15 -33 -13 -4 -16 30z"/>
<path fill="#e8261e" d="M3033 1430l15 0 -17 -15 -14 0z"/>
<path fill="#fbd8d7" d="M3125 1572l14 -7 -15 -37 -14 6z"/>
<path fill="#e8261e" d="M2844 1429l16 -12 -15 4 -16 10z"/>
<path fill="#f0746e" d="M3095 1501l14 -4 -15 -27 -14 2z"/>
<path fill="#ec4d46" d="M2796 1464l17 -18 -14 3 -17 16z"/>
<path fill="#f5a29f" d="M3110 1534l14 -6 -15 -31 -14 4z"/>
<path fill="#e8261e" d="M3002 1416l15 -1 -16 -12 -15 1zM2875 1415l16 -9 -15 3 -16 8z"/>
<path fill="#ea362e" d="M3049 1450l15 -1 -16 -19 -15 0z"/>
<path fill="#ef645e" d="M2780 1486l16 -22 -14 1 -16 21z"/>
<path fill="#e8261e" d="M2907 1406l16 -6 -16 0 -16 6zM2970 1407l16 -3 -16 -8 -16 2z"/>
<path fill="#ea362e" d="M2827 1444l17 -15 -15 2 -16 15z"/>
<path fill="#e8261e" d="M2939 1404l15 -6 -16 -4 -15 6z"/>
<path fill="#f2837e" d="M2765 1513l15 -27 -14 0 -15 25z"/>
<path fill="#ec4d46" d="M3065 1475l15 -3 -16 -23 -15 1z"/>
<path fill="#fbd8d7" d="M2734 1579l15 -35 -14 -5 -15 33z"/>
<path fill="#f6aaa7" d="M2749 1544l16 -31 -14 -2 -16 28z"/>
<path fill="#fbd8d7" d="M3111 1579l14 -7 -15 -38 -14 6z"/>
<path fill="#e8261e" d="M3018 1433l15 -3 -16 -15 -15 1z"/>
<path fill="#f0746e" d="M3081 1505l14 -4 -15 -29 -15 3z"/>
<path fill="#f49a97" d="M3096 1540l14 -6 -15 -33 -14 4z"/>
<path fill="#e8261e" d="M2859 1428l16 -13 -15 2 -16 12z"/>
<path fill="#eb453e" d="M2811 1464l16 -20 -14 2 -17 18z"/>
<path fill="#e8261e" d="M2987 1420l15 -4 -16 -12 -16 3zM2890 1416l17 -10 -16 0 -16 9z"/>
<path fill="#e92e26" d="M3035 1454l14 -4 -16 -20 -15 3z"/>
<path fill="#e8261e" d="M2955 1413l15 -6 -16 -9 -15 6z"/>
<path fill="#ee5c56" d="M2795 1488l16 -24 -15 0 -16 22z"/>
<path fill="#e8261e" d="M2923 1411l16 -7 -16 -4 -16 6zM2842 1444l17 -16 -15 1 -17 15z"/>
<path fill="#f17b76" d="M2779 1517l16 -29 -15 -2 -15 27z"/>
<path fill="#fbd8d7" d="M2748 1587l15 -37 -14 -6 -15 35z"/>
<path fill="#ec4d46" d="M3051 1480l14 -5 -16 -25 -14 4z"/>
<path fill="#fbd8d7" d="M3097 1587l14 -8 -15 -39 -14 7z"/>
<path fill="#f5a29f" d="M2763 1550l16 -33 -14 -4 -16 31z"/>
<path fill="#e8261e" d="M3003 1437l15 -4 -16 -17 -15 4z"/>
<path fill="#ef6c66" d="M3067 1511l14 -6 -16 -30 -14 5z"/>
<path fill="#f49a97" d="M3082 1547l14 -7 -15 -35 -14 6z"/>
<path fill="#e8261e" d="M2874 1430l16 -14 -15 -1 -16 13z"/>
<path fill="#ea362e" d="M2826 1465l16 -21 -15 0 -16 20z"/>
<path fill="#e8261e" d="M2971 1427l16 -7 -17 -13 -15 6zM2906 1422l17 -11 -16 -5 -17 10zM2939 1422l16 -9 -16 -9 -16 7z"/>
<path fill="#e92e26" d="M3020 1459l15 -5 -17 -21 -15 4z"/>
<path fill="#ed544e" d="M2810 1491l16 -26 -15 -1 -16 24z"/>
<path fill="#e8261e" d="M2858 1448l16 -18 -15 -2 -17 16z"/>
<path fill="#fbd8d7" d="M2763 1595l15 -39 -15 -6 -15 37z"/>
<path fill="#eb453e" d="M3036 1486l15 -6 -16 -26 -15 5z"/>
<path fill="#fbd8d7" d="M3083 1595l14 -8 -15 -40 -15 7z"/>
<path fill="#f0746e" d="M2794 1521l16 -30 -15 -3 -16 29z"/>
<path fill="#e8261e" d="M2988 1445l15 -8 -16 -17 -16 7z"/>
<path fill="#f5a29f" d="M2778 1556l16 -35 -15 -4 -16 33z"/>
<path fill="#ef6c66" d="M3052 1518l15 -7 -16 -31 -15 6z"/>
<path fill="#f49a97" d="M3067 1554l15 -7 -15 -36 -15 7z"/>
<path fill="#e8261e" d="M2890 1437l16 -15 -16 -6 -16 14zM2955 1437l16 -10 -16 -14 -16 9zM2923 1434l16 -12 -16 -11 -17 11z"/>
<path fill="#ea362e" d="M2841 1470l17 -22 -16 -4 -16 21z"/>
<path fill="#e92e26" d="M3004 1468l16 -9 -17 -22 -15 8z"/>
<path fill="#ec4d46" d="M2825 1497l16 -27 -15 -5 -16 26z"/>
<path fill="#e8261e" d="M2873 1456l17 -19 -16 -7 -16 18z"/>
<path fill="#fbd8d7" d="M2777 1603l16 -40 -15 -7 -15 39z"/>
<path fill="#eb453e" d="M3021 1495l15 -9 -16 -27 -16 9z"/>
<path fill="#fbd8d7" d="M3068 1603l15 -8 -16 -41 -15 9z"/>
<path fill="#e8261e" d="M2972 1456l16 -11 -17 -18 -16 10z"/>
<path fill="#f0746e" d="M2809 1528l16 -31 -15 -6 -16 30z"/>
<path fill="#f49a97" d="M2793 1563l16 -35 -15 -7 -16 35z"/>
<path fill="#e8261e" d="M2906 1450l17 -16 -17 -12 -16 15zM2939 1450l16 -13 -16 -15 -16 12z"/>
<path fill="#ef6c66" d="M3037 1527l15 -9 -16 -32 -15 9z"/>
<path fill="#f49a97" d="M3052 1563l15 -9 -15 -36 -15 9z"/>
<path fill="#e92e26" d="M2857 1479l16 -23 -15 -8 -17 22zM2988 1479l16 -11 -16 -23 -16 11z"/>
<path fill="#e8261e" d="M2890 1469l16 -19 -16 -13 -17 19zM2956 1469l16 -13 -17 -19 -16 13z"/>
<path fill="#ec4d46" d="M2840 1506l17 -27 -16 -9 -16 27zM3005 1506l16 -11 -17 -27 -16 11z"/>
<path fill="#e8261e" d="M2923 1465l16 -15 -16 -16 -17 16z"/>
<path fill="#fbd8d7" d="M2792 1611l16 -39 -15 -9 -16 40zM3053 1611l15 -8 -16 -40 -15 9z"/>
<path fill="#f0746e" d="M2824 1537l16 -31 -15 -9 -16 31z"/>
<path fill="#ef6c66" d="M3021 1537l16 -10 -16 -32 -16 11z"/>
<path fill="#f49a97" d="M2808 1572l16 -35 -15 -9 -16 35zM3037 1572l15 -9 -15 -36 -16 10z"/>
<path fill="#ea362e" d="M2873 1492l17 -23 -17 -13 -16 23zM2972 1492l16 -13 -16 -23 -16 13z"/>
<path fill="#e92e26" d="M2939 1485l17 -16 -17 -19 -16 15zM2906 1485l17 -20 -17 -15 -16 19z"/>
<path fill="#ed544e" d="M2856 1518l17 -26 -16 -13 -17 27zM2989 1518l16 -12 -17 -27 -16 13z"/>
<path fill="#fbd8d7" d="M2807 1619l17 -37 -16 -10 -16 39zM3038 1619l15 -8 -16 -39 -15 10z"/>
<path fill="#f0746e" d="M2840 1548l16 -30 -16 -12 -16 31zM3005 1548l16 -11 -16 -31 -16 12z"/>
<path fill="#f5a29f" d="M2824 1582l16 -34 -16 -11 -16 35zM3022 1582l15 -10 -16 -35 -16 11z"/>
<path fill="#eb453e" d="M2956 1507l16 -15 -16 -23 -17 16zM2889 1507l17 -22 -16 -16 -17 23z"/>
<path fill="#ea3d36" d="M2923 1503l16 -18 -16 -20 -17 20z"/>
<path fill="#ee5c56" d="M2973 1532l16 -14 -17 -26 -16 15zM2873 1532l16 -25 -16 -15 -17 26z"/>
<path fill="#f17b76" d="M2989 1561l16 -13 -16 -30 -16 14zM2856 1561l17 -29 -17 -14 -16 30z"/>
<path fill="#ed544e" d="M2939 1524l17 -17 -17 -22 -16 18zM2906 1524l17 -21 -17 -18 -17 22z"/>
<path fill="#fbd8d7" d="M3022 1627l16 -8 -16 -37 -16 11zM2823 1627l16 -34 -15 -11 -17 37z"/>
<path fill="#f6aaa7" d="M3006 1593l16 -11 -17 -34 -16 13zM2839 1593l17 -32 -16 -13 -16 34z"/>
<path fill="#ef6c66" d="M2956 1548l17 -16 -17 -25 -17 17zM2889 1548l17 -24 -17 -17 -16 25z"/>
<path fill="#ef645e" d="M2923 1544l16 -20 -16 -21 -17 21z"/>
<path fill="#f38b86" d="M2973 1575l16 -14 -16 -29 -17 16zM2872 1575l17 -27 -16 -16 -17 29z"/>
<path fill="#f7b2af" d="M2990 1604l16 -11 -17 -32 -16 14zM2855 1604l17 -29 -16 -14 -17 32z"/>
<path fill="#fce0df" d="M3006 1636l16 -9 -16 -34 -16 11zM2839 1636l16 -32 -16 -11 -16 34z"/>
<path fill="#f17b76" d="M2939 1566l17 -18 -17 -24 -16 20zM2906 1566l17 -22 -17 -20 -17 24z"/>
<path fill="#f49a97" d="M2956 1590l17 -15 -17 -27 -17 18zM2889 1590l17 -24 -17 -18 -17 27z"/>
<path fill="#f4928e" d="M2923 1585l16 -19 -16 -22 -17 22z"/>
<path fill="#f8b9b7" d="M2973 1616l17 -12 -17 -29 -17 15zM2872 1616l17 -26 -17 -15 -17 29z"/>
<path fill="#fce0df" d="M2990 1645l16 -9 -16 -32 -17 12zM2855 1645l17 -29 -17 -12 -16 32z"/>
<path fill="#f6aaa7" d="M2940 1606l16 -16 -17 -24 -16 19zM2906 1606l17 -21 -17 -19 -17 24z"/>
<path fill="#f8c1bf" d="M2957 1629l16 -13 -17 -26 -16 16zM2889 1629l17 -23 -17 -16 -17 26z"/>
<path fill="#f8b9b7" d="M2923 1624l17 -18 -17 -21 -17 21z"/>
<path fill="#fde8e7" d="M2974 1653l16 -8 -17 -29 -16 13zM2871 1653l18 -24 -17 -13 -17 29z"/>
<path fill="#fad0cf" d="M2940 1643l17 -14 -17 -23 -17 18zM2905 1643l18 -19 -17 -18 -17 23z"/>
<path fill="#fdf0ef" d="M2957 1662l17 -9 -17 -24 -17 14zM2888 1662l17 -19 -16 -14 -18 24z"/>
<path fill="#fce0df" d="M2923 1657l17 -14 -17 -19 -18 19z"/>
<path fill="#fdf0ef" d="M2940 1672l17 -10 -17 -19 -17 14zM2905 1672l18 -15 -18 -14 -17 19z"/>
<path fill="#fef7f7" d="M2923 1681l17 -9 -17 -15 -18 15z"/>
</g>
<text y="3" font-size="8.58" text-anchor="end" fill="#333" transform="translate(525.5 327.5) rotate(-30) scale(0.862 1)">-30</text>
<text y="3" font-size="8.58" text-anchor="end" fill="#333" transform="translate(524.6 320.5) rotate(-30) scale(0.862 1)">-20</text>
<text y="3" font-size="8.58" text-anchor="end" fill="#333" transform="translate(523.6 313.3) rotate(-30) scale(0.862 1)">-10</text>
<text y="3" font-size="8.58" text-anchor="end" fill="#333" transform="translate(522.7 305.8) rotate(-30) scale(0.862 1)">0</text>
<text y="3" font-size="8.58" text-anchor="end" fill="#333" transform="translate(521.6 298.1) rotate(-30) scale(0.862 1)">10</text>
<text y="3" font-size="8.58" text-anchor="end" fill="#333" transform="translate(520.6 290) rotate(-30) scale(0.862 1)">20</text>
<text y="3" font-size="8.58" text-anchor="end" fill="#333" transform="translate(519.5 281.7) rotate(-30) scale(0.862 1)">30</text>
<text y="3" font-size="8.58" text-anchor="end" fill="#333" transform="translate(518.4 273.1) rotate(-30) scale(0.862 1)">40</text>
<text y="3" font-size="8.58" text-anchor="end" fill="#333" transform="translate(583.5 366.2) rotate(-42) scale(0.862 1)">0</text>
<text y="3" font-size="8.58" text-anchor="end" fill="#333" transform="translate(567.7 356.6) rotate(-42) scale(0.862 1)">10</text>
<text y="3" font-size="8.58" text-anchor="end" fill="#333" transform="translate(553.2 347.8) rotate(-42) scale(0.862 1)">100</text>
<text y="3" font-size="8.58" text-anchor="end" fill="#333" transform="translate(539.9 339.7) rotate(-42) scale(0.862 1)">1000</text>
<text y="3" font-size="8.58" text-anchor="end" fill="#333" transform="translate(527.7 332.3) rotate(-42) scale(0.862 1)">10000</text>
<text y="3" font-size="8.58" fill="#333" transform="translate(586.5 365.2) rotate(40) scale(0.862 1)">0</text>
<text y="3" font-size="8.58" fill="#333" transform="translate(602.4 355.6) rotate(40) scale(0.862 1)">30</text>
<text y="3" font-size="8.58" fill="#333" transform="translate(616.8 346.8) rotate(40) scale(0.862 1)">300</text>
<text y="3" font-size="8.58" fill="#333" transform="translate(630.1 338.7) rotate(40) scale(0.862 1)">3000</text>
<text y="3" font-size="8.58" fill="#333" transform="translate(642.3 331.3) rotate(40) scale(0.862 1)">30000</text>
<text y="3.3" font-size="9.4" text-anchor="middle" font-weight="bold" transform="translate(531.2 365.8) rotate(37.7) scale(0.862 1)">Spermine (nM)</text>
<text y="3.3" font-size="9.4" text-anchor="middle" font-weight="bold" transform="translate(644.8 363.8) rotate(-38) scale(0.862 1)">Adagrasib (nM)</text>
<text y="3.3" font-size="9.4" text-anchor="middle" font-weight="bold" transform="translate(504.8 295.8) rotate(-102) scale(0.862 1)">Synergy Score</text>
<text y="3" font-size="8.58" text-anchor="middle" fill="#222" transform="translate(584.3 231.7) scale(0.862 1)">Bliss synergy score: 17.3</text>
<text y="2.9" font-size="8.24" text-anchor="middle" fill="#222" transform="translate(552.8 241.5) scale(0.862 1)">-20</text>
<text y="2.9" font-size="8.24" text-anchor="middle" fill="#222" transform="translate(584.3 241.5) scale(0.862 1)">0</text>
<text y="2.9" font-size="8.24" text-anchor="middle" fill="#222" transform="translate(618.3 241.5) scale(0.862 1)">20</text>
<rect x="539.1" y="246.6" width="90.4" height="2.8" fill="url(#gBR)"/>
<line x1="206.4" y1="495.9" x2="199.3" y2="441.5" stroke="#d9d9d9" stroke-width="0.5"/>
<line x1="318" y1="495.9" x2="325.2" y2="441.5" stroke="#d9d9d9" stroke-width="0.5"/>
<line x1="262.2" y1="529.8" x2="206.4" y2="495.9" stroke="#d9d9d9" stroke-width="0.5"/>
<line x1="262.2" y1="529.8" x2="318" y2="495.9" stroke="#d9d9d9" stroke-width="0.5"/>
<line x1="221.9" y1="489.1" x2="217" y2="436.2" stroke="#d9d9d9" stroke-width="0.5"/>
<line x1="302.5" y1="489.1" x2="307.4" y2="436.2" stroke="#d9d9d9" stroke-width="0.5"/>
<line x1="278.1" y1="520.2" x2="221.9" y2="489.1" stroke="#d9d9d9" stroke-width="0.5"/>
<line x1="246.4" y1="520.2" x2="302.5" y2="489.1" stroke="#d9d9d9" stroke-width="0.5"/>
<line x1="236.4" y1="482.7" x2="233.3" y2="431.3" stroke="#d9d9d9" stroke-width="0.5"/>
<line x1="288.1" y1="482.7" x2="291.1" y2="431.3" stroke="#d9d9d9" stroke-width="0.5"/>
<line x1="292.5" y1="511.4" x2="236.4" y2="482.7" stroke="#d9d9d9" stroke-width="0.5"/>
<line x1="231.9" y1="511.4" x2="288.1" y2="482.7" stroke="#d9d9d9" stroke-width="0.5"/>
<line x1="249.7" y1="476.8" x2="248.3" y2="426.7" stroke="#d9d9d9" stroke-width="0.5"/>
<line x1="274.7" y1="476.8" x2="276.1" y2="426.7" stroke="#d9d9d9" stroke-width="0.5"/>
<line x1="305.8" y1="503.3" x2="249.7" y2="476.8" stroke="#d9d9d9" stroke-width="0.5"/>
<line x1="218.6" y1="503.3" x2="274.7" y2="476.8" stroke="#d9d9d9" stroke-width="0.5"/>
<line x1="262.2" y1="471.3" x2="262.2" y2="422.5" stroke="#d9d9d9" stroke-width="0.5"/>
<line x1="262.2" y1="471.3" x2="262.2" y2="422.5" stroke="#d9d9d9" stroke-width="0.5"/>
<line x1="318" y1="495.9" x2="262.2" y2="471.3" stroke="#d9d9d9" stroke-width="0.5"/>
<line x1="206.4" y1="495.9" x2="262.2" y2="471.3" stroke="#d9d9d9" stroke-width="0.5"/>
<line x1="206.4" y1="495.9" x2="262.2" y2="471.3" stroke="#d9d9d9" stroke-width="0.5"/>
<line x1="318" y1="495.9" x2="262.2" y2="471.3" stroke="#d9d9d9" stroke-width="0.5"/>
<line x1="205.5" y1="488.9" x2="262.2" y2="464.9" stroke="#d9d9d9" stroke-width="0.5"/>
<line x1="319" y1="488.9" x2="262.2" y2="464.9" stroke="#d9d9d9" stroke-width="0.5"/>
<line x1="204.5" y1="481.7" x2="262.2" y2="458.4" stroke="#d9d9d9" stroke-width="0.5"/>
<line x1="319.9" y1="481.7" x2="262.2" y2="458.4" stroke="#d9d9d9" stroke-width="0.5"/>
<line x1="203.6" y1="474.2" x2="262.2" y2="451.6" stroke="#9a9a9a" stroke-width="0.6"/>
<line x1="320.9" y1="474.2" x2="262.2" y2="451.6" stroke="#9a9a9a" stroke-width="0.6"/>
<line x1="202.5" y1="466.5" x2="262.2" y2="444.7" stroke="#d9d9d9" stroke-width="0.5"/>
<line x1="321.9" y1="466.5" x2="262.2" y2="444.7" stroke="#d9d9d9" stroke-width="0.5"/>
<line x1="201.5" y1="458.4" x2="262.2" y2="437.5" stroke="#d9d9d9" stroke-width="0.5"/>
<line x1="322.9" y1="458.4" x2="262.2" y2="437.5" stroke="#d9d9d9" stroke-width="0.5"/>
<line x1="200.4" y1="450.1" x2="262.2" y2="430.1" stroke="#d9d9d9" stroke-width="0.5"/>
<line x1="324" y1="450.1" x2="262.2" y2="430.1" stroke="#d9d9d9" stroke-width="0.5"/>
<line x1="199.3" y1="441.5" x2="262.2" y2="422.5" stroke="#d9d9d9" stroke-width="0.5"/>
<line x1="325.2" y1="441.5" x2="262.2" y2="422.5" stroke="#d9d9d9" stroke-width="0.5"/>
<g stroke="#6a6a6a" stroke-width="2" stroke-linejoin="round" transform="scale(0.2)">
<path fill="#dfe8f4" d="M1311 2288l15 -12 -15 -10 -15 10z"/>
<path fill="#d4e0f0" d="M1326 2300l15 -14 -15 -10 -15 12zM1296 2300l15 -12 -15 -12 -15 10z"/>
<path fill="#c9d8ec" d="M1311 2313l15 -13 -15 -12 -15 12zM1341 2309l15 -15 -15 -8 -15 14zM1281 2309l15 -9 -15 -14 -15 8z"/>
<path fill="#bed0e8" d="M1326 2324l15 -15 -15 -9 -15 13zM1296 2324l15 -11 -15 -13 -15 9z"/>
<path fill="#c9d8ec" d="M1357 2315l15 -15 -16 -6 -15 15zM1265 2315l16 -6 -15 -15 -16 6z"/>
<path fill="#b4c9e5" d="M1311 2335l15 -11 -15 -11 -15 11z"/>
<path fill="#bed0e8" d="M1342 2330l15 -15 -16 -6 -15 15zM1280 2330l16 -6 -15 -15 -16 6z"/>
<path fill="#d4e0f0" d="M1373 2318l15 -14 -16 -4 -15 15zM1249 2317l16 -2 -15 -15 -16 3z"/>
<path fill="#b4c9e5" d="M1327 2341l15 -11 -16 -6 -15 11zM1296 2341l15 -6 -15 -11 -16 6z"/>
<path fill="#bed0e8" d="M1358 2332l15 -14 -16 -3 -15 15zM1265 2331l15 -1 -15 -15 -16 2z"/>
<path fill="#d4e0f0" d="M1389 2320l15 -13 -16 -3 -15 14zM1233 2318l16 -1 -15 -14 -16 3z"/>
<path fill="#b4c9e5" d="M1311 2348l16 -7 -16 -6 -15 6zM1342 2343l16 -11 -16 -2 -15 11zM1280 2342l16 -1 -16 -11 -15 1z"/>
<path fill="#c9d8ec" d="M1374 2333l15 -13 -16 -2 -15 14zM1248 2329l17 2 -16 -14 -16 1z"/>
<path fill="#dfe8f4" d="M1406 2322l15 -12 -17 -3 -15 13zM1216 2317l17 1 -15 -12 -17 1z"/>
<path fill="#b4c9e5" d="M1327 2350l15 -7 -15 -2 -16 7zM1295 2348l16 0 -15 -7 -16 1z"/>
<path fill="#bed0e8" d="M1358 2343l16 -10 -16 -1 -16 11zM1264 2339l16 3 -15 -11 -17 -2z"/>
<path fill="#d4e0f0" d="M1390 2334l16 -12 -17 -2 -15 13z"/>
<path fill="#dfe8f4" d="M1422 2327l16 -12 -17 -5 -15 12zM1232 2327l16 2 -15 -11 -17 -1z"/>
<path fill="#eaf0f8" d="M1199 2318l17 -1 -15 -10 -17 3z"/>
<path fill="#b4c9e5" d="M1311 2352l16 -2 -16 -2 -16 0z"/>
<path fill="#bed0e8" d="M1343 2350l15 -7 -16 0 -15 7zM1279 2346l16 2 -15 -6 -16 -3z"/>
<path fill="#c9d8ec" d="M1375 2345l15 -11 -16 -1 -16 10z"/>
<path fill="#d4e0f0" d="M1407 2339l15 -12 -16 -5 -16 12z"/>
<path fill="#eaf0f8" d="M1440 2334l15 -13 -17 -6 -16 12z"/>
<path fill="#d4e0f0" d="M1247 2336l17 3 -16 -10 -16 -2z"/>
<path fill="#eaf0f8" d="M1214 2326l18 1 -16 -10 -17 1z"/>
<path fill="#f4f7fb" d="M1182 2319l17 -1 -15 -8 -17 3z"/>
<path fill="#bed0e8" d="M1327 2353l16 -3 -16 0 -16 2z"/>
<path fill="#c9d8ec" d="M1359 2353l16 -8 -17 -2 -15 7z"/>
<path fill="#bed0e8" d="M1295 2350l16 2 -16 -4 -16 -2z"/>
<path fill="#d4e0f0" d="M1392 2351l15 -12 -17 -5 -15 11z"/>
<path fill="#dfe8f4" d="M1457 2342l15 -14 -17 -7 -15 13z"/>
<path fill="#d4e0f0" d="M1424 2348l16 -14 -18 -7 -15 12zM1263 2343l16 3 -15 -7 -17 -3z"/>
<path fill="#eaf0f8" d="M1230 2333l17 3 -15 -9 -18 -1z"/>
<path fill="#fef7f7" d="M1164 2323l18 -4 -15 -6 -18 4z"/>
<path fill="#f4f7fb" d="M1197 2326l17 0 -15 -8 -17 1z"/>
<path fill="#dfe8f4" d="M1474 2349l16 -14 -18 -7 -15 14z"/>
<path fill="#d4e0f0" d="M1441 2357l16 -15 -17 -8 -16 14z"/>
<path fill="#c9d8ec" d="M1409 2361l15 -13 -17 -9 -15 12zM1376 2360l16 -9 -17 -6 -16 8zM1344 2357l15 -4 -16 -3 -16 3zM1311 2354l16 -1 -16 -1 -16 -2z"/>
<path fill="#d4e0f0" d="M1278 2348l17 2 -16 -4 -16 -3z"/>
<path fill="#fef7f7" d="M1146 2328l18 -5 -15 -6 -18 6z"/>
<path fill="#dfe8f4" d="M1245 2340l18 3 -16 -7 -17 -3z"/>
<path fill="#fef7f7" d="M1179 2328l18 -2 -15 -7 -18 4z"/>
<path fill="#f4f7fb" d="M1212 2333l18 0 -16 -7 -17 0z"/>
<path fill="#d4e0f0" d="M1459 2366l15 -17 -17 -7 -16 15z"/>
<path fill="#c9d8ec" d="M1426 2372l15 -15 -17 -9 -15 13z"/>
<path fill="#dfe8f4" d="M1493 2355l15 -14 -18 -6 -16 14z"/>
<path fill="#c9d8ec" d="M1393 2371l16 -10 -17 -10 -16 9zM1360 2365l16 -5 -17 -7 -15 4z"/>
<path fill="#d4e0f0" d="M1328 2359l16 -2 -17 -4 -16 1z"/>
<path fill="#fef7f7" d="M1128 2334l18 -6 -15 -5 -18 6z"/>
<path fill="#d4e0f0" d="M1295 2353l16 1 -16 -4 -17 -2z"/>
<path fill="#eaf0f8" d="M1261 2347l17 1 -15 -5 -18 -3z"/>
<path fill="#fef7f7" d="M1161 2333l18 -5 -15 -5 -18 5z"/>
<path fill="#c9d8ec" d="M1443 2381l16 -15 -18 -9 -15 15z"/>
<path fill="#f4f7fb" d="M1228 2340l17 0 -15 -7 -18 0z"/>
<path fill="#d4e0f0" d="M1477 2371l16 -16 -19 -6 -15 17z"/>
<path fill="#bed0e8" d="M1410 2384l16 -12 -17 -11 -16 10z"/>
<path fill="#fef7f7" d="M1195 2335l17 -2 -15 -7 -18 2z"/>
<path fill="#eaf0f8" d="M1511 2358l15 -12 -18 -5 -15 14z"/>
<path fill="#c9d8ec" d="M1377 2377l16 -6 -17 -11 -16 5z"/>
<path fill="#fef7f7" d="M1109 2342l19 -8 -15 -5 -18 8z"/>
<path fill="#d4e0f0" d="M1344 2367l16 -2 -16 -8 -16 2z"/>
<path fill="#dfe8f4" d="M1311 2360l17 -1 -17 -5 -16 -1z"/>
<path fill="#bed0e8" d="M1428 2393l15 -12 -17 -9 -16 12z"/>
<path fill="#fdf0ef" d="M1143 2339l18 -6 -15 -5 -18 6z"/>
<path fill="#c9d8ec" d="M1461 2386l16 -15 -18 -5 -16 15z"/>
<path fill="#eaf0f8" d="M1278 2354l17 -1 -17 -5 -17 -1z"/>
<path fill="#dfe8f4" d="M1496 2371l15 -13 -18 -3 -16 16z"/>
<path fill="#f4f7fb" d="M1531 2360l15 -9 -20 -5 -15 12z"/>
<path fill="#bed0e8" d="M1394 2390l16 -6 -17 -13 -16 6z"/>
<path fill="#f4f7fb" d="M1244 2348l17 -1 -16 -7 -17 0z"/>
<path fill="#fdf0ef" d="M1176 2339l19 -4 -16 -7 -18 5z"/>
<path fill="#fef7f7" d="M1210 2342l18 -2 -16 -7 -17 2zM1091 2352l18 -10 -14 -5 -19 9z"/>
<path fill="#c9d8ec" d="M1361 2379l16 -2 -17 -12 -16 2z"/>
<path fill="#fdf0ef" d="M1124 2348l19 -9 -15 -5 -19 8z"/>
<path fill="#bed0e8" d="M1446 2398l15 -12 -18 -5 -15 12z"/>
<path fill="#dfe8f4" d="M1328 2368l16 -1 -16 -8 -17 1z"/>
<path fill="#bed0e8" d="M1412 2399l16 -6 -18 -9 -16 6z"/>
<path fill="#d4e0f0" d="M1480 2384l16 -13 -19 0 -16 15z"/>
<path fill="#f4f7fb" d="M1550 2365l15 -9 -19 -5 -15 9z"/>
<path fill="#eaf0f8" d="M1294 2361l17 -1 -16 -7 -17 1z"/>
<path fill="#fdf0ef" d="M1158 2345l18 -6 -15 -6 -18 6z"/>
<path fill="#eaf0f8" d="M1515 2371l16 -11 -20 -2 -15 13z"/>
<path fill="#fef7f7" d="M1072 2362l19 -10 -15 -6 -19 9z"/>
<path fill="#f4f7fb" d="M1260 2356l18 -2 -17 -7 -17 1z"/>
<path fill="#fdf0ef" d="M1192 2346l18 -4 -15 -7 -19 4z"/>
<path fill="#fef7f7" d="M1226 2350l18 -2 -16 -8 -18 2z"/>
<path fill="#c9d8ec" d="M1379 2391l15 -1 -17 -13 -16 2z"/>
<path fill="#fef7f7" d="M1106 2359l18 -11 -15 -6 -18 10z"/>
<path fill="#d4e0f0" d="M1345 2379l16 0 -17 -12 -16 1z"/>
<path fill="#ffffff" d="M1570 2371l14 -8 -19 -7 -15 9z"/>
<path fill="#bed0e8" d="M1430 2404l16 -6 -18 -5 -16 6z"/>
<path fill="#ffffff" d="M1052 2371l20 -9 -15 -7 -19 8z"/>
<path fill="#c9d8ec" d="M1465 2395l15 -11 -19 2 -15 12z"/>
<path fill="#fdf0ef" d="M1140 2354l18 -9 -15 -6 -19 9z"/>
<path fill="#eaf0f8" d="M1311 2370l17 -2 -17 -8 -17 1z"/>
<path fill="#f4f7fb" d="M1535 2373l15 -8 -19 -5 -16 11z"/>
<path fill="#dfe8f4" d="M1500 2381l15 -10 -19 0 -16 13z"/>
<path fill="#bed0e8" d="M1396 2400l16 -1 -18 -9 -15 1z"/>
<path fill="#f4f7fb" d="M1277 2364l17 -3 -16 -7 -18 2z"/>
<path fill="#fdf0ef" d="M1174 2352l18 -6 -16 -7 -18 6z"/>
<path fill="#fef7f7" d="M1243 2359l17 -3 -16 -8 -18 2zM1087 2369l19 -10 -15 -7 -19 10z"/>
<path fill="#fdf0ef" d="M1208 2355l18 -5 -16 -8 -18 4z"/>
<path fill="#d4e0f0" d="M1362 2390l17 1 -18 -12 -16 0z"/>
<path fill="#ffffff" d="M1590 2379l14 -8 -20 -8 -14 8zM1032 2379l20 -8 -14 -8 -20 8z"/>
<path fill="#fef7f7" d="M1121 2366l19 -12 -16 -6 -18 11z"/>
<path fill="#c9d8ec" d="M1449 2402l16 -7 -19 3 -16 6z"/>
<path fill="#eaf0f8" d="M1328 2380l17 -1 -17 -11 -17 2z"/>
<path fill="#ffffff" d="M1555 2379l15 -8 -20 -6 -15 8z"/>
<path fill="#bed0e8" d="M1414 2406l16 -2 -18 -5 -16 1z"/>
<path fill="#ffffff" d="M1067 2378l20 -9 -15 -7 -20 9z"/>
<path fill="#fdf0ef" d="M1155 2362l19 -10 -16 -7 -18 9z"/>
<path fill="#dfe8f4" d="M1484 2390l16 -9 -20 3 -15 11z"/>
<path fill="#f4f7fb" d="M1294 2373l17 -3 -17 -9 -17 3zM1520 2382l15 -9 -20 -2 -15 10z"/>
<path fill="#fdf0ef" d="M1190 2362l18 -7 -16 -9 -18 6z"/>
<path fill="#ffffff" d="M1259 2369l18 -5 -17 -8 -17 3z"/>
<path fill="#fef7f7" d="M1225 2365l18 -6 -17 -9 -18 5z"/>
<path fill="#c9d8ec" d="M1380 2399l16 1 -17 -9 -17 -1z"/>
<path fill="#fef7f7" d="M1102 2377l19 -11 -15 -7 -19 10z"/>
<path fill="#ffffff" d="M1575 2387l15 -8 -20 -8 -15 8zM1047 2387l20 -9 -15 -7 -20 8z"/>
<path fill="#dfe8f4" d="M1346 2389l16 1 -17 -11 -17 1z"/>
<path fill="#fdf0ef" d="M1136 2374l19 -12 -15 -8 -19 12z"/>
<path fill="#ffffff" d="M1540 2387l15 -8 -20 -6 -15 9z"/>
<path fill="#f4f7fb" d="M1311 2382l17 -2 -17 -10 -17 3z"/>
<path fill="#c9d8ec" d="M1433 2405l16 -3 -19 2 -16 2z"/>
<path fill="#fdf0ef" d="M1171 2371l19 -9 -16 -10 -19 10z"/>
<path fill="#d4e0f0" d="M1469 2398l15 -8 -19 5 -16 7z"/>
<path fill="#ffffff" d="M1082 2386l20 -9 -15 -8 -20 9zM1276 2378l18 -5 -17 -9 -18 5z"/>
<path fill="#eaf0f8" d="M1504 2390l16 -8 -20 -1 -16 9z"/>
<path fill="#fdf0ef" d="M1206 2372l19 -7 -17 -10 -18 7z"/>
<path fill="#fef7f7" d="M1241 2375l18 -6 -16 -10 -18 6z"/>
<path fill="#c9d8ec" d="M1398 2405l16 1 -18 -6 -16 -1z"/>
<path fill="#fef7f7" d="M1117 2385l19 -11 -15 -8 -19 11z"/>
<path fill="#dfe8f4" d="M1364 2398l16 1 -18 -9 -16 -1z"/>
<path fill="#fef7f7" d="M1152 2382l19 -11 -16 -9 -19 12z"/>
<path fill="#ffffff" d="M1560 2395l15 -8 -20 -8 -15 8zM1062 2395l20 -9 -15 -8 -20 9z"/>
<path fill="#eaf0f8" d="M1329 2392l17 -3 -18 -9 -17 2z"/>
<path fill="#fdf0ef" d="M1188 2381l18 -9 -16 -10 -19 9z"/>
<path fill="#ffffff" d="M1294 2388l17 -6 -17 -9 -18 5z"/>
<path fill="#f4f7fb" d="M1524 2395l16 -8 -20 -5 -16 8z"/>
<path fill="#fef7f7" d="M1223 2382l18 -7 -16 -10 -19 7zM1258 2385l18 -7 -17 -9 -18 6z"/>
<path fill="#ffffff" d="M1098 2395l19 -10 -15 -8 -20 9z"/>
<path fill="#dfe8f4" d="M1453 2404l16 -6 -20 4 -16 3z"/>
<path fill="#eaf0f8" d="M1489 2398l15 -8 -20 0 -15 8z"/>
<path fill="#d4e0f0" d="M1417 2408l16 -3 -19 1 -16 -1z"/>
<path fill="#dfe8f4" d="M1382 2406l16 -1 -18 -6 -16 -1z"/>
<path fill="#fef7f7" d="M1133 2393l19 -11 -16 -8 -19 11z"/>
<path fill="#eaf0f8" d="M1347 2400l17 -2 -18 -9 -17 3z"/>
<path fill="#fef7f7" d="M1169 2392l19 -11 -17 -10 -19 11z"/>
<path fill="#ffffff" d="M1545 2403l15 -8 -20 -8 -16 8zM1078 2403l20 -8 -16 -9 -20 9z"/>
<path fill="#f4f7fb" d="M1311 2397l18 -5 -18 -10 -17 6z"/>
<path fill="#fef7f7" d="M1204 2391l19 -9 -17 -10 -18 9z"/>
<path fill="#ffffff" d="M1276 2394l18 -6 -18 -10 -18 7z"/>
<path fill="#fef7f7" d="M1240 2392l18 -7 -17 -10 -18 7z"/>
<path fill="#f4f7fb" d="M1509 2404l15 -9 -20 -5 -15 8z"/>
<path fill="#ffffff" d="M1114 2403l19 -10 -16 -8 -19 10z"/>
<path fill="#eaf0f8" d="M1473 2406l16 -8 -20 0 -16 6z"/>
<path fill="#dfe8f4" d="M1436 2409l17 -5 -20 1 -16 3zM1401 2411l16 -3 -19 -3 -16 1z"/>
<path fill="#fef7f7" d="M1149 2402l20 -10 -17 -10 -19 11z"/>
<path fill="#eaf0f8" d="M1365 2408l17 -2 -18 -8 -17 2z"/>
<path fill="#fef7f7" d="M1185 2401l19 -10 -16 -10 -19 11z"/>
<path fill="#f4f7fb" d="M1329 2405l18 -5 -18 -8 -18 5z"/>
<path fill="#fef7f7" d="M1221 2401l19 -9 -17 -10 -19 9z"/>
<path fill="#ffffff" d="M1293 2403l18 -6 -17 -9 -18 6zM1257 2402l19 -8 -18 -9 -18 7zM1529 2412l16 -9 -21 -8 -15 9zM1093 2412l21 -9 -16 -8 -20 8z"/>
<path fill="#f4f7fb" d="M1493 2412l16 -8 -20 -6 -16 8z"/>
<path fill="#ffffff" d="M1130 2411l19 -9 -16 -9 -19 10z"/>
<path fill="#f4f7fb" d="M1456 2414l17 -8 -20 -2 -17 5z"/>
<path fill="#eaf0f8" d="M1420 2415l16 -6 -19 -1 -16 3z"/>
<path fill="#fef7f7" d="M1166 2411l19 -10 -16 -9 -20 10z"/>
<path fill="#eaf0f8" d="M1384 2415l17 -4 -19 -5 -17 2z"/>
<path fill="#fef7f7" d="M1202 2410l19 -9 -17 -10 -19 10z"/>
<path fill="#f4f7fb" d="M1347 2414l18 -6 -18 -8 -18 5z"/>
<path fill="#ffffff" d="M1238 2411l19 -9 -17 -10 -19 9zM1311 2412l18 -7 -18 -8 -18 6zM1275 2411l18 -8 -17 -9 -19 8zM1513 2420l16 -8 -20 -8 -16 8zM1109 2420l21 -9 -16 -8 -21 9zM1476 2421l17 -9 -20 -6 -17 8zM1146 2420l20 -9 -17 -9 -19 9z"/>
<path fill="#f4f7fb" d="M1439 2421l17 -7 -20 -5 -16 6zM1403 2422l17 -7 -19 -4 -17 4z"/>
<path fill="#ffffff" d="M1183 2420l19 -10 -17 -9 -19 10z"/>
<path fill="#f4f7fb" d="M1366 2422l18 -7 -19 -7 -18 6z"/>
<path fill="#ffffff" d="M1219 2420l19 -9 -17 -10 -19 9zM1329 2421l18 -7 -18 -9 -18 7zM1256 2420l19 -9 -18 -9 -19 9zM1293 2420l18 -8 -18 -9 -18 8zM1496 2429l17 -9 -20 -8 -17 9zM1126 2429l20 -9 -16 -9 -21 9zM1459 2429l17 -8 -20 -7 -17 7zM1163 2429l20 -9 -17 -9 -20 9z"/>
<path fill="#f4f7fb" d="M1422 2430l17 -9 -19 -6 -17 7z"/>
<path fill="#ffffff" d="M1200 2429l19 -9 -17 -10 -19 10z"/>
<path fill="#f4f7fb" d="M1385 2430l18 -8 -19 -7 -18 7z"/>
<path fill="#ffffff" d="M1237 2429l19 -9 -18 -9 -19 9zM1348 2430l18 -8 -19 -8 -18 7zM1274 2429l19 -9 -18 -9 -19 9zM1311 2429l18 -8 -18 -9 -18 8zM1480 2438l16 -9 -20 -8 -17 8zM1143 2438l20 -9 -17 -9 -20 9zM1442 2438l17 -9 -20 -8 -17 9zM1180 2438l20 -9 -17 -9 -20 9zM1405 2438l17 -8 -19 -8 -18 8zM1217 2438l20 -9 -18 -9 -19 9zM1367 2438l18 -8 -19 -8 -18 8zM1255 2438l19 -9 -18 -9 -19 9zM1330 2438l18 -8 -19 -9 -18 8zM1292 2438l19 -9 -18 -9 -19 9zM1462 2447l18 -9 -21 -9 -17 9zM1160 2447l20 -9 -17 -9 -20 9zM1425 2447l17 -9 -20 -8 -17 8zM1198 2447l19 -9 -17 -9 -20 9zM1387 2448l18 -10 -20 -8 -18 8zM1235 2447l20 -9 -18 -9 -20 9zM1349 2448l18 -10 -19 -8 -18 8zM1273 2447l19 -9 -18 -9 -19 9zM1311 2447l19 -9 -19 -9 -19 9zM1445 2457l17 -10 -20 -9 -17 9zM1177 2457l21 -10 -18 -9 -20 9zM1407 2457l18 -10 -20 -9 -18 10zM1215 2457l20 -10 -18 -9 -19 9zM1368 2457l19 -9 -20 -10 -18 10zM1254 2457l19 -10 -18 -9 -20 9zM1330 2457l19 -9 -19 -10 -19 9zM1292 2457l19 -10 -19 -9 -19 9zM1427 2466l18 -9 -20 -10 -18 10zM1195 2466l20 -9 -17 -10 -21 10zM1388 2466l19 -9 -20 -9 -19 9zM1234 2466l20 -9 -19 -10 -20 10zM1350 2466l18 -9 -19 -9 -19 9zM1272 2466l20 -9 -19 -10 -19 10zM1311 2466l19 -9 -19 -10 -19 10zM1409 2476l18 -10 -20 -9 -19 9zM1213 2476l21 -10 -19 -9 -20 9zM1370 2476l18 -10 -20 -9 -18 9zM1252 2476l20 -10 -18 -9 -20 9zM1331 2476l19 -10 -20 -9 -19 9zM1292 2476l19 -10 -19 -9 -20 9zM1390 2486l19 -10 -21 -10 -18 10zM1232 2486l20 -10 -18 -10 -21 10zM1351 2486l19 -10 -20 -10 -19 10zM1272 2486l20 -10 -20 -10 -20 10zM1311 2486l20 -10 -20 -10 -19 10zM1371 2497l19 -11 -20 -10 -19 10zM1251 2497l21 -11 -20 -10 -20 10zM1331 2497l20 -11 -20 -10 -20 10zM1291 2497l20 -11 -19 -10 -20 10zM1352 2507l19 -10 -20 -11 -20 11zM1271 2507l20 -10 -19 -11 -21 11zM1311 2507l20 -10 -20 -11 -20 11zM1332 2518l20 -11 -21 -10 -20 10zM1291 2518l20 -11 -20 -10 -20 10zM1311 2529l21 -11 -21 -11 -20 11z"/>
</g>
<text y="3" font-size="8.58" text-anchor="end" fill="#333" transform="translate(203.2 497.1) rotate(-30) scale(0.862 1)">-15</text>
<text y="3" font-size="8.58" text-anchor="end" fill="#333" transform="translate(202.3 490.1) rotate(-30) scale(0.862 1)">-10</text>
<text y="3" font-size="8.58" text-anchor="end" fill="#333" transform="translate(201.3 482.9) rotate(-30) scale(0.862 1)">-5</text>
<text y="3" font-size="8.58" text-anchor="end" fill="#333" transform="translate(200.4 475.4) rotate(-30) scale(0.862 1)">0</text>
<text y="3" font-size="8.58" text-anchor="end" fill="#333" transform="translate(199.3 467.7) rotate(-30) scale(0.862 1)">5</text>
<text y="3" font-size="8.58" text-anchor="end" fill="#333" transform="translate(198.3 459.6) rotate(-30) scale(0.862 1)">10</text>
<text y="3" font-size="8.58" text-anchor="end" fill="#333" transform="translate(197.2 451.3) rotate(-30) scale(0.862 1)">15</text>
<text y="3" font-size="8.58" text-anchor="end" fill="#333" transform="translate(196.1 442.7) rotate(-30) scale(0.862 1)">20</text>
<text y="3" font-size="8.58" text-anchor="end" fill="#333" transform="translate(261.2 535.8) rotate(-42) scale(0.862 1)">0</text>
<text y="3" font-size="8.58" text-anchor="end" fill="#333" transform="translate(245.4 526.2) rotate(-42) scale(0.862 1)">10</text>
<text y="3" font-size="8.58" text-anchor="end" fill="#333" transform="translate(230.9 517.4) rotate(-42) scale(0.862 1)">100</text>
<text y="3" font-size="8.58" text-anchor="end" fill="#333" transform="translate(217.6 509.3) rotate(-42) scale(0.862 1)">1000</text>
<text y="3" font-size="8.58" text-anchor="end" fill="#333" transform="translate(205.4 501.9) rotate(-42) scale(0.862 1)">10000</text>
<text y="3" font-size="8.58" fill="#333" transform="translate(264.2 534.8) rotate(40) scale(0.862 1)">0</text>
<text y="3" font-size="8.58" fill="#333" transform="translate(280.1 525.2) rotate(40) scale(0.862 1)">50</text>
<text y="3" font-size="8.58" fill="#333" transform="translate(294.5 516.4) rotate(40) scale(0.862 1)">500</text>
<text y="3" font-size="8.58" fill="#333" transform="translate(307.8 508.3) rotate(40) scale(0.862 1)">5000</text>
<text y="3" font-size="8.58" fill="#333" transform="translate(320 500.9) rotate(40) scale(0.862 1)">50000</text>
<text y="3.3" font-size="9.4" text-anchor="middle" font-weight="bold" transform="translate(208.9 535.4) rotate(37.7) scale(0.862 1)">Spermine (nM)</text>
<text y="3.3" font-size="9.4" text-anchor="middle" font-weight="bold" transform="translate(322.5 533.4) rotate(-38) scale(0.862 1)">Sotorasib (nM)</text>
<text y="3.3" font-size="9.4" text-anchor="middle" font-weight="bold" transform="translate(182.5 465.4) rotate(-102) scale(0.862 1)">Synergy Score</text>
<text y="3" font-size="8.58" text-anchor="middle" fill="#222" transform="translate(262 399.4) scale(0.862 1)">Bliss synergy score: - 4.2</text>
<text y="2.9" font-size="8.24" text-anchor="middle" fill="#222" transform="translate(230.5 409.2) scale(0.862 1)">-20</text>
<text y="2.9" font-size="8.24" text-anchor="middle" fill="#222" transform="translate(262 409.2) scale(0.862 1)">0</text>
<text y="2.9" font-size="8.24" text-anchor="middle" fill="#222" transform="translate(296 409.2) scale(0.862 1)">20</text>
<rect x="216.8" y="414.3" width="90.4" height="2.8" fill="url(#gBR)"/>
<line x1="535.9" y1="495.6" x2="528.8" y2="441.2" stroke="#d9d9d9" stroke-width="0.5"/>
<line x1="647.5" y1="495.6" x2="654.7" y2="441.2" stroke="#d9d9d9" stroke-width="0.5"/>
<line x1="591.7" y1="529.5" x2="535.9" y2="495.6" stroke="#d9d9d9" stroke-width="0.5"/>
<line x1="591.7" y1="529.5" x2="647.5" y2="495.6" stroke="#d9d9d9" stroke-width="0.5"/>
<line x1="551.4" y1="488.8" x2="546.5" y2="435.9" stroke="#d9d9d9" stroke-width="0.5"/>
<line x1="632" y1="488.8" x2="636.9" y2="435.9" stroke="#d9d9d9" stroke-width="0.5"/>
<line x1="607.6" y1="519.9" x2="551.4" y2="488.8" stroke="#d9d9d9" stroke-width="0.5"/>
<line x1="575.9" y1="519.9" x2="632" y2="488.8" stroke="#d9d9d9" stroke-width="0.5"/>
<line x1="565.9" y1="482.4" x2="562.8" y2="431" stroke="#d9d9d9" stroke-width="0.5"/>
<line x1="617.6" y1="482.4" x2="620.6" y2="431" stroke="#d9d9d9" stroke-width="0.5"/>
<line x1="622" y1="511.1" x2="565.9" y2="482.4" stroke="#d9d9d9" stroke-width="0.5"/>
<line x1="561.4" y1="511.1" x2="617.6" y2="482.4" stroke="#d9d9d9" stroke-width="0.5"/>
<line x1="579.2" y1="476.5" x2="577.8" y2="426.4" stroke="#d9d9d9" stroke-width="0.5"/>
<line x1="604.2" y1="476.5" x2="605.6" y2="426.4" stroke="#d9d9d9" stroke-width="0.5"/>
<line x1="635.3" y1="503" x2="579.2" y2="476.5" stroke="#d9d9d9" stroke-width="0.5"/>
<line x1="548.1" y1="503" x2="604.2" y2="476.5" stroke="#d9d9d9" stroke-width="0.5"/>
<line x1="591.7" y1="471" x2="591.7" y2="422.2" stroke="#d9d9d9" stroke-width="0.5"/>
<line x1="591.7" y1="471" x2="591.7" y2="422.2" stroke="#d9d9d9" stroke-width="0.5"/>
<line x1="647.5" y1="495.6" x2="591.7" y2="471" stroke="#d9d9d9" stroke-width="0.5"/>
<line x1="535.9" y1="495.6" x2="591.7" y2="471" stroke="#d9d9d9" stroke-width="0.5"/>
<line x1="535.9" y1="495.6" x2="591.7" y2="471" stroke="#d9d9d9" stroke-width="0.5"/>
<line x1="647.5" y1="495.6" x2="591.7" y2="471" stroke="#d9d9d9" stroke-width="0.5"/>
<line x1="535" y1="488.6" x2="591.7" y2="464.6" stroke="#d9d9d9" stroke-width="0.5"/>
<line x1="648.5" y1="488.6" x2="591.7" y2="464.6" stroke="#d9d9d9" stroke-width="0.5"/>
<line x1="534" y1="481.4" x2="591.7" y2="458.1" stroke="#d9d9d9" stroke-width="0.5"/>
<line x1="649.4" y1="481.4" x2="591.7" y2="458.1" stroke="#d9d9d9" stroke-width="0.5"/>
<line x1="533.1" y1="473.9" x2="591.7" y2="451.3" stroke="#9a9a9a" stroke-width="0.6"/>
<line x1="650.4" y1="473.9" x2="591.7" y2="451.3" stroke="#9a9a9a" stroke-width="0.6"/>
<line x1="532" y1="466.2" x2="591.7" y2="444.4" stroke="#d9d9d9" stroke-width="0.5"/>
<line x1="651.4" y1="466.2" x2="591.7" y2="444.4" stroke="#d9d9d9" stroke-width="0.5"/>
<line x1="531" y1="458.1" x2="591.7" y2="437.2" stroke="#d9d9d9" stroke-width="0.5"/>
<line x1="652.4" y1="458.1" x2="591.7" y2="437.2" stroke="#d9d9d9" stroke-width="0.5"/>
<line x1="529.9" y1="449.8" x2="591.7" y2="429.8" stroke="#d9d9d9" stroke-width="0.5"/>
<line x1="653.5" y1="449.8" x2="591.7" y2="429.8" stroke="#d9d9d9" stroke-width="0.5"/>
<line x1="528.8" y1="441.2" x2="591.7" y2="422.2" stroke="#d9d9d9" stroke-width="0.5"/>
<line x1="654.7" y1="441.2" x2="591.7" y2="422.2" stroke="#d9d9d9" stroke-width="0.5"/>
<g stroke="#6a6a6a" stroke-width="2" stroke-linejoin="round" transform="scale(0.2)">
<path fill="#d4e0f0" d="M2959 2288l14 -9 -14 -9 -15 9zM2944 2295l15 -7 -15 -9 -15 7zM2974 2295l14 -10 -15 -6 -14 9zM2959 2302l15 -7 -15 -7 -15 7zM2928 2301l16 -6 -15 -9 -16 5zM2989 2299l15 -9 -16 -5 -14 10z"/>
<path fill="#c9d8ec" d="M2943 2309l16 -7 -15 -7 -16 6z"/>
<path fill="#d4e0f0" d="M2974 2307l15 -8 -15 -4 -15 7zM2913 2306l15 -5 -15 -10 -15 5z"/>
<path fill="#dfe8f4" d="M3005 2301l15 -9 -16 -2 -15 9z"/>
<path fill="#d4e0f0" d="M2928 2314l15 -5 -15 -8 -15 5zM2959 2314l15 -7 -15 -5 -16 7zM2897 2312l16 -6 -15 -10 -16 6zM2990 2309l15 -8 -16 -2 -15 8z"/>
<path fill="#dfe8f4" d="M3021 2304l15 -9 -16 -3 -15 9z"/>
<path fill="#d4e0f0" d="M2881 2321l16 -9 -15 -10 -16 7zM2912 2322l16 -8 -15 -8 -16 6zM2943 2320l16 -6 -16 -5 -15 5zM2974 2317l16 -8 -16 -2 -15 7z"/>
<path fill="#dfe8f4" d="M3005 2312l16 -8 -16 -3 -15 8z"/>
<path fill="#eaf0f8" d="M3037 2307l15 -8 -16 -4 -15 9z"/>
<path fill="#d4e0f0" d="M2864 2331l17 -10 -15 -12 -17 8z"/>
<path fill="#c9d8ec" d="M2896 2331l16 -9 -15 -10 -16 9zM2927 2329l16 -9 -15 -6 -16 8z"/>
<path fill="#d4e0f0" d="M2959 2324l15 -7 -15 -3 -16 6z"/>
<path fill="#dfe8f4" d="M2990 2320l15 -8 -15 -3 -16 8z"/>
<path fill="#eaf0f8" d="M3053 2313l15 -9 -16 -5 -15 8z"/>
<path fill="#dfe8f4" d="M3022 2316l15 -9 -16 -3 -16 8z"/>
<path fill="#c9d8ec" d="M2848 2341l16 -10 -15 -14 -16 9zM2880 2343l16 -12 -15 -10 -17 10zM2911 2340l16 -11 -15 -7 -16 9z"/>
<path fill="#d4e0f0" d="M2943 2334l16 -10 -16 -4 -16 9zM2974 2328l16 -8 -16 -3 -15 7z"/>
<path fill="#eaf0f8" d="M3070 2322l15 -10 -17 -8 -15 9z"/>
<path fill="#dfe8f4" d="M3006 2324l16 -8 -17 -4 -15 8z"/>
<path fill="#eaf0f8" d="M3038 2323l15 -10 -16 -6 -15 9z"/>
<path fill="#c9d8ec" d="M2831 2350l17 -9 -15 -15 -17 8z"/>
<path fill="#bed0e8" d="M2863 2355l17 -12 -16 -12 -16 10zM2895 2353l16 -13 -15 -9 -16 12z"/>
<path fill="#c9d8ec" d="M2927 2346l16 -12 -16 -5 -16 11z"/>
<path fill="#eaf0f8" d="M3087 2333l15 -12 -17 -9 -15 10z"/>
<path fill="#d4e0f0" d="M2959 2338l15 -10 -15 -4 -16 10z"/>
<path fill="#dfe8f4" d="M3055 2333l15 -11 -17 -9 -15 10zM2991 2333l15 -9 -16 -4 -16 8zM3023 2332l15 -9 -16 -7 -16 8z"/>
<path fill="#bed0e8" d="M2846 2364l17 -9 -15 -14 -17 9z"/>
<path fill="#c9d8ec" d="M2814 2356l17 -6 -15 -16 -17 7z"/>
<path fill="#bed0e8" d="M2879 2365l16 -12 -15 -10 -17 12zM2910 2359l17 -13 -16 -6 -16 13z"/>
<path fill="#dfe8f4" d="M3104 2345l15 -15 -17 -9 -15 12zM3072 2346l15 -13 -17 -11 -15 11z"/>
<path fill="#c9d8ec" d="M2942 2350l17 -12 -16 -4 -16 12z"/>
<path fill="#dfe8f4" d="M3039 2344l16 -11 -17 -10 -15 9z"/>
<path fill="#d4e0f0" d="M2975 2343l16 -10 -17 -5 -15 10z"/>
<path fill="#dfe8f4" d="M3007 2341l16 -9 -17 -8 -15 9z"/>
<path fill="#bed0e8" d="M2829 2371l17 -7 -15 -14 -17 6z"/>
<path fill="#b4c9e5" d="M2862 2376l17 -11 -16 -10 -17 9z"/>
<path fill="#c9d8ec" d="M2796 2359l18 -3 -15 -15 -18 4z"/>
<path fill="#b4c9e5" d="M2894 2372l16 -13 -15 -6 -16 12z"/>
<path fill="#d4e0f0" d="M3121 2356l16 -17 -18 -9 -15 15zM3089 2361l15 -16 -17 -12 -15 13z"/>
<path fill="#c9d8ec" d="M2926 2363l16 -13 -15 -4 -17 13z"/>
<path fill="#d4e0f0" d="M3056 2359l16 -13 -17 -13 -16 11zM2959 2353l16 -10 -16 -5 -17 12zM3024 2354l15 -10 -16 -12 -16 9z"/>
<path fill="#b4c9e5" d="M2845 2382l17 -6 -16 -12 -17 7z"/>
<path fill="#dfe8f4" d="M2991 2350l16 -9 -16 -8 -16 10z"/>
<path fill="#bed0e8" d="M2811 2373l18 -2 -15 -15 -18 3z"/>
<path fill="#b4c9e5" d="M2877 2383l17 -11 -15 -7 -17 11z"/>
<path fill="#d4e0f0" d="M2778 2361l18 -2 -15 -14 -18 3zM3139 2364l16 -17 -18 -8 -16 17z"/>
<path fill="#c9d8ec" d="M3106 2374l15 -18 -17 -11 -15 16zM3073 2376l16 -15 -17 -15 -16 13z"/>
<path fill="#bed0e8" d="M2910 2375l16 -12 -16 -4 -16 13z"/>
<path fill="#c9d8ec" d="M3041 2370l15 -11 -17 -15 -15 10zM2942 2365l17 -12 -17 -3 -16 13z"/>
<path fill="#d4e0f0" d="M3008 2362l16 -8 -17 -13 -16 9z"/>
<path fill="#b4c9e5" d="M2827 2384l18 -2 -16 -11 -18 2zM2860 2389l17 -6 -15 -7 -17 6z"/>
<path fill="#d4e0f0" d="M2975 2359l16 -9 -16 -7 -16 10z"/>
<path fill="#bed0e8" d="M3124 2383l15 -19 -18 -8 -15 18zM3090 2391l16 -17 -17 -13 -16 15z"/>
<path fill="#c9d8ec" d="M2793 2373l18 0 -15 -14 -18 2z"/>
<path fill="#d4e0f0" d="M3158 2367l15 -15 -18 -5 -16 17z"/>
<path fill="#b4c9e5" d="M2893 2385l17 -10 -16 -3 -17 11z"/>
<path fill="#dfe8f4" d="M2759 2360l19 1 -15 -13 -19 1z"/>
<path fill="#bed0e8" d="M3057 2387l16 -11 -17 -17 -15 11zM2926 2376l16 -11 -16 -2 -16 12z"/>
<path fill="#c9d8ec" d="M3025 2377l16 -7 -17 -16 -16 8z"/>
<path fill="#b4c9e5" d="M3108 2400l16 -17 -18 -9 -16 17z"/>
<path fill="#d4e0f0" d="M2959 2368l16 -9 -16 -6 -17 12z"/>
<path fill="#b4c9e5" d="M3075 2403l15 -12 -17 -15 -16 11z"/>
<path fill="#d4e0f0" d="M2992 2369l16 -7 -17 -12 -16 9z"/>
<path fill="#c9d8ec" d="M3142 2384l16 -17 -19 -3 -15 19z"/>
<path fill="#b4c9e5" d="M2842 2391l18 -2 -15 -7 -18 2z"/>
<path fill="#bed0e8" d="M2808 2384l19 0 -16 -11 -18 0z"/>
<path fill="#dfe8f4" d="M3177 2366l16 -12 -20 -2 -15 15z"/>
<path fill="#b4c9e5" d="M2875 2392l18 -7 -16 -2 -17 6z"/>
<path fill="#d4e0f0" d="M2774 2371l19 2 -15 -12 -19 -1z"/>
<path fill="#eaf0f8" d="M2739 2360l20 0 -15 -11 -20 2z"/>
<path fill="#bed0e8" d="M3042 2394l15 -7 -16 -17 -16 7zM2909 2385l17 -9 -16 -1 -17 10z"/>
<path fill="#a9c1e1" d="M3092 2413l16 -13 -18 -9 -15 12z"/>
<path fill="#c9d8ec" d="M3009 2382l16 -5 -17 -15 -16 7z"/>
<path fill="#b4c9e5" d="M3127 2400l15 -16 -18 -1 -16 17z"/>
<path fill="#c9d8ec" d="M2942 2377l17 -9 -17 -3 -16 11z"/>
<path fill="#a9c1e1" d="M3059 2409l16 -6 -18 -16 -15 7z"/>
<path fill="#d4e0f0" d="M2975 2375l17 -6 -17 -10 -16 9zM3162 2379l15 -13 -19 1 -16 17z"/>
<path fill="#bed0e8" d="M2824 2391l18 0 -15 -7 -19 0z"/>
<path fill="#eaf0f8" d="M3197 2366l15 -9 -19 -3 -16 12z"/>
<path fill="#b4c9e5" d="M2858 2395l17 -3 -15 -3 -18 2z"/>
<path fill="#d4e0f0" d="M2789 2380l19 4 -15 -11 -19 -2z"/>
<path fill="#f4f7fb" d="M2720 2364l19 -4 -15 -9 -19 5z"/>
<path fill="#eaf0f8" d="M2754 2369l20 2 -15 -11 -20 0z"/>
<path fill="#bed0e8" d="M2891 2392l18 -7 -16 0 -18 7zM3026 2397l16 -3 -17 -17 -16 5z"/>
<path fill="#a9c1e1" d="M3111 2412l16 -12 -19 0 -16 13zM3077 2420l15 -7 -17 -10 -16 6z"/>
<path fill="#c9d8ec" d="M2925 2385l17 -8 -16 -1 -17 9zM2992 2385l17 -3 -17 -13 -17 6z"/>
<path fill="#d4e0f0" d="M2959 2381l16 -6 -16 -7 -17 9z"/>
<path fill="#c9d8ec" d="M3147 2391l15 -12 -20 5 -15 16z"/>
<path fill="#f4f7fb" d="M3217 2370l15 -8 -20 -5 -15 9z"/>
<path fill="#b4c9e5" d="M3043 2410l16 -1 -17 -15 -16 3z"/>
<path fill="#ffffff" d="M2700 2370l20 -6 -15 -8 -20 6z"/>
<path fill="#eaf0f8" d="M3182 2376l15 -10 -20 0 -15 13z"/>
<path fill="#bed0e8" d="M2839 2395l19 0 -16 -4 -18 0z"/>
<path fill="#c9d8ec" d="M2805 2388l19 3 -16 -7 -19 -4z"/>
<path fill="#f4f7fb" d="M2735 2372l19 -3 -15 -9 -19 4z"/>
<path fill="#bed0e8" d="M2873 2396l18 -4 -16 0 -17 3z"/>
<path fill="#dfe8f4" d="M2769 2378l20 2 -15 -9 -20 -2z"/>
<path fill="#c9d8ec" d="M3010 2396l16 1 -17 -15 -17 3z"/>
<path fill="#a9c1e1" d="M3095 2418l16 -6 -19 1 -15 7z"/>
<path fill="#c9d8ec" d="M2907 2391l18 -6 -16 0 -18 7z"/>
<path fill="#a9c1e1" d="M3061 2420l16 0 -18 -11 -16 1z"/>
<path fill="#ffffff" d="M3237 2377l15 -8 -20 -7 -15 8z"/>
<path fill="#bed0e8" d="M3131 2402l16 -11 -20 9 -16 12z"/>
<path fill="#ffffff" d="M2680 2377l20 -7 -15 -8 -20 7z"/>
<path fill="#d4e0f0" d="M2941 2387l18 -6 -17 -4 -17 8zM2976 2387l16 -2 -17 -10 -16 6z"/>
<path fill="#f4f7fb" d="M3202 2378l15 -8 -20 -4 -15 10z"/>
<path fill="#dfe8f4" d="M3167 2386l15 -10 -20 3 -15 12z"/>
<path fill="#ffffff" d="M2715 2378l20 -6 -15 -8 -20 6z"/>
<path fill="#bed0e8" d="M3027 2408l16 2 -17 -13 -16 -1z"/>
<path fill="#d4e0f0" d="M2820 2393l19 2 -15 -4 -19 -3z"/>
<path fill="#f4f7fb" d="M2750 2380l19 -2 -15 -9 -19 3z"/>
<path fill="#c9d8ec" d="M2855 2398l18 -2 -15 -1 -19 0z"/>
<path fill="#dfe8f4" d="M2785 2385l20 3 -16 -8 -20 -2z"/>
<path fill="#c9d8ec" d="M2889 2396l18 -5 -16 1 -18 4z"/>
<path fill="#b4c9e5" d="M3080 2420l15 -2 -18 2 -16 0z"/>
<path fill="#d4e0f0" d="M2993 2396l17 0 -18 -11 -16 2zM2924 2392l17 -5 -16 -2 -18 6z"/>
<path fill="#bed0e8" d="M3115 2409l16 -7 -20 10 -16 6z"/>
<path fill="#dfe8f4" d="M2959 2391l17 -4 -17 -6 -18 6z"/>
<path fill="#ffffff" d="M3223 2385l14 -8 -20 -7 -15 8zM2695 2385l20 -7 -15 -8 -20 7z"/>
<path fill="#bed0e8" d="M3045 2417l16 3 -18 -10 -16 -2z"/>
<path fill="#dfe8f4" d="M3151 2395l16 -9 -20 5 -16 11z"/>
<path fill="#f4f7fb" d="M3187 2387l15 -9 -20 -2 -15 10z"/>
<path fill="#ffffff" d="M2730 2386l20 -6 -15 -8 -20 6z"/>
<path fill="#f4f7fb" d="M2765 2388l20 -3 -16 -7 -19 2z"/>
<path fill="#dfe8f4" d="M2801 2392l19 1 -15 -5 -20 -3z"/>
<path fill="#d4e0f0" d="M2836 2398l19 0 -16 -3 -19 -2z"/>
<path fill="#c9d8ec" d="M3011 2406l16 2 -17 -12 -17 0z"/>
<path fill="#d4e0f0" d="M2871 2400l18 -4 -16 0 -18 2z"/>
<path fill="#dfe8f4" d="M2906 2398l18 -6 -17 -1 -18 5zM2976 2398l17 -2 -17 -9 -17 4zM2941 2396l18 -5 -18 -4 -17 5z"/>
<path fill="#c9d8ec" d="M3100 2414l15 -5 -20 9 -15 2z"/>
<path fill="#bed0e8" d="M3064 2419l16 1 -19 0 -16 -3z"/>
<path fill="#ffffff" d="M3207 2393l16 -8 -21 -7 -15 9zM2710 2393l20 -7 -15 -8 -20 7z"/>
<path fill="#dfe8f4" d="M3136 2403l15 -8 -20 7 -16 7z"/>
<path fill="#f4f7fb" d="M3172 2395l15 -8 -20 -1 -16 9z"/>
<path fill="#ffffff" d="M2745 2394l20 -6 -15 -8 -20 6z"/>
<path fill="#c9d8ec" d="M3029 2414l16 3 -18 -9 -16 -2z"/>
<path fill="#f4f7fb" d="M2781 2396l20 -4 -16 -7 -20 3z"/>
<path fill="#eaf0f8" d="M2817 2399l19 -1 -16 -5 -19 -1z"/>
<path fill="#dfe8f4" d="M2852 2402l19 -2 -16 -2 -19 0zM2888 2403l18 -5 -17 -2 -18 4zM2994 2406l17 0 -18 -10 -17 2zM2923 2401l18 -5 -17 -4 -18 6z"/>
<path fill="#eaf0f8" d="M2959 2401l17 -3 -17 -7 -18 5z"/>
<path fill="#ffffff" d="M3192 2402l15 -9 -20 -6 -15 8zM2725 2402l20 -8 -15 -8 -20 7z"/>
<path fill="#c9d8ec" d="M3083 2417l17 -3 -20 6 -16 -1z"/>
<path fill="#dfe8f4" d="M3120 2409l16 -6 -21 6 -15 5z"/>
<path fill="#f4f7fb" d="M3156 2403l16 -8 -21 0 -15 8z"/>
<path fill="#c9d8ec" d="M3048 2418l16 1 -19 -2 -16 -3z"/>
<path fill="#ffffff" d="M2761 2402l20 -6 -16 -8 -20 6z"/>
<path fill="#f4f7fb" d="M2797 2403l20 -4 -16 -7 -20 4z"/>
<path fill="#dfe8f4" d="M3012 2414l17 0 -18 -8 -17 0z"/>
<path fill="#eaf0f8" d="M2833 2406l19 -4 -16 -4 -19 1zM2869 2407l19 -4 -17 -3 -19 2zM2905 2407l18 -6 -17 -3 -18 5zM2977 2409l17 -3 -18 -8 -17 3zM2941 2407l18 -6 -18 -5 -18 5z"/>
<path fill="#ffffff" d="M3176 2410l16 -8 -20 -7 -16 8zM2741 2410l20 -8 -16 -8 -20 8z"/>
<path fill="#f4f7fb" d="M3140 2412l16 -9 -20 0 -16 6z"/>
<path fill="#dfe8f4" d="M3103 2416l17 -7 -20 5 -17 3zM3067 2420l16 -3 -19 2 -16 -1z"/>
<path fill="#ffffff" d="M2777 2410l20 -7 -16 -7 -20 6z"/>
<path fill="#dfe8f4" d="M3031 2420l17 -2 -19 -4 -17 0z"/>
<path fill="#f4f7fb" d="M2814 2411l19 -5 -16 -7 -20 4zM2850 2413l19 -6 -17 -5 -19 4z"/>
<path fill="#eaf0f8" d="M2995 2416l17 -2 -18 -8 -17 3z"/>
<path fill="#f4f7fb" d="M2886 2413l19 -6 -17 -4 -19 4zM2922 2413l19 -6 -18 -6 -18 6zM2959 2414l18 -5 -18 -8 -18 6z"/>
<path fill="#ffffff" d="M3160 2419l16 -9 -20 -7 -16 9zM2757 2419l20 -9 -16 -8 -20 8z"/>
<path fill="#f4f7fb" d="M3124 2420l16 -8 -20 -3 -17 7z"/>
<path fill="#eaf0f8" d="M3087 2423l16 -7 -20 1 -16 3z"/>
<path fill="#ffffff" d="M2794 2419l20 -8 -17 -8 -20 7z"/>
<path fill="#eaf0f8" d="M3050 2424l17 -4 -19 -2 -17 2z"/>
<path fill="#f4f7fb" d="M2830 2420l20 -7 -17 -7 -19 5z"/>
<path fill="#eaf0f8" d="M3013 2424l18 -4 -19 -6 -17 2z"/>
<path fill="#f4f7fb" d="M2867 2420l19 -7 -17 -6 -19 6zM2904 2421l18 -8 -17 -6 -19 6zM2977 2422l18 -6 -18 -7 -18 5zM2940 2421l19 -7 -18 -7 -19 6z"/>
<path fill="#ffffff" d="M3144 2428l16 -9 -20 -7 -16 8zM2773 2428l21 -9 -17 -9 -20 9z"/>
<path fill="#f4f7fb" d="M3107 2428l17 -8 -21 -4 -16 7z"/>
<path fill="#ffffff" d="M2810 2428l20 -8 -16 -9 -20 8z"/>
<path fill="#f4f7fb" d="M3070 2430l17 -7 -20 -3 -17 4z"/>
<path fill="#ffffff" d="M2847 2428l20 -8 -17 -7 -20 7z"/>
<path fill="#f4f7fb" d="M3033 2430l17 -6 -19 -4 -18 4zM2885 2428l19 -7 -18 -8 -19 7zM2996 2430l17 -6 -18 -8 -18 6zM2922 2429l18 -8 -18 -8 -18 8zM2959 2429l18 -7 -18 -8 -19 7z"/>
<path fill="#ffffff" d="M3127 2437l17 -9 -20 -8 -17 8zM2790 2437l20 -9 -16 -9 -21 9z"/>
<path fill="#f4f7fb" d="M3090 2437l17 -9 -20 -5 -17 7z"/>
<path fill="#ffffff" d="M2828 2437l19 -9 -17 -8 -20 8z"/>
<path fill="#f4f7fb" d="M3052 2438l18 -8 -20 -6 -17 6z"/>
<path fill="#ffffff" d="M2865 2437l20 -9 -18 -8 -20 8z"/>
<path fill="#f4f7fb" d="M3015 2438l18 -8 -20 -6 -17 6z"/>
<path fill="#ffffff" d="M2902 2437l20 -8 -18 -8 -19 7z"/>
<path fill="#f4f7fb" d="M2977 2438l19 -8 -19 -8 -18 7z"/>
<path fill="#ffffff" d="M2940 2437l19 -8 -19 -8 -18 8zM3110 2446l17 -9 -20 -9 -17 9zM2807 2446l21 -9 -18 -9 -20 9zM3072 2446l18 -9 -20 -7 -18 8zM2845 2446l20 -9 -18 -9 -19 9zM3034 2446l18 -8 -19 -8 -18 8zM2883 2446l19 -9 -17 -9 -20 9zM2996 2446l19 -8 -19 -8 -19 8zM2921 2446l19 -9 -18 -8 -20 8zM2959 2446l18 -8 -18 -9 -19 8zM3093 2455l17 -9 -20 -9 -18 9zM2825 2455l20 -9 -17 -9 -21 9zM3054 2455l18 -9 -20 -8 -18 8zM2863 2455l20 -9 -18 -9 -20 9zM3016 2456l18 -10 -19 -8 -19 8zM2901 2455l20 -9 -19 -9 -19 9zM2978 2456l18 -10 -19 -8 -18 8zM2939 2455l20 -9 -19 -9 -19 9zM3075 2465l18 -10 -21 -9 -18 9zM2843 2465l20 -10 -18 -9 -20 9zM3036 2465l18 -10 -20 -9 -18 10zM2881 2465l20 -10 -18 -9 -20 9zM2997 2465l19 -9 -20 -10 -18 10zM2920 2465l19 -10 -18 -9 -20 9zM2959 2465l19 -9 -19 -10 -20 9zM3056 2475l19 -10 -21 -10 -18 10zM2861 2475l20 -10 -18 -10 -20 10zM3017 2475l19 -10 -20 -9 -19 9zM2900 2475l20 -10 -19 -10 -20 10zM2978 2475l19 -10 -19 -9 -19 9zM2939 2475l20 -10 -20 -10 -19 10zM3038 2485l18 -10 -20 -10 -19 10zM2880 2485l20 -10 -19 -10 -20 10zM2998 2485l19 -10 -20 -10 -19 10zM2919 2485l20 -10 -19 -10 -20 10zM2959 2485l19 -10 -19 -10 -20 10zM3019 2495l19 -10 -21 -10 -19 10zM2899 2495l20 -10 -19 -10 -20 10zM2979 2495l19 -10 -20 -10 -19 10zM2939 2495l20 -10 -20 -10 -20 10zM2999 2506l20 -11 -21 -10 -19 10zM2918 2506l21 -11 -20 -10 -20 10zM2959 2506l20 -11 -20 -10 -20 10zM2979 2516l20 -10 -20 -11 -20 11zM2938 2516l21 -10 -20 -11 -21 11zM2959 2528l20 -12 -20 -10 -21 10z"/>
</g>
<text y="3" font-size="8.58" text-anchor="end" fill="#333" transform="translate(532.7 496.8) rotate(-30) scale(0.862 1)">-15</text>
<text y="3" font-size="8.58" text-anchor="end" fill="#333" transform="translate(531.8 489.8) rotate(-30) scale(0.862 1)">-10</text>
<text y="3" font-size="8.58" text-anchor="end" fill="#333" transform="translate(530.8 482.6) rotate(-30) scale(0.862 1)">-5</text>
<text y="3" font-size="8.58" text-anchor="end" fill="#333" transform="translate(529.9 475.1) rotate(-30) scale(0.862 1)">0</text>
<text y="3" font-size="8.58" text-anchor="end" fill="#333" transform="translate(528.8 467.4) rotate(-30) scale(0.862 1)">5</text>
<text y="3" font-size="8.58" text-anchor="end" fill="#333" transform="translate(527.8 459.3) rotate(-30) scale(0.862 1)">10</text>
<text y="3" font-size="8.58" text-anchor="end" fill="#333" transform="translate(526.7 451) rotate(-30) scale(0.862 1)">15</text>
<text y="3" font-size="8.58" text-anchor="end" fill="#333" transform="translate(525.6 442.4) rotate(-30) scale(0.862 1)">20</text>
<text y="3" font-size="8.58" text-anchor="end" fill="#333" transform="translate(590.7 535.5) rotate(-42) scale(0.862 1)">0</text>
<text y="3" font-size="8.58" text-anchor="end" fill="#333" transform="translate(574.9 525.9) rotate(-42) scale(0.862 1)">10</text>
<text y="3" font-size="8.58" text-anchor="end" fill="#333" transform="translate(560.4 517.1) rotate(-42) scale(0.862 1)">100</text>
<text y="3" font-size="8.58" text-anchor="end" fill="#333" transform="translate(547.1 509) rotate(-42) scale(0.862 1)">1000</text>
<text y="3" font-size="8.58" text-anchor="end" fill="#333" transform="translate(534.9 501.6) rotate(-42) scale(0.862 1)">10000</text>
<text y="3" font-size="8.58" fill="#333" transform="translate(593.7 534.5) rotate(40) scale(0.862 1)">0</text>
<text y="3" font-size="8.58" fill="#333" transform="translate(609.6 524.9) rotate(40) scale(0.862 1)">50</text>
<text y="3" font-size="8.58" fill="#333" transform="translate(624 516.1) rotate(40) scale(0.862 1)">500</text>
<text y="3" font-size="8.58" fill="#333" transform="translate(637.3 508) rotate(40) scale(0.862 1)">5000</text>
<text y="3" font-size="8.58" fill="#333" transform="translate(649.5 500.6) rotate(40) scale(0.862 1)">50000</text>
<text y="3.3" font-size="9.4" text-anchor="middle" font-weight="bold" transform="translate(538.4 535.1) rotate(37.7) scale(0.862 1)">Spermine (nM)</text>
<text y="3.3" font-size="9.4" text-anchor="middle" font-weight="bold" transform="translate(652 533.1) rotate(-38) scale(0.862 1)">Adagrasib (nM)</text>
<text y="3.3" font-size="9.4" text-anchor="middle" font-weight="bold" transform="translate(512 465.1) rotate(-102) scale(0.862 1)">Synergy Score</text>
<text y="3" font-size="8.58" text-anchor="middle" fill="#222" transform="translate(591.8 399.4) scale(0.862 1)">Bliss synergy score: - 5.7</text>
<text y="2.9" font-size="8.24" text-anchor="middle" fill="#222" transform="translate(560.3 409.2) scale(0.862 1)">-20</text>
<text y="2.9" font-size="8.24" text-anchor="middle" fill="#222" transform="translate(591.8 409.2) scale(0.862 1)">0</text>
<text y="2.9" font-size="8.24" text-anchor="middle" fill="#222" transform="translate(625.8 409.2) scale(0.862 1)">20</text>
<rect x="546.6" y="414.3" width="90.4" height="2.8" fill="url(#gBR)"/>
</g>
<g id="panelD">
<text y="5.6" font-size="16" font-weight="bold" transform="translate(3 574.1)">D</text>
<rect x="32.9" y="590.7" width="42.6" height="62.6" fill="#d3eef8"/>
<rect x="79.4" y="590.7" width="41.8" height="62.6" fill="#f6e1e5"/>
<path d="M161 1336h0M168 1336h0M157 1336h0M145 1331h0M162 1327h0M158 1324h0M146 1321h0M159 1329h0M161 1323h0M157 1331h0M155 1335h0M149 1333h0M152 1336h0M151 1330h0M150 1319h0M142 1334h0M153 1313h0M155 1336h0M153 1332h0M165 1309h0M162 1319h0M110 1335h0M141 1324h0M152 1332h0M152 1323h0M158 1322h0M171 1331h0M146 1312h0M152 1328h0M189 1324h0M160 1326h0M146 1315h0M128 1334h0M158 1336h0M156 1326h0M134 1331h0M154 1329h0M148 1329h0M154 1317h0M156 1333h0M146 1336h0M159 1334h0M162 1329h0M141 1319h0M147 1335h0M154 1323h0M134 1333h0M156 1319h0M147 1333h0M136 1335h0M156 1322h0M157 1319h0M167 1327h0M142 1333h0M157 1307h0M164 1332h0M149 1312h0M160 1332h0M159 1319h0M152 1326h0M144 1316h0M154 1315h0M151 1335h0M161 1325h0M156 1327h0M143 1327h0M135 1335h0M150 1331h0M158 1315h0M161 1331h0M153 1318h0M172 1331h0M138 1325h0M154 1334h0M131 1334h0M157 1332h0M150 1336h0M169 1336h0M154 1318h0M166 1312h0M175 1321h0M158 1329h0M140 1318h0M143 1312h0M184 1328h0M169 1319h0M166 1327h0M166 1325h0M130 1326h0M136 1332h0M174 1335h0M147 1331h0M145 1330h0M141 1332h0M149 1323h0M157 1311h0M148 1337h0M148 1326h0M136 1328h0M147 1320h0M166 1336h0M154 1330h0M159 1335h0M153 1321h0M161 1313h0M145 1327h0M167 1316h0M119 1330h0M153 1322h0M160 1318h0M170 1330h0M156 1324h0M156 1325h0M156 1318h0M142 1329h0M135 1326h0M177 1325h0M176 1316h0M136 1318h0M149 1328h0M156 1326h0M129 1334h0M175 1331h0M162 1312h0M110 1318h0M143 1321h0M163 1311h0M159 1330h0M137 1323h0M169 1324h0M170 1320h0M154 1329h0M145 1334h0M169 1332h0M150 1324h0M153 1334h0M154 1307h0M146 1336h0M167 1336h0M144 1324h0M140 1336h0M144 1319h0M161 1335h0M136 1333h0M152 1320h0M143 1335h0M168 1326h0M159 1309h0M152 1328h0M142 1324h0M126 1324h0M178 1324h0M161 1311h0M155 1322h0M151 1324h0M158 1314h0M158 1336h0M150 1329h0M144 1326h0M151 1308h0M171 1329h0M168 1318h0M166 1314h0M179 1328h0M150 1316h0M144 1323h0M148 1317h0M170 1316h0M165 1329h0M163 1335h0M181 1330h0M138 1307h0M142 1322h0M169 1332h0M158 1316h0M161 1322h0M164 1318h0M151 1336h0M160 1307h0M171 1336h0M143 1330h0M167 1334h0M167 1336h0M171 1332h0M177 1327h0M163 1327h0M162 1332h0M171 1313h0M140 1336h0M161 1315h0M148 1317h0M132 1334h0M159 1323h0M164 1308h0M138 1328h0M163 1315h0M162 1325h0M166 1332h0M184 1335h0M156 1315h0M151 1332h0M163 1323h0M156 1312h0M171 1321h0M151 1319h0M142 1328h0M177 1335h0M167 1330h0M162 1318h0M163 1318h0M162 1331h0M197 1314h0M176 1335h0M149 1307h0M119 1328h0M171 1324h0M182 1330h0M133 1326h0M164 1310h0M128 1327h0M172 1337h0M140 1316h0M186 1328h0M171 1325h0M162 1337h0M167 1331h0M149 1311h0M168 1318h0M186 1324h0M140 1327h0M147 1324h0M132 1318h0M130 1335h0M131 1324h0M160 1320h0M150 1315h0M141 1336h0M185 1329h0M140 1326h0M151 1314h0M144 1318h0M146 1337h0M138 1331h0M149 1322h0M139 1334h0M131 1327h0M140 1326h0M148 1320h0M166 1336h0M134 1313h0M147 1327h0M117 1327h0M170 1336h0M163 1322h0M176 1336h0M142 1330h0M133 1317h0M125 1336h0M130 1330h0M139 1309h0M153 1309h0M179 1335h0M150 1310h0M167 1322h0M162 1329h0M181 1308h0M168 1311h0M164 1325h0M135 1316h0M141 1328h0M156 1313h0M165 1322h0M144 1312h0M176 1334h0M128 1336h0M119 1319h0M181 1336h0M184 1337h0M192 1327h0M160 1307h0M144 1310h0M184 1330h0M135 1329h0M152 1315h0M145 1318h0M173 1332h0M112 1315h0M168 1315h0M197 1322h0M188 1322h0M167 1311h0M151 1312h0M159 1312h0M142 1336h0M184 1323h0M126 1334h0M143 1318h0M164 1323h0M140 1323h0M132 1322h0M170 1315h0M176 1328h0M180 1329h0M174 1325h0M125 1315h0M107 1335h0M170 1322h0M128 1315h0M135 1323h0M173 1317h0M133 1331h0M189 1331h0M185 1319h0M175 1330h0M153 1312h0M137 1317h0M123 1335h0M180 1317h0M168 1323h0M153 1297h0M154 1297h0M154 1289h0M154 1304h0M159 1235h0M157 1304h0M151 1298h0M156 1266h0M151 1272h0M151 1270h0M152 1291h0M154 1304h0M154 1285h0M156 1267h0M154 1302h0M154 1274h0M157 1294h0M156 1291h0M152 1279h0M155 1263h0M153 1261h0M153 1294h0M156 1291h0M158 1293h0M154 1295h0M151 1268h0M157 1301h0M152 1304h0M154 1299h0M155 1279h0M155 1290h0M156 1299h0M156 1298h0M155 1306h0M157 1288h0M158 1298h0M151 1287h0M151 1239h0M154 1282h0M154 1285h0M154 1293h0M159 1304h0M153 1267h0M157 1303h0M158 1273h0M151 1305h0M156 1277h0M158 1282h0M157 1280h0M152 1303h0M152 1251h0M154 1270h0M152 1264h0M152 1305h0M155 1273h0M158 1269h0M152 1259h0M158 1300h0M154 1284h0M152 1296h0M156 1226h0M156 1275h0M152 1277h0M156 1260h0M153 1288h0M158 1215h0M158 1271h0M154 1287h0M158 1295h0M159 1242h0M154 1260h0M158 1302h0M153 1273h0M157 1248h0M159 1297h0M156 1295h0M157 1282h0M151 1294h0M158 1251h0M152 1276h0M151 1301h0M152 1237h0M158 1285h0M153 1279h0M159 1290h0M158 1288h0M159 1287h0M151 1289h0M157 1269h0M156 1242h0M155 1271h0M151 1282h0M154 1253h0M154 1268h0M156 1196h0M157 1265h0M156 1229h0M155 1282h0M156 1244h0M152 1281h0M158 1193h0M152 1284h0M151 1219h0M151 1183h0M151 1272h0M158 1305h0M159 1284h0M158 1236h0M153 1302h0M153 1244h0M158 1272h0M152 1259h0M153 1249h0M153 1246h0M158 1267h0M153 1272h0M156 1232h0M155 1249h0M152 1264h0M158 1262h0M156 1268h0M155 1252h0M151 1197h0M153 1277h0M155 1237h0M154 1221h0M151 1257h0M157 1275h0M153 1284h0M151 1226h0M154 1196h0M159 1289h0M151 1294h0M155 1246h0M151 1291h0M158 1279h0M157 1261h0M156 1254h0M154 1226h0M156 1278h0M151 1229h0M159 1255h0M157 1255h0M157 1263h0M158 1275h0M152 1252h0M152 1201h0M154 1238h0M157 1258h0M156 1247h0M152 1242h0M158 1250h0M158 1214h0M155 1262h0M158 1266h0M157 1203h0M154 1240h0M155 1231h0M157 1202h0M153 1219h0M156 1309h0M157 1312h0M157 1308h0M160 1310h0M145 1315h0" stroke="#bababa" stroke-width="3.0" stroke-linecap="round" fill="none" transform="scale(0.5)"/>
<path d="M149 1281h0M144 1303h0M134 1295h0M118 1303h0M147 1299h0M124 1296h0M141 1294h0M129 1303h0M135 1291h0M143 1287h0M150 1280h0M143 1298h0M147 1297h0M135 1307h0M114 1306h0M143 1300h0M146 1281h0M135 1303h0M59 1284h0M146 1301h0M135 1290h0M128 1274h0M134 1292h0M141 1305h0M139 1306h0M148 1304h0M39 1297h0M149 1304h0M149 1299h0M123 1305h0M148 1290h0M148 1292h0M145 1306h0M143 1291h0M138 1280h0M138 1302h0M137 1280h0M133 1304h0M136 1299h0M142 1302h0M125 1298h0M138 1289h0M141 1300h0M148 1292h0M141 1297h0M125 1303h0M128 1301h0M145 1295h0M143 1273h0M149 1295h0M147 1280h0M146 1294h0M144 1305h0M146 1304h0M138 1284h0M144 1287h0M141 1282h0M133 1289h0M127 1297h0M148 1292h0M113 1303h0M139 1302h0M128 1298h0M146 1278h0M150 1247h0M149 1272h0M150 1307h0M145 1300h0M142 1296h0M132 1267h0M137 1298h0M147 1223h0M142 1302h0M122 1299h0M140 1277h0M144 1294h0M127 1294h0M141 1285h0M126 1306h0M124 1293h0M149 1306h0M150 1300h0M141 1274h0M132 1293h0M150 1267h0M132 1301h0M144 1306h0M99 1301h0M125 1301h0M130 1271h0M131 1284h0M97 1292h0M145 1298h0M146 1264h0M150 1302h0M137 1302h0M126 1299h0M150 1232h0M137 1297h0M147 1286h0M83 1302h0M149 1302h0M119 1293h0M126 1306h0M148 1287h0M133 1278h0M129 1291h0M131 1296h0M128 1304h0M130 1277h0M148 1298h0M67 1300h0M137 1305h0M144 1270h0M80 1304h0M138 1296h0M148 1286h0M133 1300h0M151 1289h0M138 1298h0M138 1297h0M125 1284h0M148 1248h0M131 1298h0M108 1306h0M123 1303h0M150 1293h0M138 1275h0M145 1273h0M138 1303h0M130 1306h0M83 1305h0M105 1305h0M137 1264h0M147 1301h0M134 1249h0M149 1262h0M120 1292h0M140 1294h0M121 1302h0M144 1285h0M140 1304h0M128 1306h0M131 1291h0M130 1285h0M149 1290h0M147 1285h0M141 1255h0M102 1304h0M131 1306h0M148 1304h0M64 1295h0M91 1305h0M133 1306h0M127 1290h0M117 1299h0M142 1291h0M129 1265h0M140 1292h0M141 1270h0M60 1305h0M145 1290h0M100 1306h0M133 1296h0M147 1275h0M146 1267h0M143 1306h0M146 1285h0M126 1291h0M145 1294h0M107 1296h0M149 1265h0M111 1305h0M148 1279h0M141 1299h0M148 1270h0M146 1257h0M145 1289h0M134 1285h0M150 1248h0M144 1249h0M149 1262h0M137 1245h0M122 1267h0M141 1306h0M100 1291h0M144 1239h0M126 1301h0M127 1257h0M149 1283h0M131 1276h0M115 1279h0M145 1251h0M140 1285h0M148 1294h0M149 1277h0M149 1245h0M125 1306h0M122 1287h0M146 1275h0M150 1279h0M146 1236h0M58 1297h0M147 1258h0M114 1297h0M120 1290h0M149 1258h0M133 1265h0M119 1271h0M122 1297h0M128 1297h0M144 1280h0M150 1276h0M137 1292h0M142 1278h0M71 1305h0M135 1305h0M140 1307h0M125 1293h0M151 1266h0M134 1306h0M75 1306h0M131 1280h0M130 1269h0M143 1268h0M126 1280h0M142 1265h0M137 1288h0M113 1265h0M150 1305h0M76 1306h0M136 1300h0M145 1269h0M146 1253h0M122 1298h0M143 1288h0M121 1296h0M103 1306h0M138 1293h0M141 1257h0M145 1279h0M110 1285h0M130 1270h0M140 1286h0M147 1307h0M150 1296h0M147 1282h0M150 1279h0M142 1290h0M119 1295h0M138 1273h0M142 1248h0M131 1298h0M150 1271h0M140 1288h0M137 1258h0M53 1298h0M143 1281h0M103 1299h0M135 1288h0M117 1305h0M96 1304h0M103 1303h0M136 1252h0M146 1263h0M131 1231h0M123 1284h0M87 1300h0M143 1257h0M149 1259h0M112 1301h0M122 1306h0M122 1293h0M119 1301h0M117 1302h0M116 1301h0M145 1283h0M138 1306h0M99 1289h0M126 1281h0M136 1261h0M148 1277h0M108 1306h0M116 1299h0M142 1252h0M141 1282h0M128 1306h0M146 1273h0M146 1269h0M127 1269h0M150 1269h0M120 1306h0M136 1297h0M147 1252h0M141 1294h0M97 1296h0M132 1283h0M150 1248h0M131 1300h0M141 1279h0M133 1287h0M145 1245h0M132 1303h0M109 1302h0M114 1285h0M87 1298h0M112 1298h0M134 1285h0M128 1296h0M146 1253h0M141 1227h0M100 1303h0M112 1300h0M129 1294h0M80 1283h0M103 1294h0M144 1269h0M109 1305h0M137 1259h0M144 1260h0" stroke="#1f2aa6" stroke-width="3.4" stroke-linecap="round" fill="none" transform="scale(0.5)"/>
<path d="M164 1292h0M160 1302h0M198 1299h0M180 1306h0M173 1305h0M162 1294h0M177 1306h0M176 1288h0M169 1300h0M160 1306h0M172 1303h0M166 1302h0M174 1300h0M177 1291h0M256 1306h0M168 1305h0M180 1305h0M188 1302h0M170 1290h0M173 1287h0M176 1250h0M170 1304h0M161 1305h0M183 1306h0M204 1291h0M171 1303h0M188 1293h0M160 1292h0M189 1304h0M163 1288h0M160 1301h0M166 1306h0M165 1280h0M176 1302h0M187 1304h0M177 1297h0M164 1297h0M160 1295h0M162 1298h0M163 1306h0M162 1304h0M169 1268h0M163 1275h0M182 1301h0M164 1300h0M175 1301h0M165 1306h0M212 1306h0M172 1301h0M163 1290h0M161 1299h0M193 1298h0M190 1289h0M160 1237h0M162 1303h0M190 1302h0M183 1290h0M168 1303h0M194 1304h0M159 1281h0M164 1300h0M165 1283h0M170 1286h0M203 1288h0M197 1294h0M179 1298h0M178 1304h0M160 1279h0M160 1302h0M174 1300h0M219 1289h0M162 1303h0M180 1302h0M161 1274h0M166 1295h0M175 1274h0M165 1302h0M172 1295h0M168 1291h0M161 1284h0M174 1297h0M189 1295h0M176 1304h0M159 1286h0M195 1306h0M168 1274h0M203 1303h0M166 1288h0M169 1289h0M171 1305h0M164 1288h0M172 1289h0M167 1292h0M176 1305h0M198 1306h0M192 1302h0M208 1306h0M169 1304h0M170 1301h0M168 1301h0M204 1297h0M162 1284h0M167 1296h0M162 1295h0M229 1299h0M160 1203h0M164 1292h0M162 1272h0M159 1284h0M167 1288h0M160 1284h0M182 1268h0M205 1299h0M176 1282h0M160 1287h0M188 1300h0M174 1294h0M169 1298h0M184 1292h0M179 1296h0M183 1305h0M166 1275h0M192 1305h0M167 1264h0M183 1286h0M163 1286h0M168 1286h0M161 1289h0M196 1300h0M161 1293h0M170 1284h0M169 1274h0M159 1262h0M161 1262h0M183 1298h0M172 1283h0M167 1271h0M175 1291h0M182 1294h0M214 1304h0M178 1270h0M181 1297h0M185 1291h0M165 1275h0M160 1271h0M169 1295h0M162 1250h0M206 1305h0M161 1247h0M196 1302h0M177 1280h0M186 1280h0M169 1257h0M180 1292h0M163 1270h0M179 1302h0M184 1305h0M160 1290h0M230 1306h0M171 1280h0M180 1288h0M171 1274h0M198 1294h0M195 1287h0M169 1306h0M170 1281h0M171 1298h0M185 1295h0M164 1278h0M168 1286h0M166 1278h0M170 1294h0M177 1272h0M164 1280h0M160 1298h0M246 1306h0M164 1242h0M167 1268h0M169 1276h0M170 1274h0M207 1301h0M164 1274h0M165 1259h0M177 1302h0M167 1299h0M171 1286h0M165 1278h0M162 1282h0M170 1307h0M165 1261h0M165 1297h0M167 1283h0M225 1303h0M160 1295h0M175 1306h0M170 1278h0M171 1293h0M202 1306h0M207 1304h0M187 1303h0M199 1295h0M181 1306h0M164 1296h0M189 1301h0M182 1300h0M178 1295h0M228 1292h0M208 1298h0M209 1304h0M166 1279h0M166 1237h0M170 1269h0M163 1262h0M194 1296h0M179 1306h0M182 1303h0M234 1299h0M208 1298h0M177 1299h0M174 1277h0M181 1300h0M163 1272h0M170 1297h0M175 1290h0M176 1297h0M183 1296h0M166 1254h0M160 1265h0M167 1266h0M165 1306h0M163 1260h0M185 1303h0M177 1282h0M175 1294h0M233 1298h0M163 1265h0M196 1306h0M164 1250h0M190 1298h0M170 1299h0M187 1295h0M160 1297h0M191 1302h0M159 1267h0M160 1261h0M159 1292h0M175 1293h0M204 1293h0M165 1270h0M194 1303h0M169 1272h0M171 1277h0M197 1286h0M200 1291h0M189 1299h0M177 1295h0M172 1285h0M165 1282h0M220 1295h0M161 1283h0M187 1306h0M171 1270h0M215 1300h0M163 1272h0M159 1306h0M241 1301h0M221 1289h0M182 1302h0M171 1264h0M159 1246h0M180 1291h0M231 1293h0M182 1288h0M205 1303h0M182 1302h0M172 1273h0M191 1297h0M185 1297h0M256 1305h0M199 1298h0M196 1300h0M162 1276h0M210 1304h0M167 1287h0M224 1306h0M180 1292h0M159 1290h0M256 1302h0M162 1267h0M193 1300h0M242 1306h0M171 1281h0M169 1271h0M177 1289h0M177 1294h0M180 1266h0M202 1301h0M201 1304h0M166 1257h0M162 1300h0M221 1301h0M170 1226h0M160 1276h0M204 1306h0M163 1257h0M190 1306h0M221 1286h0M172 1281h0M215 1284h0M199 1282h0M176 1284h0M200 1305h0M168 1282h0M184 1283h0M210 1289h0M233 1304h0M161 1269h0M195 1281h0M159 1273h0M169 1265h0M161 1250h0M159 1265h0M173 1291h0M201 1305h0M171 1265h0M167 1261h0M169 1249h0M199 1301h0M168 1292h0M181 1283h0M162 1224h0M168 1263h0M206 1296h0M178 1293h0M170 1293h0M172 1306h0M190 1303h0M178 1289h0M176 1278h0M162 1230h0M171 1239h0M196 1296h0M163 1254h0M196 1280h0M178 1277h0M175 1283h0M172 1262h0M215 1304h0M166 1262h0M189 1277h0M245 1299h0M172 1288h0M165 1284h0M166 1270h0M174 1283h0M188 1280h0M202 1299h0M159 1246h0M213 1302h0M160 1306h0M160 1279h0M208 1307h0M193 1290h0M219 1298h0M222 1297h0M185 1306h0M161 1253h0M164 1283h0M244 1305h0M191 1296h0M160 1274h0M196 1306h0M256 1285h0M182 1277h0M222 1305h0M180 1280h0M165 1252h0M236 1303h0M162 1260h0M194 1306h0M202 1297h0M194 1299h0M244 1279h0M160 1249h0M201 1285h0M255 1303h0M186 1300h0M255 1295h0" stroke="#e8262b" stroke-width="3.4" stroke-linecap="round" fill="none" transform="scale(0.5)"/>
<line x1="18.4" y1="653.3" x2="129" y2="653.3" stroke="#333" stroke-width="0.8" stroke-dasharray="2.6 1.8"/>
<line x1="75.5" y1="590.7" x2="75.5" y2="672.6" stroke="#333" stroke-width="0.8" stroke-dasharray="2.6 1.8"/>
<line x1="79.4" y1="590.7" x2="79.4" y2="672.6" stroke="#333" stroke-width="0.8" stroke-dasharray="2.6 1.8"/>
<line x1="18.4" y1="577.5" x2="18.4" y2="673" stroke="#222" stroke-width="1"/>
<line x1="18" y1="672.6" x2="129" y2="672.6" stroke="#222" stroke-width="1"/>
<line x1="15.9" y1="668.3" x2="18.4" y2="668.3" stroke="#222" stroke-width="0.9"/>
<text y="3.3" font-size="9.51" text-anchor="end" fill="#333" transform="translate(14.6 668.3) scale(0.862 1)">0</text>
<line x1="15.9" y1="645.2" x2="18.4" y2="645.2" stroke="#222" stroke-width="0.9"/>
<text y="3.3" font-size="9.51" text-anchor="end" fill="#333" transform="translate(14.6 645.2) scale(0.862 1)">2</text>
<line x1="15.9" y1="622.1" x2="18.4" y2="622.1" stroke="#222" stroke-width="0.9"/>
<text y="3.3" font-size="9.51" text-anchor="end" fill="#333" transform="translate(14.6 622.1) scale(0.862 1)">4</text>
<line x1="15.9" y1="599" x2="18.4" y2="599" stroke="#222" stroke-width="0.9"/>
<text y="3.3" font-size="9.51" text-anchor="end" fill="#333" transform="translate(14.6 599) scale(0.862 1)">6</text>
<line x1="35.6" y1="672.6" x2="35.6" y2="675.1" stroke="#222" stroke-width="0.9"/>
<text y="3.3" font-size="9.51" text-anchor="middle" fill="#333" transform="translate(35.6 680.2) scale(0.862 1)">−10</text>
<line x1="56.5" y1="672.6" x2="56.5" y2="675.1" stroke="#222" stroke-width="0.9"/>
<text y="3.3" font-size="9.51" text-anchor="middle" fill="#333" transform="translate(56.5 680.2) scale(0.862 1)">−5</text>
<line x1="77.4" y1="672.6" x2="77.4" y2="675.1" stroke="#222" stroke-width="0.9"/>
<text y="3.3" font-size="9.51" text-anchor="middle" fill="#333" transform="translate(77.4 680.2) scale(0.862 1)">0</text>
<line x1="98.3" y1="672.6" x2="98.3" y2="675.1" stroke="#222" stroke-width="0.9"/>
<text y="3.3" font-size="9.51" text-anchor="middle" fill="#333" transform="translate(98.3 680.2) scale(0.862 1)">5</text>
<line x1="119.2" y1="672.6" x2="119.2" y2="675.1" stroke="#222" stroke-width="0.9"/>
<text y="3.3" font-size="9.51" text-anchor="middle" fill="#333" transform="translate(119.2 680.2) scale(0.862 1)">10</text>
<text y="3.4" font-size="9.63" text-anchor="middle" font-weight="bold" transform="translate(73.9 574.2) scale(0.862 1)">MIAPACA2-Sotorasib</text>
<text y="2.5" font-size="7.19" text-anchor="middle" font-weight="bold" fill="#111" transform="translate(74.9 584.6) scale(0.862 1)">Resistant cells DN Resistant cells UP</text>
<text y="3.2" font-size="9.16" text-anchor="middle" fill="#3344bb" transform="translate(52.2 594.7) scale(0.862 1)">933 genes</text>
<text y="3.2" font-size="9.16" text-anchor="middle" fill="#e03030" transform="translate(100.5 594.7) scale(0.862 1)">1815 genes</text>
<line x1="52" y1="614" x2="72.5" y2="641" stroke="#333" stroke-width="0.6"/><rect x="29.5" y="606.7" width="23.3" height="8.2" rx="1.6" fill="#fff" stroke="#5566cc" stroke-width="0.9"/><text y="3.1" font-size="8.82" text-anchor="middle" fill="#111" transform="translate(41.1 610.8) scale(0.862 1)">ODC1</text>
<line x1="49" y1="635" x2="66" y2="648" stroke="#333" stroke-width="0.6"/><rect x="28" y="627.6" width="23" height="8.4" rx="1.6" fill="#fff" stroke="#5566cc" stroke-width="0.9"/><text y="3.1" font-size="8.82" text-anchor="middle" fill="#111" transform="translate(39.5 631.8) scale(0.862 1)">SMOX</text>
<line x1="107.5" y1="619.5" x2="88" y2="640" stroke="#333" stroke-width="0.6"/><rect x="101.5" y="611.6" width="23.1" height="8.1" rx="1.6" fill="#fff" stroke="#e04040" stroke-width="0.9"/><text y="3.1" font-size="8.82" text-anchor="middle" fill="#111" transform="translate(113 615.7) scale(0.862 1)">SAT1</text>
<line x1="107.5" y1="664.5" x2="78.8" y2="657.6" stroke="#333" stroke-width="0.6"/><rect x="107" y="662" width="22" height="8.4" rx="1.6" fill="#fff" stroke="#999" stroke-width="0.9"/><text y="3.1" font-size="8.82" text-anchor="middle" fill="#111" transform="translate(118 666.2) scale(0.862 1)">PAOX</text>
<text y="3.2" font-size="9.28" text-anchor="middle" fill="#222" transform="translate(6.8 633.5) rotate(-90) scale(0.862 1)">LogP</text>
<text y="3.1" font-size="8.93" text-anchor="middle" fill="#222" transform="translate(72.8 687.2) scale(0.862 1)">Resistant vs parental cells(LogFC)</text>
<rect x="155.1" y="590.7" width="41.9" height="61.7" fill="#d3eef8"/>
<rect x="201" y="590.7" width="42.3" height="61.7" fill="#f6e1e5"/>
<path d="M401 1325h0M395 1336h0M395 1318h0M359 1322h0M427 1327h0M407 1328h0M396 1322h0M404 1314h0M403 1337h0M394 1325h0M406 1336h0M396 1306h0M393 1329h0M393 1325h0M402 1326h0M398 1335h0M402 1318h0M394 1319h0M399 1319h0M384 1305h0M405 1329h0M400 1334h0M404 1330h0M391 1327h0M404 1307h0M414 1308h0M386 1336h0M386 1317h0M387 1331h0M412 1334h0M399 1331h0M416 1333h0M404 1313h0M400 1309h0M400 1323h0M397 1331h0M412 1307h0M380 1313h0M392 1333h0M400 1310h0M412 1327h0M393 1324h0M390 1334h0M389 1336h0M406 1320h0M408 1328h0M368 1311h0M417 1314h0M415 1323h0M388 1334h0M400 1323h0M407 1318h0M399 1327h0M415 1321h0M437 1332h0M400 1337h0M396 1337h0M386 1330h0M403 1331h0M397 1330h0M403 1335h0M387 1325h0M359 1334h0M407 1338h0M409 1338h0M389 1307h0M392 1331h0M411 1329h0M401 1330h0M394 1332h0M398 1319h0M393 1334h0M397 1312h0M407 1327h0M409 1334h0M393 1336h0M400 1329h0M392 1334h0M399 1336h0M395 1326h0M393 1326h0M373 1309h0M394 1324h0M401 1314h0M405 1338h0M403 1320h0M395 1308h0M412 1320h0M404 1331h0M384 1327h0M397 1316h0M391 1329h0M426 1330h0M398 1337h0M396 1331h0M388 1315h0M394 1334h0M394 1316h0M388 1334h0M389 1335h0M420 1329h0M385 1333h0M402 1310h0M391 1324h0M414 1331h0M402 1326h0M392 1318h0M400 1325h0M387 1327h0M409 1335h0M426 1326h0M405 1323h0M384 1338h0M395 1328h0M410 1336h0M398 1327h0M392 1313h0M397 1306h0M364 1332h0M400 1321h0M391 1338h0M378 1331h0M407 1312h0M404 1320h0M423 1317h0M404 1323h0M366 1324h0M405 1327h0M413 1317h0M422 1312h0M368 1330h0M394 1334h0M413 1318h0M420 1331h0M401 1334h0M370 1331h0M384 1333h0M408 1334h0M399 1315h0M400 1330h0M418 1327h0M408 1326h0M389 1320h0M415 1331h0M368 1334h0M407 1334h0M385 1324h0M407 1316h0M444 1328h0M414 1330h0M414 1332h0M409 1321h0M382 1335h0M378 1328h0M387 1329h0M392 1321h0M389 1328h0M385 1306h0M382 1338h0M377 1335h0M373 1318h0M423 1329h0M409 1327h0M379 1331h0M395 1319h0M384 1314h0M383 1334h0M401 1332h0M441 1318h0M411 1332h0M410 1337h0M423 1338h0M391 1319h0M397 1333h0M389 1318h0M386 1331h0M415 1336h0M386 1335h0M382 1337h0M390 1307h0M407 1309h0M391 1324h0M390 1315h0M410 1317h0M429 1324h0M387 1316h0M402 1318h0M403 1334h0M406 1324h0M378 1335h0M422 1335h0M407 1331h0M390 1321h0M407 1319h0M389 1323h0M405 1326h0M366 1330h0M363 1331h0M398 1320h0M386 1320h0M383 1330h0M395 1321h0M404 1319h0M412 1319h0M426 1323h0M382 1321h0M389 1309h0M378 1317h0M411 1306h0M393 1311h0M379 1324h0M407 1307h0M399 1316h0M388 1333h0M384 1328h0M448 1330h0M394 1314h0M420 1337h0M417 1326h0M382 1323h0M371 1333h0M400 1316h0M379 1329h0M421 1327h0M388 1323h0M397 1324h0M405 1309h0M389 1331h0M381 1325h0M421 1328h0M405 1332h0M390 1313h0M428 1331h0M403 1324h0M372 1312h0M419 1321h0M366 1334h0M412 1327h0M376 1311h0M385 1323h0M418 1324h0M424 1334h0M423 1312h0M392 1315h0M421 1332h0M387 1305h0M387 1319h0M409 1330h0M368 1323h0M418 1335h0M385 1322h0M398 1322h0M401 1305h0M428 1335h0M445 1332h0M378 1313h0M403 1316h0M419 1318h0M394 1318h0M405 1313h0M407 1321h0M390 1309h0M412 1325h0M409 1320h0M410 1315h0M416 1319h0M408 1315h0M410 1322h0M363 1329h0M442 1332h0M388 1311h0M381 1317h0M413 1314h0M419 1325h0M402 1307h0M381 1333h0M386 1318h0M433 1315h0M405 1317h0M387 1307h0M396 1306h0M368 1330h0M419 1333h0M420 1333h0M420 1335h0M401 1317h0M392 1314h0M374 1333h0M420 1322h0M390 1327h0M385 1327h0M393 1308h0M369 1323h0M392 1312h0M403 1309h0M372 1314h0M438 1335h0M439 1333h0M427 1336h0M418 1327h0M421 1318h0M399 1312h0M416 1327h0M376 1334h0M410 1313h0M361 1328h0M372 1323h0M410 1312h0M449 1329h0M385 1309h0M407 1322h0M389 1321h0M397 1312h0M371 1338h0M359 1337h0M384 1325h0M431 1331h0M382 1307h0M393 1306h0M396 1315h0M381 1321h0M374 1329h0M389 1305h0M389 1325h0M411 1324h0M367 1337h0M372 1306h0M373 1312h0M399 1307h0M362 1332h0M391 1305h0M382 1315h0M394 1307h0M382 1331h0M432 1319h0M375 1321h0M416 1334h0M378 1316h0M412 1321h0M426 1311h0M419 1323h0M395 1294h0M396 1293h0M402 1250h0M396 1299h0M400 1293h0M401 1299h0M398 1258h0M398 1292h0M400 1257h0M400 1281h0M401 1294h0M397 1289h0M396 1268h0M397 1241h0M397 1301h0M396 1276h0M396 1280h0M401 1292h0M398 1303h0M399 1282h0M401 1300h0M395 1293h0M399 1287h0M398 1304h0M400 1281h0M395 1231h0M401 1279h0M397 1276h0M400 1296h0M401 1286h0M397 1266h0M395 1287h0M396 1228h0M399 1252h0M398 1272h0M399 1269h0M401 1275h0M398 1290h0M398 1295h0M401 1289h0M395 1272h0M401 1272h0M400 1258h0M400 1241h0M395 1302h0M400 1284h0M400 1265h0M401 1292h0M397 1278h0M402 1250h0M395 1254h0M401 1177h0M401 1240h0M400 1278h0M396 1289h0M399 1298h0M398 1267h0M400 1303h0M400 1297h0M399 1246h0M396 1245h0M397 1281h0M398 1288h0M397 1253h0M395 1285h0M396 1291h0M401 1285h0M402 1242h0M397 1283h0M399 1289h0M399 1296h0M395 1283h0M395 1301h0M400 1182h0M395 1274h0M399 1258h0M402 1281h0M401 1229h0M401 1244h0M395 1260h0M400 1274h0M398 1300h0M399 1261h0M397 1261h0M395 1197h0M395 1263h0M397 1298h0M399 1277h0M398 1263h0M398 1271h0M399 1230h0M402 1302h0M402 1238h0M394 1252h0M396 1251h0M400 1246h0M398 1304h0M395 1298h0M402 1270h0M399 1273h0M402 1253h0M396 1260h0M396 1269h0M401 1220h0M395 1248h0M402 1286h0M396 1275h0M402 1296h0M400 1239h0M402 1237h0M397 1189h0M397 1272h0M402 1216h0M395 1265h0M397 1258h0M396 1239h0M402 1261h0M395 1269h0M397 1275h0M402 1292h0M398 1264h0M400 1285h0M401 1278h0M395 1300h0M401 1269h0M401 1208h0M399 1275h0M402 1303h0M398 1222h0M401 1199h0M399 1237h0M397 1286h0M397 1203h0M395 1279h0M402 1299h0M400 1267h0M396 1227h0M402 1245h0M402 1292h0M396 1244h0M397 1208h0M402 1252h0M400 1221h0M402 1231h0M401 1263h0M399 1205h0M401 1259h0M402 1286h0M400 1195h0M402 1279h0M397 1248h0M399 1239h0M399 1256h0M397 1308h0M402 1308h0M395 1309h0M400 1311h0M401 1306h0M405 1311h0" stroke="#bababa" stroke-width="3.0" stroke-linecap="round" fill="none" transform="scale(0.5)"/>
<path d="M387 1304h0M384 1295h0M359 1292h0M392 1289h0M381 1293h0M322 1300h0M393 1301h0M392 1290h0M375 1297h0M387 1301h0M385 1279h0M391 1292h0M391 1295h0M366 1302h0M386 1276h0M388 1271h0M385 1259h0M383 1286h0M378 1297h0M393 1281h0M377 1295h0M377 1292h0M391 1303h0M386 1303h0M377 1300h0M379 1268h0M367 1276h0M364 1303h0M394 1300h0M357 1293h0M375 1299h0M392 1286h0M363 1296h0M376 1282h0M388 1288h0M391 1274h0M382 1275h0M385 1302h0M387 1279h0M357 1284h0M391 1266h0M375 1294h0M354 1292h0M387 1271h0M386 1290h0M383 1300h0M390 1294h0M382 1302h0M369 1288h0M371 1283h0M372 1297h0M366 1262h0M393 1302h0M387 1299h0M374 1303h0M365 1304h0M386 1297h0M365 1294h0M378 1297h0M393 1290h0M388 1253h0M368 1297h0M391 1292h0M386 1289h0M386 1274h0M390 1301h0M383 1297h0M384 1302h0M339 1303h0M367 1299h0M393 1304h0M391 1299h0M355 1268h0M393 1265h0M394 1285h0M394 1230h0M375 1276h0M393 1297h0M389 1292h0M380 1290h0M384 1230h0M389 1299h0M388 1282h0M392 1277h0M394 1295h0M394 1286h0M390 1245h0M371 1288h0M390 1289h0M374 1287h0M385 1288h0M361 1295h0M369 1292h0M385 1292h0M391 1280h0M390 1301h0M382 1289h0M377 1303h0M392 1272h0M394 1263h0M379 1292h0M369 1304h0M380 1268h0M380 1283h0M382 1291h0M387 1270h0M381 1300h0M385 1300h0M394 1260h0M355 1271h0M381 1275h0M371 1269h0M379 1301h0M393 1280h0M368 1295h0M378 1293h0M385 1254h0M337 1284h0M391 1286h0M370 1273h0M380 1269h0M388 1302h0M389 1285h0M375 1288h0M370 1301h0M379 1280h0M384 1298h0M356 1303h0M393 1287h0M356 1304h0M386 1242h0M351 1294h0M365 1301h0M387 1286h0M384 1292h0M383 1259h0M378 1304h0M367 1282h0M391 1250h0M351 1303h0M332 1299h0M390 1304h0M387 1297h0M389 1267h0M354 1295h0M380 1303h0M370 1303h0M394 1266h0M391 1297h0M368 1304h0M365 1277h0M370 1288h0M381 1284h0M387 1265h0M374 1295h0M393 1274h0M375 1301h0M393 1264h0M365 1300h0M380 1298h0M390 1274h0M348 1295h0M381 1304h0M391 1271h0M292 1303h0M366 1294h0M355 1300h0M370 1304h0M360 1303h0M388 1239h0M375 1291h0M379 1302h0M374 1300h0M382 1271h0M390 1282h0M385 1271h0M389 1297h0M373 1304h0M390 1284h0M349 1302h0M394 1297h0M386 1272h0M384 1295h0M391 1223h0M387 1296h0M381 1298h0M376 1287h0M390 1276h0M351 1285h0M358 1300h0M391 1266h0M394 1291h0M380 1288h0M392 1258h0M367 1241h0M391 1284h0M316 1297h0M374 1300h0M383 1286h0M387 1285h0M393 1283h0M394 1281h0M388 1294h0M383 1279h0M379 1293h0M387 1304h0M371 1304h0M385 1274h0M326 1272h0M378 1286h0M393 1237h0M327 1285h0M386 1283h0M385 1280h0M361 1298h0M331 1298h0M386 1253h0M388 1292h0M383 1304h0M390 1278h0M372 1294h0M381 1247h0M384 1286h0M378 1294h0M297 1304h0M331 1301h0M339 1300h0M370 1301h0M352 1289h0M390 1269h0M379 1273h0M366 1283h0M388 1252h0M393 1294h0M370 1298h0M372 1292h0M383 1269h0M386 1236h0M390 1262h0M388 1290h0M375 1293h0M383 1283h0M358 1297h0M364 1304h0M380 1282h0M289 1300h0M393 1271h0M304 1303h0M383 1290h0M391 1278h0M372 1304h0M362 1288h0M394 1232h0M381 1277h0M356 1280h0M292 1296h0M393 1278h0M394 1269h0M394 1244h0M358 1304h0M336 1302h0M392 1209h0M362 1283h0M372 1290h0M394 1242h0M332 1304h0M370 1299h0M370 1268h0M304 1298h0M376 1302h0M324 1299h0M329 1293h0M379 1263h0M357 1290h0M354 1302h0M387 1267h0M389 1275h0M391 1260h0M358 1299h0M367 1304h0M289 1303h0M289 1292h0M360 1303h0M390 1225h0M393 1257h0M379 1288h0M392 1274h0M344 1268h0M393 1210h0M357 1297h0M389 1244h0M374 1272h0M376 1279h0M369 1267h0M335 1294h0M354 1299h0M289 1290h0M392 1247h0M344 1301h0M383 1276h0M390 1238h0M383 1243h0M350 1297h0M366 1284h0M383 1272h0M367 1293h0M327 1294h0M380 1260h0M394 1293h0M387 1281h0M387 1254h0M373 1290h0M392 1249h0M391 1269h0M376 1278h0M332 1284h0M323 1302h0M297 1299h0M385 1278h0M352 1300h0M338 1285h0M384 1292h0M385 1276h0M380 1281h0M383 1282h0M369 1286h0M367 1273h0M374 1257h0M394 1303h0M377 1269h0M382 1271h0M368 1283h0M364 1293h0M380 1296h0M391 1260h0M375 1304h0M328 1300h0M318 1288h0M344 1289h0M390 1234h0M367 1292h0M361 1291h0M369 1291h0M389 1260h0M393 1227h0M363 1278h0M376 1273h0M364 1301h0M393 1235h0M394 1275h0M364 1299h0M390 1229h0M310 1301h0M302 1296h0M368 1268h0M358 1294h0M390 1255h0M355 1288h0M392 1239h0M376 1256h0M355 1273h0M393 1253h0M381 1242h0M353 1281h0M377 1290h0M387 1261h0M391 1304h0M374 1283h0M340 1285h0M390 1265h0M381 1279h0M356 1292h0M345 1303h0M363 1295h0M379 1288h0M322 1295h0M343 1303h0M350 1301h0M390 1283h0M303 1304h0M333 1301h0M325 1304h0M372 1296h0M393 1250h0M344 1300h0M372 1282h0M371 1262h0M392 1259h0M319 1285h0M375 1288h0M345 1261h0M394 1272h0M345 1298h0M352 1304h0M330 1296h0M383 1255h0M392 1248h0M365 1296h0" stroke="#1f2aa6" stroke-width="3.4" stroke-linecap="round" fill="none" transform="scale(0.5)"/>
<path d="M410 1295h0M445 1298h0M407 1291h0M433 1296h0M404 1300h0M409 1246h0M504 1304h0M406 1289h0M414 1303h0M472 1284h0M407 1304h0M425 1302h0M416 1304h0M411 1217h0M408 1299h0M448 1304h0M452 1304h0M416 1285h0M427 1294h0M405 1299h0M407 1283h0M411 1302h0M411 1286h0M405 1291h0M412 1288h0M421 1297h0M423 1298h0M433 1303h0M403 1292h0M409 1302h0M405 1303h0M404 1294h0M421 1293h0M403 1269h0M429 1281h0M427 1303h0M419 1298h0M403 1302h0M417 1301h0M404 1304h0M434 1302h0M408 1299h0M433 1267h0M419 1300h0M409 1282h0M405 1287h0M417 1298h0M425 1299h0M413 1298h0M424 1304h0M428 1275h0M434 1302h0M420 1303h0M405 1296h0M415 1298h0M404 1287h0M408 1278h0M405 1285h0M418 1261h0M404 1271h0M415 1281h0M410 1277h0M412 1297h0M407 1285h0M413 1262h0M419 1279h0M409 1288h0M431 1299h0M419 1297h0M421 1278h0M407 1292h0M403 1202h0M406 1286h0M405 1281h0M414 1294h0M410 1293h0M451 1295h0M408 1297h0M407 1250h0M414 1286h0M448 1297h0M414 1301h0M406 1300h0M409 1302h0M415 1275h0M420 1276h0M409 1242h0M453 1292h0M406 1296h0M406 1290h0M414 1252h0M443 1302h0M413 1293h0M408 1294h0M419 1304h0M412 1236h0M404 1211h0M409 1291h0M425 1283h0M434 1297h0M440 1303h0M504 1300h0M410 1300h0M412 1304h0M406 1235h0M470 1302h0M410 1271h0M411 1296h0M416 1294h0M404 1285h0M406 1282h0M414 1260h0M407 1265h0M408 1284h0M438 1277h0M407 1247h0M404 1249h0M404 1232h0M409 1296h0M416 1278h0M412 1276h0M403 1234h0M415 1301h0M405 1239h0M406 1259h0M416 1298h0M419 1296h0M428 1301h0M421 1299h0M410 1272h0M410 1274h0M403 1276h0M448 1302h0M436 1302h0M407 1238h0M420 1284h0M430 1297h0M404 1290h0M414 1290h0M408 1285h0M421 1304h0M417 1279h0M409 1290h0M413 1284h0M447 1299h0M408 1279h0M404 1282h0M403 1279h0M409 1296h0M437 1287h0M439 1291h0M420 1289h0M422 1274h0M411 1285h0M414 1270h0M413 1290h0M405 1274h0M405 1304h0M416 1290h0M409 1249h0M457 1304h0M428 1304h0M403 1300h0M403 1234h0M432 1291h0M405 1268h0M414 1278h0M410 1283h0M429 1293h0M410 1240h0M415 1253h0M409 1276h0M422 1288h0M413 1269h0M412 1280h0M404 1297h0M413 1274h0M426 1290h0M420 1284h0M411 1270h0M414 1294h0M404 1300h0M419 1257h0M434 1294h0M414 1291h0M413 1254h0M443 1300h0M422 1287h0M415 1303h0M411 1263h0M404 1219h0M440 1304h0M434 1294h0M417 1257h0M408 1264h0M417 1293h0M448 1297h0M430 1270h0M424 1296h0M437 1302h0M418 1304h0M405 1228h0M404 1274h0M504 1292h0M421 1278h0M410 1263h0M462 1301h0M405 1277h0M422 1301h0M468 1299h0M415 1290h0M430 1304h0M409 1244h0M424 1277h0M428 1300h0M404 1246h0M430 1302h0M410 1271h0M426 1301h0M419 1290h0M441 1277h0M429 1298h0M468 1302h0M403 1250h0M415 1286h0M414 1283h0M413 1280h0M408 1280h0M420 1291h0M405 1259h0M426 1285h0M404 1293h0M406 1276h0M439 1296h0M424 1297h0M432 1295h0M425 1276h0M425 1301h0M422 1292h0M415 1272h0M412 1276h0M402 1239h0M450 1303h0M411 1268h0M413 1284h0M406 1269h0M405 1257h0M403 1221h0M427 1298h0M419 1291h0M409 1265h0M411 1280h0M408 1304h0M428 1302h0M445 1288h0M416 1264h0M415 1279h0M418 1283h0M425 1296h0M489 1294h0M439 1297h0M417 1288h0M407 1261h0M405 1261h0M408 1267h0M433 1304h0M427 1294h0M426 1268h0M428 1286h0M410 1260h0M415 1304h0M418 1272h0M439 1300h0M405 1279h0M412 1292h0M434 1289h0M437 1299h0M444 1288h0M436 1282h0M408 1269h0M415 1266h0M404 1293h0M417 1277h0M420 1292h0M407 1244h0M410 1292h0M422 1296h0M430 1283h0M408 1229h0M430 1285h0M436 1298h0M420 1301h0M407 1304h0M404 1234h0M415 1284h0M435 1295h0M504 1282h0M427 1291h0M447 1301h0M404 1272h0M438 1282h0M429 1277h0M462 1299h0M452 1302h0M432 1299h0M405 1244h0M422 1289h0M411 1250h0M420 1267h0M441 1297h0M407 1273h0M415 1272h0M445 1301h0M412 1304h0M411 1266h0M442 1304h0M411 1239h0M464 1296h0M438 1288h0M418 1278h0M421 1272h0M470 1287h0M405 1265h0M475 1284h0M421 1276h0M411 1246h0M428 1287h0M446 1303h0M430 1303h0M424 1285h0M406 1272h0M423 1295h0M424 1289h0M408 1238h0M447 1293h0M424 1293h0M405 1253h0M404 1275h0M430 1294h0M408 1274h0M445 1281h0M450 1299h0M436 1276h0M440 1280h0M486 1302h0M472 1300h0M484 1292h0M406 1262h0M403 1266h0M411 1273h0M449 1300h0M403 1241h0M427 1297h0M403 1262h0M408 1271h0M417 1295h0M419 1285h0M406 1251h0M416 1238h0M404 1237h0M427 1290h0M407 1228h0M404 1246h0" stroke="#e8262b" stroke-width="3.4" stroke-linecap="round" fill="none" transform="scale(0.5)"/>
<line x1="143.4" y1="652.4" x2="253" y2="652.4" stroke="#333" stroke-width="0.8" stroke-dasharray="2.6 1.8"/>
<line x1="197" y1="590.7" x2="197" y2="672.6" stroke="#333" stroke-width="0.8" stroke-dasharray="2.6 1.8"/>
<line x1="201" y1="590.7" x2="201" y2="672.6" stroke="#333" stroke-width="0.8" stroke-dasharray="2.6 1.8"/>
<line x1="143.4" y1="577.2" x2="143.4" y2="673" stroke="#222" stroke-width="1"/>
<line x1="143" y1="672.6" x2="253" y2="672.6" stroke="#222" stroke-width="1"/>
<line x1="140.9" y1="669" x2="143.4" y2="669" stroke="#222" stroke-width="0.9"/>
<text y="3.3" font-size="9.51" text-anchor="end" fill="#333" transform="translate(139.6 669) scale(0.862 1)">0</text>
<line x1="140.9" y1="643.1" x2="143.4" y2="643.1" stroke="#222" stroke-width="0.9"/>
<text y="3.3" font-size="9.51" text-anchor="end" fill="#333" transform="translate(139.6 643.1) scale(0.862 1)">2</text>
<line x1="140.9" y1="617.2" x2="143.4" y2="617.2" stroke="#222" stroke-width="0.9"/>
<text y="3.3" font-size="9.51" text-anchor="end" fill="#333" transform="translate(139.6 617.2) scale(0.862 1)">4</text>
<line x1="140.9" y1="591.3" x2="143.4" y2="591.3" stroke="#222" stroke-width="0.9"/>
<text y="3.3" font-size="9.51" text-anchor="end" fill="#333" transform="translate(139.6 591.3) scale(0.862 1)">6</text>
<line x1="158.4" y1="672.6" x2="158.4" y2="675.1" stroke="#222" stroke-width="0.9"/>
<text y="3.3" font-size="9.51" text-anchor="middle" fill="#333" transform="translate(158.4 680.2) scale(0.862 1)">−10</text>
<line x1="178.8" y1="672.6" x2="178.8" y2="675.1" stroke="#222" stroke-width="0.9"/>
<text y="3.3" font-size="9.51" text-anchor="middle" fill="#333" transform="translate(178.8 680.2) scale(0.862 1)">−5</text>
<line x1="199.2" y1="672.6" x2="199.2" y2="675.1" stroke="#222" stroke-width="0.9"/>
<text y="3.3" font-size="9.51" text-anchor="middle" fill="#333" transform="translate(199.2 680.2) scale(0.862 1)">0</text>
<line x1="219.6" y1="672.6" x2="219.6" y2="675.1" stroke="#222" stroke-width="0.9"/>
<text y="3.3" font-size="9.51" text-anchor="middle" fill="#333" transform="translate(219.6 680.2) scale(0.862 1)">5</text>
<line x1="240" y1="672.6" x2="240" y2="675.1" stroke="#222" stroke-width="0.9"/>
<text y="3.3" font-size="9.51" text-anchor="middle" fill="#333" transform="translate(240 680.2) scale(0.862 1)">10</text>
<text y="3.4" font-size="9.63" text-anchor="middle" font-weight="bold" transform="translate(197 574.2) scale(0.862 1)">MIAPACA2-Adagrasib</text>
<text y="2.5" font-size="7.19" text-anchor="middle" font-weight="bold" fill="#111" transform="translate(198 584.6) scale(0.862 1)">Resistant cells DN Resistant cells UP</text>
<text y="3.2" font-size="9.16" text-anchor="middle" fill="#3344bb" transform="translate(176.3 594.7) scale(0.862 1)">1247 genes</text>
<text y="3.2" font-size="9.16" text-anchor="middle" fill="#e03030" transform="translate(222.6 594.7) scale(0.862 1)">1658 genes</text>
<line x1="173" y1="610" x2="195" y2="648.7" stroke="#333" stroke-width="0.6"/><rect x="151" y="601.8" width="23.7" height="8.2" rx="1.6" fill="#fff" stroke="#5566cc" stroke-width="0.9"/><text y="3.1" font-size="8.82" text-anchor="middle" fill="#111" transform="translate(162.8 605.9) scale(0.862 1)">ODC1</text>
<line x1="167" y1="626" x2="189" y2="646.7" stroke="#333" stroke-width="0.6"/><rect x="145" y="619" width="23.6" height="8.6" rx="1.6" fill="#fff" stroke="#5566cc" stroke-width="0.9"/><text y="3.1" font-size="8.82" text-anchor="middle" fill="#111" transform="translate(156.8 623.3) scale(0.862 1)">SMOX</text>
<line x1="228.5" y1="618.5" x2="208.8" y2="641.8" stroke="#333" stroke-width="0.6"/><rect x="219.7" y="610.3" width="24.2" height="8.2" rx="1.6" fill="#fff" stroke="#e04040" stroke-width="0.9"/><text y="3.1" font-size="8.82" text-anchor="middle" fill="#111" transform="translate(231.8 614.4) scale(0.862 1)">SAT1</text>
<line x1="226" y1="662" x2="201" y2="660.5" stroke="#333" stroke-width="0.6"/><rect x="225.6" y="659.5" width="22.7" height="8.5" rx="1.6" fill="#fff" stroke="#999" stroke-width="0.9"/><text y="3.1" font-size="8.82" text-anchor="middle" fill="#111" transform="translate(236.9 663.8) scale(0.862 1)">PAOX</text>
<text y="3.1" font-size="8.93" text-anchor="middle" fill="#222" transform="translate(197 687.2) scale(0.862 1)">Resistant vs parental cells(LogFC)</text>
<rect x="19.7" y="724.2" width="42.3" height="58.6" fill="#d3eef8"/>
<rect x="67.6" y="724.2" width="42.2" height="58.6" fill="#f6e1e5"/>
<path d="M150 1596h0M76 1601h0M134 1598h0M118 1583h0M126 1598h0M128 1601h0M111 1578h0M128 1574h0M122 1579h0M162 1570h0M132 1595h0M127 1591h0M127 1585h0M124 1577h0M120 1570h0M126 1583h0M135 1593h0M128 1599h0M150 1583h0M128 1601h0M130 1600h0M145 1596h0M135 1580h0M125 1605h0M126 1603h0M141 1595h0M149 1585h0M127 1597h0M140 1592h0M111 1578h0M127 1579h0M149 1588h0M142 1601h0M136 1586h0M103 1594h0M140 1597h0M121 1588h0M95 1605h0M136 1591h0M145 1600h0M126 1591h0M120 1578h0M131 1586h0M143 1587h0M146 1593h0M132 1572h0M141 1598h0M126 1601h0M121 1600h0M136 1595h0M114 1601h0M135 1588h0M106 1584h0M137 1572h0M135 1568h0M114 1595h0M131 1592h0M121 1576h0M137 1596h0M111 1583h0M121 1587h0M137 1590h0M141 1605h0M109 1602h0M133 1588h0M124 1594h0M145 1592h0M119 1591h0M133 1605h0M143 1599h0M130 1596h0M122 1581h0M94 1595h0M146 1598h0M146 1569h0M137 1599h0M154 1598h0M133 1596h0M124 1596h0M122 1605h0M143 1591h0M116 1590h0M123 1587h0M132 1600h0M142 1602h0M104 1600h0M113 1589h0M130 1575h0M142 1583h0M137 1600h0M132 1573h0M125 1593h0M138 1589h0M133 1578h0M129 1595h0M141 1573h0M132 1585h0M154 1578h0M162 1602h0M144 1580h0M110 1596h0M123 1593h0M117 1599h0M108 1577h0M118 1595h0M109 1588h0M113 1572h0M130 1574h0M136 1597h0M150 1600h0M126 1573h0M131 1580h0M167 1573h0M120 1593h0M128 1578h0M144 1579h0M144 1584h0M124 1588h0M140 1590h0M135 1602h0M154 1596h0M125 1579h0M119 1600h0M117 1593h0M141 1598h0M138 1574h0M130 1592h0M131 1596h0M115 1602h0M123 1595h0M125 1602h0M122 1599h0M138 1582h0M126 1594h0M146 1579h0M110 1600h0M120 1588h0M131 1585h0M138 1594h0M140 1600h0M140 1588h0M164 1605h0M127 1587h0M127 1571h0M138 1581h0M118 1578h0M151 1598h0M140 1590h0M130 1602h0M132 1597h0M118 1582h0M134 1593h0M130 1591h0M164 1568h0M124 1600h0M152 1593h0M121 1582h0M132 1602h0M133 1591h0M132 1599h0M115 1570h0M113 1594h0M141 1602h0M129 1576h0M125 1598h0M128 1584h0M128 1581h0M122 1585h0M110 1582h0M128 1584h0M105 1587h0M154 1584h0M142 1570h0M111 1596h0M127 1569h0M108 1601h0M93 1584h0M104 1596h0M143 1597h0M145 1605h0M119 1603h0M147 1586h0M132 1589h0M120 1603h0M122 1602h0M152 1601h0M128 1571h0M141 1587h0M130 1587h0M152 1592h0M137 1588h0M136 1599h0M105 1588h0M130 1584h0M121 1598h0M115 1575h0M139 1585h0M155 1592h0M137 1593h0M136 1580h0M126 1582h0M129 1589h0M142 1586h0M122 1591h0M135 1603h0M147 1584h0M121 1592h0M140 1601h0M83 1584h0M125 1587h0M106 1601h0M117 1601h0M138 1573h0M124 1568h0M116 1596h0M150 1569h0M145 1584h0M106 1571h0M118 1583h0M121 1593h0M103 1579h0M120 1595h0M107 1588h0M128 1573h0M158 1581h0M139 1605h0M146 1590h0M114 1603h0M66 1594h0M116 1597h0M145 1587h0M120 1597h0M132 1576h0M138 1580h0M152 1596h0M141 1592h0M129 1593h0M76 1586h0M162 1587h0M142 1589h0M132 1566h0M105 1590h0M132 1600h0M116 1587h0M129 1567h0M125 1584h0M138 1588h0M136 1586h0M158 1599h0M90 1598h0M117 1603h0M127 1577h0M138 1569h0M141 1579h0M162 1601h0M149 1573h0M110 1601h0M145 1599h0M139 1600h0M127 1595h0M131 1604h0M152 1587h0M135 1572h0M120 1587h0M147 1602h0M113 1594h0M115 1598h0M129 1604h0M123 1579h0M155 1595h0M151 1597h0M148 1593h0M138 1584h0M147 1592h0M155 1582h0M130 1579h0M82 1598h0M107 1604h0M115 1573h0M148 1595h0M101 1581h0M134 1604h0M147 1603h0M146 1586h0M146 1574h0M148 1602h0M112 1575h0M144 1595h0M118 1585h0M141 1571h0M116 1587h0M145 1603h0M122 1594h0M125 1589h0M94 1598h0M157 1593h0M136 1584h0M83 1592h0M98 1604h0M142 1605h0M184 1588h0M123 1583h0M152 1590h0M113 1586h0M137 1604h0M137 1575h0M142 1590h0M127 1582h0M123 1574h0M154 1602h0M117 1580h0M93 1592h0M155 1587h0M181 1598h0M107 1595h0M159 1586h0M162 1602h0M118 1599h0M134 1582h0M134 1575h0M129 1600h0M128 1604h0M146 1597h0M151 1577h0M125 1576h0M116 1589h0M86 1588h0M146 1597h0M122 1605h0M152 1581h0M143 1568h0M131 1575h0M116 1586h0M149 1599h0M118 1572h0M147 1580h0M109 1583h0M138 1578h0M113 1590h0M159 1593h0M108 1591h0M112 1576h0M108 1597h0M144 1577h0M115 1593h0M113 1599h0M146 1590h0M140 1581h0M126 1570h0M108 1592h0M94 1600h0M142 1593h0M135 1576h0M101 1589h0M113 1597h0M139 1571h0M121 1574h0M121 1566h0M119 1580h0M169 1603h0M115 1570h0M114 1584h0M98 1599h0M89 1583h0M160 1581h0M130 1568h0M110 1603h0M100 1601h0M135 1605h0M101 1593h0M117 1605h0M124 1581h0M118 1570h0M124 1578h0M142 1577h0M113 1605h0M155 1573h0M138 1565h0M146 1566h0M132 1586h0M165 1576h0M174 1586h0M116 1600h0M101 1601h0M147 1604h0M110 1591h0M119 1604h0M131 1576h0M97 1600h0M155 1599h0M116 1579h0M169 1601h0M129 1573h0M151 1603h0M111 1570h0M103 1580h0M159 1589h0M107 1577h0M95 1591h0M95 1575h0M117 1577h0M153 1600h0M158 1587h0M98 1594h0M85 1598h0M121 1596h0M156 1576h0M139 1570h0M98 1601h0M110 1587h0M149 1579h0M151 1584h0M105 1583h0M116 1591h0M143 1584h0M160 1575h0M116 1589h0M154 1579h0M133 1569h0M127 1588h0M156 1594h0M137 1578h0M157 1601h0M151 1573h0M86 1605h0M152 1591h0M154 1598h0M151 1596h0M160 1599h0M148 1593h0M98 1592h0M128 1547h0M129 1555h0M126 1563h0M127 1546h0M129 1563h0M134 1545h0M134 1564h0M133 1560h0M130 1558h0M134 1539h0M125 1472h0M131 1529h0M129 1560h0M129 1536h0M126 1552h0M135 1551h0M135 1544h0M134 1506h0M126 1536h0M133 1493h0M129 1557h0M125 1564h0M130 1538h0M126 1532h0M132 1469h0M131 1503h0M125 1546h0M127 1534h0M132 1561h0M131 1508h0M126 1558h0M133 1543h0M135 1546h0M129 1565h0M127 1562h0M133 1553h0M130 1500h0M127 1538h0M126 1544h0M133 1456h0M134 1514h0M127 1556h0M130 1485h0M131 1516h0M132 1565h0M134 1551h0M128 1516h0M125 1546h0M132 1539h0M126 1541h0M130 1561h0M133 1470h0M131 1550h0M125 1521h0M126 1529h0M130 1505h0M127 1506h0M126 1558h0M131 1521h0M133 1547h0M131 1484h0M132 1487h0M134 1520h0M130 1476h0M133 1558h0M128 1541h0M127 1552h0M133 1540h0M130 1534h0M133 1526h0M131 1505h0M133 1512h0M134 1563h0M132 1560h0M134 1555h0M130 1527h0M125 1556h0M125 1513h0M134 1533h0M130 1533h0M132 1550h0M126 1477h0M127 1526h0M127 1548h0M130 1532h0M129 1501h0M128 1496h0M127 1509h0M125 1467h0M127 1500h0M131 1564h0M127 1555h0M134 1519h0M134 1557h0M135 1554h0M135 1565h0M125 1505h0M126 1542h0M127 1520h0M125 1497h0M134 1549h0M132 1545h0M129 1538h0M132 1511h0M130 1495h0M126 1519h0M125 1524h0M127 1553h0M134 1532h0M130 1544h0M135 1509h0M134 1560h0M127 1481h0M131 1486h0M135 1539h0M132 1526h0M130 1549h0M129 1560h0M129 1525h0M129 1516h0M128 1550h0M131 1512h0M128 1495h0M133 1519h0M126 1518h0M130 1555h0M135 1562h0M133 1536h0M131 1490h0M128 1520h0M131 1540h0M125 1561h0M133 1530h0M130 1552h0M125 1553h0M130 1499h0M129 1480h0M129 1522h0M125 1556h0M135 1549h0M131 1554h0M127 1545h0M133 1514h0M131 1496h0M127 1535h0M129 1503h0M129 1473h0M131 1523h0M133 1461h0M128 1523h0M130 1535h0M131 1510h0M127 1524h0M129 1519h0M125 1507h0M128 1513h0M130 1547h0M132 1530h0M126 1543h0M126 1483h0M134 1497h0M129 1545h0M129 1510h0M131 1491h0M129 1529h0M130 1526h0M125 1540h0M134 1528h0M129 1489h0M135 1542h0M135 1556h0M127 1539h0M128 1469h0M127 1506h0M130 1513h0M125 1564h0M131 1519h0M127 1473h0M125 1516h0M129 1509h0M135 1545h0M134 1491h0M125 1496h0M128 1542h0M134 1526h0M134 1538h0M132 1467h0M132 1517h0M125 1526h0M134 1506h0M133 1507h0M129 1498h0M128 1531h0M128 1488h0M127 1564h0M133 1508h0M134 1530h0M134 1529h0M129 1522h0M135 1490h0M127 1466h0M135 1499h0M125 1511h0M133 1504h0M129 1527h0M125 1499h0M131 1475h0M134 1499h0M130 1499h0M134 1512h0M129 1494h0M133 1470h0M125 1492h0M134 1575h0M137 1604h0M135 1584h0M133 1581h0M136 1567h0M129 1569h0M138 1603h0M132 1568h0M139 1582h0M133 1571h0M121 1584h0M125 1568h0M125 1567h0M141 1577h0M135 1572h0M123 1570h0" stroke="#bababa" stroke-width="3.0" stroke-linecap="round" fill="none" transform="scale(0.5)"/>
<path d="M100 1556h0M119 1561h0M121 1491h0M121 1546h0M105 1552h0M120 1556h0M105 1558h0M103 1556h0M105 1556h0M119 1549h0M112 1562h0M117 1560h0M100 1533h0M111 1514h0M121 1561h0M97 1558h0M124 1556h0M75 1563h0M116 1550h0M112 1556h0M110 1554h0M109 1549h0M97 1560h0M113 1544h0M69 1556h0M119 1529h0M115 1558h0M77 1562h0M119 1562h0M124 1562h0M122 1535h0M44 1550h0M121 1552h0M114 1553h0M58 1553h0M100 1549h0M125 1555h0M117 1563h0M65 1563h0M115 1550h0M119 1546h0M107 1554h0M123 1560h0M123 1550h0M102 1563h0M116 1524h0M118 1546h0M123 1548h0M106 1552h0M106 1564h0M120 1528h0M124 1534h0M116 1512h0M97 1564h0M108 1531h0M120 1543h0M105 1562h0M92 1562h0M106 1565h0M121 1486h0M110 1564h0M70 1544h0M114 1542h0M102 1555h0M118 1517h0M123 1522h0M115 1543h0M122 1517h0M118 1527h0M121 1501h0M98 1542h0M120 1541h0M123 1543h0M119 1554h0M106 1562h0M88 1562h0M108 1559h0M112 1560h0M121 1547h0M104 1534h0M115 1537h0M116 1524h0M108 1563h0M119 1534h0M103 1561h0M96 1528h0M122 1548h0M108 1546h0M113 1554h0M69 1556h0M78 1555h0M124 1507h0M122 1497h0M116 1552h0M103 1553h0M124 1565h0M122 1556h0M104 1559h0M112 1548h0M116 1497h0M115 1512h0M120 1539h0M119 1546h0M99 1554h0M123 1522h0M100 1560h0M94 1560h0M120 1555h0M116 1556h0M124 1484h0M124 1468h0M121 1565h0M123 1511h0M119 1552h0M123 1564h0M111 1559h0M90 1563h0M101 1561h0M116 1556h0M107 1558h0M90 1541h0M121 1548h0M116 1509h0M110 1565h0M91 1555h0M117 1554h0M117 1539h0M73 1549h0M114 1539h0M88 1563h0M109 1562h0M84 1562h0M121 1498h0M113 1564h0M70 1561h0M121 1536h0M124 1492h0M108 1564h0M109 1552h0M113 1561h0M118 1529h0M88 1558h0M114 1547h0M112 1498h0M105 1564h0M122 1559h0M108 1538h0M38 1557h0M84 1544h0M96 1539h0M124 1554h0M81 1563h0M118 1512h0M111 1556h0M80 1555h0M87 1554h0M94 1562h0M95 1547h0M122 1539h0M116 1562h0M112 1539h0M108 1538h0M110 1558h0M113 1565h0M122 1520h0M119 1531h0M110 1556h0M119 1524h0M38 1561h0M105 1557h0M110 1535h0M109 1544h0M115 1536h0M97 1549h0M105 1520h0M121 1564h0M124 1545h0M103 1543h0M77 1563h0M109 1529h0M114 1510h0M116 1542h0M110 1544h0M123 1513h0M117 1553h0M86 1557h0M90 1551h0M121 1523h0M116 1545h0M120 1537h0M108 1474h0M119 1565h0M100 1558h0M110 1546h0M114 1565h0M82 1559h0M111 1501h0M108 1537h0M115 1564h0M108 1557h0M111 1528h0M90 1555h0M86 1559h0M84 1534h0M77 1553h0M121 1538h0M115 1491h0M100 1552h0M80 1559h0M112 1564h0M97 1539h0M116 1565h0M91 1549h0M105 1549h0M122 1546h0M116 1531h0M124 1524h0M104 1552h0M124 1562h0M119 1559h0M119 1534h0M108 1526h0M114 1539h0M112 1501h0M121 1533h0M92 1549h0M108 1523h0M121 1557h0M120 1499h0M96 1563h0M120 1531h0M97 1559h0M114 1561h0M113 1552h0M108 1541h0M115 1524h0M119 1558h0M118 1496h0M93 1538h0M101 1564h0M118 1526h0M117 1522h0M123 1509h0M108 1543h0M124 1561h0M80 1549h0M94 1547h0M119 1508h0M94 1564h0M110 1515h0M122 1503h0M96 1543h0M116 1532h0M124 1531h0M110 1538h0M120 1516h0M38 1564h0M112 1533h0M115 1547h0M114 1453h0M104 1564h0M123 1530h0M120 1512h0M87 1541h0M109 1489h0M122 1499h0M106 1488h0M97 1550h0M97 1555h0M124 1516h0M113 1522h0M111 1551h0M118 1465h0M121 1488h0M67 1560h0M101 1553h0M124 1537h0M67 1563h0M121 1509h0M125 1557h0M124 1528h0M107 1541h0M125 1548h0M113 1553h0M120 1542h0M121 1553h0M122 1539h0M121 1486h0M112 1549h0M118 1538h0M123 1538h0M121 1494h0M96 1558h0M120 1542h0M99 1565h0M101 1537h0M120 1525h0M112 1553h0M113 1533h0M93 1538h0M103 1549h0M106 1533h0M117 1544h0M67 1559h0M73 1561h0M115 1559h0M124 1552h0M99 1529h0M105 1547h0M95 1549h0M118 1493h0M116 1535h0M84 1563h0M110 1523h0M94 1552h0M93 1556h0M104 1565h0M121 1519h0M110 1542h0M102 1544h0M90 1559h0M97 1546h0M115 1517h0M121 1516h0M110 1553h0M60 1542h0M108 1549h0M120 1517h0M124 1542h0M113 1494h0M92 1538h0M122 1473h0M102 1547h0M121 1529h0M85 1561h0M114 1534h0M101 1558h0M122 1484h0M82 1558h0M119 1523h0M113 1542h0M86 1554h0" stroke="#1f2aa6" stroke-width="3.4" stroke-linecap="round" fill="none" transform="scale(0.5)"/>
<path d="M139 1534h0M179 1558h0M136 1564h0M170 1563h0M166 1555h0M138 1541h0M146 1521h0M143 1556h0M146 1565h0M137 1517h0M144 1550h0M137 1522h0M137 1458h0M161 1565h0M139 1525h0M137 1563h0M158 1531h0M142 1538h0M143 1557h0M137 1548h0M144 1537h0M139 1551h0M142 1555h0M173 1555h0M148 1543h0M181 1564h0M137 1554h0M160 1557h0M142 1550h0M159 1564h0M137 1526h0M176 1563h0M158 1564h0M137 1559h0M179 1564h0M158 1554h0M163 1549h0M141 1545h0M136 1538h0M144 1561h0M139 1553h0M162 1532h0M145 1536h0M139 1548h0M151 1534h0M139 1538h0M136 1554h0M137 1470h0M152 1564h0M148 1543h0M136 1523h0M175 1557h0M140 1559h0M160 1561h0M156 1548h0M140 1546h0M140 1556h0M140 1546h0M150 1562h0M163 1563h0M157 1562h0M138 1536h0M144 1559h0M152 1558h0M151 1552h0M136 1491h0M157 1546h0M149 1532h0M139 1480h0M170 1558h0M192 1557h0M165 1559h0M144 1554h0M141 1560h0M156 1547h0M155 1556h0M145 1558h0M193 1555h0M152 1542h0M142 1561h0M139 1557h0M153 1534h0M139 1564h0M144 1564h0M147 1539h0M144 1506h0M176 1560h0M160 1535h0M137 1543h0M149 1551h0M136 1559h0M146 1506h0M153 1549h0M148 1563h0M147 1548h0M137 1558h0M224 1562h0M151 1558h0M150 1555h0M145 1548h0M145 1564h0M137 1552h0M175 1531h0M138 1535h0M148 1562h0M147 1546h0M150 1550h0M169 1562h0M144 1527h0M149 1546h0M136 1536h0M141 1565h0M141 1564h0M140 1543h0M147 1561h0M153 1551h0M145 1556h0M144 1542h0M137 1532h0M136 1520h0M139 1565h0M205 1565h0M153 1553h0M179 1527h0M138 1561h0M156 1564h0M162 1550h0M147 1548h0M169 1558h0M148 1550h0M141 1560h0M143 1518h0M142 1474h0M138 1509h0M155 1520h0M136 1552h0M141 1553h0M135 1555h0M155 1559h0M143 1539h0M146 1513h0M138 1556h0M165 1561h0M152 1535h0M136 1535h0M177 1551h0M156 1563h0M162 1563h0M146 1491h0M139 1495h0M137 1560h0M136 1521h0M180 1562h0M144 1534h0M159 1552h0M230 1559h0M144 1524h0M149 1561h0M155 1553h0M205 1564h0M195 1548h0M161 1546h0M143 1534h0M142 1549h0M140 1495h0M143 1536h0M143 1499h0M145 1564h0M217 1563h0M198 1545h0M166 1552h0M138 1527h0M165 1553h0M254 1562h0M186 1563h0M142 1549h0M137 1542h0M139 1529h0M173 1564h0M142 1565h0M142 1530h0M157 1554h0M141 1523h0M137 1546h0M144 1529h0M158 1560h0M182 1551h0M137 1528h0M147 1558h0M161 1562h0M148 1559h0M149 1539h0M154 1539h0M136 1536h0M136 1463h0M138 1515h0M138 1534h0M139 1497h0M144 1513h0M181 1556h0M151 1564h0M147 1522h0M153 1560h0M254 1556h0M147 1555h0M149 1554h0M143 1542h0M141 1520h0M151 1558h0M153 1519h0M144 1519h0M156 1551h0M137 1515h0M152 1551h0M136 1549h0M142 1536h0M170 1555h0M151 1539h0M162 1560h0M176 1550h0M141 1543h0M142 1547h0M136 1527h0M147 1553h0M142 1534h0M166 1557h0M153 1543h0M145 1517h0M161 1558h0M183 1554h0M146 1554h0M197 1554h0M145 1550h0M167 1559h0M152 1565h0M161 1515h0M146 1535h0M161 1549h0M217 1565h0M137 1506h0M142 1531h0M137 1486h0M137 1530h0M180 1547h0M154 1556h0M149 1531h0M155 1557h0M154 1514h0M144 1510h0M136 1564h0M175 1529h0M140 1546h0M148 1557h0M135 1551h0M164 1544h0M148 1560h0M176 1563h0M160 1559h0M180 1557h0M148 1529h0M193 1541h0M161 1557h0M158 1540h0M230 1562h0M137 1518h0M138 1498h0M144 1534h0M183 1557h0M149 1537h0M155 1533h0M190 1559h0M151 1561h0M151 1545h0M176 1554h0M191 1564h0M244 1560h0M144 1552h0M147 1527h0M141 1517h0M149 1545h0M160 1530h0M153 1529h0M195 1562h0M145 1543h0M138 1549h0M140 1539h0M146 1539h0M147 1533h0M165 1564h0M148 1542h0M148 1505h0M148 1484h0M136 1528h0M157 1514h0M141 1526h0M136 1499h0M155 1561h0M152 1556h0M141 1542h0M162 1558h0M145 1545h0M136 1534h0M136 1547h0M139 1483h0M158 1555h0M149 1541h0M139 1512h0M145 1507h0M138 1519h0M151 1548h0M236 1559h0M146 1504h0M190 1551h0M170 1564h0M158 1538h0M138 1537h0M148 1499h0M176 1565h0M157 1548h0M178 1559h0M151 1527h0M145 1492h0M155 1517h0M158 1564h0M148 1525h0M150 1542h0M164 1539h0M147 1477h0M168 1558h0M139 1508h0M248 1563h0M146 1531h0M156 1545h0M136 1494h0M136 1542h0M167 1565h0M162 1526h0M173 1535h0M136 1542h0M143 1468h0M162 1541h0M140 1532h0M160 1555h0M212 1558h0M148 1509h0M152 1554h0M157 1558h0M142 1521h0M210 1537h0M135 1562h0M163 1559h0M153 1547h0M185 1559h0M146 1541h0M162 1543h0M166 1510h0M137 1509h0M166 1562h0M184 1552h0M176 1538h0M140 1491h0M188 1553h0M161 1553h0M142 1552h0M153 1545h0M135 1530h0M147 1536h0M142 1529h0M145 1527h0M144 1504h0M208 1564h0M158 1549h0M171 1558h0M152 1524h0M139 1500h0M212 1549h0M184 1551h0M136 1544h0M163 1554h0M150 1534h0M188 1557h0M172 1549h0M140 1471h0M139 1524h0M161 1551h0M142 1526h0M197 1563h0M172 1560h0M155 1536h0M179 1544h0M141 1512h0M201 1562h0M164 1547h0M143 1545h0M140 1506h0M143 1506h0M150 1564h0M182 1562h0M187 1565h0M159 1521h0M139 1465h0M166 1535h0M151 1542h0M155 1564h0M175 1545h0" stroke="#e8262b" stroke-width="3.4" stroke-linecap="round" fill="none" transform="scale(0.5)"/>
<line x1="17.7" y1="782.8" x2="128" y2="782.8" stroke="#333" stroke-width="0.8" stroke-dasharray="2.6 1.8"/>
<line x1="62" y1="724.2" x2="62" y2="806.4" stroke="#333" stroke-width="0.8" stroke-dasharray="2.6 1.8"/>
<line x1="67.6" y1="724.2" x2="67.6" y2="806.4" stroke="#333" stroke-width="0.8" stroke-dasharray="2.6 1.8"/>
<line x1="17.7" y1="721.7" x2="17.7" y2="806.8" stroke="#222" stroke-width="1"/>
<line x1="17.3" y1="806.4" x2="128" y2="806.4" stroke="#222" stroke-width="1"/>
<line x1="15.2" y1="802.5" x2="17.7" y2="802.5" stroke="#222" stroke-width="0.9"/>
<text y="3.3" font-size="9.51" text-anchor="end" fill="#333" transform="translate(13.9 802.5) scale(0.862 1)">0</text>
<line x1="15.2" y1="787" x2="17.7" y2="787" stroke="#222" stroke-width="0.9"/>
<text y="3.3" font-size="9.51" text-anchor="end" fill="#333" transform="translate(13.9 787) scale(0.862 1)">1</text>
<line x1="15.2" y1="771.6" x2="17.7" y2="771.6" stroke="#222" stroke-width="0.9"/>
<text y="3.3" font-size="9.51" text-anchor="end" fill="#333" transform="translate(13.9 771.6) scale(0.862 1)">2</text>
<line x1="15.2" y1="756.1" x2="17.7" y2="756.1" stroke="#222" stroke-width="0.9"/>
<text y="3.3" font-size="9.51" text-anchor="end" fill="#333" transform="translate(13.9 756.1) scale(0.862 1)">3</text>
<line x1="15.2" y1="740.7" x2="17.7" y2="740.7" stroke="#222" stroke-width="0.9"/>
<text y="3.3" font-size="9.51" text-anchor="end" fill="#333" transform="translate(13.9 740.7) scale(0.862 1)">4</text>
<line x1="15.2" y1="725.2" x2="17.7" y2="725.2" stroke="#222" stroke-width="0.9"/>
<text y="3.3" font-size="9.51" text-anchor="end" fill="#333" transform="translate(13.9 725.2) scale(0.862 1)">5</text>
<line x1="38.4" y1="806.4" x2="38.4" y2="808.9" stroke="#222" stroke-width="0.9"/>
<text y="3.3" font-size="9.51" text-anchor="middle" fill="#333" transform="translate(38.4 814) scale(0.862 1)">−5</text>
<line x1="65" y1="806.4" x2="65" y2="808.9" stroke="#222" stroke-width="0.9"/>
<text y="3.3" font-size="9.51" text-anchor="middle" fill="#333" transform="translate(65 814) scale(0.862 1)">0</text>
<line x1="91.6" y1="806.4" x2="91.6" y2="808.9" stroke="#222" stroke-width="0.9"/>
<text y="3.3" font-size="9.51" text-anchor="middle" fill="#333" transform="translate(91.6 814) scale(0.862 1)">5</text>
<line x1="118.2" y1="806.4" x2="118.2" y2="808.9" stroke="#222" stroke-width="0.9"/>
<text y="3.3" font-size="9.51" text-anchor="middle" fill="#333" transform="translate(118.2 814) scale(0.862 1)">10</text>
<text y="3.4" font-size="9.63" text-anchor="middle" font-weight="bold" transform="translate(70 708.3) scale(0.862 1)">H23-Sotorasib</text>
<text y="2.5" font-size="7.19" text-anchor="middle" font-weight="bold" fill="#111" transform="translate(71 718.7) scale(0.862 1)">Resistant cells DN Resistant cells UP</text>
<text y="3.2" font-size="9.16" text-anchor="middle" fill="#3344bb" transform="translate(39.4 728.2) scale(0.862 1)">808 genes</text>
<text y="3.2" font-size="9.16" text-anchor="middle" fill="#e03030" transform="translate(88.7 728.2) scale(0.862 1)">1467 genes</text>
<line x1="41" y1="742.4" x2="53.2" y2="765" stroke="#333" stroke-width="0.6"/><rect x="22.3" y="734.5" width="22.7" height="7.9" rx="1.6" fill="#fff" stroke="#5566cc" stroke-width="0.9"/><text y="3.1" font-size="8.82" text-anchor="middle" fill="#111" transform="translate(33.6 738.5) scale(0.862 1)">SAT1</text>
<line x1="44.3" y1="790" x2="59.1" y2="786.7" stroke="#333" stroke-width="0.6"/><rect x="20.7" y="785.7" width="23.6" height="7.9" rx="1.6" fill="#fff" stroke="#999" stroke-width="0.9"/><text y="3.1" font-size="8.82" text-anchor="middle" fill="#111" transform="translate(32.5 789.7) scale(0.862 1)">SMOX</text>
<line x1="50.3" y1="798" x2="61.1" y2="791" stroke="#333" stroke-width="0.6"/><rect x="26.6" y="796.2" width="23.7" height="7.8" rx="1.6" fill="#fff" stroke="#999" stroke-width="0.9"/><text y="3.1" font-size="8.82" text-anchor="middle" fill="#111" transform="translate(38.5 800.1) scale(0.862 1)">ODC1</text>
<line x1="95.2" y1="796" x2="68" y2="791.6" stroke="#333" stroke-width="0.6"/><rect x="95.2" y="793.6" width="23.1" height="7.9" rx="1.6" fill="#fff" stroke="#999" stroke-width="0.9"/><text y="3.1" font-size="8.82" text-anchor="middle" fill="#111" transform="translate(106.8 797.5) scale(0.862 1)">PAOX</text>
<text y="3.2" font-size="9.28" text-anchor="middle" fill="#222" transform="translate(4.6 759) rotate(-90) scale(0.862 1)">LogP</text>
<text y="3.1" font-size="8.93" text-anchor="middle" fill="#222" transform="translate(72 819.2) scale(0.862 1)">Resistant vs parental cells(LogFC)</text>
<rect x="149.7" y="723.7" width="41.8" height="59.7" fill="#d3eef8"/>
<rect x="197" y="723.7" width="42.4" height="59.7" fill="#f6e1e5"/>
<path d="M384 1585h0M389 1602h0M408 1574h0M397 1592h0M373 1597h0M390 1584h0M384 1601h0M392 1600h0M374 1603h0M396 1597h0M396 1599h0M407 1592h0M394 1596h0M375 1593h0M414 1594h0M347 1586h0M402 1587h0M387 1602h0M381 1588h0M384 1595h0M375 1596h0M394 1593h0M389 1579h0M406 1590h0M349 1586h0M390 1603h0M381 1578h0M408 1577h0M369 1598h0M383 1579h0M401 1583h0M392 1586h0M400 1594h0M368 1597h0M388 1598h0M407 1597h0M410 1593h0M384 1591h0M385 1581h0M389 1585h0M437 1587h0M385 1593h0M387 1572h0M401 1600h0M369 1594h0M387 1592h0M398 1570h0M377 1583h0M405 1592h0M382 1603h0M392 1596h0M410 1586h0M397 1587h0M401 1594h0M392 1594h0M394 1599h0M368 1601h0M403 1603h0M373 1589h0M377 1591h0M412 1603h0M389 1593h0M378 1593h0M410 1591h0M387 1599h0M401 1585h0M372 1600h0M388 1582h0M352 1597h0M371 1596h0M390 1587h0M409 1597h0M415 1569h0M380 1603h0M413 1591h0M377 1596h0M387 1601h0M378 1591h0M383 1589h0M403 1595h0M392 1594h0M402 1602h0M396 1577h0M402 1577h0M394 1589h0M399 1569h0M376 1587h0M392 1587h0M404 1597h0M390 1584h0M388 1573h0M417 1584h0M381 1603h0M373 1571h0M428 1590h0M391 1595h0M414 1584h0M439 1597h0M392 1592h0M405 1588h0M402 1588h0M408 1570h0M387 1577h0M403 1592h0M398 1596h0M397 1603h0M365 1590h0M363 1600h0M404 1603h0M379 1586h0M403 1594h0M401 1601h0M390 1588h0M390 1568h0M371 1589h0M387 1593h0M389 1599h0M397 1575h0M399 1600h0M374 1600h0M382 1570h0M389 1595h0M393 1590h0M378 1578h0M384 1591h0M388 1602h0M410 1586h0M393 1588h0M360 1598h0M386 1598h0M428 1597h0M381 1591h0M404 1601h0M413 1594h0M397 1582h0M395 1590h0M405 1591h0M362 1594h0M398 1589h0M389 1570h0M398 1597h0M324 1590h0M406 1603h0M414 1579h0M377 1582h0M397 1593h0M382 1599h0M369 1590h0M383 1576h0M421 1588h0M390 1583h0M398 1596h0M354 1582h0M403 1596h0M341 1600h0M394 1603h0M376 1601h0M356 1596h0M395 1600h0M399 1593h0M385 1604h0M404 1599h0M430 1578h0M396 1575h0M378 1588h0M373 1590h0M402 1603h0M380 1596h0M420 1596h0M372 1602h0M399 1604h0M390 1597h0M415 1583h0M398 1599h0M389 1571h0M389 1577h0M399 1586h0M420 1599h0M394 1581h0M388 1585h0M388 1598h0M381 1586h0M454 1588h0M392 1604h0M365 1593h0M399 1583h0M381 1568h0M396 1595h0M407 1598h0M400 1591h0M399 1577h0M409 1595h0M384 1567h0M415 1596h0M391 1588h0M376 1604h0M398 1588h0M450 1603h0M389 1573h0M392 1581h0M367 1597h0M408 1602h0M384 1597h0M380 1598h0M386 1589h0M401 1580h0M369 1584h0M375 1592h0M374 1588h0M383 1582h0M378 1576h0M426 1581h0M385 1576h0M381 1578h0M423 1600h0M370 1601h0M386 1594h0M377 1597h0M403 1576h0M407 1601h0M390 1600h0M383 1593h0M396 1581h0M365 1585h0M389 1592h0M350 1594h0M387 1580h0M384 1575h0M384 1572h0M415 1590h0M386 1583h0M387 1575h0M400 1591h0M319 1603h0M390 1579h0M369 1591h0M339 1600h0M375 1596h0M367 1593h0M332 1588h0M399 1600h0M409 1589h0M374 1592h0M378 1594h0M365 1588h0M365 1602h0M387 1582h0M380 1596h0M375 1584h0M413 1600h0M406 1586h0M380 1575h0M389 1576h0M396 1601h0M407 1588h0M411 1599h0M374 1586h0M356 1588h0M367 1585h0M381 1593h0M335 1590h0M380 1572h0M370 1577h0M376 1580h0M399 1576h0M368 1581h0M402 1598h0M359 1598h0M411 1596h0M384 1587h0M433 1588h0M368 1586h0M400 1585h0M403 1578h0M387 1587h0M377 1590h0M378 1600h0M415 1585h0M396 1586h0M393 1569h0M387 1595h0M394 1583h0M415 1596h0M414 1590h0M383 1588h0M379 1579h0M382 1600h0M402 1580h0M394 1601h0M377 1603h0M381 1599h0M403 1588h0M361 1589h0M399 1581h0M357 1602h0M393 1576h0M366 1599h0M408 1573h0M410 1593h0M394 1568h0M372 1573h0M385 1600h0M409 1574h0M379 1582h0M380 1580h0M439 1579h0M417 1602h0M401 1572h0M382 1571h0M395 1588h0M364 1596h0M363 1589h0M414 1600h0M366 1584h0M402 1569h0M359 1587h0M386 1572h0M407 1581h0M382 1596h0M375 1575h0M389 1580h0M380 1566h0M374 1575h0M407 1577h0M367 1588h0M343 1599h0M380 1587h0M385 1589h0M370 1595h0M409 1570h0M396 1585h0M416 1581h0M371 1599h0M360 1601h0M385 1600h0M397 1577h0M425 1589h0M405 1584h0M400 1567h0M350 1593h0M377 1584h0M391 1582h0M363 1600h0M404 1596h0M407 1580h0M372 1580h0M383 1580h0M393 1580h0M390 1575h0M409 1600h0M328 1590h0M375 1600h0M403 1587h0M361 1597h0M361 1602h0M407 1594h0M356 1600h0M384 1585h0M376 1588h0M404 1566h0M362 1574h0M395 1595h0M370 1594h0M381 1585h0M410 1572h0M434 1587h0M408 1595h0M386 1578h0M366 1590h0M448 1579h0M412 1592h0M392 1577h0M404 1578h0M372 1598h0M353 1592h0M377 1592h0M368 1587h0M376 1601h0M373 1583h0M412 1586h0M369 1575h0M355 1576h0M420 1585h0M409 1585h0M364 1583h0M410 1601h0M403 1574h0M428 1578h0M411 1590h0M426 1592h0M336 1600h0M414 1581h0M395 1572h0M376 1599h0M372 1587h0M368 1594h0M341 1602h0M370 1581h0M378 1568h0M364 1569h0M417 1587h0M336 1584h0M447 1578h0M381 1584h0M403 1582h0M405 1580h0M417 1590h0M370 1585h0M399 1573h0M348 1589h0M466 1583h0M419 1590h0M376 1580h0M421 1580h0M392 1574h0M368 1603h0M382 1573h0M374 1594h0M367 1583h0M402 1583h0M421 1597h0M359 1576h0M378 1576h0M405 1574h0M377 1571h0M419 1602h0M418 1598h0M360 1596h0M342 1589h0M408 1585h0M385 1579h0M393 1584h0M377 1575h0M396 1530h0M394 1544h0M387 1537h0M385 1565h0M393 1561h0M396 1514h0M388 1548h0M390 1556h0M391 1552h0M388 1561h0M392 1548h0M390 1515h0M385 1516h0M394 1563h0M395 1470h0M386 1526h0M386 1547h0M390 1546h0M395 1526h0M393 1552h0M387 1556h0M387 1520h0M389 1523h0M388 1513h0M395 1511h0M388 1486h0M385 1529h0M395 1536h0M386 1548h0M390 1559h0M390 1540h0M390 1564h0M392 1544h0M391 1564h0M389 1554h0M391 1565h0M395 1561h0M395 1516h0M388 1511h0M389 1565h0M395 1560h0M385 1559h0M389 1507h0M385 1562h0M386 1524h0M394 1558h0M390 1560h0M389 1527h0M394 1555h0M393 1530h0M387 1547h0M387 1531h0M391 1561h0M395 1542h0M391 1547h0M392 1564h0M386 1552h0M388 1553h0M394 1548h0M391 1541h0M390 1552h0M385 1544h0M394 1541h0M393 1508h0M389 1528h0M395 1562h0M395 1533h0M391 1554h0M385 1563h0M393 1546h0M392 1559h0M391 1535h0M389 1542h0M387 1485h0M393 1516h0M386 1552h0M390 1556h0M387 1554h0M387 1504h0M395 1532h0M387 1545h0M386 1502h0M387 1560h0M395 1540h0M393 1526h0M394 1511h0M393 1503h0M393 1475h0M390 1538h0M387 1549h0M389 1558h0M395 1536h0M392 1524h0M386 1527h0M390 1519h0M385 1523h0M390 1536h0M387 1550h0M386 1467h0M386 1540h0M390 1495h0M395 1551h0M396 1522h0M394 1553h0M390 1546h0M393 1533h0M392 1505h0M388 1535h0M395 1557h0M394 1545h0M387 1563h0M387 1512h0M392 1517h0M393 1547h0M392 1481h0M385 1542h0M386 1566h0M394 1551h0M394 1497h0M393 1536h0M385 1472h0M394 1514h0M387 1500h0M390 1531h0M388 1544h0M391 1532h0M391 1504h0M388 1562h0M390 1517h0M391 1531h0M391 1525h0M392 1522h0M391 1518h0M392 1461h0M387 1541h0M386 1467h0M394 1526h0M392 1539h0M385 1556h0M386 1519h0M395 1507h0M387 1533h0M392 1508h0M385 1556h0M386 1476h0M391 1458h0M386 1470h0M391 1477h0M387 1544h0M389 1517h0M387 1481h0M391 1506h0M393 1529h0M386 1481h0M394 1548h0M385 1463h0M387 1534h0M387 1538h0M394 1496h0M387 1495h0M390 1554h0M385 1485h0M395 1503h0M395 1483h0M390 1522h0M388 1524h0M389 1499h0M396 1564h0M393 1490h0M393 1486h0M389 1533h0M387 1504h0M388 1491h0M396 1554h0M391 1537h0M386 1533h0M390 1514h0M389 1459h0M395 1504h0M393 1523h0M386 1534h0M390 1513h0M395 1540h0M387 1497h0M386 1518h0M395 1475h0M385 1537h0M387 1509h0M388 1516h0M389 1493h0M385 1525h0M390 1485h0M390 1492h0M385 1542h0M391 1529h0M387 1522h0M387 1462h0M392 1535h0M390 1543h0M392 1501h0M388 1469h0M387 1460h0M391 1498h0M392 1588h0M394 1572h0M395 1578h0M393 1575h0M399 1579h0M395 1571h0M397 1580h0M389 1567h0M392 1569h0M378 1570h0M402 1598h0M397 1573h0M390 1574h0M391 1570h0M396 1570h0M398 1569h0M382 1567h0" stroke="#bababa" stroke-width="3.0" stroke-linecap="round" fill="none" transform="scale(0.5)"/>
<path d="M384 1560h0M376 1562h0M382 1553h0M358 1560h0M378 1518h0M382 1549h0M332 1556h0M378 1535h0M384 1522h0M382 1551h0M367 1505h0M364 1542h0M371 1499h0M384 1556h0M381 1561h0M372 1538h0M373 1564h0M383 1557h0M301 1552h0M370 1552h0M359 1553h0M378 1553h0M345 1546h0M380 1543h0M351 1559h0M382 1529h0M356 1512h0M382 1540h0M378 1561h0M370 1550h0M372 1554h0M381 1556h0M380 1526h0M376 1562h0M370 1511h0M368 1565h0M382 1506h0M378 1549h0M364 1565h0M375 1558h0M379 1551h0M379 1493h0M377 1565h0M373 1561h0M360 1518h0M384 1563h0M365 1524h0M379 1517h0M379 1520h0M381 1542h0M373 1553h0M356 1550h0M384 1555h0M379 1527h0M384 1563h0M353 1563h0M383 1532h0M288 1565h0M381 1559h0M376 1564h0M367 1554h0M333 1559h0M373 1538h0M340 1545h0M380 1524h0M381 1564h0M380 1500h0M379 1563h0M356 1565h0M379 1545h0M377 1559h0M351 1564h0M373 1564h0M383 1561h0M370 1550h0M372 1548h0M373 1559h0M381 1540h0M369 1560h0M322 1556h0M344 1556h0M357 1563h0M369 1566h0M362 1544h0M377 1503h0M365 1526h0M382 1549h0M378 1548h0M370 1549h0M383 1539h0M381 1546h0M381 1555h0M384 1501h0M372 1563h0M383 1565h0M375 1550h0M383 1551h0M347 1563h0M384 1560h0M366 1559h0M380 1511h0M369 1540h0M376 1555h0M362 1558h0M382 1531h0M368 1548h0M371 1557h0M345 1559h0M370 1521h0M380 1547h0M373 1545h0M325 1545h0M355 1554h0M383 1482h0M376 1565h0M380 1556h0M372 1516h0M370 1547h0M371 1543h0M366 1538h0M334 1560h0M376 1547h0M372 1549h0M377 1540h0M375 1520h0M382 1548h0M383 1516h0M367 1559h0M356 1556h0M375 1532h0M370 1565h0M383 1542h0M358 1555h0M356 1558h0M376 1527h0M366 1550h0M368 1561h0M363 1562h0M373 1528h0M384 1565h0M371 1541h0M384 1530h0M371 1561h0M351 1554h0M380 1565h0M375 1549h0M370 1562h0M379 1554h0M385 1555h0M379 1538h0M345 1562h0M370 1540h0M379 1565h0M376 1557h0M324 1560h0M361 1539h0M363 1548h0M368 1555h0M363 1558h0M384 1544h0M381 1486h0M368 1552h0M322 1556h0M379 1558h0M382 1504h0M364 1554h0M363 1564h0M368 1558h0M379 1504h0M342 1560h0M362 1552h0M362 1560h0M375 1519h0M377 1547h0M376 1546h0M373 1534h0M352 1562h0M384 1548h0M372 1534h0M383 1514h0M382 1537h0M364 1514h0M314 1563h0M374 1544h0M352 1550h0M373 1542h0M361 1549h0M359 1485h0M377 1535h0M377 1557h0M377 1520h0M353 1556h0M288 1543h0M382 1499h0M373 1515h0M383 1534h0M288 1552h0M346 1560h0M370 1542h0M384 1520h0M383 1529h0M378 1541h0M362 1554h0M378 1525h0M384 1500h0M365 1529h0M384 1523h0M381 1553h0M373 1557h0M380 1506h0M335 1565h0M307 1562h0M333 1564h0M360 1565h0M358 1560h0M342 1557h0M379 1514h0M333 1564h0M376 1502h0M378 1542h0M319 1563h0M288 1559h0M348 1562h0M382 1543h0M373 1550h0M361 1551h0M352 1543h0M362 1564h0M379 1547h0M339 1565h0M353 1554h0M383 1470h0M377 1543h0M370 1537h0M310 1562h0M373 1541h0M350 1555h0M375 1553h0M373 1523h0M379 1497h0M325 1564h0M370 1555h0M374 1519h0M372 1559h0M349 1560h0M380 1537h0M383 1499h0M381 1503h0M355 1559h0M328 1565h0M372 1552h0M347 1556h0M377 1553h0M353 1519h0M381 1493h0M367 1543h0M382 1518h0M368 1564h0M366 1561h0M355 1555h0M383 1518h0M330 1564h0M384 1526h0M381 1471h0M384 1559h0M363 1546h0M350 1557h0M371 1545h0M376 1529h0M380 1507h0M367 1532h0M379 1480h0M372 1530h0M381 1515h0M351 1555h0M349 1551h0M377 1532h0M371 1524h0M375 1543h0M365 1458h0M382 1468h0M376 1555h0M330 1562h0M364 1527h0M377 1507h0M384 1515h0M353 1557h0M367 1532h0M344 1543h0M369 1537h0M364 1543h0M351 1547h0M364 1552h0M374 1526h0M370 1524h0M375 1516h0M322 1534h0M376 1515h0M369 1536h0M383 1492h0M369 1558h0M346 1565h0M385 1536h0M382 1545h0M366 1545h0M383 1528h0M342 1564h0M375 1564h0M377 1497h0M320 1564h0M376 1515h0M376 1505h0M380 1518h0M366 1549h0M377 1460h0M348 1550h0M370 1543h0M352 1538h0M358 1548h0M326 1548h0M353 1539h0M336 1551h0M356 1561h0M372 1470h0M379 1540h0M384 1533h0M356 1533h0M376 1494h0M366 1552h0M384 1524h0M376 1497h0M375 1512h0M371 1535h0M380 1490h0M356 1558h0M364 1555h0M368 1530h0M359 1550h0M338 1562h0M379 1529h0M357 1518h0M366 1563h0M368 1517h0M368 1552h0M383 1463h0M364 1557h0M380 1487h0M345 1554h0M362 1564h0M350 1557h0M374 1491h0M358 1546h0M372 1506h0M354 1562h0M363 1554h0M356 1550h0M347 1565h0M384 1469h0M359 1555h0M372 1532h0M337 1565h0M373 1474h0M352 1551h0M335 1533h0M383 1519h0M365 1558h0M381 1479h0M367 1557h0M383 1482h0M382 1489h0M346 1561h0M384 1458h0M373 1522h0M365 1545h0M376 1454h0M384 1547h0" stroke="#1f2aa6" stroke-width="3.4" stroke-linecap="round" fill="none" transform="scale(0.5)"/>
<path d="M418 1556h0M399 1550h0M402 1527h0M396 1554h0M403 1561h0M397 1562h0M428 1559h0M401 1546h0M400 1548h0M434 1551h0M401 1566h0M408 1529h0M398 1549h0M427 1565h0M399 1544h0M444 1563h0M398 1544h0M405 1563h0M413 1564h0M473 1554h0M408 1537h0M417 1559h0M396 1533h0M438 1563h0M397 1560h0M403 1549h0M459 1557h0M397 1561h0M406 1559h0M406 1560h0M399 1561h0M405 1522h0M396 1497h0M404 1505h0M485 1559h0M461 1560h0M402 1547h0M406 1545h0M427 1558h0M398 1557h0M401 1526h0M402 1565h0M433 1555h0M398 1537h0M411 1558h0M413 1556h0M409 1540h0M409 1565h0M403 1555h0M405 1535h0M398 1525h0M406 1563h0M418 1563h0M411 1562h0M420 1561h0M414 1530h0M400 1562h0M397 1527h0M400 1550h0M398 1540h0M402 1521h0M406 1553h0M439 1565h0M410 1560h0M404 1534h0M402 1538h0M403 1559h0M406 1553h0M448 1554h0M397 1546h0M402 1534h0M424 1535h0M403 1537h0M402 1559h0M414 1563h0M399 1559h0M424 1565h0M398 1563h0M415 1548h0M424 1556h0M405 1557h0M402 1554h0M418 1550h0M410 1518h0M429 1561h0M413 1549h0M401 1558h0M447 1557h0M402 1514h0M443 1532h0M401 1553h0M420 1528h0M416 1549h0M413 1539h0M398 1542h0M410 1552h0M408 1557h0M401 1564h0M397 1551h0M407 1554h0M421 1560h0M423 1558h0M416 1556h0M414 1559h0M417 1565h0M401 1555h0M416 1565h0M400 1514h0M406 1536h0M414 1526h0M421 1563h0M428 1547h0M416 1561h0M398 1540h0M415 1541h0M416 1557h0M407 1542h0M434 1565h0M436 1565h0M409 1540h0M413 1532h0M450 1565h0M432 1565h0M411 1555h0M407 1566h0M416 1562h0M424 1552h0M419 1537h0M406 1564h0M402 1499h0M397 1534h0M407 1549h0M414 1563h0M403 1563h0M446 1565h0M411 1515h0M410 1540h0M424 1547h0M401 1499h0M409 1563h0M407 1557h0M411 1563h0M399 1542h0M451 1554h0M399 1530h0M404 1516h0M456 1556h0M440 1554h0M402 1551h0M404 1545h0M406 1547h0M408 1521h0M401 1518h0M458 1563h0M409 1554h0M433 1561h0M428 1553h0M412 1527h0M409 1550h0M401 1531h0M419 1559h0M410 1542h0M427 1535h0M402 1543h0M400 1514h0M449 1564h0M398 1556h0M399 1555h0M448 1558h0M401 1540h0M405 1561h0M407 1526h0M399 1530h0M433 1538h0M409 1550h0M409 1533h0M433 1560h0M401 1526h0M437 1555h0M402 1539h0M430 1537h0M401 1533h0M504 1553h0M482 1559h0M412 1566h0M495 1563h0M414 1561h0M403 1557h0M428 1549h0M419 1551h0M450 1564h0M429 1525h0M404 1538h0M422 1565h0M415 1552h0M413 1522h0M431 1555h0M434 1553h0M417 1543h0M416 1488h0M480 1559h0M425 1558h0M404 1551h0M401 1534h0M459 1560h0M425 1558h0M410 1533h0M412 1557h0M432 1565h0M414 1544h0M406 1540h0M420 1523h0M415 1503h0M429 1551h0M400 1465h0M474 1565h0M428 1542h0M406 1541h0M450 1557h0M412 1559h0M415 1528h0M424 1564h0M408 1519h0M413 1552h0M399 1565h0M403 1544h0M431 1563h0M472 1564h0M415 1553h0M400 1550h0M436 1548h0M504 1563h0M401 1503h0M421 1554h0M410 1558h0M444 1558h0M400 1557h0M409 1535h0M415 1554h0M410 1536h0M402 1505h0M431 1562h0M423 1548h0M412 1540h0M398 1534h0M397 1511h0M402 1513h0M419 1565h0M407 1560h0M494 1563h0M416 1509h0M424 1548h0M427 1552h0M437 1545h0M404 1554h0M398 1553h0M412 1546h0M413 1530h0M397 1523h0M440 1556h0M409 1515h0M398 1520h0M403 1551h0M398 1517h0M404 1533h0M440 1535h0M450 1564h0M419 1536h0M424 1562h0M481 1559h0M456 1564h0M399 1501h0M444 1559h0M418 1520h0M412 1506h0M406 1531h0M414 1535h0M416 1503h0M429 1549h0M396 1526h0M402 1526h0M465 1545h0M422 1551h0M408 1514h0M402 1507h0M402 1518h0M406 1530h0M411 1552h0M410 1531h0M396 1565h0M429 1556h0M448 1559h0M405 1543h0M409 1560h0M408 1550h0M494 1546h0M457 1549h0M429 1534h0M414 1553h0M421 1565h0M431 1552h0M437 1557h0M488 1565h0M419 1533h0M417 1556h0M420 1542h0M410 1552h0M404 1548h0M418 1563h0M397 1539h0M412 1550h0M460 1564h0M412 1535h0M421 1558h0M398 1458h0M436 1554h0M453 1565h0M470 1547h0M407 1487h0M418 1531h0M430 1545h0M458 1559h0M428 1562h0M441 1564h0M426 1562h0M400 1538h0M403 1505h0M416 1536h0M414 1547h0M409 1503h0M407 1539h0M406 1481h0M444 1556h0M404 1525h0M409 1527h0M396 1531h0M398 1522h0M463 1565h0M416 1497h0M410 1512h0M404 1542h0M402 1528h0M426 1563h0M439 1529h0M404 1522h0M413 1529h0M421 1557h0M397 1472h0M437 1548h0M413 1545h0M404 1531h0M417 1528h0M396 1506h0M404 1508h0M435 1564h0M407 1497h0M403 1510h0M399 1509h0M429 1565h0M402 1536h0M407 1503h0M461 1554h0M422 1553h0M403 1513h0M409 1538h0M407 1547h0M412 1528h0M422 1532h0M417 1541h0M412 1545h0M454 1560h0M411 1518h0M422 1540h0M458 1561h0M425 1538h0M460 1542h0M400 1487h0M402 1480h0M397 1503h0M469 1565h0M405 1531h0" stroke="#e8262b" stroke-width="3.4" stroke-linecap="round" fill="none" transform="scale(0.5)"/>
<line x1="142.8" y1="783.4" x2="253" y2="783.4" stroke="#333" stroke-width="0.8" stroke-dasharray="2.6 1.8"/>
<line x1="191.5" y1="723.7" x2="191.5" y2="806.4" stroke="#333" stroke-width="0.8" stroke-dasharray="2.6 1.8"/>
<line x1="197" y1="723.7" x2="197" y2="806.4" stroke="#333" stroke-width="0.8" stroke-dasharray="2.6 1.8"/>
<line x1="142.8" y1="721.7" x2="142.8" y2="806.8" stroke="#222" stroke-width="1"/>
<line x1="142.4" y1="806.4" x2="253" y2="806.4" stroke="#222" stroke-width="1"/>
<line x1="140.3" y1="801.9" x2="142.8" y2="801.9" stroke="#222" stroke-width="0.9"/>
<text y="3.3" font-size="9.51" text-anchor="end" fill="#333" transform="translate(139 801.9) scale(0.862 1)">0</text>
<line x1="140.3" y1="787.2" x2="142.8" y2="787.2" stroke="#222" stroke-width="0.9"/>
<text y="3.3" font-size="9.51" text-anchor="end" fill="#333" transform="translate(139 787.2) scale(0.862 1)">1</text>
<line x1="140.3" y1="772.5" x2="142.8" y2="772.5" stroke="#222" stroke-width="0.9"/>
<text y="3.3" font-size="9.51" text-anchor="end" fill="#333" transform="translate(139 772.5) scale(0.862 1)">2</text>
<line x1="140.3" y1="757.8" x2="142.8" y2="757.8" stroke="#222" stroke-width="0.9"/>
<text y="3.3" font-size="9.51" text-anchor="end" fill="#333" transform="translate(139 757.8) scale(0.862 1)">3</text>
<line x1="140.3" y1="743.1" x2="142.8" y2="743.1" stroke="#222" stroke-width="0.9"/>
<text y="3.3" font-size="9.51" text-anchor="end" fill="#333" transform="translate(139 743.1) scale(0.862 1)">4</text>
<line x1="140.3" y1="728.4" x2="142.8" y2="728.4" stroke="#222" stroke-width="0.9"/>
<text y="3.3" font-size="9.51" text-anchor="end" fill="#333" transform="translate(139 728.4) scale(0.862 1)">5</text>
<line x1="166.5" y1="806.4" x2="166.5" y2="808.9" stroke="#222" stroke-width="0.9"/>
<text y="3.3" font-size="9.51" text-anchor="middle" fill="#333" transform="translate(166.5 814) scale(0.862 1)">−5</text>
<line x1="195.2" y1="806.4" x2="195.2" y2="808.9" stroke="#222" stroke-width="0.9"/>
<text y="3.3" font-size="9.51" text-anchor="middle" fill="#333" transform="translate(195.2 814) scale(0.862 1)">0</text>
<line x1="223.9" y1="806.4" x2="223.9" y2="808.9" stroke="#222" stroke-width="0.9"/>
<text y="3.3" font-size="9.51" text-anchor="middle" fill="#333" transform="translate(223.9 814) scale(0.862 1)">5</text>
<line x1="252.6" y1="806.4" x2="252.6" y2="808.9" stroke="#222" stroke-width="0.9"/>
<text y="3.3" font-size="9.51" text-anchor="middle" fill="#333" transform="translate(252.6 814) scale(0.862 1)">10</text>
<text y="3.4" font-size="9.63" text-anchor="middle" font-weight="bold" transform="translate(197 708.3) scale(0.862 1)">H23-Adagrasib</text>
<text y="2.5" font-size="7.19" text-anchor="middle" font-weight="bold" fill="#111" transform="translate(198 718.7) scale(0.862 1)">Resistant cells DN Resistant cells UP</text>
<text y="3.2" font-size="9.16" text-anchor="middle" fill="#3344bb" transform="translate(171.4 727.7) scale(0.862 1)">952 genes</text>
<text y="3.2" font-size="9.16" text-anchor="middle" fill="#e03030" transform="translate(218.7 727.7) scale(0.862 1)">1281 genes</text>
<line x1="160" y1="742" x2="184.2" y2="777.8" stroke="#333" stroke-width="0.6"/><rect x="143.8" y="733.9" width="23.6" height="8.1" rx="1.6" fill="#fff" stroke="#5566cc" stroke-width="0.9"/><text y="3.1" font-size="8.82" text-anchor="middle" fill="#111" transform="translate(155.6 738) scale(0.862 1)">SAT1</text>
<line x1="187.2" y1="742" x2="187.2" y2="759" stroke="#333" stroke-width="0.6"/><rect x="170" y="733.9" width="24" height="8.1" rx="1.6" fill="#fff" stroke="#5566cc" stroke-width="0.9"/><text y="3.1" font-size="8.82" text-anchor="middle" fill="#111" transform="translate(182 738) scale(0.862 1)">ODC1</text>
<line x1="167" y1="755" x2="183.2" y2="777.8" stroke="#333" stroke-width="0.6"/><rect x="144.2" y="747.3" width="23.6" height="8.5" rx="1.6" fill="#fff" stroke="#5566cc" stroke-width="0.9"/><text y="3.1" font-size="8.82" text-anchor="middle" fill="#111" transform="translate(156 751.5) scale(0.862 1)">SMOX</text>
<line x1="226.6" y1="793" x2="198" y2="789" stroke="#333" stroke-width="0.6"/><rect x="226.6" y="791.6" width="23.6" height="7.9" rx="1.6" fill="#fff" stroke="#999" stroke-width="0.9"/><text y="3.1" font-size="8.82" text-anchor="middle" fill="#111" transform="translate(238.4 795.5) scale(0.862 1)">PAOX</text>
<text y="3.1" font-size="8.93" text-anchor="middle" fill="#222" transform="translate(199 819.2) scale(0.862 1)">Resistant vs parental cells(LogFC)</text>
<text y="3" font-size="8.47" fill="#111" transform="translate(248.9 593.4) scale(0.862 1)">Group</text>
<circle cx="249.6" cy="602" r="0.9" fill="#1f2aa6"/>
<text y="3" font-size="8.58" fill="#111" transform="translate(251.2 602) scale(0.862 1)">Down−regulated</text>
<circle cx="249.6" cy="610.3" r="0.9" fill="#bbb"/>
<text y="3" font-size="8.58" fill="#111" transform="translate(251.2 610.3) scale(0.862 1)">Not−significant</text>
<circle cx="249.6" cy="618.5" r="0.9" fill="#e8262b"/>
<text y="3" font-size="8.58" fill="#111" transform="translate(251.2 618.5) scale(0.862 1)">Up−regulated</text>
</g>
<g id="panelE">
<text y="5.6" font-size="16" font-weight="bold" transform="translate(295.6 575.3)">E</text>
<line x1="335.2" y1="575.3" x2="335.2" y2="658" stroke="#222" stroke-width="1"/>
<line x1="334.7" y1="657.5" x2="406.3" y2="657.5" stroke="#222" stroke-width="1"/>
<line x1="332.6" y1="657.5" x2="335.2" y2="657.5" stroke="#222" stroke-width="0.9"/>
<text y="3.1" font-size="8.82" text-anchor="end" fill="#333" transform="translate(331.8 657.5) scale(0.862 1)">0.0</text>
<line x1="332.6" y1="630.1" x2="335.2" y2="630.1" stroke="#222" stroke-width="0.9"/>
<text y="3.1" font-size="8.82" text-anchor="end" fill="#333" transform="translate(331.8 630.1) scale(0.862 1)">0.5</text>
<line x1="332.6" y1="602.7" x2="335.2" y2="602.7" stroke="#222" stroke-width="0.9"/>
<text y="3.1" font-size="8.82" text-anchor="end" fill="#333" transform="translate(331.8 602.7) scale(0.862 1)">1.0</text>
<line x1="332.6" y1="575.3" x2="335.2" y2="575.3" stroke="#222" stroke-width="0.9"/>
<text y="3.1" font-size="8.82" text-anchor="end" fill="#333" transform="translate(331.8 575.3) scale(0.862 1)">1.5</text>
<rect x="337.8" y="602.7" width="8.2" height="54.8" fill="#3d3d3d"/><circle cx="339.6" cy="602.7" r="1.15" fill="#111"/><circle cx="341.9" cy="602.7" r="1.15" fill="#111"/><circle cx="344.2" cy="602.7" r="1.15" fill="#111"/>
<rect x="348" y="631.2" width="8.2" height="26.3" fill="#b5232a"/><path d="M352.1 631.2V628.5M349.9 628.5H354.3" fill="none" stroke="#b5232a" stroke-width="0.9"/><circle cx="350.1" cy="628.5" r="1.15" fill="#111"/><circle cx="352.1" cy="630.6" r="1.15" fill="#111"/><circle cx="354.1" cy="633.4" r="1.15" fill="#111"/>
<rect x="358.2" y="634.5" width="8.2" height="23" fill="#4b8dcc"/><path d="M362.3 634.5V632.8M360.1 632.8H364.5" fill="none" stroke="#4b8dcc" stroke-width="0.9"/><circle cx="360.3" cy="632.8" r="1.15" fill="#111"/><circle cx="362.3" cy="635.6" r="1.15" fill="#111"/><circle cx="364.3" cy="634.5" r="1.15" fill="#111"/>
<rect x="375.2" y="602.7" width="8.2" height="54.8" fill="#3d3d3d"/><circle cx="377" cy="602.7" r="1.15" fill="#111"/><circle cx="379.3" cy="602.7" r="1.15" fill="#111"/><circle cx="381.6" cy="602.7" r="1.15" fill="#111"/>
<rect x="385.4" y="613.1" width="8.2" height="44.4" fill="#b5232a"/><path d="M389.5 613.1V612M387.3 612H391.7" fill="none" stroke="#b5232a" stroke-width="0.9"/><circle cx="387.5" cy="612.6" r="1.15" fill="#111"/><circle cx="389.5" cy="612" r="1.15" fill="#111"/><circle cx="391.5" cy="613.7" r="1.15" fill="#111"/>
<rect x="395.6" y="623" width="8.2" height="34.5" fill="#4b8dcc"/><path d="M399.7 623V622.4M397.5 622.4H401.9" fill="none" stroke="#4b8dcc" stroke-width="0.9"/><circle cx="397.7" cy="623" r="1.15" fill="#111"/><circle cx="399.7" cy="622.4" r="1.15" fill="#111"/><circle cx="401.7" cy="622.4" r="1.15" fill="#111"/>
<line x1="370.5" y1="594.2" x2="370.5" y2="657.5" stroke="#555" stroke-width="0.8" stroke-dasharray="2 1.6"/>
<line x1="351.3" y1="657.5" x2="351.3" y2="659.9" stroke="#222" stroke-width="0.9"/>
<text y="3.1" font-size="8.82" text-anchor="middle" font-weight="bold" transform="translate(351.3 667.3) scale(0.862 1)">MIAPACA2</text>
<line x1="390.5" y1="657.5" x2="390.5" y2="659.9" stroke="#222" stroke-width="0.9"/>
<text y="3.1" font-size="8.82" text-anchor="middle" font-weight="bold" transform="translate(390.5 667.3) scale(0.862 1)">H23</text>
<text y="3.3" font-size="9.51" text-anchor="middle" font-weight="bold" transform="translate(371.5 572.7) scale(0.862 1)">ODC1</text>
<text y="3" font-size="8.58" text-anchor="middle" fill="#222" transform="translate(313.9 619.4) rotate(-90) scale(0.862 1)">Relative ODC1 mRNA  level</text>
<text y="2.7" font-size="7.8" fill="#222" transform="translate(351.9 623.4) rotate(-90) scale(0.862 1)"><tspan font-style="italic">p</tspan> &lt; 0.0001</text>
<text y="2.7" font-size="7.8" fill="#222" transform="translate(362.1 623.4) rotate(-90) scale(0.862 1)"><tspan font-style="italic">p</tspan> &lt; 0.0001</text>
<text y="2.7" font-size="7.8" fill="#222" transform="translate(389.7 607.5) rotate(-90) scale(0.862 1)"><tspan font-style="italic">p</tspan> = 0.0035</text>
<text y="2.7" font-size="7.8" fill="#222" transform="translate(399.3 617.2) rotate(-90) scale(0.862 1)"><tspan font-style="italic">p</tspan> &lt; 0.0001</text>
<line x1="437.4" y1="574.7" x2="437.4" y2="658" stroke="#222" stroke-width="1"/>
<line x1="436.9" y1="657.5" x2="508.9" y2="657.5" stroke="#222" stroke-width="1"/>
<line x1="434.8" y1="657.5" x2="437.4" y2="657.5" stroke="#222" stroke-width="0.9"/>
<text y="3.1" font-size="8.82" text-anchor="end" fill="#333" transform="translate(434 657.5) scale(0.862 1)">0.0</text>
<line x1="434.8" y1="629.9" x2="437.4" y2="629.9" stroke="#222" stroke-width="0.9"/>
<text y="3.1" font-size="8.82" text-anchor="end" fill="#333" transform="translate(434 629.9) scale(0.862 1)">0.5</text>
<line x1="434.8" y1="602.3" x2="437.4" y2="602.3" stroke="#222" stroke-width="0.9"/>
<text y="3.1" font-size="8.82" text-anchor="end" fill="#333" transform="translate(434 602.3) scale(0.862 1)">1.0</text>
<line x1="434.8" y1="574.7" x2="437.4" y2="574.7" stroke="#222" stroke-width="0.9"/>
<text y="3.1" font-size="8.82" text-anchor="end" fill="#333" transform="translate(434 574.7) scale(0.862 1)">1.5</text>
<rect x="440.4" y="602.3" width="8.2" height="55.2" fill="#3d3d3d"/><circle cx="442.2" cy="602.3" r="1.15" fill="#111"/><circle cx="444.5" cy="602.3" r="1.15" fill="#111"/><circle cx="446.8" cy="602.3" r="1.15" fill="#111"/>
<rect x="450.7" y="647" width="8.1" height="10.5" fill="#b5232a"/><path d="M454.8 647V646.5M452.6 646.5H456.9" fill="none" stroke="#b5232a" stroke-width="0.9"/><circle cx="452.4" cy="647" r="1.15" fill="#111"/><circle cx="454.8" cy="647" r="1.15" fill="#111"/><circle cx="457.1" cy="647" r="1.15" fill="#111"/>
<rect x="460.9" y="640.4" width="8.1" height="17.1" fill="#4b8dcc"/><path d="M464.9 640.4V639.8M462.8 639.8H467.1" fill="none" stroke="#4b8dcc" stroke-width="0.9"/><circle cx="462.6" cy="640.4" r="1.15" fill="#111"/><circle cx="464.9" cy="640.4" r="1.15" fill="#111"/><circle cx="467.2" cy="640.4" r="1.15" fill="#111"/>
<rect x="478.2" y="602.3" width="8.2" height="55.2" fill="#3d3d3d"/><circle cx="480" cy="602.3" r="1.15" fill="#111"/><circle cx="482.3" cy="602.3" r="1.15" fill="#111"/><circle cx="484.6" cy="602.3" r="1.15" fill="#111"/>
<rect x="488.5" y="617.8" width="8.1" height="39.7" fill="#b5232a"/><path d="M492.6 617.8V616.1M490.4 616.1H494.8" fill="none" stroke="#b5232a" stroke-width="0.9"/><circle cx="490.6" cy="616.7" r="1.15" fill="#111"/><circle cx="492.6" cy="619.4" r="1.15" fill="#111"/><circle cx="494.6" cy="617.2" r="1.15" fill="#111"/>
<rect x="498.7" y="633.2" width="8.2" height="24.3" fill="#4b8dcc"/><path d="M502.8 633.2V632.1M500.6 632.1H505" fill="none" stroke="#4b8dcc" stroke-width="0.9"/><circle cx="500.8" cy="632.7" r="1.15" fill="#111"/><circle cx="502.8" cy="634.9" r="1.15" fill="#111"/><circle cx="504.8" cy="632.7" r="1.15" fill="#111"/>
<line x1="473.1" y1="593.7" x2="473.1" y2="657.5" stroke="#555" stroke-width="0.8" stroke-dasharray="2 1.6"/>
<line x1="454.7" y1="657.5" x2="454.7" y2="659.9" stroke="#222" stroke-width="0.9"/>
<text y="3.1" font-size="8.82" text-anchor="middle" font-weight="bold" transform="translate(454.7 667.3) scale(0.862 1)">MIAPACA2</text>
<line x1="492.6" y1="657.5" x2="492.6" y2="659.9" stroke="#222" stroke-width="0.9"/>
<text y="3.1" font-size="8.82" text-anchor="middle" font-weight="bold" transform="translate(492.6 667.3) scale(0.862 1)">H23</text>
<text y="3.3" font-size="9.51" text-anchor="middle" font-weight="bold" transform="translate(475.2 572.7) scale(0.862 1)">SMOX</text>
<text y="3" font-size="8.58" text-anchor="middle" fill="#222" transform="translate(416.1 619.1) rotate(-90) scale(0.862 1)">Relative SMOX mRNA  level</text>
<text y="2.7" font-size="7.8" fill="#222" transform="translate(455.6 638.7) rotate(-90) scale(0.862 1)"><tspan font-style="italic">p</tspan> &lt; 0.0001</text>
<text y="2.7" font-size="7.8" fill="#222" transform="translate(465.2 632.6) rotate(-90) scale(0.862 1)"><tspan font-style="italic">p</tspan> &lt; 0.0001</text>
<text y="2.7" font-size="7.8" fill="#222" transform="translate(492.4 609) rotate(-90) scale(0.862 1)"><tspan font-style="italic">p</tspan> = 0.002</text>
<text y="2.7" font-size="7.8" fill="#222" transform="translate(502.6 627.4) rotate(-90) scale(0.862 1)"><tspan font-style="italic">p</tspan> &lt; 0.0001</text>
<line x1="333.9" y1="706.2" x2="333.9" y2="788.8" stroke="#222" stroke-width="1"/>
<line x1="333.4" y1="788.3" x2="405.5" y2="788.3" stroke="#222" stroke-width="1"/>
<line x1="331.3" y1="788.3" x2="333.9" y2="788.3" stroke="#222" stroke-width="0.9"/>
<text y="3.1" font-size="8.82" text-anchor="end" fill="#333" transform="translate(330.5 788.3) scale(0.862 1)">0.0</text>
<line x1="331.3" y1="760.9" x2="333.9" y2="760.9" stroke="#222" stroke-width="0.9"/>
<text y="3.1" font-size="8.82" text-anchor="end" fill="#333" transform="translate(330.5 760.9) scale(0.862 1)">2.0</text>
<line x1="331.3" y1="733.6" x2="333.9" y2="733.6" stroke="#222" stroke-width="0.9"/>
<text y="3.1" font-size="8.82" text-anchor="end" fill="#333" transform="translate(330.5 733.6) scale(0.862 1)">4.0</text>
<line x1="331.3" y1="706.2" x2="333.9" y2="706.2" stroke="#222" stroke-width="0.9"/>
<text y="3.1" font-size="8.82" text-anchor="end" fill="#333" transform="translate(330.5 706.2) scale(0.862 1)">6.0</text>
<rect x="337.4" y="774.6" width="8.2" height="13.7" fill="#3d3d3d"/><circle cx="339.2" cy="774.6" r="1.15" fill="#111"/><circle cx="341.5" cy="774.6" r="1.15" fill="#111"/><circle cx="343.8" cy="774.6" r="1.15" fill="#111"/>
<rect x="347.6" y="717.2" width="8.2" height="71.1" fill="#b5232a"/><path d="M351.7 717.2V711.7M349.5 711.7H353.9" fill="none" stroke="#b5232a" stroke-width="0.9"/><circle cx="350.2" cy="714.4" r="1.15" fill="#111"/><circle cx="351.7" cy="724" r="1.15" fill="#111"/><circle cx="353.2" cy="718.5" r="1.15" fill="#111"/>
<rect x="357.9" y="717.8" width="8.1" height="70.5" fill="#4b8dcc"/><path d="M361.9 717.8V713.7M359.8 713.7H364.1" fill="none" stroke="#4b8dcc" stroke-width="0.9"/><circle cx="360.4" cy="714.4" r="1.15" fill="#111"/><circle cx="361.9" cy="722" r="1.15" fill="#111"/><circle cx="363.4" cy="717.2" r="1.15" fill="#111"/>
<rect x="375.4" y="774.6" width="8.2" height="13.7" fill="#3d3d3d"/><circle cx="377.2" cy="774.6" r="1.15" fill="#111"/><circle cx="379.5" cy="774.6" r="1.15" fill="#111"/><circle cx="381.8" cy="774.6" r="1.15" fill="#111"/>
<rect x="385" y="785.6" width="8.2" height="2.7" fill="#b5232a"/><path d="M389.1 785.6V785.3M386.9 785.3H391.3" fill="none" stroke="#b5232a" stroke-width="0.9"/><circle cx="386.8" cy="785.6" r="1.15" fill="#111"/><circle cx="389.1" cy="785.6" r="1.15" fill="#111"/><circle cx="391.4" cy="785.6" r="1.15" fill="#111"/>
<rect x="394.8" y="784.2" width="8.2" height="4.1" fill="#4b8dcc"/><path d="M398.9 784.2V783.9M396.7 783.9H401.1" fill="none" stroke="#4b8dcc" stroke-width="0.9"/><circle cx="396.6" cy="784.2" r="1.15" fill="#111"/><circle cx="398.9" cy="784.2" r="1.15" fill="#111"/><circle cx="401.2" cy="784.2" r="1.15" fill="#111"/>
<line x1="370.1" y1="725.1" x2="370.1" y2="788.3" stroke="#555" stroke-width="0.8" stroke-dasharray="2 1.6"/>
<line x1="352.3" y1="788.3" x2="352.3" y2="790.7" stroke="#222" stroke-width="0.9"/>
<text y="3.1" font-size="8.82" text-anchor="middle" font-weight="bold" transform="translate(352.3 798.1) scale(0.862 1)">MIAPACA2</text>
<line x1="390.1" y1="788.3" x2="390.1" y2="790.7" stroke="#222" stroke-width="0.9"/>
<text y="3.1" font-size="8.82" text-anchor="middle" font-weight="bold" transform="translate(390.1 798.1) scale(0.862 1)">H23</text>
<text y="3.3" font-size="9.51" text-anchor="middle" font-weight="bold" transform="translate(378.9 686.5) scale(0.862 1)">SAT1</text>
<text y="3" font-size="8.58" text-anchor="middle" fill="#222" transform="translate(314.5 750.2) rotate(-90) scale(0.862 1)">Relative SAT1 mRNA  level</text>
<text y="2.7" font-size="7.8" fill="#222" transform="translate(351.1 707.6) rotate(-90) scale(0.862 1)"><tspan font-style="italic">p</tspan> &lt; 0.0001</text>
<text y="2.7" font-size="7.8" fill="#222" transform="translate(361.3 712.7) rotate(-90) scale(0.862 1)"><tspan font-style="italic">p</tspan> &lt; 0.0001</text>
<text y="2.7" font-size="7.8" fill="#222" transform="translate(387.9 776) rotate(-90) scale(0.862 1)"><tspan font-style="italic">p</tspan> &lt; 0.0001</text>
<text y="2.7" font-size="7.8" fill="#222" transform="translate(398.1 782.2) rotate(-90) scale(0.862 1)"><tspan font-style="italic">p</tspan> &lt; 0.0001</text>
<line x1="438.4" y1="707.2" x2="438.4" y2="789.4" stroke="#222" stroke-width="1"/>
<line x1="437.9" y1="788.9" x2="508.3" y2="788.9" stroke="#222" stroke-width="1"/>
<line x1="435.8" y1="788.9" x2="438.4" y2="788.9" stroke="#222" stroke-width="0.9"/>
<text y="3.1" font-size="8.82" text-anchor="end" fill="#333" transform="translate(435 788.9) scale(0.862 1)">0.0</text>
<line x1="435.8" y1="761.6" x2="438.4" y2="761.6" stroke="#222" stroke-width="0.9"/>
<text y="3.1" font-size="8.82" text-anchor="end" fill="#333" transform="translate(435 761.6) scale(0.862 1)">0.5</text>
<line x1="435.8" y1="734.4" x2="438.4" y2="734.4" stroke="#222" stroke-width="0.9"/>
<text y="3.1" font-size="8.82" text-anchor="end" fill="#333" transform="translate(435 734.4) scale(0.862 1)">1.0</text>
<line x1="435.8" y1="707.1" x2="438.4" y2="707.1" stroke="#222" stroke-width="0.9"/>
<text y="3.1" font-size="8.82" text-anchor="end" fill="#333" transform="translate(435 707.1) scale(0.862 1)">1.5</text>
<rect x="440.9" y="734.4" width="8.1" height="54.5" fill="#3d3d3d"/><circle cx="442.6" cy="734.4" r="1.15" fill="#111"/><circle cx="444.9" cy="734.4" r="1.15" fill="#111"/><circle cx="447.2" cy="734.4" r="1.15" fill="#111"/>
<rect x="451.1" y="716.4" width="8.2" height="72.5" fill="#b5232a"/><path d="M455.2 716.4V709.9M453 709.9H457.4" fill="none" stroke="#b5232a" stroke-width="0.9"/><circle cx="453.7" cy="713.7" r="1.15" fill="#111"/><circle cx="455.2" cy="721.9" r="1.15" fill="#111"/><circle cx="456.7" cy="714.8" r="1.15" fill="#111"/>
<rect x="460.9" y="714.2" width="8.6" height="74.7" fill="#4b8dcc"/><path d="M465.2 714.2V712.1M463 712.1H467.4" fill="none" stroke="#4b8dcc" stroke-width="0.9"/><circle cx="463.2" cy="713.1" r="1.15" fill="#111"/><circle cx="465.2" cy="712.6" r="1.15" fill="#111"/><circle cx="467.2" cy="714.8" r="1.15" fill="#111"/>
<rect x="478.1" y="734.4" width="7.7" height="54.5" fill="#3d3d3d"/><circle cx="479.7" cy="734.4" r="1.15" fill="#111"/><circle cx="482" cy="734.4" r="1.15" fill="#111"/><circle cx="484.3" cy="734.4" r="1.15" fill="#111"/>
<rect x="487.9" y="719.7" width="8.1" height="69.2" fill="#b5232a"/><path d="M491.9 719.7V715.3M489.8 715.3H494.1" fill="none" stroke="#b5232a" stroke-width="0.9"/><circle cx="490.4" cy="716.4" r="1.15" fill="#111"/><circle cx="491.9" cy="723.5" r="1.15" fill="#111"/><circle cx="493.4" cy="719.7" r="1.15" fill="#111"/>
<rect x="498.1" y="720.2" width="8.6" height="68.7" fill="#4b8dcc"/><path d="M502.4 720.2V714.8M500.2 714.8H504.6" fill="none" stroke="#4b8dcc" stroke-width="0.9"/><circle cx="500.4" cy="720.2" r="1.15" fill="#111"/><circle cx="502.4" cy="715.9" r="1.15" fill="#111"/><circle cx="504.4" cy="720.2" r="1.15" fill="#111"/>
<line x1="473.2" y1="726" x2="473.2" y2="788.9" stroke="#555" stroke-width="0.8" stroke-dasharray="2 1.6"/>
<line x1="455.5" y1="788.9" x2="455.5" y2="791.3" stroke="#222" stroke-width="0.9"/>
<text y="3.1" font-size="8.82" text-anchor="middle" font-weight="bold" transform="translate(455.5 798.7) scale(0.862 1)">MIAPACA2</text>
<line x1="492" y1="788.9" x2="492" y2="791.3" stroke="#222" stroke-width="0.9"/>
<text y="3.1" font-size="8.82" text-anchor="middle" font-weight="bold" transform="translate(492 798.7) scale(0.862 1)">H23</text>
<text y="3.3" font-size="9.51" text-anchor="middle" font-weight="bold" transform="translate(484.8 682) scale(0.862 1)">PAOX</text>
<text y="3" font-size="8.58" text-anchor="middle" fill="#222" transform="translate(418.4 751) rotate(-90) scale(0.862 1)">Relative PAOX mRNA  level</text>
<text y="2.7" font-size="7.8" fill="#222" transform="translate(455.4 707.6) rotate(-90) scale(0.862 1)"><tspan font-style="italic">p</tspan> = 0.015</text>
<text y="2.7" font-size="7.8" fill="#222" transform="translate(465.6 707.6) rotate(-90) scale(0.862 1)"><tspan font-style="italic">p</tspan> = 0.0456</text>
<text y="2.7" font-size="7.8" fill="#222" transform="translate(492.2 712.7) rotate(-90) scale(0.862 1)"><tspan font-style="italic">p</tspan> = 0.08</text>
<text y="2.7" font-size="7.8" fill="#222" transform="translate(503 711.7) rotate(-90) scale(0.862 1)"><tspan font-style="italic">p</tspan> = 0.0124</text>
<rect x="282.5" y="805.5" width="252.5" height="11" fill="#fff" stroke="#333" stroke-width="0.8"/>
<rect x="284.1" y="807.9" width="10.6" height="5.9" fill="#3d3d3d"/>
<text y="2.7" font-size="7.66" font-weight="bold" fill="#111" transform="translate(296 810.9) scale(0.862 1)">Parental cells</text>
<rect x="347" y="807.9" width="10.3" height="5.9" fill="#b5232a"/>
<text y="2.7" font-size="7.66" font-weight="bold" fill="#111" transform="translate(358.7 810.9) scale(0.862 1)">Sotorasib resistant cells</text>
<rect x="440.9" y="807.9" width="10.6" height="5.9" fill="#4b8dcc"/>
<text y="2.7" font-size="7.66" font-weight="bold" fill="#111" transform="translate(453.5 810.9) scale(0.862 1)">Adagrasib resistant cells</text>
</g>
<g id="panelF">
<defs><filter id="bl" x="-30%" y="-60%" width="160%" height="220%"><feGaussianBlur stdDeviation="0.65"/></filter><linearGradient id="gb" x1="0" y1="0" x2="0" y2="1"><stop offset="0" stop-color="#e2e2e2"/><stop offset="0.5" stop-color="#f4f4f4"/><stop offset="1" stop-color="#e6e6e6"/></linearGradient></defs>
<text y="5.6" font-size="16" font-weight="bold" transform="translate(534 575)">F</text>
<text y="3.1" font-size="8.82" text-anchor="middle" font-weight="bold" transform="translate(581 592.7) scale(0.862 1)">MIAPACA2</text>
<text y="3.1" font-size="8.82" text-anchor="middle" font-weight="bold" transform="translate(636 592.7) scale(0.862 1)">H23</text>
<rect x="551.7" y="602.4" width="52.9" height="12.2" fill="url(#gb)"/>
<g clip-path="none">
<ellipse cx="561.4" cy="608.5" rx="9" ry="3.6" fill="#000" fill-opacity="1" filter="url(#bl)"/>
<ellipse cx="577.5" cy="608.8" rx="7.5" ry="1.4" fill="#000" fill-opacity="0.95" filter="url(#bl)"/>
<ellipse cx="593.7" cy="608.8" rx="7.5" ry="1.5" fill="#000" fill-opacity="0.95" filter="url(#bl)"/>
</g>
<rect x="551.7" y="602.4" width="52.9" height="12.2" fill="none" stroke="#444" stroke-width="0.9"/>
<rect x="607.2" y="602.4" width="53.4" height="12.2" fill="url(#gb)"/>
<g clip-path="none">
<ellipse cx="617" cy="608.5" rx="9" ry="2.6" fill="#000" fill-opacity="1" filter="url(#bl)"/>
<ellipse cx="635" cy="608.8" rx="7" ry="1.5" fill="#000" fill-opacity="0.97" filter="url(#bl)"/>
<ellipse cx="652" cy="608.8" rx="6" ry="1.2" fill="#000" fill-opacity="0.92" filter="url(#bl)"/>
</g>
<rect x="607.2" y="602.4" width="53.4" height="12.2" fill="none" stroke="#444" stroke-width="0.9"/>
<text y="3" font-size="8.47" text-anchor="end" font-weight="bold" transform="translate(550 608.5) scale(0.862 1)">ODC1</text>
<text transform="translate(662.8 611.2) scale(0.8 1)" font-size="7.8" fill="#222">51kDa</text>
<text transform="translate(561.4 621.6) scale(0.72 1)" font-size="7.8" text-anchor="middle" fill="#222">1.0</text>
<text transform="translate(577.5 621.6) scale(0.72 1)" font-size="7.8" text-anchor="middle" fill="#222">0.3</text>
<text transform="translate(593.7 621.6) scale(0.72 1)" font-size="7.8" text-anchor="middle" fill="#222">0.3</text>
<text transform="translate(617 621.6) scale(0.72 1)" font-size="7.8" text-anchor="middle" fill="#222">1.0</text>
<text transform="translate(635 621.6) scale(0.72 1)" font-size="7.8" text-anchor="middle" fill="#222">0.5</text>
<text transform="translate(652 621.6) scale(0.72 1)" font-size="7.8" text-anchor="middle" fill="#222">0.4</text>
<rect x="551.7" y="624.6" width="52.9" height="12.4" fill="url(#gb)"/>
<g clip-path="none">
<ellipse cx="561.4" cy="631.1" rx="8.5" ry="2.4" fill="#000" fill-opacity="1" filter="url(#bl)"/>
<ellipse cx="577.5" cy="631.1" rx="6.5" ry="1.1" fill="#000" fill-opacity="0.92" filter="url(#bl)"/>
<ellipse cx="593.7" cy="631.1" rx="6.5" ry="1.2" fill="#000" fill-opacity="0.95" filter="url(#bl)"/>
</g>
<rect x="551.7" y="624.6" width="52.9" height="12.4" fill="none" stroke="#444" stroke-width="0.9"/>
<rect x="607.2" y="624.6" width="53.4" height="12.4" fill="url(#gb)"/>
<g clip-path="none">
<ellipse cx="617" cy="631.1" rx="8.5" ry="3.2" fill="#000" fill-opacity="1" filter="url(#bl)"/>
<ellipse cx="635" cy="631.1" rx="8.5" ry="3.2" fill="#000" fill-opacity="1" filter="url(#bl)"/>
<ellipse cx="652" cy="631.1" rx="5.5" ry="1.4" fill="#000" fill-opacity="1" filter="url(#bl)"/>
</g>
<rect x="607.2" y="624.6" width="53.4" height="12.4" fill="none" stroke="#444" stroke-width="0.9"/>
<ellipse cx="558" cy="634.8" rx="4" ry="1.4" fill="#000" fill-opacity="0.6" filter="url(#bl)"/>
<ellipse cx="612" cy="635.4" rx="3.5" ry="1.3" fill="#000" fill-opacity="0.8" filter="url(#bl)"/>
<text y="3" font-size="8.47" text-anchor="end" font-weight="bold" transform="translate(550 630.8) scale(0.862 1)">SMOX</text>
<text transform="translate(662.8 633.5) scale(0.8 1)" font-size="7.8" fill="#222">62kDa</text>
<text transform="translate(561.4 644) scale(0.72 1)" font-size="7.8" text-anchor="middle" fill="#222">1.0</text>
<text transform="translate(577.5 644) scale(0.72 1)" font-size="7.8" text-anchor="middle" fill="#222">0.5</text>
<text transform="translate(593.7 644) scale(0.72 1)" font-size="7.8" text-anchor="middle" fill="#222">0.5</text>
<text transform="translate(617 644) scale(0.72 1)" font-size="7.8" text-anchor="middle" fill="#222">1.0</text>
<text transform="translate(635 644) scale(0.72 1)" font-size="7.8" text-anchor="middle" fill="#222">1.0</text>
<text transform="translate(652 644) scale(0.72 1)" font-size="7.8" text-anchor="middle" fill="#222">0.4</text>
<rect x="551.7" y="646.8" width="52.9" height="12.4" fill="url(#gb)"/>
<g clip-path="none">
<ellipse cx="561.4" cy="653.3" rx="7" ry="1.2" fill="#000" fill-opacity="0.95" filter="url(#bl)"/>
<ellipse cx="577.5" cy="653.3" rx="9" ry="3" fill="#000" fill-opacity="1" filter="url(#bl)"/>
<ellipse cx="593.7" cy="653.3" rx="8.5" ry="2.8" fill="#000" fill-opacity="1" filter="url(#bl)"/>
</g>
<rect x="551.7" y="646.8" width="52.9" height="12.4" fill="none" stroke="#444" stroke-width="0.9"/>
<rect x="607.2" y="646.8" width="53.4" height="12.4" fill="url(#gb)"/>
<g clip-path="none">
<ellipse cx="617" cy="653.3" rx="9" ry="3.2" fill="#000" fill-opacity="1" filter="url(#bl)"/>
<ellipse cx="635" cy="653.3" rx="6.5" ry="1.5" fill="#000" fill-opacity="0.97" filter="url(#bl)"/>
<ellipse cx="652" cy="653.3" rx="6.5" ry="1.5" fill="#000" fill-opacity="0.95" filter="url(#bl)"/>
</g>
<rect x="607.2" y="646.8" width="53.4" height="12.4" fill="none" stroke="#444" stroke-width="0.9"/>
<text y="3" font-size="8.47" text-anchor="end" font-weight="bold" transform="translate(550 653) scale(0.862 1)">SAT1</text>
<text transform="translate(662.8 655.7) scale(0.8 1)" font-size="7.8" fill="#222">20kDa</text>
<text transform="translate(561.4 666.2) scale(0.72 1)" font-size="7.8" text-anchor="middle" fill="#222">1.0</text>
<text transform="translate(577.5 666.2) scale(0.72 1)" font-size="7.8" text-anchor="middle" fill="#222">3.9</text>
<text transform="translate(593.7 666.2) scale(0.72 1)" font-size="7.8" text-anchor="middle" fill="#222">4.0</text>
<text transform="translate(617 666.2) scale(0.72 1)" font-size="7.8" text-anchor="middle" fill="#222">1.0</text>
<text transform="translate(635 666.2) scale(0.72 1)" font-size="7.8" text-anchor="middle" fill="#222">0.2</text>
<text transform="translate(652 666.2) scale(0.72 1)" font-size="7.8" text-anchor="middle" fill="#222">0.2</text>
<rect x="551.7" y="669.2" width="52.9" height="12.4" fill="url(#gb)"/>
<g clip-path="none">
<ellipse cx="561.4" cy="675.7" rx="8" ry="2.2" fill="#000" fill-opacity="1" filter="url(#bl)"/>
<ellipse cx="577.5" cy="675.7" rx="8" ry="2.3" fill="#000" fill-opacity="1" filter="url(#bl)"/>
<ellipse cx="593.7" cy="675.7" rx="8" ry="2.2" fill="#000" fill-opacity="1" filter="url(#bl)"/>
</g>
<rect x="551.7" y="669.2" width="52.9" height="12.4" fill="none" stroke="#444" stroke-width="0.9"/>
<rect x="607.2" y="669.2" width="53.4" height="12.4" fill="url(#gb)"/>
<g clip-path="none">
<ellipse cx="617" cy="675.7" rx="8.5" ry="2.6" fill="#000" fill-opacity="1" filter="url(#bl)"/>
<ellipse cx="635" cy="675.7" rx="8" ry="2.4" fill="#000" fill-opacity="1" filter="url(#bl)"/>
<ellipse cx="652" cy="675.7" rx="8.5" ry="2.9" fill="#000" fill-opacity="1" filter="url(#bl)"/>
</g>
<rect x="607.2" y="669.2" width="53.4" height="12.4" fill="none" stroke="#444" stroke-width="0.9"/>
<text y="3" font-size="8.47" text-anchor="end" font-weight="bold" transform="translate(550 675.4) scale(0.862 1)">PAOX</text>
<text transform="translate(662.8 678.1) scale(0.8 1)" font-size="7.8" fill="#222">56kDa</text>
<text transform="translate(561.4 688.6) scale(0.72 1)" font-size="7.8" text-anchor="middle" fill="#222">1.0</text>
<text transform="translate(577.5 688.6) scale(0.72 1)" font-size="7.8" text-anchor="middle" fill="#222">1.1</text>
<text transform="translate(593.7 688.6) scale(0.72 1)" font-size="7.8" text-anchor="middle" fill="#222">1.0</text>
<text transform="translate(617 688.6) scale(0.72 1)" font-size="7.8" text-anchor="middle" fill="#222">1.0</text>
<text transform="translate(635 688.6) scale(0.72 1)" font-size="7.8" text-anchor="middle" fill="#222">0.8</text>
<text transform="translate(652 688.6) scale(0.72 1)" font-size="7.8" text-anchor="middle" fill="#222">1.1</text>
<rect x="551.7" y="691.4" width="52.9" height="11.8" fill="url(#gb)"/>
<g clip-path="none">
<ellipse cx="561.4" cy="697.6" rx="8.5" ry="2.4" fill="#000" fill-opacity="1" filter="url(#bl)"/>
<ellipse cx="577.5" cy="697.6" rx="8" ry="2.2" fill="#000" fill-opacity="1" filter="url(#bl)"/>
<ellipse cx="593.7" cy="697.6" rx="8.5" ry="2.4" fill="#000" fill-opacity="1" filter="url(#bl)"/>
</g>
<rect x="551.7" y="691.4" width="52.9" height="11.8" fill="none" stroke="#444" stroke-width="0.9"/>
<rect x="607.2" y="691.4" width="53.4" height="11.8" fill="url(#gb)"/>
<g clip-path="none">
<ellipse cx="617" cy="697.6" rx="9" ry="2.2" fill="#000" fill-opacity="1" filter="url(#bl)"/>
<ellipse cx="635" cy="697.6" rx="8.5" ry="2.1" fill="#000" fill-opacity="1" filter="url(#bl)"/>
<ellipse cx="652" cy="697.6" rx="8.5" ry="2.2" fill="#000" fill-opacity="1" filter="url(#bl)"/>
</g>
<rect x="607.2" y="691.4" width="53.4" height="11.8" fill="none" stroke="#444" stroke-width="0.9"/>
<text y="3" font-size="8.47" text-anchor="end" font-weight="bold" transform="translate(550 697.3) scale(0.862 1)">β-Actin</text>
<text transform="translate(662.8 700) scale(0.8 1)" font-size="7.8" fill="#222">42kDa</text>
<text x="0" y="0" font-size="8.8" font-weight="bold" text-anchor="end" transform="translate(564.6 711.8) rotate(-45) scale(0.862 1)">NC</text>
<text x="0" y="0" font-size="8.8" font-weight="bold" text-anchor="end" transform="translate(582.5 711.4) rotate(-45) scale(0.862 1)">Sotorasib resistant cells</text>
<text x="0" y="0" font-size="8.8" font-weight="bold" text-anchor="end" transform="translate(600.8 711.1) rotate(-45) scale(0.862 1)">Adagrasib resistant cells</text>
<text x="0" y="0" font-size="8.8" font-weight="bold" text-anchor="end" transform="translate(619.7 711.8) rotate(-45) scale(0.862 1)">NC</text>
<text x="0" y="0" font-size="8.8" font-weight="bold" text-anchor="end" transform="translate(636.7 711.8) rotate(-45) scale(0.862 1)">Sotorasib resistant cells</text>
<text x="0" y="0" font-size="8.8" font-weight="bold" text-anchor="end" transform="translate(655.7 711.8) rotate(-45) scale(0.862 1)">Adagrasib resistant cells</text>
</g>
<g id="panelG">
<text y="5.4" font-size="15.5" font-weight="bold" transform="translate(1 832)">G</text>
<rect x="23.4" y="840.3" width="9" height="10.1" fill="#d35442"/>
<rect x="32.4" y="840.3" width="9" height="10.1" fill="#d35442"/>
<rect x="41.4" y="840.3" width="9" height="10.1" fill="#d35442"/>
<rect x="50.5" y="840.3" width="9" height="10.1" fill="#3664ac"/>
<rect x="59.5" y="840.3" width="9" height="10.1" fill="#dfe7f2"/>
<rect x="68.5" y="840.3" width="9" height="10.1" fill="#6b8dc2"/>
<rect x="77.5" y="840.3" width="9" height="10.1" fill="#3664ac"/>
<rect x="86.5" y="840.3" width="9" height="10.1" fill="#557db9"/>
<rect x="95.6" y="840.3" width="9" height="10.1" fill="#e6ebf5"/>
<rect x="23.4" y="850.4" width="9" height="10.1" fill="#d35442"/>
<rect x="32.4" y="850.4" width="9" height="10.1" fill="#d35442"/>
<rect x="41.4" y="850.4" width="9" height="10.1" fill="#da6e5e"/>
<rect x="50.5" y="850.4" width="9" height="10.1" fill="#6085be"/>
<rect x="59.5" y="850.4" width="9" height="10.1" fill="#8aa5cf"/>
<rect x="68.5" y="850.4" width="9" height="10.1" fill="#6b8dc2"/>
<rect x="77.5" y="850.4" width="9" height="10.1" fill="#4b74b5"/>
<rect x="86.5" y="850.4" width="9" height="10.1" fill="#6085be"/>
<rect x="95.6" y="850.4" width="9" height="10.1" fill="#f4f7fb"/>
<rect x="23.4" y="860.5" width="9" height="10.1" fill="#e5988e"/>
<rect x="32.4" y="860.5" width="9" height="10.1" fill="#d35442"/>
<rect x="41.4" y="860.5" width="9" height="10.1" fill="#e7a197"/>
<rect x="50.5" y="860.5" width="9" height="10.1" fill="#6b8dc2"/>
<rect x="59.5" y="860.5" width="9" height="10.1" fill="#8aa5cf"/>
<rect x="68.5" y="860.5" width="9" height="10.1" fill="#7595c6"/>
<rect x="77.5" y="860.5" width="9" height="10.1" fill="#6b8dc2"/>
<rect x="86.5" y="860.5" width="9" height="10.1" fill="#8aa5cf"/>
<rect x="95.6" y="860.5" width="9" height="10.1" fill="#cad6e9"/>
<rect x="23.4" y="870.5" width="9" height="10.1" fill="#d35442"/>
<rect x="32.4" y="870.5" width="9" height="10.1" fill="#d35442"/>
<rect x="41.4" y="870.5" width="9" height="10.1" fill="#fbeeec"/>
<rect x="50.5" y="870.5" width="9" height="10.1" fill="#557db9"/>
<rect x="59.5" y="870.5" width="9" height="10.1" fill="#809dcb"/>
<rect x="68.5" y="870.5" width="9" height="10.1" fill="#aabedc"/>
<rect x="77.5" y="870.5" width="9" height="10.1" fill="#cad6e9"/>
<rect x="86.5" y="870.5" width="9" height="10.1" fill="#3664ac"/>
<rect x="95.6" y="870.5" width="9" height="10.1" fill="#a0b6d8"/>
<rect x="23.4" y="880.6" width="9" height="10.1" fill="#d35442"/>
<rect x="32.4" y="880.6" width="9" height="10.1" fill="#f2ccc6"/>
<rect x="41.4" y="880.6" width="9" height="10.1" fill="#e7a197"/>
<rect x="50.5" y="880.6" width="9" height="10.1" fill="#d5deee"/>
<rect x="59.5" y="880.6" width="9" height="10.1" fill="#2b5ca8"/>
<rect x="68.5" y="880.6" width="9" height="10.1" fill="#3664ac"/>
<rect x="77.5" y="880.6" width="9" height="10.1" fill="#95aed4"/>
<rect x="86.5" y="880.6" width="9" height="10.1" fill="#f9fafc"/>
<rect x="95.6" y="880.6" width="9" height="10.1" fill="#bfcee5"/>
<rect x="23.4" y="890.7" width="9" height="10.1" fill="#d35442"/>
<rect x="32.4" y="890.7" width="9" height="10.1" fill="#f9fafc"/>
<rect x="41.4" y="890.7" width="9" height="10.1" fill="#ebb2aa"/>
<rect x="50.5" y="890.7" width="9" height="10.1" fill="#bfcee5"/>
<rect x="59.5" y="890.7" width="9" height="10.1" fill="#809dcb"/>
<rect x="68.5" y="890.7" width="9" height="10.1" fill="#fffdfd"/>
<rect x="77.5" y="890.7" width="9" height="10.1" fill="#3664ac"/>
<rect x="86.5" y="890.7" width="9" height="10.1" fill="#6b8dc2"/>
<rect x="95.6" y="890.7" width="9" height="10.1" fill="#bfcee5"/>
<rect x="23.4" y="900.8" width="9" height="10.1" fill="#d35442"/>
<rect x="32.4" y="900.8" width="9" height="10.1" fill="#a0b6d8"/>
<rect x="41.4" y="900.8" width="9" height="10.1" fill="#bfcee5"/>
<rect x="50.5" y="900.8" width="9" height="10.1" fill="#f6ddd9"/>
<rect x="59.5" y="900.8" width="9" height="10.1" fill="#fbf1f0"/>
<rect x="68.5" y="900.8" width="9" height="10.1" fill="#95aed4"/>
<rect x="77.5" y="900.8" width="9" height="10.1" fill="#809dcb"/>
<rect x="86.5" y="900.8" width="9" height="10.1" fill="#809dcb"/>
<rect x="95.6" y="900.8" width="9" height="10.1" fill="#b5c6e1"/>
<path d="M23.4 840.3V910.9M32.4 840.3V910.9M41.4 840.3V910.9M50.5 840.3V910.9M59.5 840.3V910.9M68.5 840.3V910.9M77.5 840.3V910.9M86.5 840.3V910.9M95.6 840.3V910.9M104.6 840.3V910.9M23.4 840.3H104.6M23.4 850.4H104.6M23.4 860.5H104.6M23.4 870.5H104.6M23.4 880.6H104.6M23.4 890.7H104.6M23.4 900.8H104.6M23.4 910.9H104.6" fill="none" stroke="#a0a0a0" stroke-width="0.9"/>
<text font-size="7.5" font-weight="bold" fill="#111" transform="translate(107 847.9) scale(0.87 1)">Putrescine</text>
<text font-size="7.5" font-weight="bold" fill="#111" transform="translate(107 858) scale(0.87 1)">Spermidine</text>
<text font-size="7.5" font-weight="bold" fill="#111" transform="translate(107 868.1) scale(0.87 1)">Spermine</text>
<text font-size="7.5" font-weight="bold" fill="#111" transform="translate(107 878.2) scale(0.87 1)">N'−Actylspermine</text>
<text font-size="7.5" font-weight="bold" fill="#111" transform="translate(107 888.3) scale(0.87 1)">N'−Actylspermidine</text>
<text font-size="7.5" font-weight="bold" fill="#111" transform="translate(107 898.3) scale(0.87 1)">L−Arginine</text>
<text font-size="7.5" font-weight="bold" fill="#111" transform="translate(107 908.4) scale(0.87 1)">L−Ornithine</text>
<text font-size="7.2" font-weight="bold" fill="#111" transform="translate(25.4 913.9) rotate(90) scale(0.78 1)">DMSO-1</text>
<text font-size="7.2" font-weight="bold" fill="#111" transform="translate(34.4 913.9) rotate(90) scale(0.78 1)">DMSO-2</text>
<text font-size="7.2" font-weight="bold" fill="#111" transform="translate(43.4 913.9) rotate(90) scale(0.78 1)">DMSO-3</text>
<text font-size="7.0" font-weight="bold" fill="#111" transform="translate(52.5 913.9) rotate(90) scale(0.6 1)">Sotorasib resistant cells-1</text>
<text font-size="7.0" font-weight="bold" fill="#111" transform="translate(61.5 913.9) rotate(90) scale(0.6 1)">Sotorasib resistant cells-2</text>
<text font-size="7.0" font-weight="bold" fill="#111" transform="translate(70.6 913.9) rotate(90) scale(0.6 1)">Sotorasib resistant cells-3</text>
<text font-size="7.0" font-weight="bold" fill="#111" transform="translate(79.6 913.9) rotate(90) scale(0.6 1)">Adagrasib resistant cells-1</text>
<text font-size="7.0" font-weight="bold" fill="#111" transform="translate(88.6 913.9) rotate(90) scale(0.6 1)">Adagrasib resistant cells-2</text>
<text font-size="7.0" font-weight="bold" fill="#111" transform="translate(97.6 913.9) rotate(90) scale(0.6 1)">Adagrasib resistant cells-3</text>
<text y="3.2" font-size="9.28" text-anchor="middle" font-weight="bold" transform="translate(64.6 833.7) scale(0.862 1)">MIAPACA2</text>
<path d="M20.9 845.3H22.9M20.9 855.4H22.9M20.9 845.3V855.4M21.4 875.6H22.9M21.4 885.7H22.9M21.4 875.6V885.7M21.7 895.7H22.9M21.7 905.8H22.9M21.7 895.7V905.8M19.4 850.4H20.9M19.4 865.5H22.9M19.4 850.4V865.5M19.9 880.6H21.4M19.9 900.8H21.7M19.9 880.6V900.8M17.5 857.9H19.4M17.5 890.7H19.9M17.5 857.9V890.7" fill="none" stroke="#111" stroke-width="0.9"/>
<rect x="181.3" y="840.3" width="8.9" height="10.1" fill="#95aed4"/>
<rect x="190.2" y="840.3" width="8.9" height="10.1" fill="#d35442"/>
<rect x="199.1" y="840.3" width="8.9" height="10.1" fill="#f5d9d5"/>
<rect x="208" y="840.3" width="8.9" height="10.1" fill="#d35442"/>
<rect x="216.9" y="840.3" width="8.9" height="10.1" fill="#3664ac"/>
<rect x="225.8" y="840.3" width="8.9" height="10.1" fill="#a0b6d8"/>
<rect x="234.7" y="840.3" width="8.9" height="10.1" fill="#da6e5e"/>
<rect x="243.6" y="840.3" width="8.9" height="10.1" fill="#ffffff"/>
<rect x="252.5" y="840.3" width="8.9" height="10.1" fill="#bfcee5"/>
<rect x="181.3" y="850.3" width="8.9" height="10.1" fill="#dc7668"/>
<rect x="190.2" y="850.3" width="8.9" height="10.1" fill="#8aa5cf"/>
<rect x="199.1" y="850.3" width="8.9" height="10.1" fill="#dc7668"/>
<rect x="208" y="850.3" width="8.9" height="10.1" fill="#d35442"/>
<rect x="216.9" y="850.3" width="8.9" height="10.1" fill="#f1c8c3"/>
<rect x="225.8" y="850.3" width="8.9" height="10.1" fill="#a0b6d8"/>
<rect x="234.7" y="850.3" width="8.9" height="10.1" fill="#3664ac"/>
<rect x="243.6" y="850.3" width="8.9" height="10.1" fill="#3664ac"/>
<rect x="252.5" y="850.3" width="8.9" height="10.1" fill="#f3d1cc"/>
<rect x="181.3" y="860.4" width="8.9" height="10.1" fill="#d35442"/>
<rect x="190.2" y="860.4" width="8.9" height="10.1" fill="#f8e2df"/>
<rect x="199.1" y="860.4" width="8.9" height="10.1" fill="#dc7668"/>
<rect x="208" y="860.4" width="8.9" height="10.1" fill="#de7f71"/>
<rect x="216.9" y="860.4" width="8.9" height="10.1" fill="#6b8dc2"/>
<rect x="225.8" y="860.4" width="8.9" height="10.1" fill="#ffffff"/>
<rect x="234.7" y="860.4" width="8.9" height="10.1" fill="#406cb1"/>
<rect x="243.6" y="860.4" width="8.9" height="10.1" fill="#3664ac"/>
<rect x="252.5" y="860.4" width="8.9" height="10.1" fill="#6b8dc2"/>
<rect x="181.3" y="870.4" width="8.9" height="10.1" fill="#d35442"/>
<rect x="190.2" y="870.4" width="8.9" height="10.1" fill="#e7a197"/>
<rect x="199.1" y="870.4" width="8.9" height="10.1" fill="#d35442"/>
<rect x="208" y="870.4" width="8.9" height="10.1" fill="#faeae8"/>
<rect x="216.9" y="870.4" width="8.9" height="10.1" fill="#3664ac"/>
<rect x="225.8" y="870.4" width="8.9" height="10.1" fill="#bfcee5"/>
<rect x="234.7" y="870.4" width="8.9" height="10.1" fill="#fdf8f7"/>
<rect x="243.6" y="870.4" width="8.9" height="10.1" fill="#3664ac"/>
<rect x="252.5" y="870.4" width="8.9" height="10.1" fill="#3664ac"/>
<rect x="181.3" y="880.5" width="8.9" height="10.1" fill="#d35442"/>
<rect x="190.2" y="880.5" width="8.9" height="10.1" fill="#ebb2aa"/>
<rect x="199.1" y="880.5" width="8.9" height="10.1" fill="#d35442"/>
<rect x="208" y="880.5" width="8.9" height="10.1" fill="#b5c6e1"/>
<rect x="216.9" y="880.5" width="8.9" height="10.1" fill="#fffdfd"/>
<rect x="225.8" y="880.5" width="8.9" height="10.1" fill="#bfcee5"/>
<rect x="234.7" y="880.5" width="8.9" height="10.1" fill="#a0b6d8"/>
<rect x="243.6" y="880.5" width="8.9" height="10.1" fill="#3664ac"/>
<rect x="252.5" y="880.5" width="8.9" height="10.1" fill="#3664ac"/>
<rect x="181.3" y="890.5" width="8.9" height="10.1" fill="#d35442"/>
<rect x="190.2" y="890.5" width="8.9" height="10.1" fill="#d35442"/>
<rect x="199.1" y="890.5" width="8.9" height="10.1" fill="#d35442"/>
<rect x="208" y="890.5" width="8.9" height="10.1" fill="#b5c6e1"/>
<rect x="216.9" y="890.5" width="8.9" height="10.1" fill="#6085be"/>
<rect x="225.8" y="890.5" width="8.9" height="10.1" fill="#557db9"/>
<rect x="234.7" y="890.5" width="8.9" height="10.1" fill="#4b74b5"/>
<rect x="243.6" y="890.5" width="8.9" height="10.1" fill="#809dcb"/>
<rect x="252.5" y="890.5" width="8.9" height="10.1" fill="#809dcb"/>
<rect x="181.3" y="900.6" width="8.9" height="10.1" fill="#dc7668"/>
<rect x="190.2" y="900.6" width="8.9" height="10.1" fill="#d35442"/>
<rect x="199.1" y="900.6" width="8.9" height="10.1" fill="#d35442"/>
<rect x="208" y="900.6" width="8.9" height="10.1" fill="#7595c6"/>
<rect x="216.9" y="900.6" width="8.9" height="10.1" fill="#bfcee5"/>
<rect x="225.8" y="900.6" width="8.9" height="10.1" fill="#4b74b5"/>
<rect x="234.7" y="900.6" width="8.9" height="10.1" fill="#95aed4"/>
<rect x="243.6" y="900.6" width="8.9" height="10.1" fill="#7595c6"/>
<rect x="252.5" y="900.6" width="8.9" height="10.1" fill="#6b8dc2"/>
<path d="M181.3 840.3V910.6M190.2 840.3V910.6M199.1 840.3V910.6M208 840.3V910.6M216.9 840.3V910.6M225.8 840.3V910.6M234.7 840.3V910.6M243.6 840.3V910.6M252.5 840.3V910.6M261.4 840.3V910.6M181.3 840.3H261.4M181.3 850.3H261.4M181.3 860.4H261.4M181.3 870.4H261.4M181.3 880.5H261.4M181.3 890.5H261.4M181.3 900.6H261.4M181.3 910.6H261.4" fill="none" stroke="#a0a0a0" stroke-width="0.9"/>
<text font-size="7.5" font-weight="bold" fill="#111" transform="translate(263.8 847.9) scale(0.87 1)">L−Ornithine</text>
<text font-size="7.5" font-weight="bold" fill="#111" transform="translate(263.8 858) scale(0.87 1)">L−Arginine</text>
<text font-size="7.5" font-weight="bold" fill="#111" transform="translate(263.8 868) scale(0.87 1)">Putrescine</text>
<text font-size="7.5" font-weight="bold" fill="#111" transform="translate(263.8 878.1) scale(0.87 1)">Spermidine</text>
<text font-size="7.5" font-weight="bold" fill="#111" transform="translate(263.8 888.1) scale(0.87 1)">Spermine</text>
<text font-size="7.5" font-weight="bold" fill="#111" transform="translate(263.8 898.2) scale(0.87 1)">N'−Actylspermidine</text>
<text font-size="7.5" font-weight="bold" fill="#111" transform="translate(263.8 908.2) scale(0.87 1)">N'−Actylspermine</text>
<text font-size="7.2" font-weight="bold" fill="#111" transform="translate(183.2 913.6) rotate(90) scale(0.78 1)">DMSO-1</text>
<text font-size="7.2" font-weight="bold" fill="#111" transform="translate(192.1 913.6) rotate(90) scale(0.78 1)">DMSO-2</text>
<text font-size="7.2" font-weight="bold" fill="#111" transform="translate(201 913.6) rotate(90) scale(0.78 1)">DMSO-3</text>
<text font-size="7.0" font-weight="bold" fill="#111" transform="translate(210 913.6) rotate(90) scale(0.6 1)">Sotorasib resistant cells-1</text>
<text font-size="7.0" font-weight="bold" fill="#111" transform="translate(218.9 913.6) rotate(90) scale(0.6 1)">Sotorasib resistant cells-2</text>
<text font-size="7.0" font-weight="bold" fill="#111" transform="translate(227.8 913.6) rotate(90) scale(0.6 1)">Sotorasib resistant cells-3</text>
<text font-size="7.0" font-weight="bold" fill="#111" transform="translate(236.7 913.6) rotate(90) scale(0.6 1)">Adagrasib resistant cells-1</text>
<text font-size="7.0" font-weight="bold" fill="#111" transform="translate(245.6 913.6) rotate(90) scale(0.6 1)">Adagrasib resistant cells-2</text>
<text font-size="7.0" font-weight="bold" fill="#111" transform="translate(254.5 913.6) rotate(90) scale(0.6 1)">Adagrasib resistant cells-3</text>
<text y="3.2" font-size="9.28" text-anchor="middle" font-weight="bold" transform="translate(222.1 833.7) scale(0.862 1)">H23</text>
<path d="M178.8 845.3H180.8M178.8 855.4H180.8M178.8 845.3V855.4M179.3 875.5H180.8M179.3 885.5H180.8M179.3 875.5V885.5M179.6 895.6H180.8M179.6 905.6H180.8M179.6 895.6V905.6M177.3 850.3H178.8M177.3 865.4H180.8M177.3 850.3V865.4M177.8 880.5H179.3M177.8 900.6H179.6M177.8 880.5V900.6M176.5 857.9H177.3M176.5 890.5H177.8M176.5 857.9V890.5" fill="none" stroke="#111" stroke-width="0.9"/>
<defs><linearGradient id="gG" x1="0" y1="0" x2="0" y2="1"><stop offset="0" stop-color="#d35442"/><stop offset="0.5" stop-color="#fff"/><stop offset="1" stop-color="#2b5ca8"/></linearGradient></defs>
<rect x="3.1" y="844.3" width="3.9" height="64.5" fill="url(#gG)"/>
<text y="3" font-size="8.58" fill="#222" transform="translate(10.3 843.8) scale(0.862 1)">1</text>
<text y="3" font-size="8.58" fill="#222" transform="translate(10.3 876.3) scale(0.862 1)">0</text>
<text y="3" font-size="8.58" fill="#222" transform="translate(8.6 908.8) scale(0.862 1)">−1</text>
</g>
<g id="panelH">
<text y="5.4" font-size="15.5" font-weight="bold" transform="translate(320.5 832.9)">H</text>
<text transform="translate(403.6 835.6) scale(0.9 1)" font-size="7.4" text-anchor="middle" font-weight="bold" fill="#111">MIAPACA2</text>
<text transform="translate(593.5 834.6) scale(0.9 1)" font-size="7.4" text-anchor="middle" font-weight="bold" fill="#111">H23</text>
<text transform="translate(363.7 846.6) scale(0.89 1)" font-size="7.4" text-anchor="middle" font-weight="bold" fill="#111">Sotorasib</text>
<text transform="translate(368.5 856.4) scale(0.865 1)" font-size="7.4" text-anchor="middle" font-weight="bold" fill="#111">resistant cells</text>
<text transform="translate(435.9 846.6) scale(0.89 1)" font-size="7.4" text-anchor="middle" font-weight="bold" fill="#111">Adagrasib</text>
<text transform="translate(441 856.4) scale(0.865 1)" font-size="7.4" text-anchor="middle" font-weight="bold" fill="#111">resistant cells</text>
<text transform="translate(546 846.6) scale(0.89 1)" font-size="7.4" text-anchor="middle" font-weight="bold" fill="#111">Sotorasib</text>
<text transform="translate(548.7 856.4) scale(0.865 1)" font-size="7.4" text-anchor="middle" font-weight="bold" fill="#111">resistant cells</text>
<text transform="translate(619.8 846.6) scale(0.89 1)" font-size="7.4" text-anchor="middle" font-weight="bold" fill="#111">Adagrasib</text>
<text transform="translate(624 856.4) scale(0.865 1)" font-size="7.4" text-anchor="middle" font-weight="bold" fill="#111">resistant cells</text>
<path d="M324.3 902.6L325.1 902.6L325.8 902.6L326.6 902.6L327.3 902.6L328.1 902.6L328.8 902.6L329.6 902.6L330.3 902.6L331.1 902.6L331.8 902.6L332.6 902.6L333.3 902.6L334.1 902.6L334.8 902.6L335.6 902.6L336.3 902.6L337.1 902.6L337.8 902.6L338.6 902.6L339.3 902.6L340.1 902.6L340.8 902.6L341.6 902.6L342.3 902.6L343.1 902.6L343.8 902.6L344.6 902.6L345.3 902.6L346.1 902.6L346.8 902.6L347.6 902.6L348.3 902.6L349.1 902.6L349.8 902.6L350.6 902.6L351.3 902.5L352.1 902.4L352.8 902.2L353.6 901.7L354.3 900.8L355.1 899.3L355.8 896.9L356.6 893.5L357.3 888.9L358.1 883.4L358.8 877.3L359.6 871.5L360.3 866.8L361.1 864.1L361.8 863.7L362.6 865.1L363.3 868L364.1 871.8L364.8 876.4L365.6 881.2L366.3 885.8L367.1 889.9L367.8 893.4L368.6 896.3L369.3 898.4L370.1 899.9L370.8 900.9L371.6 901.6L372.3 902L373.1 902.3L373.8 902.4L374.6 902.5L375.3 902.6L376.1 902.6L376.8 902.6L377.6 902.6L378.3 902.6L379.1 902.6L379.8 902.6L380.6 902.6L381.3 902.6L382.1 902.6L382.8 902.6L383.6 902.6L384.3 902.6L385.1 902.6L385.8 902.6L386.6 902.6L387.3 902.6L388.1 902.6L388.8 902.6L389.6 902.6L390.3 902.6L391.1 902.6L391.8 902.6Z" fill="#7f7f7f" fill-opacity="1"/><path d="M324.3 902.6L325.1 902.6L325.8 902.6L326.6 902.6L327.3 902.6L328.1 902.6L328.8 902.6L329.6 902.6L330.3 902.6L331.1 902.6L331.8 902.6L332.6 902.6L333.3 902.6L334.1 902.6L334.8 902.6L335.6 902.6L336.3 902.6L337.1 902.6L337.8 902.6L338.6 902.6L339.3 902.6L340.1 902.6L340.8 902.6L341.6 902.6L342.3 902.6L343.1 902.6L343.8 902.6L344.6 902.6L345.3 902.6L346.1 902.6L346.8 902.6L347.6 902.6L348.3 902.6L349.1 902.6L349.8 902.6L350.6 902.6L351.3 902.5L352.1 902.4L352.8 902.2L353.6 901.7L354.3 900.8L355.1 899.3L355.8 896.9L356.6 893.5L357.3 888.9L358.1 883.4L358.8 877.3L359.6 871.5L360.3 866.8L361.1 864.1L361.8 863.7L362.6 865.1L363.3 868L364.1 871.8L364.8 876.4L365.6 881.2L366.3 885.8L367.1 889.9L367.8 893.4L368.6 896.3L369.3 898.4L370.1 899.9L370.8 900.9L371.6 901.6L372.3 902L373.1 902.3L373.8 902.4L374.6 902.5L375.3 902.6L376.1 902.6L376.8 902.6L377.6 902.6L378.3 902.6L379.1 902.6L379.8 902.6L380.6 902.6L381.3 902.6L382.1 902.6L382.8 902.6L383.6 902.6L384.3 902.6L385.1 902.6L385.8 902.6L386.6 902.6L387.3 902.6L388.1 902.6L388.8 902.6L389.6 902.6L390.3 902.6L391.1 902.6L391.8 902.6" fill="none" stroke="#111" stroke-width="1.5" stroke-linejoin="round"/>
<path d="M324.3 925.6L325.1 925.6L325.8 925.6L326.6 925.6L327.3 925.6L328.1 925.6L328.8 925.6L329.6 925.6L330.3 925.6L331.1 925.6L331.8 925.6L332.6 925.6L333.3 925.6L334.1 925.6L334.8 925.6L335.6 925.6L336.3 925.6L337.1 925.6L337.8 925.6L338.6 925.6L339.3 925.6L340.1 925.6L340.8 925.6L341.6 925.6L342.3 925.6L343.1 925.6L343.8 925.6L344.6 925.6L345.3 925.6L346.1 925.6L346.8 925.6L347.6 925.6L348.3 925.6L349.1 925.6L349.8 925.6L350.6 925.6L351.3 925.6L352.1 925.5L352.8 925.3L353.6 925.1L354.3 924.5L355.1 923.5L355.8 921.9L356.6 919.3L357.3 915.7L358.1 910.9L358.8 905.2L359.6 898.9L360.3 892.7L361.1 887.6L361.8 884.4L362.6 883.6L363.3 885L364.1 888L364.8 892.4L365.6 897.6L366.3 903L367.1 908.2L367.8 912.8L368.6 916.6L369.3 919.6L370.1 921.7L370.8 923.2L371.6 924.2L372.3 924.8L373.1 925.2L373.8 925.4L374.6 925.5L375.3 925.6L376.1 925.6L376.8 925.6L377.6 925.6L378.3 925.6L379.1 925.6L379.8 925.6L380.6 925.6L381.3 925.6L382.1 925.6L382.8 925.6L383.6 925.6L384.3 925.6L385.1 925.6L385.8 925.6L386.6 925.6L387.3 925.6L388.1 925.6L388.8 925.6L389.6 925.6L390.3 925.6L391.1 925.6L391.8 925.6Z" fill="#e06a72" fill-opacity="0.7"/><path d="M324.3 925.6L325.1 925.6L325.8 925.6L326.6 925.6L327.3 925.6L328.1 925.6L328.8 925.6L329.6 925.6L330.3 925.6L331.1 925.6L331.8 925.6L332.6 925.6L333.3 925.6L334.1 925.6L334.8 925.6L335.6 925.6L336.3 925.6L337.1 925.6L337.8 925.6L338.6 925.6L339.3 925.6L340.1 925.6L340.8 925.6L341.6 925.6L342.3 925.6L343.1 925.6L343.8 925.6L344.6 925.6L345.3 925.6L346.1 925.6L346.8 925.6L347.6 925.6L348.3 925.6L349.1 925.6L349.8 925.6L350.6 925.6L351.3 925.6L352.1 925.5L352.8 925.3L353.6 925.1L354.3 924.5L355.1 923.5L355.8 921.9L356.6 919.3L357.3 915.7L358.1 910.9L358.8 905.2L359.6 898.9L360.3 892.7L361.1 887.6L361.8 884.4L362.6 883.6L363.3 885L364.1 888L364.8 892.4L365.6 897.6L366.3 903L367.1 908.2L367.8 912.8L368.6 916.6L369.3 919.6L370.1 921.7L370.8 923.2L371.6 924.2L372.3 924.8L373.1 925.2L373.8 925.4L374.6 925.5L375.3 925.6L376.1 925.6L376.8 925.6L377.6 925.6L378.3 925.6L379.1 925.6L379.8 925.6L380.6 925.6L381.3 925.6L382.1 925.6L382.8 925.6L383.6 925.6L384.3 925.6L385.1 925.6L385.8 925.6L386.6 925.6L387.3 925.6L388.1 925.6L388.8 925.6L389.6 925.6L390.3 925.6L391.1 925.6L391.8 925.6" fill="none" stroke="#ff2a2a" stroke-width="1.3" stroke-linejoin="round"/>
<path d="M324.3 947.8L325.1 947.8L325.8 947.8L326.6 947.8L327.3 947.8L328.1 947.8L328.8 947.8L329.6 947.8L330.3 947.8L331.1 947.8L331.8 947.8L332.6 947.8L333.3 947.8L334.1 947.8L334.8 947.8L335.6 947.8L336.3 947.8L337.1 947.8L337.8 947.8L338.6 947.8L339.3 947.8L340.1 947.8L340.8 947.8L341.6 947.8L342.3 947.8L343.1 947.8L343.8 947.8L344.6 947.8L345.3 947.8L346.1 947.8L346.8 947.8L347.6 947.8L348.3 947.8L349.1 947.8L349.8 947.8L350.6 947.8L351.3 947.8L352.1 947.8L352.8 947.8L353.6 947.8L354.3 947.8L355.1 947.8L355.8 947.7L356.6 947.6L357.3 947.3L358.1 946.9L358.8 946L359.6 944.7L360.3 942.5L361.1 939.4L361.8 935.3L362.6 930.1L363.3 924.3L364.1 918.2L364.8 912.7L365.6 908.6L366.3 906.5L367.1 906.4L367.8 907.3L368.6 908.9L369.3 911.2L370.1 914L370.8 917.1L371.6 920.5L372.3 924L373.1 927.5L373.8 930.7L374.6 933.8L375.3 936.5L376.1 938.8L376.8 940.8L377.6 942.5L378.3 943.8L379.1 944.9L379.8 945.7L380.6 946.3L381.3 946.8L382.1 947.1L382.8 947.3L383.6 947.5L384.3 947.6L385.1 947.7L385.8 947.7L386.6 947.8L387.3 947.8L388.1 947.8L388.8 947.8L389.6 947.8L390.3 947.8L391.1 947.8L391.8 947.8Z" fill="#9ccaf3" fill-opacity="0.85"/><path d="M324.3 947.8L325.1 947.8L325.8 947.8L326.6 947.8L327.3 947.8L328.1 947.8L328.8 947.8L329.6 947.8L330.3 947.8L331.1 947.8L331.8 947.8L332.6 947.8L333.3 947.8L334.1 947.8L334.8 947.8L335.6 947.8L336.3 947.8L337.1 947.8L337.8 947.8L338.6 947.8L339.3 947.8L340.1 947.8L340.8 947.8L341.6 947.8L342.3 947.8L343.1 947.8L343.8 947.8L344.6 947.8L345.3 947.8L346.1 947.8L346.8 947.8L347.6 947.8L348.3 947.8L349.1 947.8L349.8 947.8L350.6 947.8L351.3 947.8L352.1 947.8L352.8 947.8L353.6 947.8L354.3 947.8L355.1 947.8L355.8 947.7L356.6 947.6L357.3 947.3L358.1 946.9L358.8 946L359.6 944.7L360.3 942.5L361.1 939.4L361.8 935.3L362.6 930.1L363.3 924.3L364.1 918.2L364.8 912.7L365.6 908.6L366.3 906.5L367.1 906.4L367.8 907.3L368.6 908.9L369.3 911.2L370.1 914L370.8 917.1L371.6 920.5L372.3 924L373.1 927.5L373.8 930.7L374.6 933.8L375.3 936.5L376.1 938.8L376.8 940.8L377.6 942.5L378.3 943.8L379.1 944.9L379.8 945.7L380.6 946.3L381.3 946.8L382.1 947.1L382.8 947.3L383.6 947.5L384.3 947.6L385.1 947.7L385.8 947.7L386.6 947.8L387.3 947.8L388.1 947.8L388.8 947.8L389.6 947.8L390.3 947.8L391.1 947.8L391.8 947.8" fill="none" stroke="#3a8ee8" stroke-width="1.2" stroke-linejoin="round"/>
<line x1="364.4" y1="856.6" x2="364.4" y2="947.8" stroke="#222" stroke-width="0.7" stroke-dasharray="1 1"/>
<path d="M331.7 947.8v2.6M340.9 947.8v2.6M352.5 947.8v2.6M370.9 947.8v2.6M386.9 947.8v2.6M327.3 947.8v1.3M329.5 947.8v1.3M331.7 947.8v1.3M333.9 947.8v1.3M336.1 947.8v1.3M338.3 947.8v1.3M340.5 947.8v1.3M342.7 947.8v1.3M344.9 947.8v1.3M347.1 947.8v1.3M349.3 947.8v1.3M351.5 947.8v1.3M353.7 947.8v1.3M355.9 947.8v1.3M358.1 947.8v1.3M360.3 947.8v1.3M362.5 947.8v1.3M364.7 947.8v1.3M366.9 947.8v1.3M369.1 947.8v1.3M371.3 947.8v1.3M373.5 947.8v1.3M375.7 947.8v1.3M377.9 947.8v1.3M380.1 947.8v1.3M382.3 947.8v1.3M384.5 947.8v1.3M386.7 947.8v1.3" fill="none" stroke="#111" stroke-width="0.8"/>
<text transform="translate(331.7 958.3) scale(0.8 1)" font-size="6.3" text-anchor="middle" fill="#333">−10<tspan font-size="4" dy="-2.5">3</tspan></text>
<text transform="translate(340.9 958.3) scale(0.8 1)" font-size="6.3" text-anchor="middle" fill="#333">0</text>
<text transform="translate(352.5 958.3) scale(0.8 1)" font-size="6.3" text-anchor="middle" fill="#333">10<tspan font-size="4" dy="-2.5">3</tspan></text>
<text transform="translate(370.9 958.3) scale(0.8 1)" font-size="6.3" text-anchor="middle" fill="#333">10<tspan font-size="4" dy="-2.5">4</tspan></text>
<text transform="translate(386.9 958.3) scale(0.8 1)" font-size="6.3" text-anchor="middle" fill="#333">10<tspan font-size="4" dy="-2.5">5</tspan></text>
<text transform="translate(358.7 966.4) scale(0.8 1)" font-size="6.3" text-anchor="middle" fill="#333">Comp-FL1-A :: FITC-A</text>
<text transform="translate(380.7 894.2) scale(0.9 1)" font-size="6.8" font-weight="bold" fill="#111">24.1%</text>
<text transform="translate(380.7 900.4) scale(0.85 1)" font-size="6.8" font-weight="bold" fill="#111">Spermine</text>
<text transform="translate(380.7 916.9) scale(0.9 1)" font-size="6.8" font-weight="bold" fill="#ee2222">38.2%</text>
<text transform="translate(380.7 923) scale(0.85 1)" font-size="6.8" font-weight="bold" fill="#111">Sotorasib</text>
<text transform="translate(380.7 938) scale(0.9 1)" font-size="6.8" font-weight="bold" fill="#3a8ee8">74.8%</text>
<text transform="translate(380.7 944.1) scale(0.69 1)" font-size="6.8" font-weight="bold" fill="#111">Sotorasib+Spermine</text>
<path d="M396 902.6L396.7 902.6L397.5 902.6L398.2 902.6L399 902.6L399.7 902.6L400.4 902.6L401.2 902.6L401.9 902.6L402.7 902.6L403.4 902.6L404.1 902.6L404.9 902.6L405.6 902.6L406.4 902.6L407.1 902.6L407.8 902.6L408.6 902.6L409.3 902.6L410.1 902.6L410.8 902.6L411.5 902.6L412.3 902.6L413 902.6L413.8 902.6L414.5 902.6L415.2 902.6L416 902.6L416.7 902.6L417.5 902.6L418.2 902.6L418.9 902.6L419.7 902.6L420.4 902.6L421.2 902.6L421.9 902.6L422.6 902.5L423.4 902.4L424.1 902.1L424.9 901.5L425.6 900.5L426.3 898.8L427.1 896.2L427.8 892.6L428.6 887.8L429.3 882.2L430 876.2L430.8 870.6L431.5 866.2L432.3 863.9L433 863.8L433.7 865.4L434.5 868.3L435.2 872.2L436 876.8L436.7 881.5L437.4 886L438.2 890.1L438.9 893.5L439.7 896.3L440.4 898.4L441.1 899.9L441.9 900.9L442.6 901.6L443.4 902L444.1 902.3L444.8 902.4L445.6 902.5L446.3 902.6L447.1 902.6L447.8 902.6L448.5 902.6L449.3 902.6L450 902.6L450.8 902.6L451.5 902.6L452.2 902.6L453 902.6L453.7 902.6L454.5 902.6L455.2 902.6L455.9 902.6L456.7 902.6L457.4 902.6L458.2 902.6L458.9 902.6L459.6 902.6L460.4 902.6L461.1 902.6L461.9 902.6L462.6 902.6Z" fill="#7f7f7f" fill-opacity="1"/><path d="M396 902.6L396.7 902.6L397.5 902.6L398.2 902.6L399 902.6L399.7 902.6L400.4 902.6L401.2 902.6L401.9 902.6L402.7 902.6L403.4 902.6L404.1 902.6L404.9 902.6L405.6 902.6L406.4 902.6L407.1 902.6L407.8 902.6L408.6 902.6L409.3 902.6L410.1 902.6L410.8 902.6L411.5 902.6L412.3 902.6L413 902.6L413.8 902.6L414.5 902.6L415.2 902.6L416 902.6L416.7 902.6L417.5 902.6L418.2 902.6L418.9 902.6L419.7 902.6L420.4 902.6L421.2 902.6L421.9 902.6L422.6 902.5L423.4 902.4L424.1 902.1L424.9 901.5L425.6 900.5L426.3 898.8L427.1 896.2L427.8 892.6L428.6 887.8L429.3 882.2L430 876.2L430.8 870.6L431.5 866.2L432.3 863.9L433 863.8L433.7 865.4L434.5 868.3L435.2 872.2L436 876.8L436.7 881.5L437.4 886L438.2 890.1L438.9 893.5L439.7 896.3L440.4 898.4L441.1 899.9L441.9 900.9L442.6 901.6L443.4 902L444.1 902.3L444.8 902.4L445.6 902.5L446.3 902.6L447.1 902.6L447.8 902.6L448.5 902.6L449.3 902.6L450 902.6L450.8 902.6L451.5 902.6L452.2 902.6L453 902.6L453.7 902.6L454.5 902.6L455.2 902.6L455.9 902.6L456.7 902.6L457.4 902.6L458.2 902.6L458.9 902.6L459.6 902.6L460.4 902.6L461.1 902.6L461.9 902.6L462.6 902.6" fill="none" stroke="#111" stroke-width="1.5" stroke-linejoin="round"/>
<path d="M396 925.6L396.7 925.6L397.5 925.6L398.2 925.6L399 925.6L399.7 925.6L400.4 925.6L401.2 925.6L401.9 925.6L402.7 925.6L403.4 925.6L404.1 925.6L404.9 925.6L405.6 925.6L406.4 925.6L407.1 925.6L407.8 925.6L408.6 925.6L409.3 925.6L410.1 925.6L410.8 925.6L411.5 925.6L412.3 925.6L413 925.6L413.8 925.6L414.5 925.6L415.2 925.6L416 925.6L416.7 925.6L417.5 925.6L418.2 925.6L418.9 925.6L419.7 925.6L420.4 925.6L421.2 925.6L421.9 925.6L422.6 925.6L423.4 925.6L424.1 925.5L424.9 925.4L425.6 925.2L426.3 924.8L427.1 924.1L427.8 922.8L428.6 920.8L429.3 917.8L430 913.7L430.8 908.5L431.5 902.5L432.3 896.3L433 890.5L433.7 886.1L434.5 883.8L435.2 883.9L436 885.8L436.7 889.4L437.4 894L438.2 899.3L438.9 904.6L439.7 909.6L440.4 913.9L441.1 917.5L441.9 920.2L442.6 922.1L443.4 923.5L444.1 924.4L444.8 924.9L445.6 925.2L446.3 925.4L447.1 925.5L447.8 925.6L448.5 925.6L449.3 925.6L450 925.6L450.8 925.6L451.5 925.6L452.2 925.6L453 925.6L453.7 925.6L454.5 925.6L455.2 925.6L455.9 925.6L456.7 925.6L457.4 925.6L458.2 925.6L458.9 925.6L459.6 925.6L460.4 925.6L461.1 925.6L461.9 925.6L462.6 925.6Z" fill="#e06a72" fill-opacity="0.7"/><path d="M396 925.6L396.7 925.6L397.5 925.6L398.2 925.6L399 925.6L399.7 925.6L400.4 925.6L401.2 925.6L401.9 925.6L402.7 925.6L403.4 925.6L404.1 925.6L404.9 925.6L405.6 925.6L406.4 925.6L407.1 925.6L407.8 925.6L408.6 925.6L409.3 925.6L410.1 925.6L410.8 925.6L411.5 925.6L412.3 925.6L413 925.6L413.8 925.6L414.5 925.6L415.2 925.6L416 925.6L416.7 925.6L417.5 925.6L418.2 925.6L418.9 925.6L419.7 925.6L420.4 925.6L421.2 925.6L421.9 925.6L422.6 925.6L423.4 925.6L424.1 925.5L424.9 925.4L425.6 925.2L426.3 924.8L427.1 924.1L427.8 922.8L428.6 920.8L429.3 917.8L430 913.7L430.8 908.5L431.5 902.5L432.3 896.3L433 890.5L433.7 886.1L434.5 883.8L435.2 883.9L436 885.8L436.7 889.4L437.4 894L438.2 899.3L438.9 904.6L439.7 909.6L440.4 913.9L441.1 917.5L441.9 920.2L442.6 922.1L443.4 923.5L444.1 924.4L444.8 924.9L445.6 925.2L446.3 925.4L447.1 925.5L447.8 925.6L448.5 925.6L449.3 925.6L450 925.6L450.8 925.6L451.5 925.6L452.2 925.6L453 925.6L453.7 925.6L454.5 925.6L455.2 925.6L455.9 925.6L456.7 925.6L457.4 925.6L458.2 925.6L458.9 925.6L459.6 925.6L460.4 925.6L461.1 925.6L461.9 925.6L462.6 925.6" fill="none" stroke="#ff2a2a" stroke-width="1.3" stroke-linejoin="round"/>
<path d="M396 947.8L396.7 947.8L397.5 947.8L398.2 947.8L399 947.8L399.7 947.8L400.4 947.8L401.2 947.8L401.9 947.8L402.7 947.8L403.4 947.8L404.1 947.8L404.9 947.8L405.6 947.8L406.4 947.8L407.1 947.8L407.8 947.8L408.6 947.8L409.3 947.8L410.1 947.8L410.8 947.8L411.5 947.8L412.3 947.8L413 947.8L413.8 947.8L414.5 947.8L415.2 947.8L416 947.8L416.7 947.8L417.5 947.8L418.2 947.8L418.9 947.8L419.7 947.8L420.4 947.8L421.2 947.8L421.9 947.8L422.6 947.8L423.4 947.8L424.1 947.8L424.9 947.8L425.6 947.8L426.3 947.8L427.1 947.7L427.8 947.6L428.6 947.5L429.3 947.1L430 946.5L430.8 945.4L431.5 943.7L432.3 941.2L433 937.6L433.7 933.1L434.5 927.6L435.2 921.7L436 915.8L436.7 910.9L437.4 907.5L438.2 906.3L438.9 906.7L439.7 907.9L440.4 909.9L441.1 912.4L441.9 915.5L442.6 918.9L443.4 922.4L444.1 926L444.8 929.4L445.6 932.6L446.3 935.5L447.1 938.1L447.8 940.2L448.5 942.1L449.3 943.5L450 944.7L450.8 945.6L451.5 946.2L452.2 946.7L453 947.1L453.7 947.3L454.5 947.5L455.2 947.6L455.9 947.7L456.7 947.7L457.4 947.8L458.2 947.8L458.9 947.8L459.6 947.8L460.4 947.8L461.1 947.8L461.9 947.8L462.6 947.8Z" fill="#9ccaf3" fill-opacity="0.85"/><path d="M396 947.8L396.7 947.8L397.5 947.8L398.2 947.8L399 947.8L399.7 947.8L400.4 947.8L401.2 947.8L401.9 947.8L402.7 947.8L403.4 947.8L404.1 947.8L404.9 947.8L405.6 947.8L406.4 947.8L407.1 947.8L407.8 947.8L408.6 947.8L409.3 947.8L410.1 947.8L410.8 947.8L411.5 947.8L412.3 947.8L413 947.8L413.8 947.8L414.5 947.8L415.2 947.8L416 947.8L416.7 947.8L417.5 947.8L418.2 947.8L418.9 947.8L419.7 947.8L420.4 947.8L421.2 947.8L421.9 947.8L422.6 947.8L423.4 947.8L424.1 947.8L424.9 947.8L425.6 947.8L426.3 947.8L427.1 947.7L427.8 947.6L428.6 947.5L429.3 947.1L430 946.5L430.8 945.4L431.5 943.7L432.3 941.2L433 937.6L433.7 933.1L434.5 927.6L435.2 921.7L436 915.8L436.7 910.9L437.4 907.5L438.2 906.3L438.9 906.7L439.7 907.9L440.4 909.9L441.1 912.4L441.9 915.5L442.6 918.9L443.4 922.4L444.1 926L444.8 929.4L445.6 932.6L446.3 935.5L447.1 938.1L447.8 940.2L448.5 942.1L449.3 943.5L450 944.7L450.8 945.6L451.5 946.2L452.2 946.7L453 947.1L453.7 947.3L454.5 947.5L455.2 947.6L455.9 947.7L456.7 947.7L457.4 947.8L458.2 947.8L458.9 947.8L459.6 947.8L460.4 947.8L461.1 947.8L461.9 947.8L462.6 947.8" fill="none" stroke="#3a8ee8" stroke-width="1.2" stroke-linejoin="round"/>
<line x1="435.4" y1="856.6" x2="435.4" y2="947.8" stroke="#222" stroke-width="0.7" stroke-dasharray="1 1"/>
<path d="M403.4 947.8v2.6M412.6 947.8v2.6M424.2 947.8v2.6M442.6 947.8v2.6M458.6 947.8v2.6M399 947.8v1.3M401.2 947.8v1.3M403.4 947.8v1.3M405.6 947.8v1.3M407.8 947.8v1.3M410 947.8v1.3M412.2 947.8v1.3M414.4 947.8v1.3M416.6 947.8v1.3M418.8 947.8v1.3M421 947.8v1.3M423.2 947.8v1.3M425.4 947.8v1.3M427.6 947.8v1.3M429.8 947.8v1.3M432 947.8v1.3M434.2 947.8v1.3M436.4 947.8v1.3M438.6 947.8v1.3M440.8 947.8v1.3M443 947.8v1.3M445.2 947.8v1.3M447.4 947.8v1.3M449.6 947.8v1.3M451.8 947.8v1.3M454 947.8v1.3M456.2 947.8v1.3M458.4 947.8v1.3" fill="none" stroke="#111" stroke-width="0.8"/>
<text transform="translate(403.4 958.3) scale(0.8 1)" font-size="6.3" text-anchor="middle" fill="#333">−10<tspan font-size="4" dy="-2.5">3</tspan></text>
<text transform="translate(412.6 958.3) scale(0.8 1)" font-size="6.3" text-anchor="middle" fill="#333">0</text>
<text transform="translate(424.2 958.3) scale(0.8 1)" font-size="6.3" text-anchor="middle" fill="#333">10<tspan font-size="4" dy="-2.5">3</tspan></text>
<text transform="translate(442.6 958.3) scale(0.8 1)" font-size="6.3" text-anchor="middle" fill="#333">10<tspan font-size="4" dy="-2.5">4</tspan></text>
<text transform="translate(458.6 958.3) scale(0.8 1)" font-size="6.3" text-anchor="middle" fill="#333">10<tspan font-size="4" dy="-2.5">5</tspan></text>
<text transform="translate(430.7 966.4) scale(0.8 1)" font-size="6.3" text-anchor="middle" fill="#333">Comp-FL1-A :: FITC-A</text>
<text transform="translate(451.5 894.2) scale(0.9 1)" font-size="6.8" font-weight="bold" fill="#111">17.4%</text>
<text transform="translate(451.5 900.4) scale(0.85 1)" font-size="6.8" font-weight="bold" fill="#111">Spermine</text>
<text transform="translate(451.5 916.9) scale(0.9 1)" font-size="6.8" font-weight="bold" fill="#ee2222">41.7%</text>
<text transform="translate(451.5 923) scale(0.85 1)" font-size="6.8" font-weight="bold" fill="#111">Adagrasib</text>
<text transform="translate(451.5 938) scale(0.9 1)" font-size="6.8" font-weight="bold" fill="#3a8ee8">77.4%</text>
<text transform="translate(451.5 944.1) scale(0.69 1)" font-size="6.8" font-weight="bold" fill="#111">Sotorasib+Spermine</text>
<path d="M510.3 901.8L511 901.8L511.8 901.8L512.5 901.8L513.3 901.8L514 901.8L514.8 901.8L515.5 901.8L516.3 901.8L517 901.8L517.8 901.8L518.5 901.8L519.2 901.8L520 901.8L520.7 901.8L521.5 901.8L522.2 901.8L523 901.8L523.7 901.8L524.5 901.8L525.2 901.8L526 901.8L526.7 901.8L527.4 901.8L528.2 901.8L528.9 901.8L529.7 901.8L530.4 901.8L531.2 901.8L531.9 901.8L532.7 901.8L533.4 901.8L534.2 901.8L534.9 901.8L535.6 901.8L536.4 901.7L537.1 901.5L537.9 901.2L538.6 900.6L539.4 899.5L540.1 897.8L540.9 895.1L541.6 891.2L542.4 886.3L543.1 880.5L543.9 874.5L544.6 869L545.3 864.9L546.1 862.9L546.8 863.2L547.6 865.3L548.3 868.8L549.1 873.3L549.8 878.2L550.6 883.2L551.3 887.8L552.1 891.7L552.8 894.8L553.5 897.2L554.3 898.9L555 900.1L555.8 900.8L556.5 901.3L557.3 901.5L558 901.7L558.8 901.7L559.5 901.8L560.3 901.8L561 901.8L561.7 901.8L562.5 901.8L563.2 901.8L564 901.8L564.7 901.8L565.5 901.8L566.2 901.8L567 901.8L567.7 901.8L568.5 901.8L569.2 901.8L569.9 901.8L570.7 901.8L571.4 901.8L572.2 901.8L572.9 901.8L573.7 901.8L574.4 901.8L575.2 901.8L575.9 901.8L576.7 901.8L577.4 901.8Z" fill="#7f7f7f" fill-opacity="1"/><path d="M510.3 901.8L511 901.8L511.8 901.8L512.5 901.8L513.3 901.8L514 901.8L514.8 901.8L515.5 901.8L516.3 901.8L517 901.8L517.8 901.8L518.5 901.8L519.2 901.8L520 901.8L520.7 901.8L521.5 901.8L522.2 901.8L523 901.8L523.7 901.8L524.5 901.8L525.2 901.8L526 901.8L526.7 901.8L527.4 901.8L528.2 901.8L528.9 901.8L529.7 901.8L530.4 901.8L531.2 901.8L531.9 901.8L532.7 901.8L533.4 901.8L534.2 901.8L534.9 901.8L535.6 901.8L536.4 901.7L537.1 901.5L537.9 901.2L538.6 900.6L539.4 899.5L540.1 897.8L540.9 895.1L541.6 891.2L542.4 886.3L543.1 880.5L543.9 874.5L544.6 869L545.3 864.9L546.1 862.9L546.8 863.2L547.6 865.3L548.3 868.8L549.1 873.3L549.8 878.2L550.6 883.2L551.3 887.8L552.1 891.7L552.8 894.8L553.5 897.2L554.3 898.9L555 900.1L555.8 900.8L556.5 901.3L557.3 901.5L558 901.7L558.8 901.7L559.5 901.8L560.3 901.8L561 901.8L561.7 901.8L562.5 901.8L563.2 901.8L564 901.8L564.7 901.8L565.5 901.8L566.2 901.8L567 901.8L567.7 901.8L568.5 901.8L569.2 901.8L569.9 901.8L570.7 901.8L571.4 901.8L572.2 901.8L572.9 901.8L573.7 901.8L574.4 901.8L575.2 901.8L575.9 901.8L576.7 901.8L577.4 901.8" fill="none" stroke="#111" stroke-width="1.5" stroke-linejoin="round"/>
<path d="M510.3 924.3L511 924.3L511.8 924.3L512.5 924.3L513.3 924.3L514 924.3L514.8 924.3L515.5 924.3L516.3 924.3L517 924.3L517.8 924.3L518.5 924.3L519.2 924.3L520 924.3L520.7 924.3L521.5 924.3L522.2 924.3L523 924.3L523.7 924.3L524.5 924.3L525.2 924.3L526 924.3L526.7 924.3L527.4 924.3L528.2 924.3L528.9 924.3L529.7 924.3L530.4 924.3L531.2 924.3L531.9 924.3L532.7 924.3L533.4 924.3L534.2 924.3L534.9 924.3L535.6 924.3L536.4 924.3L537.1 924.3L537.9 924.2L538.6 924.1L539.4 923.8L540.1 923.3L540.9 922.3L541.6 920.8L542.4 918.4L543.1 914.9L543.9 910.3L544.6 904.7L545.3 898.5L546.1 892.3L546.8 887L547.6 883.5L548.3 882.3L549.1 883.4L549.8 886.3L550.6 890.6L551.3 895.9L552.1 901.4L552.8 906.8L553.5 911.5L554.3 915.4L555 918.4L555.8 920.6L556.5 922L557.3 923L558 923.6L558.8 923.9L559.5 924.1L560.3 924.2L561 924.3L561.7 924.3L562.5 924.3L563.2 924.3L564 924.3L564.7 924.3L565.5 924.3L566.2 924.3L567 924.3L567.7 924.3L568.5 924.3L569.2 924.3L569.9 924.3L570.7 924.3L571.4 924.3L572.2 924.3L572.9 924.3L573.7 924.3L574.4 924.3L575.2 924.3L575.9 924.3L576.7 924.3L577.4 924.3Z" fill="#e06a72" fill-opacity="0.7"/><path d="M510.3 924.3L511 924.3L511.8 924.3L512.5 924.3L513.3 924.3L514 924.3L514.8 924.3L515.5 924.3L516.3 924.3L517 924.3L517.8 924.3L518.5 924.3L519.2 924.3L520 924.3L520.7 924.3L521.5 924.3L522.2 924.3L523 924.3L523.7 924.3L524.5 924.3L525.2 924.3L526 924.3L526.7 924.3L527.4 924.3L528.2 924.3L528.9 924.3L529.7 924.3L530.4 924.3L531.2 924.3L531.9 924.3L532.7 924.3L533.4 924.3L534.2 924.3L534.9 924.3L535.6 924.3L536.4 924.3L537.1 924.3L537.9 924.2L538.6 924.1L539.4 923.8L540.1 923.3L540.9 922.3L541.6 920.8L542.4 918.4L543.1 914.9L543.9 910.3L544.6 904.7L545.3 898.5L546.1 892.3L546.8 887L547.6 883.5L548.3 882.3L549.1 883.4L549.8 886.3L550.6 890.6L551.3 895.9L552.1 901.4L552.8 906.8L553.5 911.5L554.3 915.4L555 918.4L555.8 920.6L556.5 922L557.3 923L558 923.6L558.8 923.9L559.5 924.1L560.3 924.2L561 924.3L561.7 924.3L562.5 924.3L563.2 924.3L564 924.3L564.7 924.3L565.5 924.3L566.2 924.3L567 924.3L567.7 924.3L568.5 924.3L569.2 924.3L569.9 924.3L570.7 924.3L571.4 924.3L572.2 924.3L572.9 924.3L573.7 924.3L574.4 924.3L575.2 924.3L575.9 924.3L576.7 924.3L577.4 924.3" fill="none" stroke="#ff2a2a" stroke-width="1.3" stroke-linejoin="round"/>
<path d="M510.3 947L511 947L511.8 947L512.5 947L513.3 947L514 947L514.8 947L515.5 947L516.3 947L517 947L517.8 947L518.5 947L519.2 947L520 947L520.7 947L521.5 947L522.2 947L523 947L523.7 947L524.5 947L525.2 947L526 947L526.7 947L527.4 947L528.2 947L528.9 947L529.7 947L530.4 947L531.2 947L531.9 947L532.7 947L533.4 947L534.2 947L534.9 947L535.6 947L536.4 947L537.1 946.9L537.9 946.8L538.6 946.6L539.4 946.1L540.1 945.3L540.9 943.9L541.6 941.7L542.4 938.5L543.1 934.2L543.9 928.8L544.6 922.7L545.3 916.5L546.1 911.1L546.8 907.2L547.6 905.5L548.3 906.1L549.1 908.1L549.8 911.5L550.6 915.7L551.3 920.5L552.1 925.5L552.8 930.1L553.5 934.3L554.3 937.8L555 940.6L555.8 942.7L556.5 944.2L557.3 945.3L558 946L558.8 946.4L559.5 946.7L560.3 946.8L561 946.9L561.7 947L562.5 947L563.2 947L564 947L564.7 947L565.5 947L566.2 947L567 947L567.7 947L568.5 947L569.2 947L569.9 947L570.7 947L571.4 947L572.2 947L572.9 947L573.7 947L574.4 947L575.2 947L575.9 947L576.7 947L577.4 947Z" fill="#9ccaf3" fill-opacity="0.85"/><path d="M510.3 947L511 947L511.8 947L512.5 947L513.3 947L514 947L514.8 947L515.5 947L516.3 947L517 947L517.8 947L518.5 947L519.2 947L520 947L520.7 947L521.5 947L522.2 947L523 947L523.7 947L524.5 947L525.2 947L526 947L526.7 947L527.4 947L528.2 947L528.9 947L529.7 947L530.4 947L531.2 947L531.9 947L532.7 947L533.4 947L534.2 947L534.9 947L535.6 947L536.4 947L537.1 946.9L537.9 946.8L538.6 946.6L539.4 946.1L540.1 945.3L540.9 943.9L541.6 941.7L542.4 938.5L543.1 934.2L543.9 928.8L544.6 922.7L545.3 916.5L546.1 911.1L546.8 907.2L547.6 905.5L548.3 906.1L549.1 908.1L549.8 911.5L550.6 915.7L551.3 920.5L552.1 925.5L552.8 930.1L553.5 934.3L554.3 937.8L555 940.6L555.8 942.7L556.5 944.2L557.3 945.3L558 946L558.8 946.4L559.5 946.7L560.3 946.8L561 946.9L561.7 947L562.5 947L563.2 947L564 947L564.7 947L565.5 947L566.2 947L567 947L567.7 947L568.5 947L569.2 947L569.9 947L570.7 947L571.4 947L572.2 947L572.9 947L573.7 947L574.4 947L575.2 947L575.9 947L576.7 947L577.4 947" fill="none" stroke="#3a8ee8" stroke-width="1.2" stroke-linejoin="round"/>
<line x1="548" y1="855.8" x2="548" y2="947" stroke="#222" stroke-width="0.7" stroke-dasharray="1 1"/>
<path d="M517.7 947v2.6M526.9 947v2.6M538.5 947v2.6M556.9 947v2.6M572.9 947v2.6M513.3 947v1.3M515.5 947v1.3M517.7 947v1.3M519.9 947v1.3M522.1 947v1.3M524.3 947v1.3M526.5 947v1.3M528.7 947v1.3M530.9 947v1.3M533.1 947v1.3M535.3 947v1.3M537.5 947v1.3M539.7 947v1.3M541.9 947v1.3M544.1 947v1.3M546.3 947v1.3M548.5 947v1.3M550.7 947v1.3M552.9 947v1.3M555.1 947v1.3M557.3 947v1.3M559.5 947v1.3M561.7 947v1.3M563.9 947v1.3M566.1 947v1.3M568.3 947v1.3M570.5 947v1.3M572.7 947v1.3" fill="none" stroke="#111" stroke-width="0.8"/>
<text transform="translate(517.7 957.5) scale(0.8 1)" font-size="6.3" text-anchor="middle" fill="#333">−10<tspan font-size="4" dy="-2.5">3</tspan></text>
<text transform="translate(526.9 957.5) scale(0.8 1)" font-size="6.3" text-anchor="middle" fill="#333">0</text>
<text transform="translate(538.5 957.5) scale(0.8 1)" font-size="6.3" text-anchor="middle" fill="#333">10<tspan font-size="4" dy="-2.5">3</tspan></text>
<text transform="translate(556.9 957.5) scale(0.8 1)" font-size="6.3" text-anchor="middle" fill="#333">10<tspan font-size="4" dy="-2.5">4</tspan></text>
<text transform="translate(572.9 957.5) scale(0.8 1)" font-size="6.3" text-anchor="middle" fill="#333">10<tspan font-size="4" dy="-2.5">5</tspan></text>
<text transform="translate(546.3 965.6) scale(0.8 1)" font-size="6.3" text-anchor="middle" fill="#333">Comp-FL1-A :: FITC-A</text>
<text transform="translate(559.4 893.4) scale(0.9 1)" font-size="6.8" font-weight="bold" fill="#111">18.6%</text>
<text transform="translate(559.4 899.6) scale(0.85 1)" font-size="6.8" font-weight="bold" fill="#111">Spermine</text>
<text transform="translate(559.4 915.6) scale(0.9 1)" font-size="6.8" font-weight="bold" fill="#ee2222">41.2%</text>
<text transform="translate(559.4 921.7) scale(0.85 1)" font-size="6.8" font-weight="bold" fill="#111">Sotorasib</text>
<text transform="translate(559.4 937.2) scale(0.9 1)" font-size="6.8" font-weight="bold" fill="#3a8ee8">41.6%</text>
<text transform="translate(559.4 943.3) scale(0.69 1)" font-size="6.8" font-weight="bold" fill="#111">Sotorasib+Spermine</text>
<path d="M581.5 901.8L582.2 901.8L583 901.8L583.7 901.8L584.4 901.8L585.2 901.8L585.9 901.8L586.6 901.8L587.4 901.8L588.1 901.8L588.8 901.8L589.6 901.8L590.3 901.8L591 901.8L591.8 901.8L592.5 901.8L593.3 901.8L594 901.8L594.7 901.8L595.5 901.8L596.2 901.8L596.9 901.8L597.7 901.8L598.4 901.8L599.1 901.8L599.9 901.8L600.6 901.8L601.3 901.8L602.1 901.8L602.8 901.8L603.5 901.8L604.3 901.8L605 901.8L605.7 901.8L606.5 901.8L607.2 901.8L607.9 901.8L608.7 901.8L609.4 901.7L610.1 901.5L610.9 901.2L611.6 900.6L612.3 899.5L613.1 897.6L613.8 894.8L614.5 890.8L615.3 885.6L616 879.7L616.8 873.5L617.5 868.1L618.2 864.3L619 862.8L619.7 863.6L620.4 866.1L621.2 869.9L621.9 874.7L622.6 879.7L623.4 884.7L624.1 889.1L624.8 892.8L625.6 895.8L626.3 897.9L627 899.4L627.8 900.4L628.5 901L629.2 901.4L630 901.6L630.7 901.7L631.4 901.8L632.2 901.8L632.9 901.8L633.6 901.8L634.4 901.8L635.1 901.8L635.8 901.8L636.6 901.8L637.3 901.8L638.1 901.8L638.8 901.8L639.5 901.8L640.3 901.8L641 901.8L641.7 901.8L642.5 901.8L643.2 901.8L643.9 901.8L644.7 901.8L645.4 901.8L646.1 901.8L646.9 901.8L647.6 901.8Z" fill="#7f7f7f" fill-opacity="1"/><path d="M581.5 901.8L582.2 901.8L583 901.8L583.7 901.8L584.4 901.8L585.2 901.8L585.9 901.8L586.6 901.8L587.4 901.8L588.1 901.8L588.8 901.8L589.6 901.8L590.3 901.8L591 901.8L591.8 901.8L592.5 901.8L593.3 901.8L594 901.8L594.7 901.8L595.5 901.8L596.2 901.8L596.9 901.8L597.7 901.8L598.4 901.8L599.1 901.8L599.9 901.8L600.6 901.8L601.3 901.8L602.1 901.8L602.8 901.8L603.5 901.8L604.3 901.8L605 901.8L605.7 901.8L606.5 901.8L607.2 901.8L607.9 901.8L608.7 901.8L609.4 901.7L610.1 901.5L610.9 901.2L611.6 900.6L612.3 899.5L613.1 897.6L613.8 894.8L614.5 890.8L615.3 885.6L616 879.7L616.8 873.5L617.5 868.1L618.2 864.3L619 862.8L619.7 863.6L620.4 866.1L621.2 869.9L621.9 874.7L622.6 879.7L623.4 884.7L624.1 889.1L624.8 892.8L625.6 895.8L626.3 897.9L627 899.4L627.8 900.4L628.5 901L629.2 901.4L630 901.6L630.7 901.7L631.4 901.8L632.2 901.8L632.9 901.8L633.6 901.8L634.4 901.8L635.1 901.8L635.8 901.8L636.6 901.8L637.3 901.8L638.1 901.8L638.8 901.8L639.5 901.8L640.3 901.8L641 901.8L641.7 901.8L642.5 901.8L643.2 901.8L643.9 901.8L644.7 901.8L645.4 901.8L646.1 901.8L646.9 901.8L647.6 901.8" fill="none" stroke="#111" stroke-width="1.5" stroke-linejoin="round"/>
<path d="M581.5 924.3L582.2 924.3L583 924.3L583.7 924.3L584.4 924.3L585.2 924.3L585.9 924.3L586.6 924.3L587.4 924.3L588.1 924.3L588.8 924.3L589.6 924.3L590.3 924.3L591 924.3L591.8 924.3L592.5 924.3L593.3 924.3L594 924.3L594.7 924.3L595.5 924.3L596.2 924.3L596.9 924.3L597.7 924.3L598.4 924.3L599.1 924.3L599.9 924.3L600.6 924.3L601.3 924.3L602.1 924.3L602.8 924.3L603.5 924.3L604.3 924.3L605 924.3L605.7 924.3L606.5 924.3L607.2 924.3L607.9 924.3L608.7 924.3L609.4 924.2L610.1 924.1L610.9 923.8L611.6 923.3L612.3 922.4L613.1 920.9L613.8 918.6L614.5 915.2L615.3 910.8L616 905.3L616.8 899.2L617.5 893.1L618.2 887.7L619 883.9L619.7 882.3L620.4 883L621.2 885.5L621.9 889.6L622.6 894.6L623.4 900L624.1 905.4L624.8 910.3L625.6 914.3L626.3 917.5L627 919.9L627.8 921.6L628.5 922.7L629.2 923.4L630 923.8L630.7 924.1L631.4 924.2L632.2 924.2L632.9 924.3L633.6 924.3L634.4 924.3L635.1 924.3L635.8 924.3L636.6 924.3L637.3 924.3L638.1 924.3L638.8 924.3L639.5 924.3L640.3 924.3L641 924.3L641.7 924.3L642.5 924.3L643.2 924.3L643.9 924.3L644.7 924.3L645.4 924.3L646.1 924.3L646.9 924.3L647.6 924.3Z" fill="#e06a72" fill-opacity="0.7"/><path d="M581.5 924.3L582.2 924.3L583 924.3L583.7 924.3L584.4 924.3L585.2 924.3L585.9 924.3L586.6 924.3L587.4 924.3L588.1 924.3L588.8 924.3L589.6 924.3L590.3 924.3L591 924.3L591.8 924.3L592.5 924.3L593.3 924.3L594 924.3L594.7 924.3L595.5 924.3L596.2 924.3L596.9 924.3L597.7 924.3L598.4 924.3L599.1 924.3L599.9 924.3L600.6 924.3L601.3 924.3L602.1 924.3L602.8 924.3L603.5 924.3L604.3 924.3L605 924.3L605.7 924.3L606.5 924.3L607.2 924.3L607.9 924.3L608.7 924.3L609.4 924.2L610.1 924.1L610.9 923.8L611.6 923.3L612.3 922.4L613.1 920.9L613.8 918.6L614.5 915.2L615.3 910.8L616 905.3L616.8 899.2L617.5 893.1L618.2 887.7L619 883.9L619.7 882.3L620.4 883L621.2 885.5L621.9 889.6L622.6 894.6L623.4 900L624.1 905.4L624.8 910.3L625.6 914.3L626.3 917.5L627 919.9L627.8 921.6L628.5 922.7L629.2 923.4L630 923.8L630.7 924.1L631.4 924.2L632.2 924.2L632.9 924.3L633.6 924.3L634.4 924.3L635.1 924.3L635.8 924.3L636.6 924.3L637.3 924.3L638.1 924.3L638.8 924.3L639.5 924.3L640.3 924.3L641 924.3L641.7 924.3L642.5 924.3L643.2 924.3L643.9 924.3L644.7 924.3L645.4 924.3L646.1 924.3L646.9 924.3L647.6 924.3" fill="none" stroke="#ff2a2a" stroke-width="1.3" stroke-linejoin="round"/>
<path d="M581.5 947L582.2 947L583 947L583.7 947L584.4 947L585.2 947L585.9 947L586.6 947L587.4 947L588.1 947L588.8 947L589.6 947L590.3 947L591 947L591.8 947L592.5 947L593.3 947L594 947L594.7 947L595.5 947L596.2 947L596.9 947L597.7 947L598.4 947L599.1 947L599.9 947L600.6 947L601.3 947L602.1 947L602.8 947L603.5 947L604.3 947L605 947L605.7 947L606.5 947L607.2 947L607.9 946.9L608.7 946.9L609.4 946.7L610.1 946.5L610.9 946L611.6 945.1L612.3 943.6L613.1 941.5L613.8 938.3L614.5 934.2L615.3 929.1L616 923.3L616.8 917.4L617.5 912L618.2 907.9L619 905.8L619.7 905.7L620.4 907.2L621.2 910L621.9 913.7L622.6 918.2L623.4 922.9L624.1 927.5L624.8 931.8L625.6 935.6L626.3 938.7L627 941.2L627.8 943.1L628.5 944.4L629.2 945.4L630 946L630.7 946.4L631.4 946.7L632.2 946.8L632.9 946.9L633.6 947L634.4 947L635.1 947L635.8 947L636.6 947L637.3 947L638.1 947L638.8 947L639.5 947L640.3 947L641 947L641.7 947L642.5 947L643.2 947L643.9 947L644.7 947L645.4 947L646.1 947L646.9 947L647.6 947Z" fill="#9ccaf3" fill-opacity="0.85"/><path d="M581.5 947L582.2 947L583 947L583.7 947L584.4 947L585.2 947L585.9 947L586.6 947L587.4 947L588.1 947L588.8 947L589.6 947L590.3 947L591 947L591.8 947L592.5 947L593.3 947L594 947L594.7 947L595.5 947L596.2 947L596.9 947L597.7 947L598.4 947L599.1 947L599.9 947L600.6 947L601.3 947L602.1 947L602.8 947L603.5 947L604.3 947L605 947L605.7 947L606.5 947L607.2 947L607.9 946.9L608.7 946.9L609.4 946.7L610.1 946.5L610.9 946L611.6 945.1L612.3 943.6L613.1 941.5L613.8 938.3L614.5 934.2L615.3 929.1L616 923.3L616.8 917.4L617.5 912L618.2 907.9L619 905.8L619.7 905.7L620.4 907.2L621.2 910L621.9 913.7L622.6 918.2L623.4 922.9L624.1 927.5L624.8 931.8L625.6 935.6L626.3 938.7L627 941.2L627.8 943.1L628.5 944.4L629.2 945.4L630 946L630.7 946.4L631.4 946.7L632.2 946.8L632.9 946.9L633.6 947L634.4 947L635.1 947L635.8 947L636.6 947L637.3 947L638.1 947L638.8 947L639.5 947L640.3 947L641 947L641.7 947L642.5 947L643.2 947L643.9 947L644.7 947L645.4 947L646.1 947L646.9 947L647.6 947" fill="none" stroke="#3a8ee8" stroke-width="1.2" stroke-linejoin="round"/>
<line x1="620" y1="855.8" x2="620" y2="947" stroke="#222" stroke-width="0.7" stroke-dasharray="1 1"/>
<path d="M588.9 947v2.6M598.1 947v2.6M609.7 947v2.6M628.1 947v2.6M644.1 947v2.6M584.5 947v1.3M586.7 947v1.3M588.9 947v1.3M591.1 947v1.3M593.3 947v1.3M595.5 947v1.3M597.7 947v1.3M599.9 947v1.3M602.1 947v1.3M604.3 947v1.3M606.5 947v1.3M608.7 947v1.3M610.9 947v1.3M613.1 947v1.3M615.3 947v1.3M617.5 947v1.3M619.7 947v1.3M621.9 947v1.3M624.1 947v1.3M626.3 947v1.3M628.5 947v1.3M630.7 947v1.3M632.9 947v1.3M635.1 947v1.3M637.3 947v1.3M639.5 947v1.3M641.7 947v1.3M643.9 947v1.3" fill="none" stroke="#111" stroke-width="0.8"/>
<text transform="translate(588.9 957.5) scale(0.8 1)" font-size="6.3" text-anchor="middle" fill="#333">−10<tspan font-size="4" dy="-2.5">3</tspan></text>
<text transform="translate(598.1 957.5) scale(0.8 1)" font-size="6.3" text-anchor="middle" fill="#333">0</text>
<text transform="translate(609.7 957.5) scale(0.8 1)" font-size="6.3" text-anchor="middle" fill="#333">10<tspan font-size="4" dy="-2.5">3</tspan></text>
<text transform="translate(628.1 957.5) scale(0.8 1)" font-size="6.3" text-anchor="middle" fill="#333">10<tspan font-size="4" dy="-2.5">4</tspan></text>
<text transform="translate(644.1 957.5) scale(0.8 1)" font-size="6.3" text-anchor="middle" fill="#333">10<tspan font-size="4" dy="-2.5">5</tspan></text>
<text transform="translate(615.7 965.6) scale(0.8 1)" font-size="6.3" text-anchor="middle" fill="#333">Comp-FL1-A :: FITC-A</text>
<text transform="translate(638.7 893.4) scale(0.9 1)" font-size="6.8" font-weight="bold" fill="#111">28.4%</text>
<text transform="translate(638.7 899.6) scale(0.85 1)" font-size="6.8" font-weight="bold" fill="#111">Spermine</text>
<text transform="translate(638.7 915.6) scale(0.9 1)" font-size="6.8" font-weight="bold" fill="#ee2222">39.7%</text>
<text transform="translate(638.7 921.7) scale(0.85 1)" font-size="6.8" font-weight="bold" fill="#111">Adagrasib</text>
<text transform="translate(638.7 937.2) scale(0.9 1)" font-size="6.8" font-weight="bold" fill="#3a8ee8">41.8%</text>
<text transform="translate(638.7 943.3) scale(0.69 1)" font-size="6.8" font-weight="bold" fill="#111">Sotorasib+Spermine</text>
</g>
</svg>
</body></html>
